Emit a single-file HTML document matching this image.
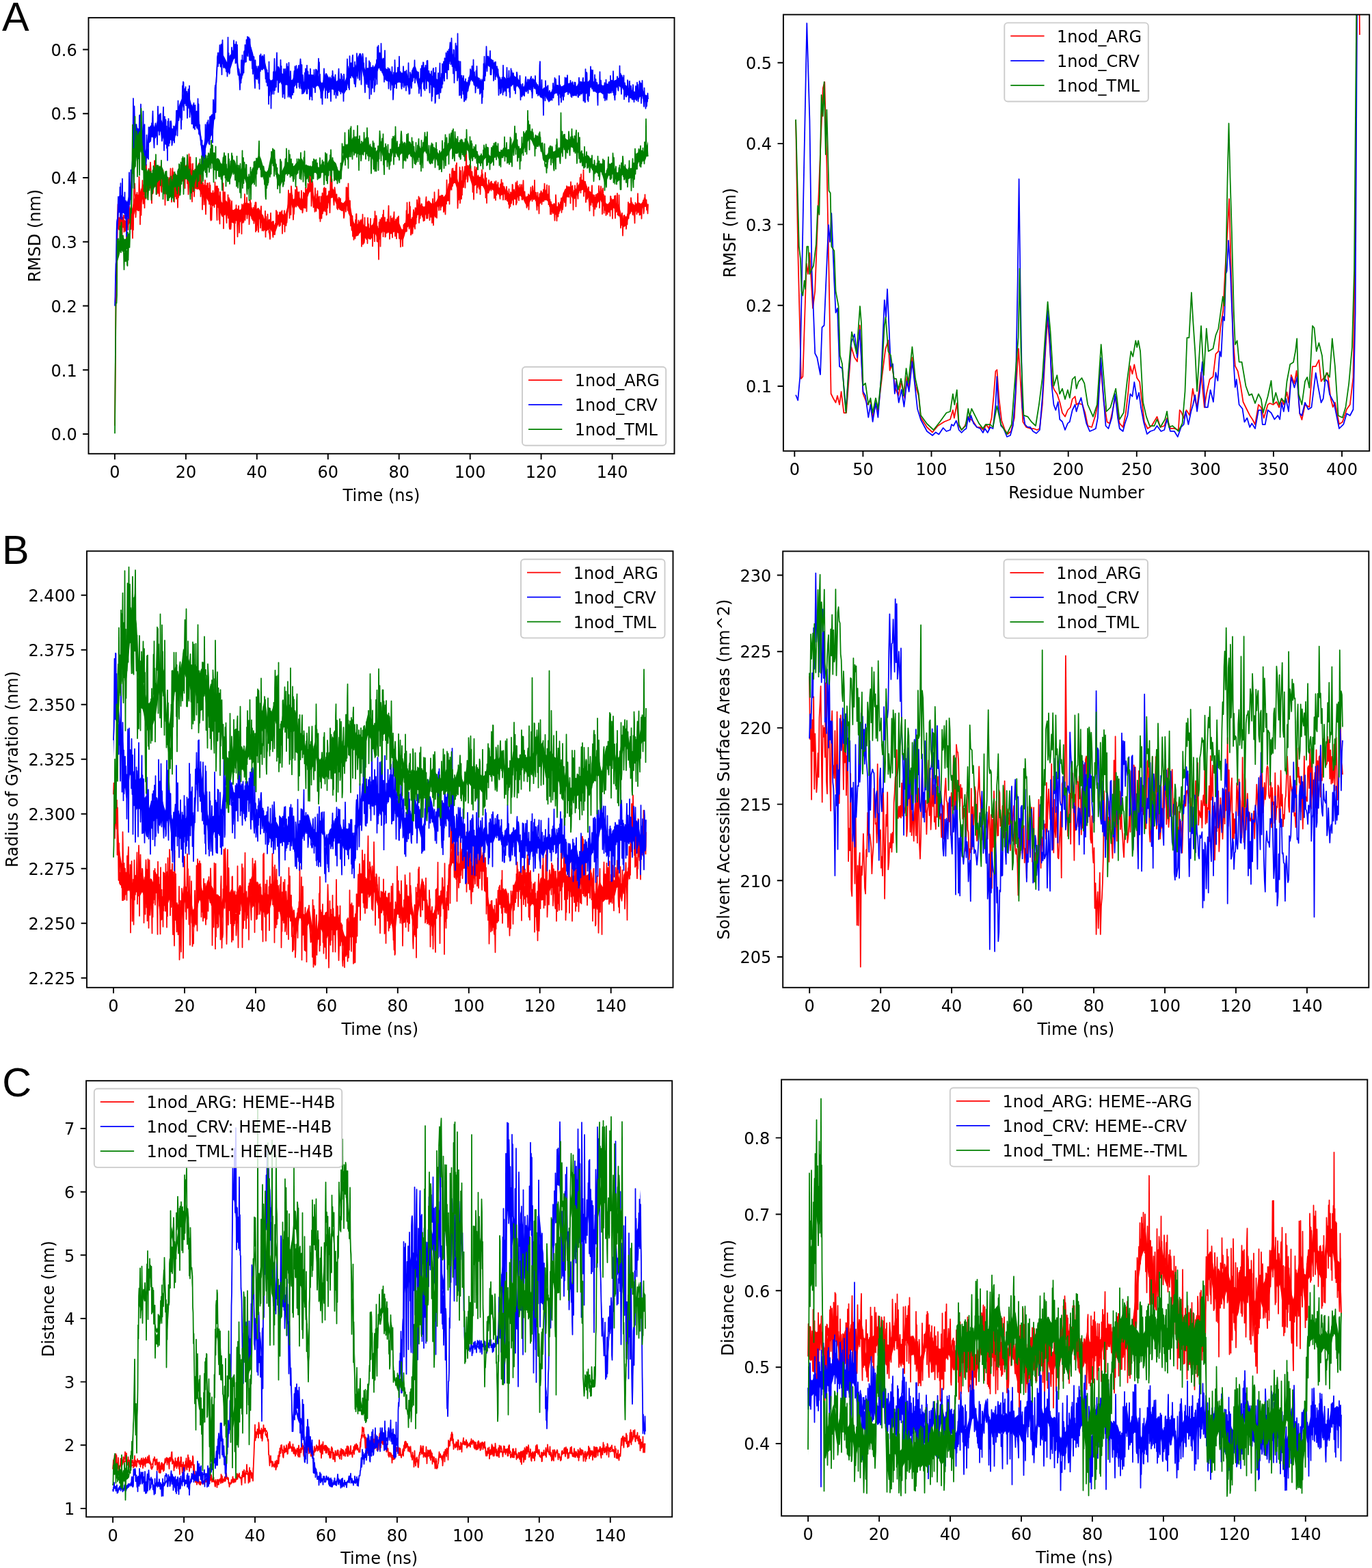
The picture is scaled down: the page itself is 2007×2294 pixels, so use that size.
<!DOCTYPE html><html><head><meta charset="utf-8"><title>MD analysis figure</title><style>html,body{margin:0;padding:0;background:#fff;overflow:hidden}svg{display:block}text{font-family:'DejaVu Sans', sans-serif;fill:#000}</style></head><body>
<svg width="2007" height="2294" viewBox="0 0 2007 2294">
<rect width="2007" height="2294" fill="#fff"/>
<text x="3.0" y="44.5" style="font-family:'Liberation Sans',Arial,sans-serif;font-size:59.4px">A</text>
<text x="2.9" y="824.7" style="font-family:'Liberation Sans',Arial,sans-serif;font-size:59.4px">B</text>
<text x="3.3" y="1603.9" style="font-family:'Liberation Sans',Arial,sans-serif;font-size:59.4px">C</text>
<clipPath id="cAL"><rect x="129.5" y="25.9" width="857" height="637.9"/></clipPath>
<g clip-path="url(#cAL)" fill="none" stroke-width="1.75" stroke-linejoin="round">
<path fill="#ff0000" d="M168 623.2l2-203.8 2-100.7 2 3.7 2 .3 2-2.8 2-.8 2 2.5 2 2.1 2-3.5 2-5.4 2-4.2 2-1.4 2-7.3 2-9.5 2-7.6 2-1.2 2 1.5 2-1.1 2-6.5 2-5.7 2-2.6 2-4 2-.7 2-1.8 2-2.2 2-2.4 2-2 2-1.8 2-1.3 2 .7 2 2.1 2 .5 2-2 2-1 2 2.9 2 5.4 2 2.7 2-1.8 2-1.5 2 1.4 2 .1 2-3.9 2-3.6 2 .8 2 3.5 2 .5 2-4 2-5.2 2-3.3 2-1.1 2-1 2-1.7 2-1.1 2 .3 2 1.2 2 3.5 2 5 2 3.7 2 1.4 2-.3 2 .4 2 1.9 2 4.6 2 4.1 2 1.9 2 .2 2 .7 2 3.5 2 4.6 2 2.1 2 .7 2 .6 2-2.3 2-.7 2 .1 2 5 2 4.8 2 5.9 2 1.8 2-2.5 2-1.7 2 1.8 2 3.9 2 3.9 2 2.7 2 1.6 2 .1 2-1.7 2-.9 2 1.6 2 1.8 2-1.1 2-4.1 2-4.8 2-1.9 2 1.3 2 .7 2-.6 2 1.5 2 3.9 2 3.7 2 2.2 2-.4 2-2.9 2-1.5 2 3.1 2 4.1 2 3.2 2 4.2 2 4.6 2 1.5 2-2.5 2-1.6 2 1.6 2 3.9 2 3.5 2-1.1 2-5.2 2-5.9 2-4.1 2-1.4 2 .7 2 1.4 2 1.9 2-4.7 2-7.1 2-10.5 2-9 2 .6 2 5.7 2 .9 2-3.4 2-2.4 2 1.4 2 3.5 2 1.9 2-.8 2-3.8 2-5.4 2-4.5 2-4.4 2-5.8 2-2.7 2 5.2 2 10.3 2 8 2 2 2-.7 2 1.8 2 3.7 2 2.3 2-.1 2-2.9 2-3.8 2-3.2 2-4.1 2-4.9 2-2.3 2-.7 2 1.1 2 4 2 5.5 2 4.1 2 2.6 2 2.5 2 1.7 2-.3 2-2 2-2.7 2-4.3 2-.4 2 8.4 2 13.2 2 10.9 2 6.1 2 2.7 2-.6 2-1.4 2-2.7 2-1.7 2 2.1 2 4 2 2.4 2 .3 2 .4 2 1.6 2 .7 2-2.8 2-5.4 2-2.1 2 3.7 2 4.8 2 1.8 2-3.6 2-5.9 2-3.2 2 1.5 2 1.7 2-.6 2-.2 2 1.4 2 1.2 2-.9 2-2.1 2-.3 2 1.2 2 .6 2 1.9 2 5 2 4.2 2-1 2-6.1 2-7.7 2-5.4 2-.4 2 3.3 2 2.3 2-2.6 2-6.7 2-6.8 2-3.8 2-1.2 2-.1 2 .2 2 1.2 2 1.5 2-1 2-4.2 2-3.7 2 .2 2 2.7 2 1.5 2-.3 2-.9 2-2 2-4.2 2-3.7 2-1.1 2 1.3 2 1.2 2-1.1 2-3.2 2-6.1 2-8 2-6.5 2-4.9 2-3.9 2-4.5 2-.1 2 6.7 2 8.3 2 4.8 2-.2 2-6.5 2-11 2-8.3 2-2.7 2 .5 2 1.5 2 6.3 2 6.5 2 3.5 2-.6 2-1.7 2-.2 2 1.2 2 .6 2-.6 2 .2 2 3.4 2 5.6 2 3.1 2 .6 2-1.7 2-2.3 2 .7 2 1 2 1.6 2 1.6 2 1.1 2 1.3 2 .7 2-1.3 2-1.8 2 1.3 2 5.7 2 4.2 2 1.2 2-.4 2-1.1 2-1.9 2-1.1 2 0 2-.9 2-2.5 2-2 2 .3 2 2.5 2 4.1 2 4.3 2 2.9 2 .2 2-2.7 2-3.9 2-2.7 2-1.2 2 .4 2 3.6 2 5.2 2 1.7 2-3.1 2-3.5 2-1.5 2 .4 2 .4 2-.2 2 2.8 2 6.4 2 5.7 2 2.6 2 .6 2 .7 2 1.4 2-.1 2-2.7 2-2.8 2-7.1 2-6.6 2-4.9 2-2.2 2-2.8 2 .2 2 .8 2 3.3 2 3.3 2-.1 2-3 2-3.4 2-3.2 2-2.7 2-.9 2-.6 2-1.7 2 .5 2 5.3 2 6 2 2.9 2 1.3 2 1.6 2 2.7 2 2.8 2 .7 2-3.1 2-4.6 2-.8 2 4 2 4.8 2 3.9 2 3.6 2 2.3 2-.3 2-1.3 2-1.9 2-1.9 2 .3 2 2.6 2 1.8 2 .4 2 3.5 2 8.6 2 8.9 2 2.7 2-1.4 2-3.2 2-4.9 2-6.8 2-5.5 2-1.9 2 1.7 2 .6 2-1.7 2-2.1 2-.4 2 1.3 2 .1 2-2.8 2-3.8 2-2.1 2 6.7 2 8.2 0 9.5 -2-7.8 -2-6.3 -2 2.2 -2 3.8 -2 3 -2-.2 -2-1.1 -2 .5 -2 2.2 -2 1.9 -2-.6 -2-1.5 -2 2 -2 5.3 -2 6.8 -2 4.8 -2 3 -2 1.2 -2-2.7 -2-8.9 -2-8.5 -2-3.4 -2-.3 -2-1.7 -2-2.5 -2-.1 -2 1.9 -2 2 -2 1.5 -2 .4 -2-2 -2-3.5 -2-3.8 -2-4.6 -2-3.8 -2 .9 -2 4.6 -2 3.1 -2-.8 -2-2.9 -2-2.7 -2-1.8 -2-1.3 -2-3 -2-6.1 -2-5.4 -2-.6 -2 1.6 -2 .5 -2 .8 -2 2.5 -2 3.1 -2 3.3 -2 2.9 -2 0 -2-3.4 -2-3.4 -2-.9 -2-.3 -2 3 -2 2.4 -2 5.1 -2 6.8 -2 7.4 -2 2.7 -2 2.7 -2 .1 -2-1.5 -2-.7 -2-.7 -2-2.7 -2-5.7 -2-6.4 -2-2.8 -2 .2 -2-.4 -2-.4 -2 1.6 -2 3.6 -2 3.1 -2-1.6 -2-5.2 -2-3.5 -2-.4 -2 1.2 -2 2.6 -2 3.9 -2 2.8 -2-.2 -2-2.9 -2-4.4 -2-4 -2-2.5 -2-.3 -2 2 -2 2.5 -2 .9 -2 0 -2 1.1 -2 1.9 -2 1.1 -2 .4 -2-1.2 -2-4.3 -2-5.8 -2-1.6 -2 1.7 -2 1 -2-.9 -2-1.4 -2-1.4 -2-1.8 -2-1.8 -2-1.2 -2-.9 -2 3.4 -2 2.8 -2 .6 -2-2 -2-5.6 -2-3.5 -2-.3 -2 .6 -2-.7 -2-1.2 -2 .1 -2 1.7 -2 .5 -2-3.5 -2-6.7 -2-6.3 -2 .4 -2 1.4 -2 4.6 -2 8.2 -2 10.8 -2 6.4 -2 .1 -2-4.8 -2-8.5 -2-6.8 -2-.1 -2 4.5 -2 3.8 -2 4.3 -2 5.9 -2 7.4 -2 5.6 -2 2.6 -2 .4 -2-1.7 -2-1.9 -2 .8 -2 3.9 -2 4.2 -2 2.2 -2 1 -2 .4 -2-1.4 -2-2.6 -2-.1 -2 3.8 -2 4.4 -2 1.1 -2-1.4 -2-1.1 -2-.2 -2 .2 -2 1.4 -2 3.9 -2 6.8 -2 6.9 -2 2.7 -2-2.2 -2-3.2 -2 .5 -2 5.5 -2 7.8 -2 6.1 -2 1.1 -2-4.1 -2-5 -2-1.7 -2-.5 -2-1.2 -2 .5 -2 2.1 -2 1 -2-1.1 -2-1.3 -2 .3 -2 .6 -2-1.5 -2-1.4 -2 3.2 -2 6 -2 3.5 -2-1.8 -2-4.9 -2-3.8 -2 2 -2 5.5 -2 2.8 -2-.7 -2-1.5 -2-.3 -2-.3 -2-2.3 -2-3.9 -2-2.1 -2 1.8 -2 2.8 -2 1.4 -2 .7 -2-3.5 -2-6.9 -2-11.6 -2-14 -2-9.1 -2-.4 -2 3.6 -2 1.9 -2 2.2 -2 .6 -2-1.4 -2-2.3 -2-2.4 -2-3.8 -2-5.3 -2-3.8 -2-.8 -2 .9 -2 2.6 -2 4.9 -2 4.1 -2 3.4 -2 3.8 -2 2.9 -2 .2 -2-2.2 -2-3.7 -2-1.8 -2 .8 -2-1.9 -2-8 -2-10.2 -2-5.2 -2 2.8 -2 5.9 -2 4.4 -2 4.5 -2 5.5 -2 3.9 -2 .8 -2-2.1 -2-3.6 -2-1.6 -2 2.3 -2 3.3 -2-1.1 -2-5.9 -2-.7 -2 8.8 -2 10.3 -2 7 -2 4.5 -2-1.8 -2-1.4 -2-.6 -2 1.5 -2 4.2 -2 5.9 -2 5.3 -2 1.2 -2-3.4 -2-3.8 -2-1.6 -2 1.6 -2 2.6 -2-1.4 -2-4.6 -2-4.1 -2-3 -2-3.9 -2-2.9 -2 1.7 -2 3.2 -2 .7 -2-2 -2-3.5 -2-3.6 -2-1.3 -2 .9 -2-.5 -2-1.1 -2 2.2 -2 5 -2 4.3 -2 1.4 -2-1.6 -2-1.4 -2 1.2 -2 1.9 -2 .1 -2-1.5 -2-2.5 -2-3.7 -2-3.7 -2-1.6 -2 1.9 -2 2.6 -2-1.5 -2-5.8 -2-4.6 -2-5.8 -2-.9 -2 0 -2 2.3 -2-.6 -2-.7 -2-2.1 -2-4.6 -2-3.5 -2-.7 -2-.2 -2-1.9 -2-4.1 -2-4.6 -2-1.9 -2-.4 -2 .3 -2-1.4 -2-3.7 -2-5 -2-3.5 -2-1.3 -2-.3 -2 1 -2 1.7 -2 .9 -2 1 -2 3.2 -2 5.2 -2 3.9 -2-.5 -2-3.5 -2-.9 -2 3.6 -2 3.8 -2-.2 -2-1.5 -2 1.5 -2 1.7 -2-2.7 -2-5.4 -2-3 -2 1 -2 1.9 -2-.5 -2-2.3 -2-.7 -2 1.2 -2 1.8 -2 1.9 -2 2.3 -2 2.2 -2 1.7 -2 .7 -2 6.2 -2 4.7 -2 7.9 -2 7.4 -2 .7 -2-1.9 -2 .9 -2 6.2 -2 7.1 -2 4.8 -2 0 -2 2.8 -2 3.9 -2 2.1 -2-1.5 -2-1.8 -2 1.4 -2 3.4 -2 .4 -2-3.1 -2 97.7 -2 197.7z"/>
<path stroke="#ff0000" d="M168 622.7l.5-55.3 .5-52.8 .5-67 .5-16 .5-37.7 .5-22.5 .5-21.7 .5-29.1 .5-21.6 .5 29.4 .5 3.7 .5 3.2 .5-16.8 .5 15.8 .5-1.7 .5-23 .5-5.4 .5 29.3 .5-16.7 .5 20.6 .5 11.5 .5-29.6 .5-1.2 .5 7.2 .5 7.4 .5-17.8 .5 24.4 .5-1.9 .5-2.7 .5-11.1 .5 14.2 .5-.4 .5-19.9 .5 31.5 .5-24.5 .5 6 .5-10.6 .5 8.7 .5 7.7 .5-23.7 .5-11.5 .5 13.3 .5-11.7 .5 6 .5 7.7 .5 .5 .5 18.4 .5-31.7 .5 17.8 .5-14.2 .5 27.2 .5 14 .5-33.5 .5 21.4 .5-39.8 .5-21.7 .5 2.7 .5-9.1 .5 10.8 .5 12.7 .5 26 .5-9 .5-4.6 .5-17.1 .5-5.5 .5 15.2 .5 2.5 .5 2.8 .5 2.5 .5-9.7 .5-36.4 .5 15.3 .5 4.8 .5 49.6 .5-45.1 .5 19.1 .5 12.5 .5-23.3 .5-14.7 .5 .6 .5-13.4 .5 21.6 .5 12.3 .5-10.1 .5 1.8 .5-2.3 .5 16.8 .5-39.1 .5 11 .5 7.5 .5 7.3 .5-49.9 .5 24.5 .5 4 .5-12 .5 25.8 .5-9.3 .5-9.2 .5-18 .5 3.7 .5 4.2 .5 19.7 .5-24.2 .5-12.6 .5 8.2 .5 11.7 .5 31.6 .5 8.4 .5-39.9 .5 19.8 .5 6.1 .5-2.1 .5-20.4 .5-17.2 .5 11.3 .5-19.8 .5 29.9 .5 7.8 .5-37.9 .5 26.7 .5 5.5 .5 14.3 .5 2.4 .5-7.7 .5-21 .5 4.8 .5 22.7 .5-26.3 .5 7.8 .5 22.7 .5-21.3 .5-22.3 .5 15.1 .5 13.2 .5-12.2 .5 19.6 .5 2.1 .5-27.4 .5 3 .5 6.9 .5-14.7 .5 24.4 .5-6.7 .5 15.4 .5-19.1 .5-3.3 .5 40.3 .5-39.5 .5 4.1 .5-2.5 .5 5.7 .5-9.7 .5 12.2 .5-10.2 .5 3.9 .5 11.4 .5 5.2 .5-3.1 .5-17.3 .5 17.2 .5-7.2 .5 .4 .5-24 .5 35.1 .5-12.7 .5 26.5 .5-17 .5-27.3 .5-4.9 .5 36.5 .5-31.1 .5 22.7 .5-14.9 .5 36 .5-29.8 .5 22.1 .5-1.9 .5-25.9 .5 2.9 .5 28 .5-21.6 .5-12.8 .5 31.2 .5 16 .5-35.6 .5 20.9 .5-24.7 .5 21.7 .5-25.4 .5 22.5 .5-13.2 .5-12.2 .5 5.3 .5-12.6 .5-9.6 .5 .5 .5 14.8 .5-15.4 .5 22.6 .5 1.3 .5-1 .5-15 .5 8.2 .5-1.5 .5 20.2 .5-33 .5 6 .5 1.9 .5 1 .5-9.6 .5 1.7 .5 25.1 .5-25.5 .5 24 .5 17.4 .5-11.5 .5-47.4 .5 40.2 .5-4.2 .5 1.4 .5-33.1 .5 37.4 .5-27.3 .5 38.2 .5-2.2 .5 19.2 .5-39.3 .5-16.5 .5 40.9 .5-1.7 .5-18.6 .5 27.7 .5-9.8 .5-30.2 .5 14.8 .5-1.3 .5 5.2 .5 4.6 .5-13.9 .5 7.6 .5 12.1 .5-10.3 .5-2.9 .5-.2 .5 3.3 .5-27.8 .5 32.8 .5-17.6 .5 18.6 .5-23.3 .5 38.3 .5-9.4 .5-23.4 .5 25.7 .5-14.5 .5 40.6 .5-19.6 .5-19.4 .5 16.2 .5-3.7 .5 19.2 .5-13 .5 2.5 .5-25.3 .5 29.6 .5 20.3 .5-22.4 .5-10.1 .5 3.8 .5-16.5 .5 18.6 .5-18.7 .5 18.9 .5-5.5 .5-5.7 .5 22.9 .5-31.3 .5 23 .5-19.4 .5 49.2 .5 2.4 .5-17.4 .5 16.5 .5-20 .5-.6 .5-14.8 .5-7.1 .5 15.9 .5-10.5 .5 1.1 .5 17.4 .5-14.3 .5-22.3 .5 20.9 .5-8.9 .5 7.2 .5-13.3 .5 37.6 .5 12 .5-49.6 .5 30.4 .5 .3 .5-27.1 .5 22.1 .5 23.5 .5-8.8 .5 14.6 .5-46.5 .5 8.9 .5 19.4 .5 2.5 .5-4.5 .5-6 .5 .2 .5-3.2 .5 17.8 .5-47.8 .5 66.1 .5-36.6 .5-15.9 .5 32.3 .5-33.1 .5 29.5 .5-13.3 .5 16.6 .5 3.5 .5 8.9 .5-28.9 .5 4.3 .5 5.5 .5-22 .5 33.8 .5-6.5 .5-22.9 .5 42.3 .5 3.3 .5-42.6 .5 31.1 .5 11.5 .5-6.1 .5-28.6 .5-6.2 .5 20.8 .5-5.8 .5 8 .5-1.5 .5 9.9 .5-17.4 .5 6 .5 42.8 .5-43.3 .5 13 .5-7.5 .5-1.4 .5-17.7 .5 22.1 .5-8.7 .5 13.6 .5 19.2 .5-27.9 .5 9.3 .5-26.5 .5 17.6 .5 21.7 .5-24.2 .5-8.8 .5 12.2 .5-6.4 .5-1.7 .5-2.9 .5 33.4 .5-43.1 .5 5.5 .5-3.6 .5 25 .5-23.1 .5 21.9 .5-17 .5-3.1 .5-20.6 .5 38.1 .5-9.3 .5-1.5 .5-7 .5-3.8 .5-11.6 .5 30.9 .5-9.5 .5-8.8 .5-3.9 .5 10 .5-3 .5 23.6 .5-11.6 .5-18.1 .5-6.1 .5 12.5 .5-8.1 .5 14.2 .5 5.4 .5 4 .5-2 .5-7.1 .5 11.1 .5-18.7 .5 11.2 .5 12 .5-6.5 .5-19.8 .5 1.6 .5-6 .5 42.9 .5-43 .5 17.1 .5 23.8 .5-10.4 .5 2.2 .5-23.1 .5 15 .5 18.7 .5-27.9 .5 6.1 .5-7.9 .5 4.7 .5 5.8 .5 13.2 .5-26.3 .5-5.4 .5 17.9 .5 2.5 .5 15.3 .5-7.2 .5-14.8 .5 14.9 .5 7.5 .5-8.6 .5-6.1 .5 13 .5-10.8 .5-16.6 .5 38 .5-29.9 .5 11.3 .5 .1 .5-.6 .5 0 .5-14.1 .5 21.9 .5-6.5 .5-.4 .5 11.6 .5 .3 .5 3 .5 6.5 .5-15.9 .5-22.3 .5 20.7 .5-1.3 .5 1.7 .5-6.5 .5-2.2 .5 20.1 .5 2.8 .5-23.1 .5 19 .5-8.1 .5-2.9 .5 11.3 .5-9.4 .5-6.9 .5 5.4 .5-24.5 .5 14.2 .5 .1 .5-12.1 .5 16.2 .5-.3 .5-10.8 .5 3.8 .5 8.6 .5 3.6 .5-20.6 .5 11.9 .5 7.6 .5-11.8 .5-8.1 .5 .3 .5 5.2 .5-7.5 .5 33.6 .5-27.8 .5 10.7 .5-1.8 .5 5.4 .5-10.6 .5-9.4 .5 30.8 .5-19.8 .5 1 .5-.4 .5 10.3 .5-7 .5 2.7 .5-6 .5-9.8 .5-1.5 .5-13.9 .5-16.2 .5 16.5 .5-11.9 .5 36.2 .5-10.1 .5-5.7 .5-20.6 .5 31.3 .5-41.8 .5 7.3 .5 6.5 .5-.6 .5 13.8 .5 1.6 .5 20.5 .5-10.6 .5 2.4 .5-10.1 .5-7.5 .5-7.3 .5-10.8 .5 6.7 .5 5.1 .5 13.2 .5-29.7 .5 3.8 .5 19.4 .5-14.9 .5 17.6 .5-8.3 .5-3.2 .5-6.3 .5 16 .5-7 .5 2 .5 .1 .5 10.5 .5-.5 .5-23.1 .5 18.9 .5 6.4 .5 7.2 .5-4 .5-8.1 .5-17.9 .5 3.3 .5 19.3 .5-21.2 .5 19.8 .5 1.8 .5-29.8 .5 17.3 .5-7.8 .5 25.2 .5-15.6 .5-17.5 .5 9.9 .5-17.6 .5 7.9 .5 2.8 .5-2.2 .5 .7 .5-15.6 .5-12 .5 18 .5-5.9 .5 3.5 .5 35.8 .5-9.8 .5-13.7 .5-12.6 .5 4.3 .5 22.6 .5 11 .5-14.1 .5 6.9 .5 2.9 .5 10.8 .5-34.6 .5 24.6 .5 2.9 .5 6.3 .5-6.9 .5-18 .5 6.1 .5-11 .5 20.7 .5 .6 .5 4.5 .5-16.6 .5-1.1 .5 32.4 .5-14.9 .5 19.2 .5-14.8 .5-21.8 .5 27 .5 5.2 .5-19.7 .5-17.4 .5 30 .5-9.9 .5 4.2 .5-30.8 .5 31.2 .5-33 .5 15.7 .5 19.4 .5-32.4 .5-1.3 .5 15.6 .5 23.4 .5-1.2 .5-26.6 .5 17.6 .5-5.9 .5-4.8 .5-.2 .5-13.7 .5 16.3 .5 1.8 .5 13.3 .5-16.6 .5-37 .5 12.1 .5 17 .5-3.3 .5-21.6 .5 19.1 .5-2.4 .5 3.6 .5-.5 .5 11.8 .5 6.6 .5-7.7 .5-18.2 .5 4 .5 3.5 .5 7.8 .5-2.5 .5 2.1 .5-4.7 .5 20.5 .5-.2 .5 1.9 .5-10 .5 6.1 .5-13.3 .5-.4 .5 5.4 .5 11.9 .5-6.7 .5-9.2 .5 12.7 .5 3.7 .5-2.2 .5-7.9 .5 7.2 .5-4.7 .5 .7 .5 2 .5 7.6 .5 9.6 .5-3.2 .5-9.4 .5-9.9 .5 .3 .5-.3 .5 13.2 .5-35.5 .5 24.7 .5-24.3 .5 19.7 .5 13.5 .5-24.3 .5-15 .5 40.3 .5 3.9 .5-9.3 .5 11.4 .5-21.2 .5 26.7 .5 10.1 .5-9.3 .5-.9 .5 15.8 .5 1.3 .5-21.4 .5 29.8 .5-5.9 .5-5.9 .5 16.9 .5-3.7 .5-1.3 .5-16.5 .5 19.5 .5-27.1 .5 14 .5-22.5 .5-.3 .5 30.3 .5-7.7 .5 2.1 .5 6.8 .5-4 .5-18.1 .5 12.9 .5-2.7 .5-7.1 .5 4.9 .5-4 .5-4.3 .5 4.3 .5 8.2 .5 26.1 .5-39.8 .5 19.6 .5-26.7 .5 43.7 .5-25.9 .5 7.5 .5 16.7 .5-3.4 .5-34 .5 28.8 .5-10.7 .5 11.9 .5-6.4 .5 8 .5-6.1 .5-6 .5 18.3 .5-37.4 .5 15.7 .5-6.8 .5 11.6 .5-3.5 .5 4.3 .5-4.4 .5 .4 .5-16.2 .5 21.7 .5 4.1 .5-13.2 .5-1.9 .5-.9 .5 30.6 .5-22.1 .5 1.2 .5-10.5 .5-3.5 .5-5.5 .5 33.4 .5-44 .5 28.3 .5-3.3 .5-2 .5-16.7 .5 5.8 .5 31.8 .5-22.1 .5 22.7 .5-2.3 .5-.9 .5 29 .5-54.3 .5 9.5 .5 15 .5-28.5 .5 39.4 .5-32.5 .5 5.3 .5-14.8 .5 18.1 .5-16.2 .5 6.1 .5-12.6 .5 32.2 .5-38.6 .5 29.2 .5-2.4 .5 3.3 .5-19.5 .5 28.5 .5-.8 .5-11 .5 2 .5-6.7 .5 10.7 .5-20.1 .5 18.5 .5-2 .5-24.5 .5-11.8 .5 29.8 .5-.1 .5 19 .5-15.2 .5-7.1 .5-11.3 .5 17.1 .5-6.6 .5-7.1 .5 12.8 .5 15.2 .5-13.4 .5-15.7 .5 17.7 .5-19.3 .5-6.6 .5 27.2 .5-13.8 .5 22 .5-10.3 .5-14.4 .5 13.8 .5 14.4 .5-19.2 .5-11.3 .5 5.4 .5-1.9 .5-4.6 .5-1.1 .5 22.8 .5 9.7 .5-18.1 .5 16.1 .5 2.9 .5 11.4 .5-22.8 .5-.9 .5 10.9 .5-3.5 .5 2.9 .5 12.6 .5-22.5 .5 7.4 .5-16.4 .5 9.1 .5-8.2 .5-2.9 .5 4.9 .5-4.8 .5 8.3 .5 3.6 .5-30.7 .5 29.9 .5-41.8 .5 30.1 .5 5.2 .5-17.3 .5 5.3 .5-6.5 .5 21.5 .5-38.9 .5 17.4 .5-11 .5 27.2 .5 14.4 .5-.8 .5-6.3 .5-5.3 .5-13 .5 23.5 .5-8.5 .5-19.3 .5-7 .5 6.1 .5 18.9 .5 .2 .5 2.6 .5-30.6 .5 3.5 .5 19.8 .5-15.1 .5 5.7 .5-25.7 .5 10.9 .5 3.9 .5-4.3 .5-.9 .5-14.5 .5 38.6 .5-17.6 .5-18.9 .5 29.9 .5-11.8 .5 7.7 .5-10.5 .5-6.7 .5 .5 .5 13.2 .5 5.4 .5-2.9 .5 2.2 .5 6.8 .5-10.3 .5 8.3 .5 1.1 .5-9.7 .5-4.8 .5-5 .5-9.8 .5-5.1 .5 31.4 .5-16.2 .5-7.1 .5 23.2 .5-7.5 .5-10.6 .5 10.5 .5-13.2 .5 6.5 .5 17 .5-7.9 .5-14.1 .5 11.4 .5 6 .5-13.9 .5-3 .5 25.5 .5-23.9 .5-11.3 .5 16 .5 22.6 .5-17.6 .5 3.4 .5-34.1 .5 17.4 .5 18.7 .5-17.8 .5 18 .5-9.7 .5-1.8 .5 12.8 .5-24.5 .5-.8 .5 5 .5 .2 .5-21.3 .5 30.4 .5-11 .5-4.3 .5 8 .5-10.9 .5 17.6 .5-12 .5 7.8 .5-17.4 .5 7.3 .5 7.9 .5-14.9 .5 3.4 .5 7.1 .5 13.8 .5-4.4 .5 1.5 .5-7.8 .5 6.9 .5 7.3 .5-18.2 .5 2.3 .5 .6 .5-35.1 .5 23 .5 5 .5 2.5 .5-16.3 .5 15.7 .5-23.9 .5 4.7 .5 24.5 .5-43.8 .5 16.7 .5-2.1 .5-.4 .5-7.6 .5 16.4 .5-26 .5-4.8 .5 25.2 .5-25.8 .5 21.7 .5-6.3 .5-11.4 .5 4.4 .5 3.4 .5 8.2 .5-15.3 .5 7.4 .5-16.7 .5 19.1 .5-22.5 .5 30.2 .5-4 .5 40.2 .5-10.2 .5-20 .5 17.9 .5-9 .5-20.9 .5-17.8 .5 52.6 .5-11.2 .5-36.2 .5 38.4 .5 2.8 .5-26.2 .5 20.3 .5-41.1 .5 20.3 .5 1 .5 8.7 .5-8.5 .5-5 .5 3.3 .5-20.3 .5 31.1 .5-28.4 .5 15.6 .5-41.9 .5 26.4 .5 10.9 .5-2.1 .5 10.9 .5-3.7 .5-19.4 .5 12.4 .5-4.2 .5-8.4 .5-1.8 .5 16.4 .5-6.9 .5-7.6 .5 15.9 .5 5 .5 .2 .5-13 .5 7.8 .5 22.2 .5-23 .5 5 .5 28.7 .5-21.6 .5-9.8 .5-16.5 .5 24.5 .5-19.3 .5 14.8 .5-9.6 .5-9.1 .5 37.1 .5-19.5 .5 11.7 .5-1.7 .5-16.2 .5 9.5 .5-4.7 .5 15 .5-5.8 .5-8.8 .5 22.6 .5-13 .5-.8 .5-14.3 .5 13.3 .5-21.2 .5 21.9 .5-15.5 .5 13.2 .5-4.5 .5 6.7 .5 2.7 .5-3.5 .5 1.4 .5-14.9 .5-3.3 .5 36.8 .5-7.1 .5-21.7 .5 36.5 .5-27.3 .5 12.6 .5-1 .5-3.4 .5 4.3 .5-18.8 .5 11.6 .5-2.6 .5 2.2 .5-3.7 .5-3.6 .5-1.2 .5 12.7 .5-13.3 .5 9.7 .5 .1 .5-3.3 .5 4.4 .5 1.3 .5-8.3 .5 7.4 .5 13.2 .5-23.9 .5 6.8 .5-3.4 .5 23.3 .5-27.9 .5 12.2 .5 8.2 .5-15 .5 6.5 .5-4.6 .5-5.2 .5 11.3 .5 5.3 .5-7.5 .5 5.3 .5 4.9 .5 4.7 .5-21.6 .5 16.5 .5-11.4 .5-11.8 .5 9.5 .5 12.4 .5-3.5 .5-13.4 .5 24.7 .5-11.2 .5-4.2 .5-3.9 .5 9.8 .5-6.4 .5 15.8 .5-6.2 .5 4.5 .5-7.6 .5-10 .5 20.2 .5-13.9 .5 9.2 .5 1.3 .5-7.1 .5 16 .5-22.2 .5 27.9 .5-20.1 .5 14.7 .5 3 .5-20.9 .5 .9 .5 15.7 .5-7.7 .5-1.4 .5-18.8 .5 1.3 .5 20.4 .5 8.3 .5-20.8 .5-1.6 .5 10.2 .5 2.5 .5 1 .5-9.6 .5-14.4 .5 32.3 .5-19 .5 16.4 .5-31.6 .5 22 .5-9 .5-6.3 .5 19 .5 2.5 .5-18.4 .5 11.5 .5-16.6 .5 4.3 .5 3.7 .5-.6 .5 9.8 .5-17 .5 21.5 .5 .7 .5-10.3 .5-8.3 .5-9.7 .5 22.6 .5-5.2 .5 9 .5-10 .5 11.1 .5 .3 .5 1.5 .5 3.3 .5 .6 .5 6.8 .5-16.6 .5 14.3 .5-5.6 .5-5.9 .5-6.1 .5 22.6 .5-12.6 .5-8.2 .5 4.6 .5-1.6 .5-5.9 .5-9 .5 13.9 .5-3.6 .5-1.6 .5 11.6 .5-22.2 .5 3.2 .5 10.3 .5 6.3 .5-2.1 .5 1.3 .5-27.4 .5 26.2 .5 .1 .5 3.5 .5-11.9 .5 12.6 .5 6 .5 7.1 .5-11.6 .5-14 .5 13.7 .5 5.7 .5-1.3 .5 12.7 .5-20.6 .5-8.5 .5 2.6 .5 11 .5-14.5 .5-3.1 .5 1.2 .5 18.4 .5-9.4 .5-5.6 .5 10.6 .5-1.7 .5-15.6 .5 17.1 .5-4.9 .5-20.9 .5 8.2 .5 13.3 .5 1.9 .5-7.2 .5-6.7 .5 11.5 .5-19 .5 22.2 .5-5.9 .5 2 .5-4.6 .5 14.9 .5-27.4 .5 15.1 .5 15 .5-10 .5 21.6 .5-8.3 .5-9.9 .5 18.2 .5-10.3 .5 6.8 .5-10.6 .5 .4 .5 12.4 .5-5.5 .5-7.9 .5-1 .5 14.4 .5 10.5 .5-23.9 .5 14.5 .5-28.1 .5 9.6 .5 19.6 .5 8.8 .5-14.2 .5 4.4 .5-3 .5 6.6 .5-20.4 .5 15.5 .5-10.9 .5 .1 .5 2.4 .5-2.6 .5-5.8 .5 2.9 .5-8.3 .5 21 .5-9.1 .5-12 .5 16.8 .5-4.6 .5-8.9 .5-10.8 .5 5.8 .5 1.6 .5 6.4 .5-14.8 .5-4 .5 24.5 .5-8.3 .5-10 .5-11.3 .5 11.4 .5 4.4 .5-2.9 .5 .7 .5-6.8 .5 9.5 .5-15.1 .5 1.5 .5-.2 .5-.9 .5 23.5 .5-31.3 .5 17.9 .5-9.8 .5-1.3 .5 12.8 .5-14.1 .5 13.8 .5 21.6 .5-21.3 .5 5 .5-12.2 .5 11.5 .5-18.6 .5 14.5 .5-3.8 .5 20.2 .5-21.6 .5-3.4 .5-2.7 .5-6.7 .5 17.4 .5 5.6 .5-17.8 .5 9.3 .5-10.7 .5 6.5 .5 .1 .5-18.3 .5 6 .5 16.1 .5-27.2 .5 18.2 .5-3.5 .5-5.8 .5 9.1 .5 2.2 .5 1.8 .5-28.3 .5 38.6 .5-21.2 .5 14.8 .5-11.1 .5-4 .5 5.9 .5 24.4 .5-5.6 .5-17.2 .5 7.4 .5 10.6 .5-3.9 .5-3.8 .5-1.6 .5-8.2 .5 19 .5 4.1 .5 11.8 .5-27.8 .5 12.4 .5-6.6 .5 13.5 .5-13.4 .5-5.2 .5-10.1 .5 25.1 .5-5 .5 10.6 .5-16.5 .5 30.2 .5-30.3 .5 13.3 .5-.3 .5 7.6 .5-12.8 .5-7.7 .5-.9 .5 18.3 .5-8.1 .5 1.6 .5-13.2 .5 8.8 .5-.2 .5 2.8 .5-22.8 .5 6.6 .5 25.6 .5-22.1 .5 3.5 .5-2.6 .5-10.3 .5 5.4 .5 16 .5-9.4 .5 28.7 .5-34.6 .5-3.3 .5 16.7 .5-7.3 .5 26.9 .5-17.1 .5 10.2 .5-18.2 .5 21.4 .5 .6 .5 6.6 .5-9.4 .5 3.4 .5-3.2 .5 7.5 .5-13 .5 9.1 .5-11 .5 11.9 .5-9.7 .5-3.9 .5-.6 .5 19.8 .5-28.9 .5 .3 .5 19.2 .5-15.7 .5 4.3 .5-.7 .5 25.2 .5-27.4 .5-.5 .5 3.2 .5 6 .5 3 .5-17.3 .5 18.2 .5 14.3 .5-33.2 .5 21.9 .5 2.1 .5-5.4 .5-3 .5-18.8 .5 31.4 .5-13.5 .5 1.5 .5 13.4 .5-30.2 .5 21.1 .5 7.6 .5 3.1 .5 1.3 .5 15 .5-12.9 .5 8.7 .5 .1 .5-17.7 .5 7.3 .5 25.7 .5-20 .5 1.9 .5-11 .5 8.3 .5-9.1 .5 5.7 .5 9.7 .5-13.1 .5 1.1 .5 16.7 .5-8.8 .5-.7 .5 3 .5-15.4 .5-.2 .5-16.9 .5 23.8 .5-10.4 .5 .2 .5-11.6 .5 14.6 .5-.9 .5-5.2 .5-17 .5 6.7 .5 7.4 .5-7.1 .5 11.6 .5 6.2 .5-15.6 .5 5.6 .5-4.3 .5 15.6 .5-1.4 .5 12.4 .5-21.1 .5-8.9 .5 11.4 .5-6.4 .5 3.2 .5 8.8 .5-13.9 .5 8.6 .5-25.1 .5 27.8 .5-8.1 .5-3.2 .5-2.3 .5 17.3 .5-16.1 .5 15.7 .5-15.2 .5 4.7 .5 2.4 .5 13.8 .5-15.9 .5-.9 .5-3.5 .5-3 .5-3.5 .5 19.4 .5-3.7 .5-19 .5 6.6 .5-11.7 .5 17.4 .5-.7 .5-3.2 .5-5.8 .5 14.5 .5 .7 .5-4.4 .5 9.3 .5-14.1"/>
<path fill="#0000ff" d="M168 444.8l2-90.2 2-46.8 2-21.7 2 2.1 2-.3 2-.9 2 2.3 2 4.9 2 1.2 2-7.8 2-12.7 2-24.3 2-32 2-21 2-17.3 2 4.6 2 3.3 2-.4 2-2.8 2 4.2 2 13.5 2 18 2-3.4 2-16.4 2-14.5 2-2.3 2-1.8 2 1.4 2 2 2-1 2-7.9 2-6.9 2-.1 2 5.3 2 4.7 2 9.4 2 5 2-2.1 2-4.5 2-1.5 2 .6 2 1.2 2 .2 2-4.3 2-9.6 2-10.8 2-9.5 2-5.4 2-4.2 2-7.5 2-2.3 2-1.1 2-.3 2 7.7 2 4.4 2 7.4 2 3.3 2 5.1 2 4.5 2 1.2 2 5 2 9.4 2 15.3 2 15.2 2 1.1 2-11.9 2-10.3 2-5.3 2-5.2 2-3.7 2-4.1 2-8.5 2-21.8 2-31.8 2-33.6 2 .2 2 .5 2 .6 2 1.9 2 3.3 2 4 2 3.9 2 1.7 2-2.7 2-6.2 2-6.6 2-4.9 2-1.1 2 7.2 2 13.1 2 13.2 2 3.8 2-8.3 2-11.6 2-9.4 2-6.3 2-6.3 2-4.3 2 2.1 2 6.4 2 6.9 2 9.6 2 9.1 2 4.2 2-2 2-7.8 2-7.7 2-2.6 2 3.2 2 7.4 2 9.2 2 8.5 2 6.2 2 2.7 2-.5 2-2.8 2-6.2 2-6.7 2-4.3 2 .2 2 4.7 2 4.7 2 1.4 2-.5 2-.3 2-.1 2 1.4 2 4.2 2 4.4 2-1 2-6.7 2-5.2 2-.3 2 .2 2-.9 2 2.9 2 8 2 5.8 2-2.4 2-6.3 2-2.8 2 .5 2-.1 2 0 2 2 2 1.5 2-1.7 2-2.5 2 1.1 2 5.9 2 5.9 2-.5 2-7.1 2-6.2 2-.1 2 4.3 2 3.2 2 0 2-1.1 2 1 2 3 2 1.4 2-1.8 2-1.9 2 .5 2 2.4 2 2.4 2-.9 2-4.5 2-5.3 2-9.3 2-5.7 2-1 2 2.5 2 2.3 2-1.9 2-6.8 2-8.1 2-4.4 2 1 2 6.5 2 9.6 2 7 2 1.4 2-2.4 2-2.7 2-.2 2 1.4 2-.1 2-2.3 2-4.6 2-6 2-4.7 2-.9 2 4.1 2 6.9 2 5.3 2 2.8 2 1.7 2 .4 2 0 2 2.8 2 3.9 2 .6 2-2 2-1.3 2-.8 2-.4 2 .9 2 1.1 2-.8 2-1.9 2 .1 2 4.9 2 5.6 2-1.2 2-7.7 2-6.4 2-2.7 2 1.3 2 6.6 2 8.4 2 2.6 2-4.8 2-5.6 2-3.9 2-1.4 2 1.3 2 2.6 2 2.5 2 2.4 2 2.2 2 1.5 2 1.1 2 1.5 2 1.5 2-2.6 2-.2 2-1.7 2-7.6 2-9.8 2-6.5 2-4.4 2-4.5 2-3.5 2 .1 2 2.3 2 5.2 2 1.4 2 3.8 2 8.3 2 9.9 2 3.6 2 2.7 2 2.8 2 3.7 2 2.4 2-2 2-6.7 2-8.1 2-3.3 2 3.3 2 5.2 2 1.9 2-.1 2 1.7 2 3.3 2 2.3 2-4.5 2-11.4 2-12.1 2-10.5 2 2.4 2 1.7 2 .8 2 1.8 2 3.1 2 2.9 2 3.3 2 5.6 2 7.8 2 5.7 2 .2 2-2.8 2-.8 2 2.8 2 1.8 2-.5 2-3.8 2-4 2-.5 2 2.2 2 2.1 2 1.1 2 1.6 2 3.8 2 5.9 2 3.9 2-1.4 2-4.2 2-2.7 2-.5 2-.4 2-1.6 2-1.8 2-.6 2 1.2 2 2.9 2 3.6 2 3.6 2 3.5 2 1.5 2-1.7 2-2.3 2 1 2 4.1 2 3.1 2 .2 2-1.6 2-3.3 2-4.2 2-2.6 2-.4 2 .3 2 .8 2 .9 2 .1 2-1.2 2-1.6 2-1.1 2-.8 2 .4 2 1.8 2 2.6 2 1.3 2-.2 2-.4 2-1.6 2-3.7 2-2.8 2 .1 2 1 2-.3 2-.7 2 .3 2 .1 2-2 2-2.3 2 .7 2 2.8 2 2.2 2 1.9 2 1.3 2-.7 2-1 2 1.4 2 1.6 2-1.5 2-2.2 2 .6 2 1.8 2 0 2-1.7 2-2.5 2-1.6 2-.8 2-1.3 2-1.9 2-1 2 .9 2 2 2 3.8 2 3.2 2 1.9 2 1.9 2 2.6 2 1.9 2 .2 2 1 2 1.4 2-.1 2-1.1 2-.8 2-1.3 2-1.7 2 1 2 4.2 2 4.3 2 1 2-2.8 0 10.7 -2 2.9 -2-.8 -2-4.2 -2-4.1 -2-.8 -2 1.8 -2 1.4 -2 1 -2 1.2 -2 .3 -2-1.3 -2-.9 -2 0 -2-1.9 -2-2.7 -2-1.9 -2-2 -2-3.2 -2-3.9 -2-2 -2-.7 -2 1 -2 2 -2 1.4 -2 .9 -2 1.7 -2 2.7 -2 1.7 -2-.1 -2-1.7 -2-.6 -2 2.1 -2 1.6 -2-1.7 -2-1.4 -2 1 -2 .8 -2-1.4 -2-1.9 -2-2.2 -2-2.7 -2-.7 -2 2.3 -2 1.9 -2-.1 -2-.2 -2 .7 -2 .2 -2-1 -2-.1 -2 2.8 -2 3.7 -2 1.6 -2 .4 -2 .2 -2-1.3 -2-2.5 -2-1.8 -2-.5 -2 .8 -2 1 -2 1.6 -2 1.1 -2-.1 -2-1 -2-.8 -2-.4 -2 .4 -2 2.5 -2 4.2 -2 3.2 -2 1.6 -2-.3 -2-3.2 -2-4.1 -2-1.1 -2 2.2 -2 1.7 -2-1.6 -2-3.5 -2-3.7 -2-3.6 -2-3 -2-1.2 -2 .6 -2 1.7 -2 1.5 -2 .4 -2 .6 -2 2.8 -2 4.3 -2 1.5 -2-3.8 -2-5.8 -2-3.7 -2-1.5 -2-1.1 -2-1.9 -2-2.1 -2 .5 -2 4.1 -2 3.9 -2 .6 -2-1.6 -2-2.8 -2 .8 -2 2.9 -2-.2 -2-5.7 -2-7.7 -2-5.6 -2-3.2 -2-2.9 -2-3.1 -2-1.8 -2-.8 -2-1.7 -2-2.4 -2 10.9 -2 12.6 -2 11.8 -2 4.7 -2-2.2 -2-3.3 -2-1.7 -2 .1 -2-1.9 -2-5.1 -2-3.3 -2 3.3 -2 8.1 -2 6.8 -2 2 -2-2.4 -2-3.7 -2-2.7 -2-2.7 -2-3.6 -2-9.8 -2-8.1 -2-3.7 -2-1.2 -2-5 -2-2.9 -2-.8 -2 2.8 -2 4.3 -2 4.6 -2 6.8 -2 10.1 -2 7.8 -2 2 -2 .5 -2 2.8 -2-1.5 -2-1.3 -2-1.2 -2-1.4 -2-2.1 -2-2.3 -2-2.4 -2-2.6 -2-1.2 -2 1.4 -2 4 -2 5.6 -2 4.8 -2-2.7 -2-8.4 -2-6.7 -2-1.3 -2 2.6 -2 6.4 -2 7.6 -2 1.2 -2-5.7 -2-4.9 -2-.2 -2 1.8 -2 .8 -2-.9 -2-.8 -2 .6 -2 .9 -2 1.6 -2 2.2 -2-.5 -2-3.7 -2-2.6 -2 .1 -2-.1 -2-1.6 -2-2.6 -2-5.1 -2-6.7 -2-3.9 -2 1 -2 4.9 -2 6.1 -2 4.8 -2 2.5 -2 .3 -2-1.3 -2 .2 -2 2.5 -2 2.2 -2-1.6 -2-7.2 -2-9.7 -2-6.7 -2-1.3 -2 4.2 -2 7.9 -2 6.6 -2 1.7 -2-2.5 -2-2.6 -2 1 -2 5.7 -2 9.3 -2 5.3 -2 4.5 -2 .9 -2-2.4 -2-2.4 -2-.5 -2 1.9 -2 1.8 -2-1.4 -2-3 -2-1 -2 1.1 -2 0 -2-3.2 -2-4.3 -2 .1 -2 6.2 -2 7.1 -2 .5 -2-5.9 -2-5.9 -2-1.1 -2 2.5 -2 1.7 -2-1.5 -2-2 -2 0 -2 .1 -2-.5 -2 2.8 -2 6.3 -2 2.4 -2-5.8 -2-8 -2-2.9 -2 .9 -2-.1 -2 .3 -2 5.2 -2 6.7 -2 1 -2-4.4 -2-4.1 -2-1.4 -2 .1 -2 .4 -2 .4 -2-1.3 -2-4.7 -2-4.7 -2-.2 -2 4.4 -2 6.7 -2 6.2 -2 2.6 -2 .4 -2-2.9 -2-6.4 -2-8.7 -2-9.4 -2-7.5 -2-3.3 -2 2.3 -2 7.6 -2 7.6 -2 1.8 -2-4.4 -2-9.2 -2-9.8 -2-7.1 -2-6.5 -2-2.4 -2 4 -2 6.1 -2 6 -2 9.3 -2 11.9 -2 8.5 -2-3.7 -2-13.1 -2-13.1 -2-7.2 -2 1.2 -2 5 -2 6.7 -2 6.2 -2 2.8 -2-1.6 -2-3.8 -2-3.9 -2-3.2 -2-1.9 -2-.5 -2-.4 -2-.1 -2 41.2 -2 35.7 -2 22 -2 7.2 -2 2.6 -2 2.4 -2 5.2 -2 5.3 -2 9.7 -2 10.8 -2-2.1 -2-15.9 -2-15.5 -2-9.1 -2-4.8 -2-1.8 -2-5.2 -2-5.7 -2-4 -2-7.3 -2-4.3 -2-7.5 -2 .3 -2 1.1 -2 2.3 -2 7.9 -2 4.6 -2 5.7 -2 9.9 -2 10.4 -2 9.1 -2 4.2 -2 0 -2-.9 -2-.3 -2 1.7 -2 4 -2 1.7 -2-4.3 -2-7.3 -2-4.2 -2-4.9 -2-.7 -2 4.9 -2 6 -2 1.4 -2-1.7 -2-1 -2 2.2 -2 2.7 -2 15.4 -2 17.3 -2 7 -2-11.6 -2-13.6 -2-4.4 -2 2.8 -2 1.8 -2-.3 -2-1.5 -2 17.3 -2 17.7 -2 25.3 -2 20.8 -2 12.5 -2 7.6 -2-1.3 -2-4.8 -2-2.1 -2 1 -2 .4 -2-1.9 -2 27.4 -2 58.2 -2 54.1z"/>
<path stroke="#0000ff" d="M168 447.6l.5-13.6 .5-30.7 .5-17.2 .5-3.1 .5-42.9 .5-16 .5-3.3 .5 2.3 .5-16.3 .5-19 .5 5 .5 4.6 .5 8.1 .5 1.4 .5-33 .5 46.1 .5-51.9 .5 43.4 .5-25.5 .5 25.6 .5 9.3 .5-59.4 .5 49.6 .5-6.7 .5-14.6 .5 17.4 .5-16.9 .5 13.1 .5-22.1 .5 37.7 .5-2.7 .5 4.3 .5-26.5 .5 50 .5 2.7 .5-41.4 .5-7.6 .5-1.5 .5 19.6 .5 4.1 .5-38.5 .5-29.1 .5 46.7 .5-13.1 .5 1.5 .5 4.6 .5-43.5 .5 17.1 .5-16.7 .5 9.5 .5 16.5 .5-39.6 .5-31.9 .5-59.5 .5 97.6 .5-32.2 .5-54 .5 24.7 .5 27.4 .5 7.8 .5-32.3 .5 30.1 .5-31 .5 7 .5 27.6 .5-22 .5 11.7 .5 19.6 .5 6.2 .5-43.4 .5 7.6 .5-27.6 .5-.4 .5 39.2 .5-21.3 .5-33.8 .5 59.8 .5-33.7 .5 14.6 .5 20.5 .5 2.3 .5-8 .5-45.2 .5 68.2 .5-23.5 .5-13.7 .5-11.6 .5 76 .5-21.9 .5 .6 .5 4.6 .5-16.1 .5-27.9 .5 32 .5 1 .5-12 .5 12.4 .5 1.9 .5-46.6 .5 2 .5 20.1 .5-11.6 .5-.1 .5 10.3 .5-3.7 .5-18.5 .5 8.1 .5-12.7 .5 7.7 .5-13.3 .5-11.9 .5 22.1 .5-.7 .5 22.1 .5 10.1 .5-22 .5 6.4 .5-15.9 .5-4.4 .5 8.4 .5-1.8 .5 6.7 .5-4.4 .5 22.4 .5-30.9 .5-25.1 .5 27.6 .5-14.7 .5 13.6 .5 15.3 .5-30.2 .5 11.6 .5 11.9 .5-24.5 .5 21.7 .5 6.9 .5 5.7 .5 5.9 .5-8.2 .5-1.7 .5-28 .5-11.8 .5 23.9 .5 39.5 .5-17.5 .5-31.9 .5 26.4 .5 11.2 .5-33.1 .5 35.6 .5-26.3 .5 32.3 .5-16.1 .5 34 .5-57.1 .5 23.7 .5-27.7 .5 39.9 .5-16 .5 11.9 .5-12.5 .5-19.3 .5 8.1 .5-8.5 .5 3.2 .5 18.2 .5 14.1 .5-3 .5-5 .5-15.9 .5 15.8 .5-20.1 .5 15.4 .5 8.9 .5-16.7 .5-6.2 .5-1.6 .5 13.3 .5-16.3 .5-19.4 .5 12.6 .5-12.7 .5 36.7 .5-25.5 .5-25.6 .5 24.1 .5 4.6 .5-7.2 .5-12.9 .5 6.2 .5 .6 .5 9.7 .5-10.6 .5 26.9 .5-37.5 .5 24.1 .5-23.5 .5-26.5 .5 5.7 .5-11.4 .5 .9 .5 41 .5-27.1 .5 17.2 .5-21.7 .5 12.1 .5-15 .5 27.3 .5-15.9 .5-2.7 .5 4 .5 32.9 .5-22.1 .5 7.6 .5-27.7 .5 9.8 .5 14.4 .5-29.2 .5 45.8 .5-13.8 .5-2.6 .5-.9 .5 1.5 .5-1.4 .5 27.1 .5-9 .5 9.1 .5-21 .5-7.1 .5 34.1 .5-36.6 .5 10.3 .5 21.3 .5 7.1 .5-35.6 .5 16.9 .5 5.5 .5-2 .5-11.4 .5 24.5 .5-18 .5 5.7 .5-30.7 .5 35.3 .5-27.2 .5 43.7 .5-.9 .5-12.5 .5 14 .5 3.3 .5-.3 .5 12 .5-3.5 .5-1.6 .5-1.3 .5 43.6 .5-21.4 .5-1.3 .5 11.1 .5-20.8 .5-2.6 .5 15.4 .5 3.6 .5-9 .5-41.7 .5 26.1 .5-4.6 .5 6.5 .5-26.6 .5-4.4 .5 16.1 .5-15.2 .5-4.3 .5 17.2 .5 16.9 .5-16.2 .5 17.8 .5-40.7 .5 31.8 .5-14.6 .5-18 .5 8.2 .5-9.9 .5 12 .5-12.5 .5 40.7 .5-36.6 .5-25.9 .5 21.7 .5 7.3 .5-20.9 .5 19.5 .5-44.2 .5-4.7 .5 39.6 .5-42.9 .5-1 .5-11 .5-8.7 .5-16.2 .5-3 .5 15.6 .5-19.1 .5 7.5 .5 7.1 .5-13 .5-13.6 .5 24.2 .5 7.5 .5-9.8 .5-23.1 .5 28 .5 16.3 .5-41.7 .5-8.8 .5 25.5 .5 4.6 .5 9.2 .5 1.2 .5-7.7 .5 6.3 .5-1.5 .5-1.5 .5-1.1 .5-.1 .5 11.1 .5-2.5 .5-8.9 .5 18.5 .5-20.7 .5-36.3 .5 46.7 .5-23.8 .5 17 .5 13.4 .5-1.5 .5-24.5 .5 2.7 .5-4.4 .5 7.9 .5 .2 .5-19.1 .5 20.1 .5-4.4 .5-3.1 .5-8.1 .5 4.4 .5-19 .5 22 .5-.6 .5-3.8 .5-11.9 .5 27.8 .5-1 .5-30.5 .5 28.8 .5 .3 .5-24.8 .5 35.5 .5 4.7 .5 4.1 .5-3 .5-5.8 .5 4.9 .5 14.8 .5 10.6 .5-19.9 .5 .9 .5 9.1 .5-33.3 .5 26.3 .5-9.9 .5-23.9 .5 29.1 .5-21.2 .5 15.2 .5 3 .5-30.9 .5-1.1 .5 11.1 .5-20.2 .5 25.2 .5-7.4 .5 7.1 .5-32.4 .5 20.7 .5 1.4 .5-26.6 .5 28.7 .5-26.6 .5 16.6 .5-17.8 .5 23.4 .5 10.1 .5-31 .5 15.2 .5 16.4 .5-18.6 .5 7.4 .5 10.6 .5-3 .5 15.3 .5-2.6 .5 10.6 .5-20.8 .5 16 .5-20.5 .5 23.4 .5 13.2 .5 9.4 .5-41 .5 14.8 .5 12.3 .5-18.1 .5 18.4 .5 .6 .5-12.5 .5-.9 .5-5.5 .5 14.1 .5 10.5 .5-14 .5 22.6 .5-49.2 .5 9.2 .5 13.8 .5-24.9 .5 17.4 .5 4.8 .5-8.9 .5-5.6 .5 15 .5-6.5 .5 4.7 .5-1.3 .5-14.6 .5-4.1 .5 11.2 .5 9.3 .5-2.7 .5 17.3 .5-6.8 .5 11.9 .5-9 .5-8.9 .5 23.1 .5-2.5 .5-16.1 .5 7.7 .5 37.7 .5-62 .5 49.5 .5-13.5 .5-.9 .5-2.6 .5-2.7 .5 38.5 .5-37.5 .5 1.6 .5 15 .5-6.3 .5-8.4 .5-2.3 .5-15.6 .5 32.5 .5-31.6 .5-20.2 .5 46.4 .5-5.9 .5-7.5 .5-13.8 .5 22.4 .5-33.4 .5-16.8 .5 32.1 .5 8.3 .5-3 .5 20.3 .5-17.3 .5-14.3 .5 1.3 .5 16.4 .5-12.2 .5 .4 .5-21.5 .5 21.7 .5-12.8 .5 22.5 .5-.8 .5 8.6 .5 15.3 .5-27.7 .5 22.8 .5-36.3 .5 18 .5 11 .5 14 .5-43.1 .5 11.8 .5 5.5 .5-3.5 .5-12 .5-9.6 .5 5.8 .5 16.2 .5-17.4 .5 44.1 .5-7 .5-43.2 .5 20.7 .5 26.7 .5 3 .5-3.4 .5-34.5 .5 16 .5 23.9 .5-16.1 .5-7.8 .5 12.9 .5 5.8 .5-13.2 .5-.1 .5 9.8 .5-24.8 .5-6.7 .5 22 .5-28.7 .5 23 .5-17.6 .5 21.8 .5-28.3 .5 32.7 .5-11.7 .5-8.1 .5-7.8 .5 9.7 .5-11 .5-4.2 .5 31.5 .5-6.8 .5 9 .5-35.5 .5-7.4 .5 6.4 .5 32.9 .5 4.1 .5-34.9 .5 42.3 .5-18.4 .5-8.9 .5 16.9 .5 9.8 .5-10.8 .5 .2 .5-10.2 .5-9.4 .5 13 .5-19.1 .5 29.4 .5-21.8 .5 29 .5-41.3 .5 41.3 .5-32.2 .5-.2 .5 16.7 .5 8.6 .5-12.9 .5-4.3 .5 32.9 .5-20.8 .5-24 .5 13 .5 27.2 .5-19 .5 7.1 .5 17.2 .5-36.3 .5 14.1 .5-13.9 .5 9.8 .5 8.1 .5-25.9 .5 20.9 .5-.2 .5 12.4 .5-23.6 .5-10.1 .5 22.5 .5-22 .5 17.7 .5 4.9 .5-20.4 .5 10.6 .5-12.4 .5-16.7 .5 12.8 .5-7.5 .5 31 .5-13.4 .5 14.7 .5 3 .5 17 .5-18.7 .5-.1 .5 12.8 .5 15.1 .5-24.6 .5 4.5 .5-9.2 .5-9 .5-13.8 .5 18.5 .5-4.4 .5-1.2 .5 30.2 .5-33.1 .5 9.1 .5-9.2 .5 21.9 .5-19.7 .5 31.2 .5-28.5 .5 15.7 .5 4.4 .5-16.6 .5 16 .5-10.5 .5-11.3 .5 1.3 .5 13.9 .5 20.1 .5-32.2 .5 14.1 .5-19.1 .5 14.7 .5-21.9 .5 7.4 .5 11.3 .5-9.8 .5 7.3 .5 18.7 .5-15.1 .5-7.5 .5-6.6 .5 10.3 .5 23.8 .5-17.2 .5-1.1 .5 11.7 .5 1.1 .5 1.7 .5-19.7 .5-8.3 .5-11 .5 13.5 .5 4.2 .5 15.5 .5-5.5 .5-12 .5 20.7 .5-29.3 .5 3.5 .5-1.1 .5 2 .5 12.3 .5-7.7 .5 1.6 .5 29.5 .5-39.3 .5 5.8 .5 10.4 .5 8.6 .5-.4 .5-11.8 .5-2.7 .5 0 .5 12.8 .5-24.6 .5-20.3 .5 32 .5-21.3 .5 13.2 .5 18.1 .5-19.9 .5 22.6 .5-49.1 .5 24.6 .5 1.5 .5 5.8 .5-21.8 .5 12.4 .5-.4 .5-.4 .5-19.2 .5-3.8 .5 32.7 .5-1.9 .5-3.9 .5 8.8 .5 6.3 .5-32.3 .5 27.3 .5 9.3 .5-7.9 .5-7.7 .5-.1 .5-33.2 .5 11.6 .5 20.2 .5 4.8 .5-16.8 .5-15 .5 3.5 .5 13.8 .5 16.8 .5-18.4 .5-19.5 .5 17.7 .5-2 .5 28.8 .5-23.6 .5-6.6 .5 .4 .5-15.2 .5 5.1 .5 11.3 .5-2.8 .5 17.6 .5 .6 .5 14.7 .5 10.2 .5-20.2 .5-4.9 .5-25.9 .5 35 .5 4.1 .5-23.1 .5 5.3 .5-5.7 .5 27.3 .5-7.7 .5 8.9 .5-39.3 .5 55.2 .5-50.2 .5-2.6 .5 19.7 .5-11.6 .5 38.3 .5-35.3 .5-4 .5 26.5 .5 3.8 .5-32.7 .5 5.4 .5 1.5 .5 2.6 .5 28.6 .5-8 .5-3.9 .5 2.1 .5-20.8 .5 11.8 .5-16.1 .5-12 .5 35.6 .5-54.1 .5 25.5 .5-10.1 .5-17.7 .5 18.6 .5 6.1 .5 5.5 .5-19.5 .5 23.9 .5-6.2 .5 8.4 .5-39.7 .5 23.4 .5-.8 .5 19.4 .5-17.7 .5 5 .5-7.6 .5 .6 .5 5.1 .5 28.7 .5-28.7 .5-17.2 .5 38.1 .5-10.3 .5 15 .5 .2 .5-11.8 .5-1.2 .5-1.7 .5 7.9 .5-10.9 .5 13.7 .5 16.7 .5-29 .5 .5 .5 .1 .5 17.8 .5 1.2 .5 11.5 .5-9.1 .5-7 .5 5.6 .5-23.3 .5 26.5 .5-4.8 .5 26.2 .5-9.6 .5-30.1 .5 3.1 .5 19 .5-40.3 .5 15 .5 16.8 .5 3.2 .5-6.4 .5 12.7 .5-19.2 .5 4.6 .5-4 .5-12 .5 14.7 .5-7.9 .5 8.1 .5-30.9 .5 31.3 .5-8.2 .5-.7 .5 8.8 .5-6.3 .5 18.2 .5 4.3 .5-4.5 .5 1 .5-7.8 .5-4.5 .5-17 .5 11.1 .5 19.7 .5-6.1 .5-16.5 .5 7.4 .5 12 .5-15.5 .5 23.3 .5-29.7 .5 21 .5 .2 .5-5.1 .5 3.3 .5 4.7 .5-34.8 .5 36.3 .5 9.2 .5-9.6 .5 9 .5-31.2 .5 12.8 .5 3.3 .5-9.7 .5 16.7 .5-11 .5-14.8 .5 15.8 .5-1.2 .5-17.4 .5 13.2 .5-3.8 .5-.6 .5-21.1 .5 33.2 .5-7.8 .5-8 .5 6 .5 1.4 .5-6.6 .5-1.6 .5 11.3 .5-6.9 .5 3.5 .5-7.1 .5 13.2 .5 17.9 .5-10.1 .5-2.4 .5-5.4 .5-2.6 .5-15.6 .5 40.2 .5-33.1 .5-11.7 .5 23.8 .5-3.3 .5-11.5 .5-13.7 .5 .4 .5 38.2 .5-22.9 .5-7.5 .5 32.9 .5-31.8 .5-4.9 .5 19.6 .5-1.9 .5 16.2 .5-40.4 .5 24.9 .5-25.3 .5 28.9 .5-14 .5 3.2 .5-3 .5 21.1 .5 10.8 .5-21.7 .5-1.6 .5-2.6 .5 13.9 .5-19.6 .5 43.6 .5-32.2 .5 25.5 .5-19.8 .5-19.3 .5-2.1 .5 15 .5-3.6 .5 6.3 .5-11.2 .5 44.6 .5-2 .5-50 .5 29.6 .5 9.5 .5-19.2 .5 1.8 .5 17.1 .5-7.9 .5-23 .5 30.1 .5-21.9 .5 29 .5-35.2 .5-16.3 .5 29.4 .5 13.6 .5-8.9 .5-4.9 .5-14.1 .5 20.9 .5-35.2 .5 29.6 .5-26.3 .5 4.7 .5-11.1 .5 2.3 .5 25.9 .5-33.3 .5 14.2 .5-13.1 .5 19.9 .5-28.7 .5 14.6 .5 9.2 .5 14.1 .5-40.4 .5 2 .5 8.6 .5 16.7 .5-29.9 .5 20.8 .5-18 .5-5.7 .5-7.2 .5 21 .5 10.9 .5-13.1 .5-25.1 .5 20.6 .5 20.5 .5-.7 .5-6 .5 17.2 .5-34.9 .5 1.2 .5 47.2 .5-21.6 .5-11.1 .5-3.4 .5-21.5 .5 39.9 .5-36.3 .5 2.7 .5 26.3 .5 21.9 .5-68.9 .5 58.9 .5-7.8 .5 13 .5-23.6 .5 50.1 .5-37.8 .5 20.2 .5-31.9 .5 48.9 .5-16.1 .5 20.5 .5-32.9 .5 22 .5-14.7 .5 2.3 .5 17.6 .5-26.9 .5 21.6 .5 16 .5-1.4 .5-7.7 .5-8.3 .5-15.6 .5 30.8 .5-26.3 .5 23.7 .5-19.6 .5 3.7 .5-1.2 .5 6.4 .5-14.7 .5 5.9 .5-10.8 .5 11 .5-5.2 .5-.2 .5-17.7 .5 13.2 .5-4.6 .5 6.1 .5-6.8 .5-12.5 .5 21.9 .5-16.4 .5 13.2 .5-27.9 .5 33.3 .5 3.3 .5-18.6 .5 19.5 .5-11.2 .5 22 .5-8.7 .5-23.7 .5 12.8 .5-19.3 .5 17.9 .5 10.8 .5 3.9 .5-11.1 .5-.9 .5 5.7 .5-8.6 .5 12.4 .5 10.6 .5-10.7 .5 8.9 .5-19.7 .5 4 .5 10.5 .5 20.8 .5-14.9 .5 5.8 .5-22.7 .5 11.4 .5-37.7 .5 23 .5-33.5 .5 35.5 .5-11.8 .5 4.7 .5-11.6 .5-12.8 .5-18.7 .5 21.3 .5 14.9 .5-8.9 .5-12.2 .5 .4 .5-1 .5 5.9 .5 1.7 .5-4 .5 5.6 .5-17.3 .5 34.7 .5-14.2 .5 14.4 .5-13.2 .5-4.8 .5 3.7 .5 2.2 .5-8.9 .5 3.9 .5 25.9 .5-9.8 .5-15.2 .5 12.1 .5-14.2 .5 25.2 .5-25.6 .5 21.6 .5-8.5 .5 1.2 .5-7.8 .5 7.5 .5-3.8 .5 .8 .5 16.3 .5 21.3 .5-26.1 .5 16.3 .5-9.3 .5-6.2 .5 23.1 .5-7.1 .5 5.7 .5-11.2 .5-.1 .5-11 .5 5.2 .5 20.1 .5-43.1 .5 28 .5 11.2 .5-7.2 .5 1 .5-11.8 .5 15.5 .5 1.1 .5-11.8 .5 18.7 .5-22.4 .5-18.9 .5 24.7 .5-.9 .5-7.8 .5 3.9 .5-1.3 .5-14.2 .5 31 .5-13.8 .5 22.1 .5-24.7 .5 3.2 .5-20.7 .5 25.3 .5-22.2 .5 16.5 .5 3.9 .5-1.4 .5-15.9 .5 .9 .5 16.4 .5 5 .5 3.2 .5-14.4 .5-.4 .5 19.6 .5-23.7 .5 13.8 .5-10.5 .5-10.9 .5 3.4 .5 16 .5-1.9 .5 3.2 .5-7.7 .5-.7 .5 8.8 .5-3.4 .5-12.6 .5 13 .5 22.4 .5-22.6 .5 14.2 .5-5 .5 8.7 .5-15 .5-3.8 .5 16.4 .5-11.6 .5 5.6 .5-3.7 .5 11.1 .5-7.9 .5-2.1 .5-11.6 .5-6.4 .5 6.4 .5 15.3 .5-1.6 .5-1.2 .5-9.4 .5-5.8 .5 20.3 .5-9.2 .5 3.2 .5-13.9 .5 2.1 .5 12.1 .5 .4 .5-16.8 .5 11.6 .5-14.1 .5 22 .5-5.6 .5 14.9 .5-7.4 .5-20.6 .5 8.1 .5-6.2 .5 6 .5 6.5 .5-7.1 .5 1.3 .5-12.7 .5 19.1 .5-4.8 .5 7 .5 4.9 .5-8.7 .5 7.3 .5-11.6 .5 15.8 .5-8.4 .5-4.6 .5 4.4 .5-10.5 .5-25.9 .5-5 .5 47.1 .5-.6 .5-5.1 .5 4.6 .5-19.1 .5 21.2 .5 4 .5 1.6 .5 2.1 .5 22.7 .5-35.3 .5-4.2 .5-.2 .5 6.1 .5 12.4 .5-29.1 .5 12.5 .5 8.6 .5-11.4 .5 15 .5-16.5 .5 11.1 .5-12.3 .5 19.4 .5-10.2 .5 14.3 .5-9.4 .5-6.7 .5 5 .5 5.1 .5-1.8 .5-3 .5-1.6 .5 2.8 .5 7.5 .5-15.2 .5 9.1 .5-18.7 .5 21.4 .5-6.6 .5-8 .5-.5 .5-14.3 .5 17.5 .5-3.6 .5-11.8 .5 9.6 .5 10.3 .5-4 .5 1.1 .5-8.3 .5 14.4 .5-8.7 .5 9.1 .5 14.1 .5-42.6 .5 15.5 .5 5.4 .5-7.3 .5 18.3 .5-14 .5 20.8 .5-9.4 .5-3.5 .5-4.7 .5 8.6 .5-3.9 .5 9.7 .5-11.2 .5 5.9 .5-6.8 .5-1.1 .5-19.9 .5 16 .5 3.7 .5-16.4 .5-2.5 .5 11.1 .5 6 .5-21 .5 21.1 .5 6.8 .5-12.5 .5 5.3 .5 2.6 .5-11.3 .5 13.9 .5-1.2 .5-17 .5 19 .5 4.4 .5-19.8 .5 20.8 .5-11.4 .5-11 .5 3.3 .5 1.6 .5 14.8 .5-10.7 .5 .8 .5-9.2 .5 13.4 .5-13.3 .5 5.8 .5 13.2 .5 .3 .5-13 .5 4.4 .5 5.4 .5-6.6 .5 11.7 .5 .4 .5-15.9 .5-12.7 .5 10.6 .5 15.3 .5-2.6 .5 .6 .5-.6 .5-16.8 .5 8.6 .5 8.8 .5-8.4 .5 6.6 .5-19.6 .5-2.3 .5 33.7 .5-13.2 .5-1.8 .5 8.8 .5 7.8 .5 .6 .5-48.5 .5 28.5 .5 6.9 .5-30.8 .5 1.5 .5 17 .5 21.7 .5-10.1 .5 12.5 .5-20.1 .5 7.7 .5 4.1 .5-11.9 .5-5.7 .5 1 .5-26.1 .5 27.6 .5-23 .5 11.3 .5 16.5 .5-2.6 .5-24.6 .5 27.4 .5 3 .5-5.1 .5 5.7 .5-.8 .5-23.5 .5 16.2 .5-.5 .5-9.2 .5 12.8 .5-7.7 .5 8.2 .5-8 .5 20.4 .5 12.3 .5-29.5 .5 6.2 .5-.3 .5 3.8 .5-6.9 .5-21.9 .5 27.1 .5-4.9 .5-9.7 .5 9.6 .5-2.7 .5 8.4 .5-5.3 .5 .8 .5 4.2 .5 1.4 .5-2.7 .5 11.7 .5-10.5 .5-11.4 .5 25.8 .5-17.5 .5 14.9 .5-27.9 .5 17.2 .5 12.5 .5-4.3 .5-12 .5-6.6 .5 .2 .5 4.8 .5-8.1 .5 2.5 .5-2.7 .5-.3 .5 12.8 .5-21.6 .5 19.9 .5 5 .5-17.9 .5-.3 .5 9.1 .5-1.2 .5 9.8 .5-31.1 .5 19.7 .5 15 .5-13.9 .5 17.2 .5 4.1 .5-28.5 .5 20.9 .5-10.4 .5-5.8 .5-3.2 .5 .1 .5-7.5 .5 7.1 .5 10.8 .5 2.8 .5-16.9 .5 9 .5-.6 .5-27.8 .5 30.3 .5-19.3 .5 1.2 .5 20.4 .5 8.8 .5-27.3 .5 2.8 .5 .3 .5 5.2 .5 2.4 .5-3.5 .5-7.2 .5 34.9 .5-22 .5-2 .5 17.3 .5-12.2 .5 15.1 .5-2.6 .5 2.4 .5-13.6 .5 11 .5-21.6 .5 2.4 .5 15.3 .5-3.1 .5 17.5 .5-15.8 .5-14.8 .5 19.1 .5-3.3 .5 5 .5-13.8 .5 4 .5 8.6 .5 6.9 .5-3.1 .5 3.7 .5-21.7 .5 12.8 .5 4.7 .5 7.8 .5-6.7 .5-4.9 .5 1.3 .5 .1 .5-13.3 .5 14 .5 7.2 .5-1.2 .5-25.2 .5 17.8 .5-14.6 .5 24.6 .5-5.5 .5 1.3 .5-13.3 .5-12.3 .5 8 .5 6 .5-11.2 .5 4.2 .5 25.4 .5-28.6 .5 17.3 .5-21.9 .5 20.1 .5 6.1 .5-2.5 .5 8 .5 6.5 .5-27.4 .5 15.9 .5 3.4 .5-.1 .5 11 .5-11.3 .5 8.3 .5-.6 .5-9.2 .5 2.8 .5-12.3 .5 8.5"/>
<path fill="#008000" d="M168 592.7l2-157.1 2-76.4 2-5.9 2-7.5 2-3.6 2 3.1 2 4.6 2-.7 2-3.8 2-3.9 2 0 2-65.9 2-58.4 2-.2 2-4.3 2-11.7 2-5.2 2-4.5 2 2.7 2 8.3 2 28.6 2 24.3 2-1.4 2-5.2 2-1.4 2 5.8 2 6.5 2 .5 2-4.2 2-4.2 2-2.8 2-2.3 2-2.3 2-1.1 2 2.9 2 6.8 2 7.4 2 6.3 2 4.5 2 1.4 2-2.8 2-6.1 2-5.8 2-2 2 .9 2-.5 2-2.4 2-2.8 2-3.4 2-2.9 2-.8 2 .6 2 1 2 2.6 2 4.8 2 3.6 2 .7 2-1.6 2-5.3 2-6.5 2-4.3 2 2.2 2 1.1 2-1.6 2-3.5 2-3.8 2-1.9 2-.6 2-2.2 2-4.2 2-1.8 2 3.6 2 5.3 2 1.9 2-1.6 2-.3 2 4.2 2 4.8 2-.6 2-1.9 2 2.3 2 4.8 2 3.2 2-1 2-5.3 2-6.6 2-3 2 3.2 2 6.3 2 5.1 2 2.1 2-1 2-3.4 2-2.5 2 1.8 2 6.6 2 6.8 2 2 2-2.8 2-3.5 2-2.9 2-4.4 2-7.3 2-7.2 2-3.9 2 .3 2 4.3 2 7.2 2 6.8 2 4.1 2 .8 2-3 2-10 2-9.7 2-5.7 2-1.3 2 8.6 2 12.1 2 9.7 2 3.9 2 0 2-4.5 2-4.5 2-4.4 2-3.1 2-.7 2 .8 2 .8 2 1.3 2 1.5 2-.4 2-2.5 2-2.6 2-1.5 2-2.3 2-2.5 2 1.1 2 4.8 2 4 2 .8 2-.4 2 .8 2 1.2 2-.4 2-2.4 2-2.3 2 .2 2 3.2 2 3.1 2-1.4 2-4.2 2-1.2 2 2.7 2 1.8 2-1.9 2-4.3 2-4 2-1.1 2 2.3 2 2.3 2 .8 2 3.1 2 7 2 4 2-4.4 2-11.4 2-11.9 2-7.7 2-2.9 2-1.5 2-2.9 2-3.3 2-1.8 2 1.2 2 2.4 2 .8 2-.4 2 .6 2 1.6 2 .8 2-1.5 2-2.8 2-.6 2 2.9 2 3.2 2 .9 2 .9 2 2 2 2.8 2 4.9 2-1.4 2-2.8 2-6.4 2-6.8 2 1.5 2 7.2 2 5.4 2-.1 2-.4 2 3.6 2 2.3 2-5.1 2-9.1 2-6.1 2 .3 2 5.6 2 4.8 2-1.1 2-3.7 2-1.2 2 1.2 2 1.5 2 .8 2-.3 2-1.3 2-1.3 2 .6 2 4.3 2 6.2 2 2.3 2-3.7 2-4 2 .1 2 1.1 2-3 2-5.9 2-2.1 2 4.1 2 7.7 2 6.6 2 1.6 2-2.9 2-4.3 2-2.4 2 1.6 2 4.4 2 2.6 2-1.3 2-3.3 2-2.4 2-1.5 2-1.4 2-1.2 2-2.3 2-4.8 2-3.9 2 .8 2 3.8 2 3 2 .5 2-1.3 2-1.9 2-.1 2 3 2 2 2-2.7 2-4.2 2-.4 2 5.7 2 4.8 2 1.7 2 .1 2 .2 2 .7 2 3.1 2 5.5 2 2.3 2-.5 2-2.1 2-3.3 2-3.3 2-.2 2 3.6 2 3.7 2 1.1 2-1.5 2-4.1 2-4.7 2-1.6 2 2.4 2 2.9 2 .3 2-2.3 2-2.1 2-1.1 2 .9 2 1.2 2 .2 2-1.9 2-4 2-5 2-4.3 2-1.6 2 3.9 2 7.5 2 4.5 2-1.8 2-5.3 2-4.9 2-4.1 2-3.8 2-3.5 2-2.8 2-.6 2 3.2 2 5.2 2 2.9 2-1.4 2-3.7 2 3.2 2 4 2 5.9 2 8.3 2 5.9 2 2 2-.2 2-3.1 2-3.1 2-.7 2 1.3 2 .9 2-1.4 2-2.1 2-.7 2-.4 2-2.6 2-5.9 2-6.2 2-1.7 2 2.1 2 1.6 2 0 2-1.6 2-2 2 .1 2 2.4 2 2.4 2 1.6 2 4.4 2 5.7 2 5.6 2 4.6 2 2.5 2-.8 2-2.2 2-.1 2 1.6 2 4.6 2 4.8 2 2.5 2 .8 2 .8 2 .5 2-1.3 2-1.5 2 .8 2 5.9 2 6.9 2 .5 2-4.6 2-5 2-2.8 2-3.3 2-.6 2 4 2 6.2 2 4.1 2 .3 2-2.8 2-3.8 2-2.8 2-.9 2 1.4 2 2.7 2 2.1 2 0 2-1.5 2-1.3 2-1.1 2-2.3 2-9 2-6.1 2-4 2-2.7 2-.8 2 .9 2 1.5 2-2 2-6.1 2-6.9 0 14.1 -2 7 -2 6.3 -2 2.2 -2-1.3 -2-.8 -2 1 -2 2.6 -2 3.7 -2 5.8 -2 8.7 -2 2.2 -2 1.1 -2 1.3 -2 1.4 -2 0 -2-2.2 -2-2.7 -2-1.4 -2 .8 -2 2.8 -2 3.7 -2 2.8 -2-.4 -2-4.1 -2-6.3 -2-4 -2 .6 -2 3.3 -2 2.7 -2 5.3 -2 4.9 -2-.8 -2-7.7 -2-6.7 -2-1.7 -2 .7 -2 1.3 -2-.6 -2-.7 -2-.8 -2-2.5 -2-4.8 -2-4.7 -2-1.5 -2 .5 -2 2.5 -2 1.2 -2-2.1 -2-4.3 -2-5.2 -2-5.3 -2-4 -2-1.5 -2-2.3 -2-2.2 -2 0 -2 2.1 -2 1.8 -2 0 -2-1.4 -2-2 -2 1.6 -2 5.9 -2 5.5 -2 2.4 -2 0 -2 .4 -2 1.9 -2 1.1 -2-1.2 -2-1.6 -2 .4 -2 3 -2 2.9 -2 0 -2-2.1 -2-5.9 -2-8 -2-5.6 -2-3.7 -2-3 -2 3.8 -2 1.6 -2-2.8 -2-5.1 -2-3 -2 .7 -2 2.9 -2 3.7 -2 3.9 -2 4.3 -2 5 -2 5.5 -2 1.8 -2-4.4 -2-7.3 -2-3.8 -2 1.7 -2 4.4 -2 4.6 -2 3.6 -2 1.5 -2-.5 -2-1.6 -2-1.4 -2 .8 -2 2.1 -2 2.2 -2-.3 -2-3 -2-2.4 -2 1.6 -2 4.6 -2 4.1 -2 1.4 -2-1.1 -2-3.8 -2-3.6 -2 .1 -2 3.3 -2 3.3 -2 2 -2 .5 -2-2.4 -2-5.1 -2-2.6 -2-.2 -2 .2 -2 .3 -2-1.3 -2-4.4 -2-5.2 -2 .3 -2 4.3 -2 2.8 -2-2 -2-3 -2 .2 -2 1.9 -2 1.3 -2-.4 -2-3 -2-3.8 -2-.7 -2 3.9 -2 4.8 -2 2.4 -2 1.2 -2 1.4 -2 1.6 -2 2.4 -2 3.3 -2 1.3 -2-2.5 -2-4.4 -2-1.6 -2 2.5 -2 4.2 -2 2.9 -2-1.5 -2-6.6 -2-7.8 -2-4 -2 2.1 -2 5.9 -2 3 -2-1.1 -2 0 -2 4 -2 3.6 -2-2.2 -2-6.3 -2-4.2 -2-.6 -2 1.3 -2 1.3 -2 .3 -2-.8 -2-1.4 -2-1.2 -2 1.2 -2 3.7 -2 1.1 -2-4.8 -2-5.6 -2-.3 -2 6.1 -2 9.1 -2 5.1 -2-2.3 -2-3.6 -2 .4 -2 .1 -2-5.3 -2-7.2 -2-1.5 -2 7.1 -2 6.6 -2 3.2 -2 1.7 -2-4.9 -2-2.7 -2-1.8 -2-.8 -2-.9 -2-3.1 -2-2.9 -2 .6 -2 2.9 -2 1.4 -2-.7 -2-1.5 -2-.6 -2 .5 -2-.8 -2-2.4 -2-1.1 -2 1.8 -2 3.4 -2 3 -2 1.5 -2 2.6 -2 6.9 -2 11.3 -2 10.7 -2 3.7 -2-4.3 -2-7 -2-3.2 -2-.7 -2-2.3 -2-2.4 -2 1.1 -2 4 -2 4.3 -2 2 -2-1.8 -2-2.7 -2 1.1 -2 4.3 -2 1.4 -2-3.1 -2-3.2 -2-.2 -2 2.2 -2 2.5 -2 .4 -2-1.3 -2-.7 -2 .3 -2-.8 -2-4 -2-4.8 -2-1.1 -2 2.6 -2 2.2 -2 1.5 -2 2.6 -2 2.5 -2 .8 -2-1.3 -2-1.1 -2-.5 -2-.5 -2 .9 -2 3.5 -2 4.6 -2 4.8 -2 4.7 -2-.3 -2-4.2 -2-10 -2-12.4 -2-8.9 -2 1.9 -2 6.3 -2 10.3 -2 10.5 -2 2.9 -2-.7 -2-4.1 -2-6.9 -2-7.1 -2-4.4 -2-.2 -2 3.9 -2 7.1 -2 7.3 -2 4.5 -2 2.8 -2 3.6 -2 2.7 -2-1.9 -2-6.8 -2-6.6 -2-1.8 -2 2.5 -2 3.3 -2 1.1 -2-2.2 -2-5 -2-6.3 -2-3.2 -2 3 -2 6.6 -2 5.3 -2 .9 -2-3.1 -2-4.8 -2-2.3 -2 1.9 -2 .5 -2-4.7 -2-4.2 -2-.1 -2 1.3 -2-2.3 -2-5.7 -2-3.9 -2 1.4 -2 3.9 -2 1.8 -2 .3 -2 1.6 -2 3.6 -2 3.4 -2 1.5 -2-1.2 -2-2.4 -2 5.1 -2 7.2 -2 6 -2 2.4 -2 .1 -2-3.2 -2-4.7 -2-2.6 -2-.9 -2-.6 -2 .8 -2 3 -2 3.4 -2 2.9 -2 2.5 -2 .4 -2-.8 -2 2.1 -2 5.8 -2 6.1 -2 2.9 -2-1.3 -2-4.6 -2-6.2 -2-7.3 -2-6.7 -2-3 -2 1.2 -2 2.4 -2 2.3 -2 2.8 -2 4.3 -2 4.2 -2-.4 -2-6.5 -2-5.7 -2 1.4 -2 5.3 -2 1.4 -2-20.5 -2-24.8 -2-7.9 -2-2.4 -2 4.9 -2 5.7 -2 14.9 -2 7.7 -2 3.4 -2 48.9 -2 56.4 -2-.1 -2 3.8 -2 3.6 -2 1.4 -2-3.9 -2-2.4 -2 4.3 -2 8.3 -2 6.5 -2 67.3 -2 173.8z"/>
<path stroke="#008000" d="M168 634.2l.5-70.8 .5-63 .5-57.4 .5-.5 .5 .9 .5-11.5 .5-81.3 .5 6.1 .5 6.4 .5-14 .5 20.7 .5-4.6 .5-11.9 .5 6.6 .5-29.4 .5 9.2 .5-.1 .5 29.7 .5-44 .5 23.8 .5 16.7 .5-13.4 .5 15.2 .5-22.9 .5 19 .5 8.6 .5 22.1 .5-23.3 .5 11.2 .5-22.1 .5 .8 .5 21.4 .5-15.5 .5 11.9 .5-11.8 .5 20.4 .5 1.5 .5-49 .5 40.5 .5-22.5 .5 .2 .5-9.2 .5 13 .5-27.8 .5-11.3 .5-17.6 .5 5.9 .5 .7 .5-16.9 .5-22.2 .5-40.3 .5-49.9 .5 66.5 .5-8.3 .5 5.6 .5 29.3 .5-46.4 .5-1.6 .5-57.2 .5 73.1 .5-18.1 .5-19.8 .5 23.4 .5-37.2 .5 10.7 .5 55.8 .5-29.2 .5 2.2 .5-5.7 .5-3.9 .5-11.2 .5 45.8 .5-52.5 .5 18.3 .5-20.2 .5-1.6 .5-41.6 .5 10.9 .5 77.9 .5 .9 .5-34.6 .5 15.3 .5 19.1 .5-24 .5 56.1 .5-43.5 .5 11.4 .5-19.2 .5 59.6 .5-22.7 .5 23.7 .5-41.5 .5 19.5 .5-5.5 .5 .5 .5 27.7 .5 1.9 .5-14.3 .5-27.6 .5 20.3 .5 7.8 .5-10.7 .5 1.8 .5 .5 .5-19.3 .5 19.4 .5 22.4 .5-38.7 .5 17.3 .5 11.8 .5-33.8 .5 18.3 .5-24.6 .5 15.6 .5-13.4 .5 6.6 .5 5 .5 2.1 .5 .1 .5-32.8 .5 58.3 .5-29 .5-13.2 .5 6.5 .5 13.6 .5-20.4 .5 8.3 .5-1.4 .5 14.7 .5-20.1 .5 17.6 .5-2.2 .5-8 .5 20.5 .5-18.6 .5-18 .5 22.5 .5-2.1 .5-1.5 .5 5.2 .5 32.5 .5-29.4 .5 5.2 .5-8.7 .5 25.2 .5-18.6 .5-9.3 .5-4.5 .5 27.8 .5 4.8 .5-33.2 .5 14.3 .5 21.7 .5 7 .5-33.9 .5 14.5 .5 19.1 .5-19.8 .5 1.5 .5-1.4 .5-11.7 .5 19.5 .5 3 .5-26.4 .5 20.9 .5 13.4 .5-14.9 .5 9.2 .5-23.7 .5 26.7 .5-33.2 .5 38.2 .5-35.3 .5-4.6 .5-2.9 .5 6.9 .5-1.1 .5-2.6 .5 5.6 .5 14.8 .5 3.3 .5-17.9 .5 22.8 .5-33 .5-1 .5-2.1 .5 24.7 .5-32.1 .5 1.6 .5 38.2 .5 5.6 .5-6.1 .5-42 .5 21 .5 11 .5-11.6 .5-25.7 .5 17.7 .5-20.4 .5 6.2 .5 48.5 .5-21.5 .5-31.1 .5-.5 .5 28.3 .5-15.2 .5 17.3 .5-17.5 .5 6.6 .5 6.5 .5-18 .5-12.4 .5 10.8 .5 7.7 .5 7.8 .5 3 .5 .9 .5 9.4 .5-18.8 .5 34 .5 10.1 .5-21.8 .5-2.4 .5 14.9 .5-8.3 .5-6.2 .5-4.8 .5-7.6 .5-5.7 .5 23.7 .5 6 .5-29.6 .5 11.5 .5 2.2 .5-9.4 .5-5.7 .5 2.8 .5-20.3 .5 20.8 .5-4.3 .5 25.9 .5-14.8 .5-15.3 .5 2.7 .5 19.3 .5-.5 .5-14.9 .5-2.8 .5-14 .5 12.7 .5 1.9 .5-6.2 .5 27.2 .5-40.4 .5 18.9 .5 5.4 .5-.4 .5 13.2 .5-35.6 .5 6.3 .5 8.6 .5-.5 .5-6.8 .5-5.2 .5 20.2 .5-25.1 .5 5.3 .5 23.3 .5 3.5 .5-10.1 .5-20.6 .5-.1 .5-.9 .5-3.4 .5 8.1 .5 19.8 .5-13.7 .5-13.1 .5-1.4 .5-6.1 .5 29 .5-41.3 .5 28.7 .5-21.8 .5 5.3 .5-4.8 .5 32.8 .5-12.2 .5 33.1 .5-42.9 .5 .6 .5 23.6 .5 .6 .5-10.7 .5-23.3 .5 47.3 .5-12.1 .5-2.7 .5-14.2 .5 16.6 .5-17.2 .5 8.2 .5-3.2 .5 21.1 .5-24.1 .5 2.7 .5 21.9 .5-11.1 .5-2 .5-1.8 .5 18.1 .5-22.1 .5 16.4 .5 22.2 .5-23.7 .5-17.4 .5-6.7 .5 18.7 .5-20 .5-5.5 .5 12.1 .5-4.4 .5 28.8 .5-32.2 .5 44.4 .5-32.1 .5 13.7 .5 9 .5-5.3 .5 8 .5-23.7 .5-17.3 .5 29.1 .5-21.2 .5 15.3 .5 21.1 .5-17.3 .5-6.9 .5-9.1 .5 10.3 .5 0 .5-21.9 .5 25.1 .5-21 .5 17.1 .5-10.5 .5 20 .5-2.1 .5-11.8 .5-1 .5 8.8 .5 14.8 .5-3.1 .5-11.3 .5 4 .5 19.6 .5-44.2 .5 32.4 .5-19.3 .5 33.2 .5-25.5 .5 6.1 .5-13.4 .5 16 .5 11.2 .5 12.4 .5-42.2 .5 11.2 .5 38.8 .5-20.5 .5-14.4 .5 6.7 .5-40.9 .5 54.9 .5-21.3 .5-23.1 .5 37.2 .5-25.4 .5-5.1 .5 23.1 .5-.4 .5-10.7 .5 7.3 .5-16.2 .5 .5 .5 35.4 .5 7.6 .5-11.3 .5 .3 .5-10.3 .5 4 .5-11.6 .5 38.1 .5-33.8 .5 13.1 .5-6.8 .5-20.9 .5 46.7 .5-33.9 .5-6.4 .5 11.9 .5-15.1 .5 12.5 .5-14.8 .5 20.9 .5-8.3 .5-21.5 .5 32.9 .5-13.6 .5-20.3 .5 18.9 .5-.9 .5 18.4 .5-40.7 .5 22.8 .5-15.1 .5 8.8 .5-13.6 .5 2 .5 7.4 .5-24.5 .5-13.1 .5 30.1 .5-5.7 .5 8.3 .5 9 .5-11.1 .5 21.7 .5-16 .5 3.9 .5 12.2 .5-1.6 .5-7.8 .5 4.9 .5-10.9 .5 3.5 .5 11.7 .5 11.3 .5-16.9 .5 18.9 .5 16.3 .5 3.3 .5-30.3 .5 14.6 .5-6.7 .5 2 .5-.2 .5-5.6 .5 2 .5-11.5 .5-9 .5 4.4 .5 .6 .5 7.2 .5-14 .5 2.7 .5 7 .5-32.8 .5 7.5 .5 9.3 .5-7.5 .5-13.7 .5 25 .5-13.3 .5-9.9 .5 38.3 .5-37.6 .5 18.6 .5-5.5 .5 13.1 .5 9 .5-14.7 .5 12.1 .5 2.3 .5-9.1 .5 30.5 .5-11.5 .5-5 .5-4.3 .5 4.9 .5 6.7 .5-8.1 .5 23.2 .5-49.1 .5 1.7 .5 24.5 .5-22.6 .5 22.8 .5-9.1 .5 15.4 .5-3.4 .5 10.7 .5-6.4 .5 3.2 .5-10.6 .5 5.9 .5-8.4 .5-15.1 .5-9.2 .5 0 .5 21.2 .5-36.2 .5 31.8 .5-11.6 .5 18.8 .5-6.6 .5-11.6 .5 9.7 .5-28 .5 31.5 .5 2.5 .5-27.9 .5 33 .5-11.6 .5 3.9 .5-18.7 .5 24.6 .5 0 .5-6.6 .5-11.2 .5 20.6 .5 5.5 .5-10.1 .5 6.5 .5-18.6 .5 7.9 .5 1.9 .5-3.4 .5 23.3 .5-21.5 .5-11.9 .5 15.4 .5-22.4 .5 16.4 .5 4.3 .5-14.8 .5 1.5 .5-7.5 .5 11.7 .5-10 .5 27 .5-13.2 .5-10.6 .5-14.1 .5 39.4 .5-8.3 .5-9.1 .5-2.4 .5 .8 .5-6.2 .5 28.3 .5-17.9 .5-17.6 .5 10 .5-19.1 .5 35.9 .5 1.6 .5 11.9 .5 3.8 .5-33.1 .5 14 .5 6.2 .5-2.4 .5-15 .5 15.1 .5-3.4 .5 10.1 .5-15.6 .5-2.1 .5-2.8 .5 1.9 .5-4.3 .5 5 .5 9.7 .5-.7 .5 9.5 .5-3.1 .5-5.9 .5-21.2 .5 19.1 .5 6.1 .5-29 .5 1.6 .5 1.4 .5-1.2 .5 8.5 .5-7.2 .5 15.5 .5-17.8 .5 13.1 .5-3.4 .5-4.4 .5 24 .5-10.7 .5 6.6 .5-9.5 .5 12 .5-1.2 .5-9.3 .5-19.5 .5 28.8 .5-2.6 .5-7 .5-.2 .5-2.2 .5 .4 .5-13.9 .5 11.1 .5 4.7 .5-10 .5-3.3 .5 33.3 .5-13.7 .5-9.9 .5-1.7 .5-21.3 .5 10.5 .5 13.1 .5 17.1 .5-39.2 .5 14.6 .5 28.9 .5-15.4 .5-4.1 .5 7.8 .5-16.1 .5-1.6 .5 9.4 .5 .9 .5-22.4 .5 29.6 .5-37.4 .5 12.4 .5 34.2 .5-30.9 .5 14.2 .5-18.3 .5 8.5 .5-4.1 .5 4.1 .5 12.3 .5 12.7 .5-9.9 .5 8.1 .5-23.3 .5 23.3 .5-9.4 .5 10.4 .5-19 .5 3.8 .5 20.2 .5-6.8 .5-3.9 .5-7.4 .5 7.2 .5 7 .5 2.6 .5-16.1 .5 1.3 .5 7.6 .5-21.4 .5 22.9 .5-14.9 .5-4.8 .5-31.8 .5 6.2 .5 4.3 .5 3.3 .5-9.3 .5 18 .5-5 .5-7 .5-26.3 .5 47.4 .5-24 .5 12.3 .5-18.2 .5 9.2 .5 9.5 .5-7.1 .5 9.6 .5-16.9 .5 30 .5-55.9 .5 18.2 .5 20.8 .5-18.3 .5-3.5 .5-19.5 .5 41.5 .5-44.1 .5 33.7 .5-4.4 .5 9.8 .5 8.6 .5-30 .5-.9 .5 7.6 .5-19.1 .5 36.2 .5-16.7 .5 8 .5-17.9 .5 15.9 .5-8.9 .5 7.5 .5-14.4 .5 29.5 .5-23.5 .5-22.4 .5 40.8 .5-12.9 .5-7.8 .5 45.2 .5-32.8 .5-17.5 .5 10.4 .5 14 .5-8.3 .5 20.4 .5-2.6 .5-26 .5 11 .5 7.8 .5-15.3 .5-1.5 .5 17.9 .5-6.6 .5-26.1 .5 11.5 .5 1.8 .5 4.3 .5-7.8 .5 29 .5-30.9 .5-.6 .5 18.7 .5-32.9 .5 17.5 .5 23.3 .5-26.2 .5 6.9 .5 26.5 .5-8.6 .5-5.6 .5 2.3 .5-11.9 .5 14.1 .5-6.4 .5 34.8 .5-23.9 .5-11.3 .5 4.3 .5 2.1 .5-18.5 .5 8.4 .5 32.5 .5-38 .5 12.3 .5 22.8 .5 6 .5-33.9 .5 32.4 .5-24.4 .5 25.9 .5-15.7 .5-11 .5 12 .5-3.5 .5-18.5 .5 35.4 .5-33.5 .5 16.8 .5-22.4 .5-18.4 .5 7.4 .5 12.3 .5 9.9 .5 14 .5-19.8 .5-3 .5-9.9 .5 16.6 .5 6.3 .5-29.4 .5 45.1 .5-.8 .5 14.9 .5-39.1 .5 11.8 .5-.5 .5-17 .5 5.5 .5-1.9 .5 18.5 .5-.7 .5 11.9 .5-20.8 .5-11.3 .5 23.9 .5 .1 .5 4.5 .5 7.6 .5-22.6 .5 16.5 .5-23.3 .5 12.7 .5 4.7 .5-12.2 .5 1.8 .5-22.2 .5 6.9 .5 7.9 .5-18.4 .5 2.9 .5 38.2 .5-26.1 .5-13.5 .5-2.3 .5 30.5 .5-43.9 .5 24.6 .5 13.3 .5-13.1 .5 14.9 .5-18.1 .5 13.8 .5 1.4 .5-.1 .5 1.5 .5-1.9 .5 12.6 .5-18 .5-5 .5 2.8 .5-1.1 .5-15.7 .5-5.2 .5 6.7 .5 20.1 .5-11.5 .5 3.4 .5 35.3 .5-15.7 .5-16 .5-4.8 .5 25 .5-26.1 .5 25 .5-7.7 .5 9.9 .5-25.8 .5 20.1 .5-33.4 .5 20 .5 15.2 .5-5 .5-31.3 .5 30.5 .5-3.2 .5-6.7 .5-8.5 .5 5.1 .5-3.8 .5 18.5 .5-5.9 .5 7.6 .5-4.2 .5-23.4 .5 18.3 .5 25.7 .5-38.3 .5 18.5 .5-11.3 .5 .3 .5 14.9 .5 9.8 .5-1.1 .5-3.4 .5 5.9 .5-32 .5 29.1 .5-6.2 .5-8.4 .5 .9 .5-11.4 .5 23.6 .5-24.1 .5-9.1 .5 17.8 .5-6.8 .5 6.6 .5 19.7 .5-19.7 .5 3.4 .5 26.2 .5-45 .5 21 .5 8.8 .5 3 .5 7.5 .5-36.9 .5 13.9 .5-9.9 .5-5.5 .5-4 .5-9.4 .5 22 .5 5.5 .5-21.2 .5 23.4 .5-14.4 .5-3.9 .5-12 .5 41.8 .5-2.7 .5-10.6 .5 .9 .5-9.6 .5 23.5 .5-6.2 .5 8 .5-4.2 .5-19.5 .5-2.2 .5 23.5 .5-26.6 .5 23 .5 6.7 .5-27.8 .5 22.9 .5-8.7 .5 5.1 .5-14.9 .5 7.1 .5 5.1 .5 17.2 .5-13.1 .5-2.3 .5-21 .5 20.9 .5-11.2 .5 8.6 .5 5.3 .5 9.5 .5-3.8 .5-4.3 .5-2.7 .5 17.2 .5-27.4 .5 10.8 .5 15.6 .5-19.8 .5 11.6 .5-.1 .5 12.3 .5-11 .5-34.3 .5 19.4 .5 3 .5 6 .5-5.7 .5 17.7 .5-9.9 .5-27.8 .5 6.2 .5-17.6 .5 45.2 .5-22.7 .5-.6 .5-17.6 .5 13.3 .5 9.9 .5-10.6 .5-.6 .5-3.6 .5 30.1 .5-31.6 .5-12.1 .5 9.7 .5 .7 .5 1.8 .5-2.7 .5-11.1 .5 10.6 .5 7 .5-21 .5 41 .5-2.5 .5-41 .5 18.3 .5 17.4 .5 4.9 .5 6.1 .5-42.5 .5 9.2 .5 7.5 .5 12.8 .5-19.2 .5 17.8 .5 .1 .5 2.9 .5-24.2 .5 17.2 .5-1.9 .5-6.2 .5 19.9 .5-19.3 .5 20.4 .5-24.3 .5 27.3 .5-.4 .5-28.6 .5 14.5 .5 .6 .5-14.3 .5 21.6 .5-1.5 .5-16.7 .5 11.5 .5 9.1 .5-12.9 .5-7.3 .5 26.5 .5-31.8 .5 14.4 .5 8.1 .5-4.7 .5-31.3 .5 17.5 .5 2.4 .5-.5 .5 10.9 .5 .4 .5-3.2 .5 3 .5 9.8 .5 3.8 .5-33.6 .5 45.7 .5-29.2 .5 14.9 .5-25.5 .5 12.1 .5-7.8 .5 24.6 .5-2.2 .5-9.1 .5-1.8 .5 5.6 .5-13.2 .5 3.3 .5-1.4 .5 15.5 .5-7.6 .5-12.2 .5 15.8 .5 2.3 .5 8.8 .5-16.9 .5 9.9 .5 16.4 .5-20.2 .5 1.1 .5 8.5 .5-8.2 .5 4.9 .5-4.2 .5-2.3 .5 14.6 .5-11.3 .5-5.9 .5 5.9 .5 .9 .5 3.3 .5 5 .5 6.8 .5-27.6 .5 7.9 .5-15 .5 17.3 .5 1.8 .5-11.4 .5-3 .5-1.2 .5-4.8 .5 19.3 .5 11.9 .5-26.9 .5 25.8 .5-14.7 .5-10.5 .5 18.7 .5 2.8 .5-2.5 .5-5.2 .5 18.1 .5-17.4 .5 8.6 .5 .1 .5-14.2 .5-9.1 .5 .6 .5 11.6 .5 6.1 .5-20.6 .5 8.6 .5 19.5 .5-31.9 .5 19.5 .5-2.2 .5 3 .5-21.6 .5 16.1 .5-16.2 .5 25.2 .5-20.1 .5 12.1 .5-10.2 .5 9.5 .5-14.7 .5 17.7 .5 3.7 .5-5.1 .5 15.5 .5-11.4 .5 3.8 .5-2.8 .5 12.4 .5-24.3 .5 3 .5-.2 .5 7.3 .5-4 .5 4.9 .5-5.4 .5-8.2 .5 4 .5 4.7 .5-25.5 .5 35.2 .5-19.1 .5 2.4 .5 6.6 .5-4.7 .5-12 .5 12.9 .5 17.1 .5-3.1 .5 2.2 .5-18.9 .5 3.5 .5 13.5 .5 4.5 .5-16.3 .5-11.7 .5-11.5 .5 36.5 .5-34.1 .5 21 .5 4.2 .5 15 .5-25.3 .5-4.8 .5 5.6 .5-.6 .5 8.7 .5-8.6 .5-17.7 .5-16.1 .5 27.6 .5-11.2 .5 24.6 .5-30.7 .5 18.7 .5-9.3 .5 .1 .5 31.2 .5-15.3 .5-2.2 .5 12.2 .5-16.1 .5 5.7 .5-2.5 .5 29.8 .5-19 .5 2.7 .5 4.5 .5-15.8 .5-1 .5-18 .5 22.2 .5-3.8 .5-8.7 .5 16.7 .5-34.4 .5 23.4 .5-20.9 .5 1.6 .5 9.2 .5 16 .5-28.6 .5 1.1 .5-3.2 .5 34.1 .5-17.1 .5-2.2 .5-44.3 .5 40.9 .5-25.9 .5 16.4 .5-7.9 .5 33.8 .5-36.8 .5 18.1 .5-8.4 .5 1.2 .5 5.5 .5-.7 .5-4.7 .5-4.4 .5 7.4 .5-2.7 .5 2.7 .5 11.6 .5-1.9 .5 7 .5-7 .5 22 .5-27.2 .5-3.2 .5 19.7 .5-18.3 .5 7.5 .5 7.5 .5-11.8 .5-1.8 .5 13.9 .5-5.6 .5-7.6 .5-5.6 .5 8.9 .5-11.3 .5 8.7 .5-.9 .5 14.6 .5 5.9 .5-11.6 .5 3.8 .5-4.1 .5-.4 .5 10.9 .5 11.4 .5 1.5 .5 1.7 .5-7.3 .5-16.9 .5 29.1 .5 4.1 .5-3.3 .5 .2 .5 2 .5 10.4 .5-18 .5 11 .5-7.6 .5-2.1 .5-8.5 .5-3 .5-8.3 .5 15.6 .5-9.1 .5-8.9 .5 4.1 .5-4.4 .5 27.3 .5-17.8 .5 3.8 .5-12.7 .5 2.1 .5 21.5 .5-12.7 .5 4.9 .5 16.7 .5 2.7 .5-14.8 .5-2.4 .5-3.1 .5-6.1 .5 24.1 .5-35.2 .5 11.7 .5-20.3 .5 6.9 .5 18.2 .5 .6 .5-1.2 .5-7.4 .5-4.4 .5 1.7 .5 1.4 .5 16.4 .5 3.6 .5-12.7 .5-61.5 .5 42.8 .5 13.1 .5-8 .5-20.6 .5 36.5 .5-18 .5-5 .5-7.8 .5-1 .5 21.7 .5-22.2 .5 13.1 .5 7 .5 15.2 .5-14.5 .5-7.2 .5-4.4 .5 15.9 .5 2 .5-17 .5 12.2 .5-8.7 .5-17.8 .5 7 .5 21.1 .5 7 .5-9.6 .5-10.9 .5-6.6 .5 14.2 .5-2.9 .5-22.9 .5 26.3 .5-15.7 .5 16.3 .5-1.1 .5 2.7 .5 4.6 .5-3.5 .5-19.5 .5 1 .5 24.1 .5-6 .5-22.8 .5-4.6 .5 33.3 .5 15.2 .5-14.8 .5-10.9 .5 6.7 .5-26 .5 14.7 .5 23.2 .5-.3 .5-30.4 .5 36.5 .5-5.5 .5 5.4 .5-10.5 .5 3.4 .5-9.8 .5 15.2 .5 6.7 .5-17.4 .5 13.6 .5-8.3 .5 15.5 .5-.6 .5-30.7 .5 25 .5 4.7 .5-15.3 .5 2.6 .5 0 .5-9.5 .5 9 .5 14.6 .5-9.6 .5 9.3 .5-4.6 .5 2.1 .5-8.9 .5 6.5 .5 11.7 .5-3.6 .5-8.7 .5-7.6 .5-.6 .5 11.4 .5 2.9 .5-18.8 .5 18.8 .5 1.8 .5 .1 .5-7 .5 24.3 .5-11.5 .5-19.3 .5 5.8 .5 13.4 .5-2.4 .5-3.1 .5-1.2 .5-1.4 .5-1.8 .5-4.9 .5 13.9 .5-24.3 .5 12.5 .5 16.7 .5-18.1 .5-4 .5 27.3 .5-7.8 .5-11.3 .5-4.4 .5 3.5 .5-.8 .5 1.8 .5-4.1 .5 14.8 .5-9.9 .5-11.8 .5 7.3 .5 16.2 .5-9.8 .5-11.9 .5 43.9 .5-10.5 .5-12.4 .5-1.6 .5 11 .5 8.8 .5-24.4 .5 10.6 .5-13.1 .5 9.6 .5-17.9 .5-9 .5 21 .5-2.4 .5 8.1 .5-16.4 .5 22.1 .5-15.2 .5 15.5 .5-22 .5 20.3 .5-18.1 .5 2.3 .5 9.6 .5-30.4 .5 8.8 .5 34.2 .5-36.6 .5 12.9 .5 13.5 .5 12.1 .5-21 .5 8.7 .5-13.2 .5 9.4 .5 16.8 .5-7.5 .5-3.9 .5 5.2 .5-3.6 .5-.1 .5-6.6 .5-7.9 .5 18.1 .5-21.9 .5 24 .5 11.8 .5-7.9 .5 8 .5-39.1 .5 14.2 .5-12.9 .5 .6 .5-11.6 .5 5.7 .5 24 .5-1.6 .5 6.2 .5-.5 .5-3.4 .5-17.8 .5 8.7 .5 10.6 .5 6.7 .5-18.2 .5-.8 .5 1.2 .5 24.1 .5-11.7 .5-10.2 .5-5.4 .5 13.9 .5-25 .5 16.6 .5-4.4 .5-.6 .5 8.9 .5 2.1 .5 21.2 .5-25.3 .5 6.7 .5-17.8 .5-10.3 .5 32.6 .5 9.3 .5-35.5 .5 10.3 .5 13.4 .5-14.3 .5-30.3 .5 36.8 .5-15.8 .5 8.7 .5-22.2 .5 21.3 .5 .8 .5-22.8 .5 14.2 .5-15.1 .5 .6 .5-6.3 .5 4.6 .5-3 .5 23.3 .5-17.9 .5-11.6 .5 31.1 .5-10.6 .5 5.6 .5-13 .5 9.7 .5-9.4 .5-10.1 .5 13.6 .5 .8 .5 .1 .5 8.5 .5-31.7 .5 24 .5-14.2 .5 5 .5-48.7 .5 49.7 .5-10.5 .5 15.2 .5-11.4 .5 10 .5 1.8"/>
</g>
<rect x="129.5" y="25.9" width="857" height="637.9" fill="none" stroke="#000" stroke-width="1.9" stroke-linejoin="miter"/>
<path stroke="#000" stroke-width="1.9" d="M167.9 663.8v8.4M271.9 663.8v8.4M375.8 663.8v8.4M479.8 663.8v8.4M583.7 663.8v8.4M687.7 663.8v8.4M791.6 663.8v8.4M895.6 663.8v8.4M129.5 635h-8.4M129.5 541.2h-8.4M129.5 447.5h-8.4M129.5 353.8h-8.4M129.5 260h-8.4M129.5 166.2h-8.4M129.5 72.5h-8.4"/>
<g style="font-size:24px"><text x="167.9" y="699.2" text-anchor="middle">0</text><text x="271.9" y="699.2" text-anchor="middle">20</text><text x="375.8" y="699.2" text-anchor="middle">40</text><text x="479.8" y="699.2" text-anchor="middle">60</text><text x="583.7" y="699.2" text-anchor="middle">80</text><text x="687.7" y="699.2" text-anchor="middle">100</text><text x="791.6" y="699.2" text-anchor="middle">120</text><text x="895.6" y="699.2" text-anchor="middle">140</text><text x="112.7" y="644.2" text-anchor="end">0.0</text><text x="112.7" y="550.5" text-anchor="end">0.1</text><text x="112.7" y="456.7" text-anchor="end">0.2</text><text x="112.7" y="362.9" text-anchor="end">0.3</text><text x="112.7" y="269.2" text-anchor="end">0.4</text><text x="112.7" y="175.4" text-anchor="end">0.5</text><text x="112.7" y="81.7" text-anchor="end">0.6</text></g>
<text x="558" y="732.5" text-anchor="middle" style="font-size:24px">Time (ns)</text>
<text transform="translate(59.4 344.8) rotate(-90)" text-anchor="middle" style="font-size:24px">RMSD (nm)</text>
<rect x="764" y="536.7" width="210.2" height="115.1" rx="4.8" fill="#fff" fill-opacity="0.8" stroke="#cccccc" stroke-width="1.9"/>
<path stroke="#ff0000" stroke-width="1.75" d="M773 556h49.3"/>
<text x="840.8" y="564.9" style="font-size:24px">1nod_ARG</text>
<path stroke="#0000ff" stroke-width="1.75" d="M773 592h49.3"/>
<text x="840.8" y="600.9" style="font-size:24px">1nod_CRV</text>
<path stroke="#008000" stroke-width="1.75" d="M773 628.1h49.3"/>
<text x="840.8" y="637" style="font-size:24px">1nod_TML</text>
<clipPath id="cAR"><rect x="1145.9" y="21.4" width="857.3" height="638.4"/></clipPath>
<g clip-path="url(#cAR)" fill="none" stroke-width="1.75" stroke-linejoin="round">
<path stroke="#ff0000" d="M1164.1 176l3.1 188 4.7 190 2.5-3 5.3-165.4 2.2 15.4 2.5-31 4.6 81 3.2-25 4.7-125 3.7-93.5 3.2-78.5 2.5-9 3.1 119 3.1 156 3.1 181 3.2 6.5 3.7 6.5 2.5-10 3 13 2.6-19 3.8 31 3.6 0 3-40 4.3-56.5 4.7 15.5 4 6 3.8-53 4.7 100 6.3 16 4.6-6.4 3.2 25 4.4-18.6 3.4 9 6.2-53 4.7-37.4 4.1-12.6 2.2 44 3.1-9.5 4.7 34.5 4.6 12 4.8-21.5 4.6 25 3.2-31.5 3.1 16 4.7-44 4.6 41 4.8 15 3.1 31.6 9.1 14.4 8 7.5 7.9-9.5 9.4-6 8.7-3.5 3.9-13.5 2 11.6 3.9-21.6 2.9 33 3.9 6 4.9-6 4.9-13.4 3.9 3.9 3.9 3.9 4.8 7.6 5 0 4.8 4 3.9-8 3.9 6 3.9-15.4 3-31.6 2.9-37 2-2 2.9 41 3.9 33.5 4.8 13.5 4 6 4.9-4 4.9-19.4 3.9-68.6 2.3-33 2.5 43 3.9 64.4 4.9 7.6 5.9 2 4.8 0 5 2 3.9-2 3.9-35 3.9-68.3 3.5-58.7 3.3 39 3.9 59 2.9 7.5 4 5.9 3.9 11.6 3.8 16 4 5.6 3.9-9.6 3.9-4 2.9-12 3.9-4 2 12 2.9-2 5.9 2 3.9 12 3.9 19 5.8 2 4.9-15.4 3.9-17.6 4.5-55 4.3 51 4.9 29.4 3.9 2 3.9-17.4 4.5-22 4.3 31.6 1.7 7.8 4.9 5.6 3.9-19.3 3.9-33.2 2.9-37.1 3 11.6 2.9-13.6 3.9 19.6 3.9 5.8 3.9 33.2 3 25.4 4.8 9.6 5.9-4 7.8-13.4 4.9 15.4 5.8-2 3.9-11.4 4.9 15.4 5.9 0 5.9 2 1.9-29 2 2 3.9 9.6 3.9-11.6 4.8 7.7 4.5-39.1 2.4 13.4 3.9 14 5.9-51 4.8 51 3-19.6 4.8-21.4 4.9-4 3.9-33.2 3.9-3.8 3-35.2 3.9-23.8 2.9-58.3 3.5-58.7 2.4-47 2.9 105.7 2.9 97.3 3 41.4 3.9 7.6 3.9 19.7 3.9 25.3 3.9 8 5.8 11.7 3.9 5.8 3.9 7.5 5-29 3.8 4 4 15.6 5.8-19.6 2.9-2 4.9 2 4.9-4 3.9 8 3.5-13 3.1 9 4.7-18.4 2.5 15.4 3.8-40.4 4.7 12.4 3.1-18.6 4.7 62.6 3.1 9 4.6-22 6.4 3.5 4.6-59.5 4.7 0 4.7-9.3 3.2 31.3 4.6-6.2 4.8-6.3 4.6 37.5 3.2 12.5 3.2-6.5 6 31.6 4.8-3.2 6.2-18.7 4.8-6.7 4.7-40 3.5-252 2.5-400 2 0 1.5 151"/>
<path stroke="#0000ff" d="M1164.1 577.8l3.1 7.8 3.1-34.6 4.7-250 5.3-267 4.1 142 3.1 219 2.5 62.5 2.2 59.5 3.1 6 4.7 25 2.5-69 3.1-3 6.3-147 2.1 25 2.3-42 4 99 2.2 46.5 2.5-6.5 3 85 4 3 4 43.5 1.5 18.5 3.1-43.5 4.7-56.5 4.7-12 4 34 3.8-40.5 4.7 90.5 3.5 6 4.3 31.6 3.1-18.6 3.2 25 4.4-28 3.4 21.6 4.6-59.6 4.8-112 2.2 25 2-41 5 113 3-3.5 2.8 43.5 2.2-18.5 3.7 31.5 4.1-19 3.7 25 4.1-37.5 3.1 15.5 4.7-44 4.6 41 3 28 4.9 16 9.1 17 8 6 4.8-4.5 4.6 3.1 6.3-9.6 4.7 5 5.6-2 2-8 2.9 2 3.9-7.5 1.9 5.5 2 8 3.9 4 3.9-4 2.9-2 3-17.4 1.9 7.8 2-9.7 3.9 11.7 4.8 5.6 5 2 3.9 6 2.9-6 3.9 6 3.9-8 3.9 2 3.9-35 2-41 1.9 41 3.9 31 3.9 4 4.9 12 4.9-2 3.9-14 3.9-50.5 2.9-156.5 2-154 1.9 154 3 180 3.9 25 3.9 4 3.9 0 3.9 6 4.9 3 4.9-5 3.9-47 3.9-68 3.5-59 3.3 39 2.9 69 3 29 2.9 8 3.5-12 2.4 25.5 3.8 3.5 4 12 3.9-9.6 2.9-2.4 3.9-17 3.9-8 2 10 2.9-10 3.9-10 2.9 14 4.9 23.4 4.9 11.6 4.9-2 3.9-2 2.9-15.4 4.5-87.9 3.3 48.8 3.9 50.5 3.9 4 4.9-15.4 4.9-35.2 3.9 35.2 2.7 15.4 4.9 4 2.9-11.6 3.9-11.7 3.9-31.3 3 3.6 2.9-21 3.9 25 2.9-9.5 2.9 21.5 4 21.4 4.9 17.6 4.8-4 5.9-2 3.9-6 5.9 8 4.8-2 3.9-15.5 4.9 17.5 5.9 0 4.9 8 4.9-14 3.9-4 2.9-19 3.9 19 3.9-19 2.9-10 3-14 2.9 24 3.9-29.5 3.9-43 3.9 66.5 3.9 0 3.9-25.5 4.3 17.5 3.5-43 3 12 2.9-43 2 7.7 2.9-58.7 1.9 6 2-68.4 1.5-3.9 2.4-44.9 2.9 44.9 3 78.1 1.9 58.6 2 33.2 1.9-11.6 3.9 37 4.9 6 2.9 19.4 3.9-5.8 3.9 13.4 3-5.6 4.8 7.6 5-27 3.8 0 2 21 3.9 0 3.9-21 4.9 4 4.9 9.5 4.9-5.8 2.9 5.8 2.5-24.5 3.1 13 3.2-19 4 19 3.8-50 4.7 15 4-15 3.8 53 3.1 3 4.6-19 4.8 10 4.7-3 6.2-50.5 3.2 18.5 4.7 25 3.1-6 3.1-28 3.2 3 3 19 6.3 12 7.7 38 6.4-6.4 4.6-15.6 4.8 3 4.7-9 3.1-141 2.4-438 1.5-170"/>
<path stroke="#008000" d="M1164.1 174.7l4.7 185.9 2.2 18.4 1.5 47 1.9 6.5 2.2-21.9 1.4 12.4 2.3-62.4 1.9 0 2.2 40.4 2.5-6 3.1-6 3.8-31.5 2.5-56.5 2.1 13 3.2-175 2.2 31 1.8-50 2.2 106 1.6-65.4 3.1 118.4 2.2 3.5 1.6 78.1 4 6.4 2.2 59 4.1 22 2.2 72 3.2 12.5 3 43.5 2.5 28 3.5-59 5-59.4 3.4 15.4 3.6 16 5-69 2 25 2.5 91 3.5-3.4 4.3 31.4 3.1-9.5 3.2 21.5 4.4-21.5 3.4 15.5 5.3-50 4.1-72 1.8-12 3.8 50 3.6 6 4.8 34 3.2 0 3 16 4-16 3.9 25 3.7-40 3.2 21.6 5.6-53.1 4.6 46.5 4.8 22 3.1 31.5 9.1 12.5 9.6 9 9.4-12 9.4-13 5.6-2 3.9-25.6 2.4 15.6 3.5-21.5 2.9 50.5 3.9 8 5.9-6 3.9-25 1.9 11.6 3-11.6 4.8 9.7 5.9 11.7 5.9 7.6 3.9-6 6.8 0 3.9 4 5.9-31 5.8 27 8.8 14 6.8-14 5.9-78 3.9-49 2-101 1.9 121 3.9 93.7 5.9 1.9 5.8 7.8 5.9 5.6 4.9-31 4.9-39 3.9-59 3.9-52.4 3.9 43 4.9 80.1 4.9-15.7 3.9 27.4 3.8-7.8 4 15.4 3.9-13.5 2.9 11.5 3.9-27 3.9-4 2 17.6 2.9-9.8 4.9-5.8 3.9 7.8 4.9 31.2 7.8 17.6 5.8-17.6 5.9-88 3.9 49 3.9 49 5.9-6 7.8-27.4 4.9 41 .7 3.9 5.9-9.7 4.9-45 5.8-44.8 2.9 7.7 4-23.4 1.9 9.7 2-9.7 2.9 15.7 3.9 74 4.9 21.6 4.9 13.4 6.8 0 3.9-9.5 4.9 11.5 6.8-11.5 2.9-11.7 3 23.2 4.9-2 4.8 4 4 4 5.8-11.6 3.9-46.9 2.9-78.5 3 0 3.5-66 2.3 41 3 45 2.9 58.5 5.9-95.7 3.9 72.2 3.9-68.3 2.9 33.3 6.8-4 3.9-19.5 3.9-9.8 3-21.7 3.5-25.2 2.3 13.7 2-50.8 2.5-136.7 1.9-79.5 2 79.5 2.4 80 2.9 115 2 49 2.9-5.7 2.9 31.2 3.9 0 5.9 35.2 4.9 13.7 3.9-2 4.8 13.6 5-13.6 3.8 7.6 3 19.8 6.8-23.8 4.9-23 2.9 33 3.9-15.5 4.9 17.5 3.5-9 4.7 6 3.1-31 4.7-25 4.8-3 3-16 2.2-18.6 2.5 81.4 4.7 15.2 4.6-34 3.2-6.2 3.2 15.6 4.6-90.7 2.5 3.1 3.2 34.2 3.7-12.3 4.6 18.8 3.2 37.5 3.2-12.5 4.6 6.3 3.8-56.4 4.1 40.6 4.7 72 6.2 3 4.7-15.5 4.7-34.5 4.7-53 3.1-113 3.2-375 1.3-170"/>
</g>
<rect x="1145.9" y="21.4" width="857.3" height="638.4" fill="none" stroke="#000" stroke-width="1.9" stroke-linejoin="miter"/>
<path stroke="#000" stroke-width="1.9" d="M1162.3 659.8v8.4M1262.4 659.8v8.4M1362.5 659.8v8.4M1462.6 659.8v8.4M1562.7 659.8v8.4M1662.8 659.8v8.4M1762.8 659.8v8.4M1862.9 659.8v8.4M1963 659.8v8.4M1145.9 565h-8.4M1145.9 446.7h-8.4M1145.9 328.4h-8.4M1145.9 210.1h-8.4M1145.9 91.8h-8.4"/>
<g style="font-size:24px"><text x="1162.3" y="695.2" text-anchor="middle">0</text><text x="1262.4" y="695.2" text-anchor="middle">50</text><text x="1362.5" y="695.2" text-anchor="middle">100</text><text x="1462.6" y="695.2" text-anchor="middle">150</text><text x="1562.7" y="695.2" text-anchor="middle">200</text><text x="1662.8" y="695.2" text-anchor="middle">250</text><text x="1762.8" y="695.2" text-anchor="middle">300</text><text x="1862.9" y="695.2" text-anchor="middle">350</text><text x="1963" y="695.2" text-anchor="middle">400</text><text x="1129.1" y="574.2" text-anchor="end">0.1</text><text x="1129.1" y="455.9" text-anchor="end">0.2</text><text x="1129.1" y="337.6" text-anchor="end">0.3</text><text x="1129.1" y="219.3" text-anchor="end">0.4</text><text x="1129.1" y="101" text-anchor="end">0.5</text></g>
<text x="1574.6" y="728.5" text-anchor="middle" style="font-size:24px">Residue Number</text>
<text transform="translate(1075.7 340.6) rotate(-90)" text-anchor="middle" style="font-size:24px">RMSF (nm)</text>
<rect x="1469.3" y="33.4" width="210.5" height="115.1" rx="4.8" fill="#fff" fill-opacity="0.8" stroke="#cccccc" stroke-width="1.9"/>
<path stroke="#ff0000" stroke-width="1.75" d="M1478.3 52.7h49.3"/>
<text x="1546.1" y="61.6" style="font-size:24px">1nod_ARG</text>
<path stroke="#0000ff" stroke-width="1.75" d="M1478.3 88.8h49.3"/>
<text x="1546.1" y="97.7" style="font-size:24px">1nod_CRV</text>
<path stroke="#008000" stroke-width="1.75" d="M1478.3 124.8h49.3"/>
<text x="1546.1" y="133.7" style="font-size:24px">1nod_TML</text>
<clipPath id="cBL"><rect x="127" y="806.3" width="857.5" height="638.5"/></clipPath>
<g clip-path="url(#cBL)" fill="none" stroke-width="1.75" stroke-linejoin="round">
<path fill="#ff0000" d="M166 1166.1l2-.6 2 8.5 2 29.3 2 29.8 2 18.4 2 11.2 2 1.4 2 8.8 2 3.7 2-2.8 2 .2 2 6.5 2 8.6 2 3 2-5.6 2-6.6 2 .1 2 5.1 2 1.6 2-4.3 2-3.4 2 4.1 2 9.5 2 4.9 2-3.1 2-5 2-3.6 2 .2 2 5.1 2-1.4 2-9.1 2-.3 2 15 2 19.1 2 6.7 2-9.4 2-11.7 2-2.4 2 1.2 2-2.9 2-5.4 2-2 2 2.3 2 7.1 2 11.7 2 14.2 2 9.5 2 2.1 2-6.5 2-11.7 2-17.5 2-7.7 2 6.9 2 5.7 2-1.1 2 2.7 2 11.7 2 12 2 2.6 2-8 2-14.3 2-14.4 2-6.3 2 3.9 2 8.5 2 2.8 2-4 2-7.6 2-6 2 1.6 2 5.7 2 2.2 2 3.3 2 6 2 2.5 2-.1 2 1.5 2 6.3 2 4.4 2-7.4 2-14.6 2-6.9 2 5.7 2 7.9 2 .9 2-4.6 2-1.6 2 4 2 4.9 2-.1 2-6.3 2-7.1 2-.5 2 6.7 2 5.1 2-.1 2 2.9 2 4.5 2-6.4 2-16.2 2-9.7 2 4.6 2 7.7 2-.6 2-4 2 2.3 2 9 2 7.8 2 1.7 2-2.6 2-1.6 2 1.6 2 2.4 2-2.7 2-9.8 2-9.6 2-.7 2 8.5 2 6.4 2 .8 2 1.6 2 8.3 2 7.6 2 .9 2-1.3 2-.9 2-2.3 2-1.2 2 1.9 2 4 2 7 2 10 2 5.4 2-3.3 2-10.4 2-11.2 2-.1 2 10.3 2 7.9 2 1 2-2.4 2-6.4 2-2.3 2 9.9 2 13.1 2 8.7 2 6.6 2 2.2 2-7.7 2-14.8 2-9.4 2 .5 2 4.6 2 4.3 2 3.5 2 .7 2-4 2-4.8 2-3.4 2 .2 2 3.8 2 .6 2-3.4 2-1.2 2 5.9 2 8.5 2 5.3 2 5.1 2 6.6 2 2.4 2-7 2-11.2 2-3.3 2-1.3 2 .7 2-3.2 2-7.6 2-13.9 2-19.7 2-16.4 2-6.3 2 .8 2 2.7 2 .9 2-.6 2-1.6 2 3.9 2 .1 2-4.8 2-3.6 2 5.7 2 9.7 2 5.6 2 5.5 2 7.2 2 .5 2-6.3 2-2 2 3.9 2 4.2 2 4.6 2 2.8 2 4.5 2 11.9 2 10 2-3.9 2-17.5 2-18.7 2-4.9 2 10.6 2 11.9 2 3.8 2-.3 2-2.6 2-7.6 2-6.8 2 1 2 6.8 2 11.4 2 10.3 2-3.2 2-13.1 2-11.5 2-10.3 2-10.7 2-5.2 2 5.5 2 12.1 2 10.8 2 8.7 2 5.5 2 2 2 3.5 2 1.6 2-6.9 2-12.4 2-7.3 2 .9 2-1.2 2-8.4 2-3 2 8.3 2 16.9 2-18.9 2-21 2-30.1 2-6.9 2-5.4 2 1.6 2 8.6 2 8.8 2 4.1 2-.7 2-5.7 2-5.7 2-1.1 2-.1 2-1.7 2-.9 2 1 2 4.9 2 9.1 2 4.8 2-2.3 2-1.8 2-1.6 2-5.2 2-3.6 2-.9 2-2.7 2-4 2 18.5 2 22.2 2 25.1 2 12.8 2-1.6 2 .6 2 7.7 2 5.8 2-6.1 2-12.6 2-11.2 2-5.1 2 1.1 2 1.1 2-2.9 2-1.7 2 6.1 2 12.2 2 5.6 2-8.2 2-12.6 2-8.1 2-5.5 2-3.1 2-.8 2-2 2-.6 2 6.4 2 7.4 2-.1 2-3.7 2 3.1 2 8.5 2 2.5 2-3.6 2-.2 2 5.7 2 6.4 2-1.7 2-13 2-13.6 2-3.4 2 1.8 2 .1 2 1.7 2 2.2 2-1.4 2-4.7 2-5.3 2 .1 2 7 2 5.3 2-3.2 2-8.2 2-4.4 2-.4 2-2.6 2-2.8 2 3 2 7.4 2 3.4 2-.8 2 .5 2 4.6 2 3.4 2-1.7 2 .9 2 7.9 2 1 2-14.3 2-13.4 2 1.5 2 7.5 2 2.2 2-.9 2-1 2-4 2-3.6 2 6.2 2 14.7 2 13 2 3.6 2-7.6 2-9.6 2-1.5 2 4.5 2 2.5 2-2.2 2-1.7 2 .6 2-1.1 2-1.8 2 .1 2 .7 2-.3 2-6.1 2-9.2 2-.9 2 8.4 2 9 2 1.4 2-12.6 2-7.1 2 1.2 2-1.9 2-14.2 2-23.3 2-24.3 2-13.7 2 2.3 2 11.4 2 12.3 2 5.8 2-3.1 2-8.2 2-6.9 2 .6 2 6.8 1 3.1 0 21.9 -1-3.1 -2-6.8 -2-.6 -2 6.9 -2 8.2 -2 3.1 -2-5.8 -2-12.3 -2-11.4 -2-2.3 -2 13.8 -2 24.3 -2 23.3 -2 14.2 -2 1.9 -2-1.1 -2 7.2 -2 12.6 -2-1.4 -2-9 -2-8.4 -2 .9 -2 9.2 -2 6.1 -2 .3 -2-.7 -2-.1 -2 1.8 -2 1.1 -2-.6 -2 1.7 -2 2.2 -2-2.5 -2-4.5 -2 1.5 -2 9.6 -2 7.6 -2-3.6 -2-13 -2-14.7 -2-6.2 -2 3.6 -2 4 -2 1 -2 .9 -2-2.2 -2-7.5 -2-1.5 -2 13.4 -2 14.3 -2-1 -2-7.9 -2-.9 -2 1.7 -2-3.4 -2-4.6 -2-.5 -2 .8 -2-3.4 -2-7.4 -2-3 -2 2.8 -2 2.5 -2 .3 -2 4.3 -2 8.1 -2 3.1 -2-5.3 -2-7.1 -2-.3 -2 5.3 -2 4.5 -2 1.4 -2-2.3 -2-1.8 -2-.2 -2-1.9 -2 3.3 -2 13.5 -2 12.9 -2 1.6 -2-6.5 -2-5.8 -2 .1 -2 3.5 -2-2.6 -2-8.5 -2-3.3 -2 3.6 -2 0 -2-7.4 -2-6.5 -2 .4 -2 1.9 -2 .7 -2 3.1 -2 5.3 -2 8.1 -2 12.5 -2 8.1 -2-5.8 -2-12.2 -2-6.2 -2 1.6 -2 2.8 -2-1.2 -2-1.1 -2 5 -2 11.2 -2 12.5 -2 6.1 -2-5.8 -2-7.7 -2-.6 -2 1.5 -2-12.8 -2-25.1 -2-22.2 -2-18.5 -2 4.2 -2 2.8 -2 1.1 -2 3.8 -2 5.3 -2 1.8 -2 2 -2 2.4 -2-4.6 -2-8.9 -2-4.7 -2-.9 -2 1 -2 1.9 -2 .3 -2 1.3 -2 5.9 -2 5.9 -2 .8 -2-3.9 -2-8.7 -2-8.4 -2-1.4 -2 5.6 -2 7 -2 29.8 -2 20.7 -2 18.6 -2-16.6 -2-7.9 -2 3.2 -2 8.4 -2 1.2 -2-.9 -2 7.3 -2 12.4 -2 6.9 -2-1.6 -2-3.5 -2-2 -2-5.5 -2-8.7 -2-10.8 -2-12.1 -2-5.5 -2 5.2 -2 10.7 -2 10.3 -2 11.5 -2 13.1 -2 3.2 -2-10.3 -2-11.4 -2-6.8 -2-1 -2 6.8 -2 7.6 -2 2.6 -2 .3 -2-3.8 -2-11.9 -2-10.6 -2 4.9 -2 18.7 -2 17.5 -2 3.9 -2-10 -2-11.9 -2-4.5 -2-2.8 -2-4.6 -2-4.2 -2-3.9 -2 2 -2 6.4 -2-.4 -2-7.1 -2-5.5 -2-5.5 -2-9.6 -2-5.7 -2 3.9 -2 5.3 -2 .5 -2-3.4 -2 1.5 -2 .6 -2-.9 -2-2.8 -2-.8 -2 6.2 -2 16.3 -2 19.5 -2 13.6 -2 7.3 -2 3.1 -2-1 -2 1.1 -2 3.4 -2 11.3 -2 7.1 -2-2.3 -2-6.5 -2-5.1 -2-5.1 -2-8.4 -2-5.9 -2 1.3 -2 3.6 -2-.6 -2-3.6 -2-.1 -2 3.5 -2 4.8 -2 4.1 -2-.7 -2-3.5 -2-4.3 -2-4.6 -2-.5 -2 9.5 -2 14.8 -2 7.8 -2-2.2 -2-6.6 -2-8.7 -2-13.1 -2-9.8 -2 2.3 -2 6.5 -2 2.5 -2-1.1 -2-7.9 -2-10.2 -2 .2 -2 11.4 -2 10.4 -2 3.5 -2-5.3 -2-9.8 -2-7 -2-3.9 -2-1.7 -2 1.3 -2 2.4 -2 1 -2 1.5 -2-.8 -2-7.5 -2-8.1 -2-1.6 -2-.6 -2-6.3 -2-8.4 -2 .7 -2 9.6 -2 9.8 -2 2.7 -2-2.4 -2-1.6 -2 1.6 -2 2.6 -2-1.7 -2-7.8 -2-9 -2-2.3 -2 4 -2 .6 -2-7.7 -2-4.6 -2 9.7 -2 16.2 -2 6.4 -2-4.5 -2-2.9 -2 .1 -2-5.1 -2-6.7 -2 .5 -2 7.1 -2 6.3 -2 .1 -2-4.9 -2-4 -2 1.6 -2 4.6 -2-.9 -2-7.9 -2-5.7 -2 6.9 -2 14.6 -2 7.4 -2-4.4 -2-6.3 -2-1.5 -2 .1 -2-2.5 -2-6 -2-3.3 -2-2.2 -2-5.7 -2-1.6 -2 6 -2 7.6 -2 4 -2-2.8 -2-8.5 -2-3.9 -2 6.3 -2 13.9 -2 13.8 -2 7.6 -2-3 -2-12.5 -2-12.2 -2-2.5 -2 2 -2-4.8 -2-6 -2 8.6 -2 18.4 -2 12.6 -2 7.3 -2-2.8 -2-10.2 -2-15 -2-12.4 -2-7.8 -2-3 -2 1.2 -2 5.5 -2 3 -2-1.1 -2 2.5 -2 11.8 -2 9.6 -2-6.7 -2-19 -2-14.9 -2 .4 -2 9.3 -2 1.4 -2-5 -2 0 -2 3.5 -2 4.9 -2 2.9 -2-5 -2-9.6 -2-4.4 -2 3.3 -2 4.2 -2-1.7 -2-5.3 -2-.2 -2 6.5 -2 5.4 -2-3.2 -2-8.7 -2-6.6 -2-.4 -2 2.7 -2-3.9 -2-9 -2-1.5 -2-10.6 -2-17.8 -2-29.2 -2-28.7 -2-11.2 -2-2.1z"/>
<path stroke="#ff0000" d="M166 1162.4l.5-16.8 .5 2.9 .5 9.5 .5 68.5 .5-46.1 .5-8.6 .5-.6 .5 34.5 .5 6.9 .5-42 .5 80.1 .5-69 .5 32.3 .5 29.4 .5 44.4 .5-54.2 .5 24.2 .5 34.4 .5-15.7 .5 17.7 .5 .2 .5-19.6 .5 13 .5 10.7 .5-27 .5 45.7 .5-100.1 .5 31.3 .5 68.6 .5-26.3 .5-27.9 .5 31.2 .5 21.9 .5-45.4 .5 38.3 .5-25.3 .5-.2 .5 .6 .5 33 .5-64.7 .5 21 .5 29.5 .5-53.9 .5-9.8 .5 63.1 .5-14.9 .5-2.4 .5 10.4 .5-30.1 .5 99.3 .5-95.3 .5 18 .5-27.3 .5 30.5 .5 57.4 .5-44.3 .5 16.2 .5-33 .5 66.1 .5-50.5 .5-43.7 .5 57.9 .5-35.4 .5 27.8 .5-14.6 .5 3.5 .5-3.4 .5-30.4 .5-16.8 .5 75.5 .5-31.9 .5 14 .5-21.6 .5-46.3 .5 22.6 .5 80.5 .5-66.6 .5 11.1 .5-34.1 .5 27.1 .5 3.4 .5 3.5 .5 3.8 .5-17.4 .5 2 .5 17.9 .5 11.7 .5-12.4 .5 60.2 .5-44.8 .5 1.1 .5-22.9 .5 54.1 .5-62 .5-17.5 .5 20.3 .5 49.3 .5-55.5 .5 75 .5-42.3 .5-48 .5 38.9 .5 61.9 .5-84.1 .5-15.2 .5 56.4 .5 24.1 .5-9.9 .5-42.8 .5 16 .5 4.5 .5 27.2 .5 31.5 .5-69.2 .5 45.4 .5-50.1 .5 29.8 .5-47.3 .5 4.6 .5 35.1 .5-42.8 .5 52.9 .5-47.1 .5 17.3 .5-6.5 .5-8.3 .5 14.7 .5 30.7 .5 42.3 .5-106.2 .5 50 .5-9.8 .5-17.6 .5 41.8 .5-30.9 .5 28.7 .5 43.6 .5-97.3 .5 70.4 .5 6 .5-43.9 .5 42.9 .5-8.1 .5-24.6 .5 43.9 .5-79.6 .5 56.2 .5-28.7 .5-26.4 .5 25.7 .5-5.4 .5 35.4 .5-69.2 .5 39.5 .5-7.5 .5 60.9 .5-81 .5 64.6 .5-85.1 .5 61.6 .5-15.6 .5 13.9 .5-33.7 .5-38.5 .5 11.1 .5 85.3 .5-33.5 .5-33 .5 54.3 .5-50.4 .5 .8 .5-13.9 .5 76.8 .5 26.9 .5-91.5 .5 42.5 .5 25 .5 40.3 .5-139 .5 80.9 .5 20.5 .5-67.5 .5 67.1 .5-3.6 .5 21.2 .5-42.1 .5 36.7 .5-33.9 .5 43.4 .5-15 .5-18.5 .5-37 .5 107.3 .5-21 .5-10 .5-55.6 .5 8.7 .5 66.4 .5-35 .5-57.8 .5 25.9 .5-1.5 .5-15.9 .5 93.4 .5-54 .5-24.3 .5-26.7 .5-43.7 .5 32.1 .5 19.7 .5 29 .5-35.8 .5 47 .5-27.7 .5-25.3 .5-42.7 .5 31 .5-9.2 .5 38.4 .5 13.4 .5 29.6 .5-39.4 .5-31.2 .5 100.7 .5-55.3 .5-13.5 .5 3.3 .5-27.9 .5 60.9 .5-4.2 .5 38.5 .5-11.7 .5-4.9 .5 12.7 .5-45.4 .5-5.1 .5 10.7 .5-37.8 .5 31 .5-8.4 .5 27.3 .5-24.3 .5-62.1 .5 56.1 .5 39.3 .5-105 .5 30.1 .5 21.1 .5-44.7 .5 22.6 .5 17.8 .5-44 .5 50.9 .5 4.4 .5-51.5 .5 42.6 .5 35.4 .5-37.3 .5 21.5 .5 8.5 .5-26.2 .5 39.4 .5-18.4 .5-43.4 .5 47.2 .5 10 .5-3.1 .5-47.1 .5 33.1 .5 27 .5-37.9 .5 28.1 .5 1.7 .5-43.8 .5 20.6 .5-30.9 .5 42.4 .5-36.4 .5-13.7 .5 17.7 .5 0 .5 15.9 .5 4.1 .5-50 .5 17.1 .5 32.5 .5 4.2 .5-12.2 .5 70.9 .5-37.2 .5-36.7 .5 26.7 .5 20.7 .5-29 .5-64.8 .5 59.4 .5-.3 .5 66.4 .5-124.6 .5 106.9 .5-53.5 .5 34.2 .5-38.6 .5 14.7 .5 30.2 .5-32.7 .5 31 .5-34.9 .5-9.2 .5 7.6 .5-7.2 .5 14 .5 48.5 .5-78.3 .5-14.5 .5 51.9 .5 53.1 .5-21.5 .5 6.4 .5-5.2 .5-65.9 .5 22.9 .5-80.5 .5 50.3 .5 35.4 .5-70.4 .5-17.1 .5 23.7 .5 48.3 .5 31.2 .5 36.7 .5-24.4 .5-90.5 .5-23.2 .5 79.8 .5 30.3 .5-83.2 .5 35.1 .5 2.3 .5 14.8 .5-7.7 .5 20.8 .5 15.9 .5-32.2 .5 20.4 .5 38.6 .5-95.1 .5-.6 .5 49.7 .5 43.3 .5-51.8 .5 30.5 .5-42.7 .5 40 .5-47.4 .5 42 .5-8.2 .5 .3 .5 30.7 .5-10.3 .5-53.5 .5 45.4 .5-83.1 .5 82.8 .5 36.4 .5-54.7 .5-2.4 .5-15.3 .5 23.4 .5-40.8 .5 35.6 .5-28.9 .5-3.5 .5 19 .5-3.9 .5-50.8 .5 122 .5-59.4 .5-56.7 .5 88.1 .5-34.6 .5 7.3 .5 15.7 .5-50.6 .5-48.1 .5 73.8 .5 11.7 .5 25.2 .5-54 .5 16.9 .5 22.1 .5-22 .5 1.9 .5 14.7 .5-41.5 .5 78.3 .5-82.6 .5 26.1 .5-15.8 .5-16.1 .5 35.5 .5 12 .5 11.9 .5-28.5 .5-32.5 .5 42.2 .5-71.1 .5 49.2 .5 17.2 .5 3.4 .5-52.2 .5-9.7 .5 100.2 .5-68.4 .5-36.3 .5 11.9 .5 38.3 .5 35.5 .5-38.3 .5 37.2 .5-31 .5 7.9 .5 17 .5-41.5 .5 23 .5-19.4 .5-5.5 .5 43.2 .5-44.2 .5 30.5 .5-25.7 .5 23.6 .5-12.8 .5 51.6 .5-31.8 .5-.3 .5 49 .5-127.4 .5 38.7 .5-40.3 .5 73.5 .5 13.5 .5 6 .5-11.9 .5-35.9 .5 82.9 .5-45.1 .5-17.2 .5-26.5 .5 49.3 .5-28.2 .5 1.6 .5 20.7 .5-.2 .5-33.6 .5 63.8 .5-73 .5-6 .5 42.2 .5-8.6 .5-4.7 .5-17.8 .5 11.9 .5-20.8 .5-35.4 .5 74.5 .5-54.9 .5 25.5 .5 31.9 .5-20.1 .5 73 .5-113.2 .5 22.6 .5 28 .5 41 .5-49.1 .5-36.3 .5 80.5 .5-64.4 .5 22.4 .5 33.4 .5-48 .5 7.3 .5 30.1 .5-19.9 .5 17.1 .5-35.8 .5 27.9 .5-27.5 .5-12.2 .5 103.5 .5-38.7 .5 14.9 .5-57.4 .5 28.7 .5-5.6 .5-37.4 .5 59.5 .5-38.9 .5 15.5 .5-40.1 .5 76 .5-7.4 .5-11.5 .5-39.8 .5 10.7 .5 52.4 .5-45.8 .5 15.8 .5-4.2 .5-38 .5 79.2 .5-104.9 .5 66.4 .5-8.7 .5-45 .5 59 .5 6.5 .5-12.9 .5-25 .5 39.3 .5 21.3 .5-24.6 .5 46.5 .5-23.1 .5-.2 .5 20.8 .5-57.9 .5 6.2 .5 32.1 .5 1.2 .5 29.5 .5-10.7 .5-29 .5 .2 .5-16 .5-4.7 .5-4.9 .5 36.5 .5-42.9 .5 .3 .5 11.8 .5-22.1 .5 6 .5-57.8 .5 73.1 .5-19 .5 15.8 .5 7 .5-61.1 .5 121.2 .5-57.3 .5 3.5 .5-53.7 .5 71 .5-4.6 .5-21.1 .5 18 .5 29.9 .5-46.1 .5-16.3 .5 63.6 .5-31 .5-13.6 .5 60.5 .5-53.6 .5-11.2 .5 10.8 .5-20.6 .5 16.5 .5-2.1 .5-22.5 .5 12.7 .5 18.4 .5 4.9 .5 9 .5 9.2 .5-11.9 .5 10.8 .5-22.6 .5 6 .5 39 .5-83.6 .5 68.4 .5 30 .5-89.7 .5 84.9 .5-79.4 .5 61.1 .5 20.3 .5-1.2 .5-54.5 .5-12.1 .5-5.7 .5 58.5 .5-34.4 .5 7.7 .5 3.3 .5 .3 .5-.2 .5-15 .5-51.6 .5 84.3 .5-108.7 .5 100.4 .5-52 .5 11.9 .5-8.4 .5 5.3 .5 10.9 .5-6.1 .5-21.8 .5 55.9 .5-39.1 .5 55.1 .5-41.1 .5-14.6 .5 33.1 .5 13.5 .5-50.1 .5 18.5 .5 48.4 .5-68 .5 3.9 .5 27.8 .5-39.6 .5-32.6 .5 17.5 .5 55.8 .5 48.4 .5-44.7 .5-6.8 .5-46.2 .5 52.2 .5 12.4 .5-52.1 .5 45.1 .5-36.5 .5 15.7 .5 5.4 .5-50.4 .5 82.6 .5-63.1 .5 21.7 .5-10.2 .5 26.6 .5-.8 .5-11.6 .5 37.5 .5-31.9 .5-19.6 .5-54.1 .5 55.5 .5-.8 .5-16 .5 .6 .5 40.4 .5 13.6 .5 24.8 .5-18.4 .5-48 .5 28.4 .5-41.7 .5 58.4 .5-8.5 .5-24.7 .5 14.8 .5-2.8 .5-9.3 .5 52.4 .5 7.9 .5-17.1 .5 7.9 .5-22.3 .5-12 .5 45.3 .5-42.9 .5 21.2 .5-13.3 .5 18.6 .5-17.8 .5 15.5 .5-51.4 .5 28.3 .5 32.9 .5-63.4 .5 6.8 .5 51.2 .5-27.4 .5 16.2 .5-87.4 .5 63 .5-38.5 .5-3.6 .5 47.7 .5 20.8 .5-70.8 .5 10.6 .5 14 .5 12.2 .5-32.8 .5 84.8 .5-34.8 .5-26.8 .5-5.7 .5 65.9 .5-.7 .5-70.6 .5 20.1 .5 21.9 .5-71 .5 12.3 .5 49.2 .5-61.6 .5 2.2 .5-30.9 .5 11.1 .5 35.5 .5-45.6 .5-16.5 .5 16.6 .5 65.8 .5-46.3 .5-21.6 .5 19.8 .5 8.3 .5-8.7 .5-53.9 .5 60.2 .5-13.8 .5 30.6 .5-61.7 .5 68.5 .5-43.5 .5-34.3 .5 86.3 .5-52.6 .5 25.1 .5-15.4 .5 35.5 .5 .1 .5-.1 .5-11.8 .5-67.1 .5-26.8 .5 80.7 .5-31.7 .5 40.5 .5-8 .5-43.5 .5 10.4 .5-3.1 .5 5.9 .5 17.3 .5 22.5 .5 16 .5-62.9 .5 10.2 .5 54.7 .5-17.9 .5-17.1 .5-65.1 .5 35.3 .5 33.1 .5-17.1 .5 70.4 .5-47.5 .5 7.1 .5-34.5 .5 2.9 .5 11.1 .5 2.2 .5 11.4 .5 17.1 .5-2.1 .5 21.6 .5-59.5 .5 42.7 .5 2.6 .5 36.5 .5-45.8 .5 14.6 .5-29.9 .5 31.3 .5-2.1 .5-28.2 .5 3.2 .5 9 .5 14.4 .5-45.4 .5 52.3 .5-31.1 .5 58.4 .5-10.4 .5-47.1 .5-4.6 .5 76.1 .5-41.6 .5-.6 .5-24.5 .5 8.7 .5 25.4 .5-3.7 .5-36.2 .5 54.4 .5-23.4 .5-31.9 .5 50.8 .5-29.6 .5 25.6 .5-33.3 .5 25.4 .5-48.9 .5 54.4 .5-45.6 .5 46.9 .5-59.7 .5 60 .5 22.7 .5-4.7 .5 19 .5-59.1 .5 66.7 .5-1.6 .5-75.8 .5 6.3 .5 1 .5 9 .5 .2 .5-68.5 .5 69.3 .5-25.7 .5-22.7 .5 48.9 .5-34 .5 38.7 .5-13.9 .5-19.5 .5 41.6 .5-6.1 .5-30.3 .5-25.3 .5 30.3 .5 32.3 .5-20.4 .5 52.8 .5-38.1 .5-1.4 .5 5.5 .5-33.2 .5 19.5 .5-14.1 .5-41.9 .5 12.3 .5 64.1 .5-31.6 .5 6.9 .5-36.8 .5 20.9 .5 33.1 .5-19.9 .5-17.8 .5 51.2 .5-42.1 .5-8 .5 38.6 .5-73.7 .5 59.9 .5-41.6 .5 10 .5 4.5 .5 23 .5 1.9 .5 7.8 .5 .5 .5 34 .5 10.6 .5-22.3 .5 3.7 .5-27.5 .5-17.9 .5 43.2 .5-15.6 .5 18.9 .5-72 .5 102.6 .5-95.1 .5 30.3 .5 21.4 .5-64.2 .5 18.7 .5-40.4 .5 12.7 .5-15.6 .5 50 .5 2.2 .5-18.5 .5 37.9 .5 .6 .5-38.4 .5-7.6 .5-3 .5-5.7 .5 45 .5-27.2 .5-13.6 .5 4.5 .5 22.2 .5-21.5 .5 21.4 .5-5.9 .5 39 .5-2.1 .5-63.5 .5 34.9 .5 24.9 .5-27.5 .5 34.6 .5-10.1 .5 8.7 .5-15.1 .5 11 .5 6.9 .5-50.4 .5 14.9 .5-2.2 .5 69.9 .5-35 .5 2.4 .5-4.3 .5-16.8 .5-4.8 .5 41.9 .5-30.7 .5 50.5 .5-35.8 .5-3.5 .5-9.5 .5 1.7 .5 .3 .5 35.3 .5 16.3 .5-91.5 .5 33.2 .5 8.9 .5-43.5 .5 5.3 .5 3.7 .5-47.5 .5 75.9 .5-17.4 .5-.7 .5 4.8 .5 4.3 .5 51.6 .5-54.9 .5 15.2 .5-36.8 .5 20.1 .5-19.6 .5 1.8 .5-21.8 .5 3.1 .5 33.5 .5 8.7 .5-5.5 .5-26.3 .5 98.4 .5-132.8 .5 84.7 .5-19.9 .5 12.7 .5 17 .5-43.8 .5 29.8 .5-39.3 .5 20 .5-28.8 .5 12.6 .5 23.1 .5-59.8 .5-6.2 .5-.6 .5 7.7 .5 49 .5-74.6 .5-39.1 .5 33.5 .5-25.3 .5 24.4 .5 13.4 .5-25.5 .5 6.7 .5-29.7 .5 52.1 .5-22.1 .5 47.5 .5 1.2 .5-45.5 .5 14.9 .5 13 .5 19.8 .5-57.9 .5 41.3 .5 49.1 .5-46.9 .5 8.5 .5-4.8 .5-28.8 .5 52.2 .5-16.9 .5-3.3 .5 12.6 .5 .1 .5-66.3 .5 55.5 .5-27.3 .5 16.2 .5-22.3 .5-4.6 .5 42.6 .5-23.2 .5-6.7 .5 0 .5 8.8 .5-2.2 .5-54.8 .5 34.4 .5 14.6 .5 22.6 .5 13.8 .5-53.9 .5 66.3 .5-43 .5 9 .5-23.7 .5-1.5 .5 47.1 .5-37.7 .5 3.2 .5 29.5 .5 13.8 .5-71.9 .5 31.6 .5 6.1 .5 43.5 .5 11.3 .5-48.7 .5 11.5 .5 12.5 .5 7.3 .5-32.4 .5 26 .5-35.1 .5-38.1 .5 21.6 .5 34.5 .5 11.9 .5-67.1 .5 9.9 .5 38.6 .5-51.8 .5 64 .5 9.5 .5-75.4 .5 67.3 .5-22.1 .5 33.2 .5-25.7 .5-12.2 .5 6.9 .5 16.9 .5-16.2 .5-3.4 .5-31.5 .5 40.4 .5-9.9 .5 37.4 .5-39.7 .5-2.4 .5-12.2 .5 27 .5-20.3 .5-11.3 .5 52.2 .5 8.2 .5-41.6 .5-6.9 .5 49.8 .5-35.3 .5 67.5 .5-41.3 .5 28.9 .5-40.6 .5 32.5 .5 29.8 .5-7.3 .5-14.1 .5 55.9 .5-29 .5-20.2 .5-8.2 .5 6.5 .5 33.2 .5-44.6 .5 16.6 .5-17.4 .5 44 .5-28.2 .5 23.3 .5-4 .5-21.6 .5 29 .5 6.8 .5-42.3 .5 39.1 .5 29.6 .5-52.1 .5 17.7 .5-43.9 .5 34.7 .5-25.2 .5 25.2 .5-20.4 .5-26.8 .5 44.9 .5-30.4 .5-19.2 .5 20.8 .5-23.3 .5 27.7 .5-10.2 .5-6.6 .5 22.2 .5-40.7 .5 48.2 .5-62.4 .5 77.1 .5-30.1 .5-9.7 .5-10.5 .5 26.7 .5-16 .5-1.2 .5 25.1 .5-32.1 .5 4 .5 14.5 .5 14.5 .5-25.1 .5 8.5 .5-.1 .5 18 .5 19.4 .5-49.5 .5 20.5 .5 4.4 .5 15.9 .5 21 .5-33.1 .5 4.2 .5 18.4 .5-54.7 .5 7.4 .5 3.7 .5 6.5 .5 2.1 .5-19.4 .5 47.9 .5-56.7 .5 9.3 .5 27.1 .5-8.5 .5-18.9 .5 7.4 .5 8.7 .5-19.7 .5 13.9 .5-35.8 .5 21.7 .5-38.9 .5 16.6 .5-5.8 .5 54 .5-39.1 .5 16.8 .5-28.4 .5 15.7 .5-2.3 .5-13.6 .5 39.1 .5-57.2 .5 53.4 .5 36.1 .5-66.1 .5 21.7 .5-34.5 .5 37.3 .5-37.7 .5 55.9 .5-25.2 .5-31.3 .5 12.3 .5-7.6 .5 29.2 .5 25.4 .5-30.2 .5-19 .5 7.8 .5 22.8 .5-56.7 .5 70.3 .5-2.2 .5-62.3 .5 85 .5-64.7 .5 35 .5 33.9 .5-66.6 .5-5.3 .5 16.5 .5-.1 .5 21.5 .5-10.2 .5 0 .5 0 .5 7.3 .5-15.7 .5 29.5 .5-6.6 .5-22.9 .5 70.4 .5-72.9 .5 50.4 .5-34.3 .5 28.1 .5 4.6 .5 8.3 .5 13 .5-56.7 .5 72 .5-46.9 .5-33.4 .5-17.2 .5 83.3 .5-17.1 .5-44.1 .5 16.6 .5 11.9 .5-31.1 .5-13.3 .5 9.7 .5 22.1 .5-19.7 .5-30.5 .5 49.7 .5-61.6 .5 24.3 .5 49.6 .5-25 .5 .1 .5-2.9 .5 23.8 .5-26.5 .5-47 .5 55.9 .5-64.2 .5 7.1 .5 91.8 .5-14 .5-38.5 .5 9.1 .5 3.2 .5 22.2 .5-46.4 .5-4.1 .5 4.9 .5 18.1 .5 1.9 .5-17.9 .5 28.8 .5-45.9 .5 24.6 .5-15 .5-6.7 .5 59.2 .5-37.9 .5-15.7 .5 28.9 .5-25.4 .5 42.5 .5 7.3 .5 4.6 .5-54.6 .5 22.6 .5 50.3 .5-55.6 .5 36.5 .5 4.7 .5-77.9 .5 66.2 .5-13.3 .5 2.4 .5 20.9 .5-32.5 .5-10 .5 14 .5-25.3 .5 21.9 .5-66.8 .5 98.2 .5-60.8 .5 27.5 .5-6.9 .5-6.2 .5-.2 .5-1.2 .5-44.6 .5 29.9 .5 47.5 .5-56.9 .5 1.1 .5 85.8 .5-22.3 .5 10.9 .5-40.7 .5 8.1 .5 13.4 .5-5.3 .5-17.5 .5-36.7 .5 19 .5-20.8 .5 81.5 .5-52.1 .5 6.4 .5 13.1 .5-6 .5 14.7 .5-29.1 .5-22.5 .5 87.5 .5-64.4 .5 6.6 .5-8.6 .5 6.1 .5 14.4 .5 18.5 .5-48 .5 35.3 .5-25 .5 50.4 .5-62.6 .5 37.1 .5 18.3 .5-52.5 .5 40.3 .5 1.8 .5-25.1 .5 14 .5 29.3 .5-23 .5-21.5 .5 1 .5 12.9 .5 17.7 .5-15.5 .5-3.8 .5 20.8 .5-81.6 .5 3.8 .5-20.4 .5 83.3 .5-79.7 .5 60.6 .5 22.5 .5-55.1 .5 19.9 .5 10.7 .5 25.9 .5-58.9 .5 47.7 .5 9.6 .5-14.7 .5 .2 .5 28.3 .5-27.1 .5-6.8 .5-8.8 .5 24.8 .5-25.7 .5 23.3 .5-15.8 .5 25.7 .5-50.9 .5 22.3 .5 7.5 .5 2.9 .5 20.6 .5-16.5 .5 16.5 .5 31.2 .5-25.2 .5-45.5 .5-5.9 .5 58 .5-24.1 .5 19.9 .5-10 .5 39.8 .5-2.3 .5-60.7 .5 35.4 .5-16.6 .5-28.5 .5 48.2 .5-23.3 .5 12.6 .5 45.6 .5-26.8 .5-7.1 .5-39.9 .5-20.2 .5 63.6 .5-39.4 .5 10.1 .5-9.6 .5 13.5 .5 58 .5-66.9 .5 1.4 .5 12.7 .5 1.9 .5-39 .5-15.7 .5 30.2 .5 8.8 .5-15.5 .5-6 .5 1.5 .5 14.1 .5 7.3 .5-39 .5 28.1 .5 23.4 .5-12.6 .5-32.5 .5 25.4 .5 8.2 .5 19.9 .5-62.5 .5 59.5 .5-29.8 .5 17.2 .5 12.5 .5-40.1 .5 1.8 .5 18.1 .5 21.9 .5-32.7 .5-22.4 .5 18.6 .5 27.8 .5 19.7 .5-44 .5 3.4 .5 2 .5-1.1 .5-23.5 .5 10.5 .5 14.6 .5-4.8 .5-3.4 .5-27.1 .5 11.9 .5-3.3 .5 47 .5 12.4 .5-26.4 .5 34.9 .5-46.2 .5 2.6 .5-23.8 .5 41.2 .5-16.4 .5 14.8 .5 10.3 .5-19.4 .5-25.6 .5 24.6 .5-4 .5-.6 .5 13.9 .5-24.9 .5-2.8 .5 50.4 .5-17 .5-29.5 .5-21 .5 13 .5 21.5 .5 11.7 .5 37.7 .5-67.5 .5 7.9 .5-16.1 .5 7.2 .5-16.4 .5-22.7 .5 47.4 .5-28.7 .5 23.1 .5-51.6 .5 13.3 .5 3.9 .5-69.8 .5 8.8 .5 47.6 .5-18.6 .5-50.3 .5 27.2 .5-7.7 .5 15.4 .5 52.9 .5-51.2 .5 68.5 .5-54.5 .5-8.8 .5 61.4 .5-12.3 .5 13.9 .5 17 .5-19.9 .5 5.8 .5-73 .5 23.2 .5 32 .5-6.6 .5 12.1 .5-31.7 .5 38.4 .5 21 .5-38.3 .5 4.2 .5-10.4 .5 8.7 .5-19.6 .5-19.3 .5 17 .5-2.3 .5-40.9 .5 45.5 .5-3.8 .5 6.3 .5-17.3 .5 27.9 .5 5.3 .5-32.3"/>
<path fill="#0000ff" d="M166 1064.6l2-52.8 2-16.6 2 21.1 2 18.6 2 23.4 2 15.7 2 10.5 2 21.3 2 28.3 2 6.8 2-20.4 2-18 2 4.1 2 16.4 2 12.5 2 4.9 2 .4 2 .2 2-1.2 2-2.5 2 7.2 2 20.3 2 19.7 2 8.9 2-2.8 2-7.9 2-6.8 2-4.4 2 0 2-.6 2-5 2 .8 2 9.7 2 3.2 2-6.1 2-1.8 2 8.6 2 5.6 2-10 2-10.8 2 7.7 2 17.7 2 8.7 2-6.7 2-12.4 2-4.4 2 4.9 2 8 2 7.6 2 3.3 2-1.5 2-.7 2-.3 2-8.1 2-13.8 2-5.8 2 8.4 2 16.5 2-2.7 2-31 2-37.2 2 .4 2-.3 2 5.3 2 12.1 2 16.7 2 10.9 2 9.5 2 12.8 2 8.7 2 2.8 2 1.5 2-7 2-9.7 2 .8 2 5.1 2 1.1 2-3.4 2-8.9 2-17 2-7.4 2-6.4 2 2.4 2 1.5 2-3.5 2-6.1 2 3.4 2 10.1 2 1.2 2-8.4 2-5.9 2-.6 2 3.6 2 9.9 2 10.3 2 .3 2-11 2-9.1 2 .2 2 5.8 2 6 2 8.3 2 12.7 2 10.8 2-.6 2-11.6 2-10.3 2 2.9 2 12.1 2 7.7 2 .3 2-.1 2 4.3 2 6.1 2 2.3 2-2.6 2-2.8 2-.5 2 1.7 2 3.6 2 4.4 2 2.4 2-1.2 2-1.7 2 1.4 2 2 2-3.3 2-8.4 2-8.2 2 0 2 13.7 2 16.2 2 4.8 2-5.4 2-5.3 2-5.1 2-4.6 2-3.9 2-1.3 2-2.3 2-5 2-4 2 2.9 2 8.1 2 7.3 2 5.2 2 2.3 2 .7 2 1.3 2-3.1 2-10.4 2-10.1 2 .2 2 11.8 2 15.3 2 8 2-5.8 2-10 2-2.5 2-.4 2-6.1 2-7.8 2-1.2 2 2.5 2 1.8 2 4.2 2 6.9 2 7.1 2 3 2-.8 2 2.2 2 1.6 2-4.6 2-3 2 3.4 2 2.2 2-14 2-15.5 2-7.4 2-5.5 2-14.7 2-18.8 2-.9 2 4.2 2 .6 2-.5 2 .7 2-1.6 2-5.3 2-4.1 2 2.1 2 8.5 2 8.1 2 2.4 2-1.3 2-.6 2 2.7 2 2.1 2-4.3 2-9.4 2-8.1 2-2.8 2 3.5 2 6.8 2 4.2 2 6.5 2 8.4 2 3.4 2-4.3 2 1.3 2 14.5 2 16.3 2 4 2-3.4 2-2.8 2 .6 2-1.6 2-8.9 2-12.1 2-7.2 2 1.6 2 7.7 2 9.7 2 8.5 2 8 2 5.3 2-5.5 2-16.7 2-14.3 2-5.9 2-2.1 2 1.2 2 7.5 2 12.7 2 8.6 2-4.3 2-13.3 2-5.4 2 7 2 8.6 2 3.4 2-4.7 2-7.9 2-2.3 2 4.7 2 5.3 2 4.6 2 7.7 2 8.1 2 5.6 2-1.6 2-3 2-4.6 2-5.1 2 2.3 2 10.3 2 11.1 2 2.4 2-2.9 2-4.5 2-3.2 2-.7 2 3.5 2 5.9 2 1 2-8.8 2-7.8 2 5.6 2 8.4 2-1.9 2-7.4 2-1.6 2 7.9 2 4.2 2-4.5 2-2.9 2 2 2-1.7 2-6 2-3.8 2 1 2 2.8 2 3.5 2 7.4 2 5.8 2-4.2 2-8.3 2-1.8 2 6.1 2 4.7 2-2.4 2-3.1 2-.9 2-1.7 2-1.4 2 3.6 2 9.6 2 7.8 2-.2 2-5.7 2-5.9 2-.8 2 5.4 2 4.6 2 0 2-2.1 2 .3 2 1.9 2-2.9 2-4.2 2 .9 2 3.7 2 4.4 2 2.8 2-2.5 2-5.3 2-3.3 2 .4 2 1.9 2-1.7 2-6.7 2-4.4 2 3.6 2 6.2 2 .2 2-5.4 2-2 2 2.2 2 6.3 2 9.1 2 11.6 2 5.9 2-2 2-3.7 2-2.8 2-2.6 2-2.7 2-1 2 6.1 2 10.1 2 2.6 2-4.9 2-4.8 2-2 2 1.3 2 .5 2-2 2-5.8 2-2.4 2-6.1 2-6.5 2-3.2 2 1.5 2-5.7 2-11.1 2-10.5 2-5 2 .2 2 5.3 2 10.8 2 11.8 2 6.8 2-.5 2-2.7 2-1.7 2-4 2-5.9 2-2.5 2 .4 2 .8 2 .6 2 .6 2 .7 2-.4 2-1 2-.1 2-1.4 2-1.7 2 3.7 2 2.3 2-4.9 2-5.1 2-.1 2 6.5 2 11.2 2 8.1 2-.4 2-6.3 2-3.7 1 0 0 21.9 -1 0 -2 3.7 -2 6.3 -2 .4 -2-8.1 -2-11.2 -2-6.5 -2 .1 -2 5.1 -2 4.9 -2-2.3 -2-3.7 -2 1.7 -2 1.4 -2 .1 -2 1 -2 .4 -2-.7 -2-.6 -2-.6 -2-.8 -2-.4 -2 2.5 -2 5.9 -2 4 -2 1.7 -2 2.7 -2 .5 -2-6.8 -2-11.8 -2-10.8 -2-5.3 -2-.2 -2 5 -2 10.5 -2 11.1 -2 5.7 -2-1.5 -2 2.4 -2 5.7 -2 5.1 -2 1.6 -2 5 -2 2 -2-.5 -2-1.3 -2 2 -2 4.8 -2 4.9 -2-2.6 -2-10.1 -2-6.1 -2 1 -2 2.7 -2 2.6 -2 2.8 -2 3.7 -2 1.9 -2-6 -2-11.6 -2-9.2 -2-6.3 -2-2.2 -2 2 -2 5.4 -2-.2 -2-6.2 -2-3.6 -2 4.4 -2 6.7 -2 1.7 -2-1.9 -2-.4 -2 3.3 -2 5.3 -2 2.5 -2-2.8 -2-4.4 -2-3.7 -2-.9 -2 4.2 -2 2.9 -2-1.9 -2-.3 -2 2.1 -2 0 -2-4.6 -2-5.4 -2 .8 -2 5.9 -2 5.7 -2 .2 -2-7.8 -2-9.6 -2-3.6 -2 1.4 -2 1.7 -2 .9 -2 3.1 -2 2.4 -2-4.7 -2-6.1 -2 1.8 -2 8.3 -2 4.2 -2-5.8 -2-7.4 -2-3.5 -2-2.8 -2-1 -2 4 -2 6.1 -2 2 -2-1.8 -2 3.2 -2 4.7 -2-3.9 -2-7.7 -2 1.8 -2 7.6 -2 2 -2-8.2 -2-5.4 -2 8 -2 8.9 -2-.7 -2-5.8 -2-3.3 -2 .9 -2 3.4 -2 4.7 -2 3 -2-2.2 -2-11.1 -2-10.3 -2-2.3 -2 5.1 -2 4.6 -2 3 -2 1.6 -2-5.6 -2-8.1 -2-7.7 -2-4.6 -2-5.3 -2-4.7 -2 2.3 -2 7.9 -2 4.7 -2-3.4 -2-8.6 -2-7 -2 5.4 -2 13.3 -2 4.3 -2-8.6 -2-12.7 -2-7.5 -2-1.2 -2 2.1 -2 5.9 -2 14.3 -2 16.7 -2 5.5 -2-5.3 -2-8 -2-8.5 -2-9.7 -2-7.7 -2-1.6 -2 7.2 -2 12.1 -2 8.9 -2 1.6 -2-.6 -2 2.8 -2 3.4 -2-4 -2-15.7 -2-13.9 -2-.7 -2 4.9 -2-2.8 -2-7.8 -2-5.9 -2-4.2 -2-6.8 -2-3.5 -2 2.8 -2 8.1 -2 9.4 -2 4.3 -2-2.1 -2-2.7 -2 .6 -2 1.3 -2-2.4 -2-8.1 -2-8.5 -2-2.1 -2 4.1 -2 5.3 -2 1.6 -2-.7 -2 .5 -2-.6 -2-4.2 -2 .9 -2 18.1 -2 14 -2 4.8 -2 6.7 -2 14.8 -2 13.3 -2-2.2 -2-3.4 -2 3 -2 4.6 -2-1.6 -2-2.2 -2 .8 -2-3 -2-7.1 -2-6.9 -2-4.2 -2-1.8 -2-2.5 -2 1.2 -2 7.8 -2 6.1 -2 .4 -2 2.5 -2 10 -2 5.8 -2-8 -2-15.3 -2-11.8 -2-.2 -2 10.1 -2 10.4 -2 3.1 -2-1.3 -2-.7 -2-2.3 -2-5.2 -2-7.3 -2-8.1 -2-2.9 -2 4 -2 5 -2 2.3 -2 1.3 -2 3.9 -2 4.7 -2 5.1 -2 5.3 -2 5.5 -2-4.7 -2-16.2 -2-13.7 -2 0 -2 8.2 -2 8.4 -2 3.3 -2-2 -2-1.4 -2 1.7 -2 1.2 -2-2.4 -2-4.4 -2-3.6 -2-1.7 -2 .5 -2 2.8 -2 2.6 -2-2.3 -2-6.1 -2-4.3 -2 .1 -2-.3 -2-7.7 -2-12.1 -2-2.9 -2 10.3 -2 11.6 -2 .6 -2-10.8 -2-12.9 -2-8.3 -2-6.1 -2-5.8 -2-.2 -2 9.1 -2 11 -2-.3 -2-10.3 -2-9.9 -2-3.6 -2 .6 -2 5.9 -2 8.4 -2-1.2 -2-10.1 -2-3.4 -2 6.1 -2 3.5 -2-1.5 -2-2.4 -2 7.9 -2 8.9 -2 18.5 -2 8.9 -2 3.4 -2-1.1 -2-5.1 -2-.8 -2 9.7 -2 7 -2-1.5 -2-2.8 -2-9.3 -2-14 -2-10.7 -2-12.1 -2-17.9 -2-11.9 -2-5 -2 .5 -2-.2 -2 39 -2 32.8 -2 3.7 -2-16.4 -2-8.3 -2 5.9 -2 14 -2 8.3 -2 .4 -2 .8 -2 1.7 -2-3.2 -2-7.5 -2-7.8 -2-4.8 -2 4.5 -2 12.5 -2 6.9 -2-8.6 -2-17.6 -2-7.5 -2 10.8 -2 10.2 -2-5.4 -2-8.5 -2 1.9 -2 6.3 -2-3.1 -2-9.5 -2-.8 -2 5.2 -2 .7 -2 .2 -2 4.5 -2 6.9 -2 8.1 -2 2.8 -2-9 -2-19.9 -2-20.4 -2-7.3 -2 2.4 -2 1.1 -2-.3 -2-.5 -2-4.8 -2-12.4 -2-16.3 -2-4 -2 18 -2 20.5 -2-6.7 -2-28.4 -2-21.4 -2-10.6 -2-15.8 -2-23.5 -2-18.7 -2-23.5 -2 21.6 -2 65.2z"/>
<path stroke="#0000ff" d="M166 1083l.5-16.9 .5-37.9 .5-64.5 .5 63.4 .5 25.1 .5-96.6 .5 .7 .5 97.6 .5-68.4 .5 27.8 .5 29.1 .5 22.7 .5-6.3 .5 1.7 .5 42.9 .5-42.7 .5 29 .5-24.5 .5 10.2 .5 67.2 .5-71.5 .5-69.6 .5 89.3 .5 6.9 .5 60.9 .5-76.3 .5-25.3 .5 48.7 .5 65.5 .5-73.6 .5 63.6 .5-20.9 .5 12.4 .5-46 .5 39.7 .5-25.5 .5 34.3 .5-22.2 .5 64.9 .5-61 .5 7 .5-76.9 .5 38.7 .5 111.7 .5-102.9 .5-49 .5 52.9 .5-10.5 .5-11 .5 7.8 .5-4.4 .5 53 .5-72.3 .5 54.6 .5 26.5 .5-57.5 .5 115.9 .5-75 .5-2.7 .5-13.8 .5 49.5 .5-82.9 .5 78 .5 58.3 .5-65.4 .5 17.8 .5-61.9 .5 60.4 .5-55 .5 11.9 .5 16 .5 68.2 .5-88.8 .5-48.4 .5 73.6 .5 22.7 .5-4.8 .5-16.1 .5 40.5 .5-17.4 .5-1.1 .5-43.9 .5-34.9 .5 114 .5-85.1 .5 82.7 .5 1.7 .5-78.9 .5 24.6 .5 43.9 .5 24.7 .5-65.6 .5 27.4 .5-24.2 .5-5 .5 48.6 .5-20.2 .5-56.6 .5 86.9 .5-30.7 .5-2.4 .5-36 .5 72.2 .5-17 .5-2.1 .5-15 .5 13.6 .5 42.8 .5-52.2 .5 .8 .5-25.7 .5 39.1 .5-32.6 .5-17.5 .5 66.7 .5-46.2 .5-24.8 .5 5.8 .5 6.2 .5-20.3 .5 88.6 .5-31.8 .5-70.5 .5 88.4 .5-55.4 .5 22 .5-22.1 .5 29.5 .5 .8 .5 15.7 .5 4.8 .5-107.5 .5 64.6 .5 17.4 .5-6.2 .5-44.1 .5 36.1 .5 4.6 .5-66.5 .5 38.9 .5 53.4 .5-52.1 .5 19.3 .5 6.7 .5 18.8 .5 9.9 .5 13.7 .5-29.2 .5 5.5 .5-9.5 .5 12.9 .5-10.6 .5 28.5 .5-3.7 .5-73.9 .5-33.3 .5 87.5 .5-35.8 .5-37.1 .5 83.3 .5 18.6 .5-88.1 .5 9.2 .5 12.5 .5 .2 .5 27.3 .5-29.2 .5 41.2 .5-9.2 .5 51 .5-36.7 .5 33.7 .5 19.9 .5-33.9 .5 2.1 .5-40.7 .5 13.3 .5 72 .5-33.3 .5-46.9 .5-16.7 .5 6.6 .5 40.2 .5-103.6 .5 76.4 .5-50.5 .5 91.5 .5-91.9 .5 78.7 .5-37.5 .5 12.1 .5 55.6 .5-52.2 .5 24.5 .5-7.8 .5-48.5 .5 37.7 .5 34.1 .5-19.7 .5-4.6 .5-29.6 .5 72.9 .5-68.6 .5 75.4 .5-52.2 .5 16.3 .5-68.1 .5 49.1 .5-33.8 .5 33.3 .5 35.8 .5-27.6 .5-4.3 .5 21.3 .5-71.3 .5 38.5 .5-26 .5 50.6 .5-60.7 .5 70.3 .5 10.6 .5-133 .5 60.9 .5-45.1 .5 89.9 .5-64.4 .5 49.7 .5-6.7 .5-35.3 .5-14.4 .5 86.8 .5-49.3 .5 31.3 .5 39.8 .5-50.4 .5-14.2 .5-28 .5 36 .5-45.2 .5-32.8 .5 21.7 .5-10.4 .5-35.6 .5 27 .5 27.4 .5-6.1 .5 37.3 .5-103 .5 57.5 .5-58.7 .5 57.5 .5 25.4 .5-37.3 .5 44 .5-57.7 .5 32 .5 16.8 .5 24.6 .5-40.4 .5 53.2 .5-53 .5-32.4 .5 47.3 .5 43.1 .5-42.2 .5 56.7 .5-47.6 .5 61.1 .5-113 .5 128.7 .5-120.7 .5 60.3 .5-30.6 .5 48.2 .5-12.8 .5 1.1 .5 32.9 .5 14.5 .5-40.3 .5 50.2 .5-93.5 .5 21.8 .5-8.8 .5 59.3 .5 14.4 .5-41.9 .5-6.4 .5-18 .5 58.8 .5 13.2 .5-56.1 .5 9.3 .5-9.9 .5 9.2 .5 13.1 .5-86.9 .5 52.4 .5 43 .5-54.2 .5 70.5 .5 6.1 .5-73.5 .5 6.1 .5 68.1 .5-93.4 .5 19.1 .5-18.1 .5 52.5 .5 10.1 .5 3.6 .5-7.6 .5-55 .5 80.3 .5-41.6 .5-13.2 .5 64.9 .5-56.2 .5 2.2 .5 10.5 .5 31.5 .5-63.7 .5 18.3 .5-85.7 .5 34.6 .5 83.5 .5-4.5 .5-60.5 .5-21.7 .5-11.8 .5 5 .5 17 .5-29.9 .5 43.3 .5-1.1 .5-27.9 .5-1.6 .5 3.2 .5 17.4 .5 6 .5 19.3 .5-63.1 .5 35.3 .5 8.5 .5 6.6 .5 13.7 .5-32.8 .5 44.8 .5 28.3 .5-44.6 .5 32.2 .5-12.5 .5-11.6 .5-15.9 .5 13.2 .5 47.3 .5-53.1 .5-23.9 .5 5.2 .5 31.4 .5-39.6 .5 38.9 .5-6.5 .5-14.4 .5 36.8 .5-78.5 .5 19.6 .5 9.8 .5 15.1 .5-45.5 .5 21.1 .5 50.3 .5-43.4 .5 36.6 .5-28.2 .5-11 .5 36.2 .5 23.7 .5-32.9 .5-30.8 .5 16 .5 9.8 .5 5.4 .5-18.2 .5 41.5 .5-48 .5 51 .5-56.7 .5-1.1 .5 52.1 .5-13.5 .5-29.8 .5-8.1 .5 9 .5 7.1 .5 5.7 .5 21.6 .5-48.5 .5 22.5 .5 3.9 .5-35.5 .5 68.4 .5 14.9 .5-42.9 .5-44.8 .5 26.3 .5 48 .5-76.3 .5 3.5 .5 42.1 .5 29 .5 12.9 .5 8.2 .5-81.9 .5 45.4 .5-7.7 .5 1.8 .5 48.3 .5-8.2 .5-32.2 .5 23.7 .5-2.8 .5 25.3 .5-51.3 .5 28 .5-38.8 .5 27.7 .5-14.9 .5 6.3 .5-7.7 .5 40.2 .5-56.5 .5-3.8 .5 12.8 .5 29.9 .5 9.9 .5-16.7 .5-12.9 .5 9 .5-5.5 .5 31.9 .5-12.6 .5 6.5 .5-4.4 .5 0 .5 27.3 .5-42 .5 23.2 .5 1.2 .5-29.7 .5 61.2 .5-34.8 .5-33.5 .5 54.9 .5-8.5 .5 5.1 .5-21.9 .5-2.8 .5 13.7 .5-38.1 .5 38.8 .5-2.8 .5 20.3 .5-28.9 .5 19.8 .5-52.3 .5 15.8 .5 38.5 .5 16.6 .5-14.7 .5-60.8 .5 11.6 .5 10.7 .5 47.2 .5-46.4 .5 21.8 .5 6.4 .5 .6 .5-14.4 .5 12.9 .5 14.3 .5-16.1 .5-4.3 .5 22.3 .5 19.5 .5 22 .5-87.4 .5 36.3 .5-4.1 .5-30.5 .5 20.4 .5-10.5 .5-8.1 .5 8.8 .5 30.8 .5-42.5 .5 12.5 .5 9.9 .5-21.6 .5-5.6 .5-8.7 .5 21.9 .5 55.1 .5-78 .5 64.5 .5-45 .5-1.2 .5 42.3 .5-7 .5 .4 .5-18.5 .5 19.8 .5-40.1 .5 22.4 .5 13.5 .5-27.6 .5-22.2 .5 62.8 .5-48.3 .5-18.8 .5 42 .5 18.5 .5-14.6 .5-40.8 .5 36.3 .5 11.1 .5 12.7 .5-48.2 .5 7 .5 39.9 .5-2.9 .5 11.8 .5 17.6 .5-64.8 .5 4.3 .5 12.3 .5 51.5 .5-45 .5 28.3 .5-84.3 .5 62.9 .5 16.5 .5 11.2 .5-54.6 .5 67.4 .5-72.5 .5 56.3 .5 5.2 .5-45.7 .5-33.1 .5 88.1 .5-46.6 .5-40.4 .5 42.2 .5-39.4 .5 30.6 .5-32.4 .5-30.1 .5 73.9 .5-35.5 .5 13.3 .5 5 .5-8.4 .5-14.8 .5 25.6 .5 4.7 .5-10.7 .5-15.3 .5 9.3 .5 37.3 .5-7 .5-35.4 .5 23.4 .5 1.5 .5 2.3 .5-11.2 .5 13.5 .5-18.5 .5 28 .5-2.3 .5 5.3 .5 1.2 .5-1.3 .5-32.5 .5-8.9 .5 34.1 .5-12.8 .5 28.8 .5-34.6 .5 4.6 .5-22.2 .5 31 .5-6.9 .5 39.3 .5-27 .5 34.1 .5-54.1 .5-21.1 .5 66.7 .5-15.4 .5 25.5 .5-58.4 .5-29.2 .5 80.7 .5-34.9 .5-24.7 .5 66.1 .5-54.8 .5-23.6 .5 29.4 .5-23.2 .5-7.1 .5 32.4 .5-7.2 .5-3 .5 5.3 .5-27.7 .5 55.9 .5 34.1 .5-37 .5 28.6 .5 20.9 .5-53 .5-9.9 .5-6.4 .5 12 .5 30.4 .5-25.3 .5 30.9 .5-48.7 .5 54.9 .5-52 .5 3.9 .5 2.4 .5-8.3 .5 2.5 .5 17.7 .5-17.6 .5 14.1 .5-31.3 .5-.5 .5-16.5 .5 52 .5-40.9 .5 29.8 .5-10.6 .5-1.7 .5-10.8 .5 18.6 .5-3 .5 28.4 .5-46.7 .5-3.3 .5-20.3 .5 85.5 .5-71.5 .5 38.5 .5-.8 .5-49.2 .5 14.8 .5 34.8 .5-17.9 .5-31.1 .5 36.4 .5 36 .5-27.7 .5 6.7 .5 20.1 .5 23.9 .5-51.5 .5-14.4 .5 15.3 .5-8.7 .5-21 .5 31.2 .5-19.8 .5 55.5 .5-34.4 .5-58.4 .5 34.3 .5 34.8 .5-24 .5-5.8 .5 7 .5-6.5 .5 37 .5-26.5 .5-11.2 .5 43.9 .5-51.7 .5 34.1 .5-32.3 .5 12.9 .5-3.2 .5-17.2 .5 13.1 .5 51.9 .5-65.1 .5 79.3 .5-28.4 .5 20 .5-51.1 .5 40.7 .5-21.7 .5 46.5 .5-65.4 .5 39.9 .5-51.2 .5 48.2 .5-50.7 .5-24.1 .5-10.8 .5 17.8 .5 55 .5-80.2 .5 13.4 .5 16.9 .5 3.1 .5 4.7 .5 37.8 .5-53.7 .5-38.4 .5 60.3 .5-37.8 .5 1 .5 5.9 .5 38.9 .5-15 .5-39.8 .5-13.3 .5 23.9 .5-36.6 .5-29.9 .5 34.6 .5 51.2 .5-49.3 .5 6.1 .5 60.3 .5 .6 .5 .8 .5-68.8 .5 38.6 .5 25.8 .5-9.9 .5-42.8 .5 5.3 .5-16.1 .5 6.7 .5 27.6 .5 0 .5-38 .5 45.9 .5-14.7 .5 32.2 .5-56.8 .5 21.6 .5-76.3 .5 90.2 .5-7 .5 7.6 .5-25.5 .5-.3 .5-2.4 .5 40.4 .5-65.7 .5 28.2 .5 23.3 .5-26.8 .5-14.6 .5 21.4 .5 20.8 .5 40.2 .5-62 .5-48.5 .5 97 .5-30.5 .5 18.3 .5-21.6 .5 1.8 .5-57.7 .5 74.7 .5-50.9 .5 52.6 .5-77.7 .5 93.3 .5-40.8 .5-63.4 .5 73.4 .5 .1 .5 1.1 .5-36 .5 101.4 .5-82.7 .5 45 .5-99.8 .5 85.9 .5-5.5 .5-17.7 .5 35.7 .5-58 .5 29.3 .5-17.9 .5 8.1 .5-39.7 .5 47.4 .5-4.2 .5-8.4 .5-.1 .5-21.2 .5-6.1 .5 12.3 .5 19.1 .5-46.3 .5 35.2 .5 51.7 .5-23.2 .5-48.4 .5 67.1 .5-86.6 .5 45.5 .5 40.4 .5-12 .5-8.1 .5-39.4 .5-15.9 .5 65.5 .5-5.3 .5 42.6 .5-63.4 .5-13.1 .5 16.7 .5-35.7 .5 41 .5 7.6 .5-4.5 .5 52.9 .5 .3 .5-61 .5-6.1 .5 49.7 .5-4 .5-58.7 .5 16.8 .5 2.9 .5-8.6 .5 23.2 .5-13.2 .5 55.3 .5-3.6 .5-53.5 .5 28.3 .5 2 .5 50.5 .5-52.1 .5 37.7 .5 17.9 .5-64.3 .5 34.8 .5-11.7 .5 19.5 .5-57.6 .5 25.4 .5-32.6 .5 60.8 .5-68.1 .5 51.9 .5-41.9 .5 20.5 .5-3 .5 21.2 .5 10.1 .5 13 .5 2.9 .5-37.1 .5-32 .5 56.4 .5-65.8 .5 29.2 .5-19.8 .5 .4 .5 19.7 .5-34.3 .5 26.7 .5 .8 .5 30.4 .5 3.5 .5-7.1 .5-16.4 .5 45 .5-16.5 .5-54.7 .5 42.5 .5 6.4 .5-30.9 .5 29.9 .5-12.5 .5-12.7 .5 26.5 .5-15.5 .5-13.4 .5 33.7 .5-45.9 .5 78 .5-36.7 .5 11.7 .5 22.4 .5-1.6 .5-33.4 .5 13.3 .5 12.8 .5 7.2 .5-60.8 .5 23.4 .5-39.9 .5 .9 .5 17.4 .5-6.3 .5-24.8 .5 3.1 .5 19.7 .5-35.8 .5 40.1 .5-35.3 .5 66.1 .5-32 .5 14.4 .5-28.4 .5 38.2 .5-14.5 .5 7.3 .5-14.7 .5 15.4 .5-16.1 .5 21.3 .5-20.2 .5 3 .5 15.3 .5 1.6 .5-1.5 .5-16.6 .5 14.3 .5 31.2 .5-21.3 .5 3.7 .5-24.2 .5 45.8 .5-44.4 .5 15.9 .5-17.9 .5 28.6 .5-73 .5-13.6 .5 44 .5-48.4 .5 39.2 .5 3.6 .5 14 .5 26 .5-49.3 .5 50.3 .5 20.5 .5 11 .5-68.8 .5 20.1 .5 58.7 .5-75.1 .5 54 .5-21 .5 3.1 .5-59.3 .5 4.3 .5 11.7 .5 37 .5 3.5 .5-42.1 .5 27.7 .5-3.8 .5-27.7 .5-2.5 .5-20.7 .5 21.8 .5 9.5 .5 53.8 .5-8.8 .5-25.7 .5 14.1 .5-29 .5-33.6 .5 64.1 .5 9.7 .5-33 .5-87.4 .5 138.7 .5-3.9 .5-67.3 .5 51.7 .5 16.8 .5-36.5 .5 10.7 .5 36.6 .5 31.7 .5-31.7 .5-15 .5-19.7 .5-15.6 .5 5.3 .5 30.9 .5-23 .5 46.6 .5-69.8 .5 3.8 .5 27.3 .5 5.6 .5-3.9 .5-32.2 .5 7.8 .5 42.6 .5-34.2 .5-2.4 .5 29.9 .5-4.4 .5-8 .5 45.6 .5-75.3 .5 47.5 .5-22.1 .5 44 .5-47.5 .5 44 .5-26 .5 69.3 .5-51.9 .5 50.2 .5-73.6 .5 1.1 .5 23.5 .5-53.2 .5 18.3 .5 60 .5-11.1 .5-34.2 .5 32.4 .5-17.4 .5-.5 .5-36 .5 47.1 .5-38.2 .5 50.6 .5-61.9 .5 81.7 .5-71.4 .5-16 .5 7 .5 38.2 .5-.8 .5-22.1 .5 36.5 .5 29.4 .5-43.2 .5 15.5 .5 2 .5-2.3 .5-63.6 .5 74.8 .5-39.6 .5 1.7 .5 22.9 .5-85.5 .5 73.6 .5-11.9 .5 33.2 .5-28.3 .5 25.3 .5-3.7 .5-50.5 .5 28.3 .5-14.1 .5 15.8 .5-19 .5-15.5 .5 30.3 .5-6.3 .5 16 .5 24.9 .5-47.7 .5 2 .5 31.7 .5-5.8 .5-57.3 .5 36.6 .5-31.5 .5 16.5 .5 9.9 .5 9.3 .5-2 .5 11.7 .5 2.6 .5 26.7 .5-18.2 .5-41.8 .5 50.8 .5-23.8 .5-32.9 .5 3.4 .5 21.9 .5 1.3 .5 5.9 .5-38.9 .5 25.6 .5 50.6 .5-79.9 .5 7.4 .5 27.5 .5 3.9 .5-19.5 .5 13.3 .5-6.8 .5-16.3 .5 15.5 .5-6.7 .5 12.8 .5 6.6 .5-31.9 .5 16.5 .5-18.7 .5 14.7 .5 10.6 .5 12.4 .5-29.6 .5 29.5 .5-14 .5-2.5 .5 1.7 .5-5.8 .5 21 .5-30.4 .5 36.6 .5-18.1 .5 42.3 .5-38.4 .5 17.1 .5 8.1 .5 .3 .5 14.6 .5 0 .5-38 .5-8.5 .5 36.1 .5-21.9 .5-11.8 .5 2.2 .5 16.9 .5-.7 .5-58 .5 28.4 .5 6.6 .5-7.7 .5 45.1 .5 3.6 .5-26.4 .5 32.1 .5-34.8 .5 33.8 .5-12.3 .5-12.2 .5 5.5 .5-21.2 .5 32.3 .5-30.7 .5 18.8 .5-27.6 .5 .5 .5 18.1 .5 .3 .5 22.4 .5-30 .5 10.1 .5 .3 .5 32 .5-37.4 .5-26 .5-6.9 .5 21.8 .5 9.8 .5-23.8 .5 1.5 .5 6.3 .5 20.7 .5 15 .5-24.2 .5-.2 .5 43.7 .5 11.1 .5-23.8 .5-22.4 .5-.6 .5 24.8 .5-50.1 .5 1.3 .5 49.1 .5-49.6 .5 11.6 .5 55.4 .5-52.8 .5 35.8 .5-33.6 .5-16.6 .5 30.8 .5-10.3 .5 19.9 .5-45 .5 41.6 .5-4 .5 13.2 .5-9.3 .5-23.9 .5 47.2 .5-8 .5 .5 .5-6.3 .5-5.4 .5-19.2 .5-24.8 .5 3.5 .5 27.7 .5-42.3 .5 32.1 .5 30 .5-35.5 .5 57.5 .5-71.3 .5 47.6 .5-52.5 .5 45.7 .5 25.9 .5-40.7 .5-20 .5 .9 .5 34.8 .5 3.2 .5-9.8 .5-18.6 .5-11.8 .5 5.4 .5-3.6 .5-10.4 .5 54.5 .5 5 .5 1.8 .5 9.4 .5-46.9 .5-23.1 .5 42.9 .5-8.9 .5-16.5 .5 32.1 .5-17.7 .5 22.4 .5-5.8 .5-26.2 .5 15.9 .5-11.9 .5 16.1 .5-9.6 .5-19.6 .5 26.9 .5-14.1 .5 .6 .5 5.1 .5 42.2 .5-37 .5-11.5 .5-8.6 .5-20 .5 33.7 .5 1.2 .5-11 .5 26.1 .5-6.8 .5 4.8 .5-19.5 .5 34.1 .5-20.1 .5-26.3 .5 11.2 .5 18.4 .5-34.2 .5 37.5 .5-34.4 .5-28 .5 51.8 .5-23.6 .5 12.6 .5-2.2 .5 26.2 .5-20.1 .5 18.8 .5-34 .5 19 .5-13.5 .5 10.9 .5 42.6 .5-60.6 .5 21.7 .5-16.1 .5 14.4 .5-26.1 .5 5.5 .5-23.4 .5 59.6 .5-23.1 .5 4.6 .5-30.8 .5 57.7 .5-6.2 .5-27.9 .5 14.5 .5-9.1 .5 26.5 .5-60.5 .5 50.6 .5 4.3 .5 15 .5-34.8 .5 8.2 .5-4 .5 42.2 .5-9 .5 14 .5-4.8 .5-3.4 .5-37.2 .5 18.4 .5 30.1 .5-20.8 .5-27.4 .5 2 .5 7.7 .5 4 .5 6.2 .5-2.9 .5 8.3 .5 11.5 .5-9 .5-34.3 .5 61.8 .5-46.5 .5-9.8 .5 35.2 .5 5.4 .5-18.7 .5 16.4 .5-29.3 .5 1.3 .5-18 .5 45.1 .5-14.5 .5 32.1 .5-36.9 .5 31.9 .5-18.3 .5 33.9 .5-32.6 .5 28.6 .5-49.3 .5 11.2 .5-3.3 .5 30.3 .5-64.7 .5 17.3 .5 26.4 .5-6.7 .5-.8 .5 8.6 .5-13.9 .5 17.5 .5 12.5 .5-44.7 .5 44.3 .5-40.7 .5-10.5 .5 24.9 .5-.6 .5 7.6 .5-28.9 .5 20.3 .5-10.6 .5 33 .5-21.1 .5-15.9 .5-10.5 .5 19.9 .5 40.5 .5-78.1 .5 21.7 .5 40.8 .5-5.1 .5-28 .5 .5 .5-8.6 .5-12.2 .5 12 .5 17.5 .5-5.2 .5-45.4 .5 29.9 .5-11.8 .5 45.7 .5-65 .5 6.5 .5-4.3 .5 92.9 .5-15.3 .5-49.6 .5 28.6 .5-69 .5 35.2 .5 61.2 .5-64.4 .5-32.3 .5 14.5 .5-2.3 .5 8 .5-2.5 .5-10.6 .5-27.3 .5 35.2 .5-.7 .5-40.2 .5 53.8 .5-18.4 .5 48 .5-30.7 .5-27.7 .5-5 .5 68.9 .5-13.2 .5-13.2 .5 10.4 .5-52.8 .5 66.9 .5-29.7 .5 5.8 .5 30 .5-9 .5-50.2 .5 57.4 .5-19.5 .5 35.2 .5-24.2 .5 11 .5-39.9 .5 3.1 .5-7.7 .5 35.9 .5-32.1 .5 14.9 .5 62.1 .5-30 .5 29.3 .5-69.4 .5-4 .5 10.5 .5 26.4 .5-38.4 .5 68.9 .5-73.4 .5 55.9 .5-61.9 .5 2.9 .5 29.4 .5-10.5 .5-8.4 .5-3.6 .5 18.7 .5-21.8 .5 61.7 .5-27.4 .5-7 .5-38 .5 77.7 .5-44.7 .5-25.3 .5-6.6 .5-40.3 .5 46.5 .5-35.8 .5 13.6 .5 71 .5-43 .5-12.3 .5 64.3 .5-60 .5 68.9 .5-59.3 .5 17 .5-19.7 .5-4.9 .5 19.3 .5 29.6 .5-32.7 .5-28.1 .5-19 .5 75.5 .5-49.2 .5-9.1 .5 39.1 .5 .1 .5 2.3 .5-31.7 .5-33.5 .5 62.4 .5-15.3 .5 .1 .5-20.9 .5 37.9 .5-11 .5 6.9 .5 24.9 .5-37 .5-2.9 .5-.4 .5-34.2 .5 29.5 .5 33.1 .5-7 .5-35.9 .5-18.2 .5 41.6 .5-11.1 .5 2.7 .5 33.9 .5-42.9 .5 35 .5-19.2 .5 15.7 .5-37.4 .5 18.7 .5 12.4 .5-8.8 .5 8.5 .5-6.3 .5 55.5 .5-101.3 .5 79.1 .5-17.2 .5-31.4 .5 12.5 .5-23.1 .5 52.4 .5 1.9 .5-9.8 .5 29.8 .5-86.6 .5 9 .5 20.8 .5 29.2 .5-6.5 .5-39"/>
<path fill="#008000" d="M166 1234.4l2-64.6 2-78.8 2-50.1 2-46.4 2-38.3 2-23.4 2-8.8 2 21.6 2 5.6 2-14.9 2-25.1 2-20.6 2-2.7 2 9.9 2 2.5 2-.5 2 12.9 2 39.3 2 28.2 2 8.5 2 .7 2 8.2 2 13 2 10.1 2 6 2 2.5 2-3.6 2-4.7 2 .1 2-5.7 2-6.3 2-13.7 2-16.7 2 8.7 2-2.2 2-10.4 2 7.2 2 28.4 2 34.9 2 18.3 2-8.3 2-15.9 2-19.8 2-27.6 2-16.9 2 3.8 2 11.9 2-7 2-6 2-9.8 2-19.5 2 4.8 2 4.4 2 3.2 2 2.5 2 7.7 2 6.5 2-3.1 2-3.5 2 8.6 2 8.7 2 2.6 2-5.5 2-6.1 2-2.7 2 1.2 2 8.3 2 19.5 2 11.1 2-7 2-9.7 2 1.7 2 8.8 2 4 2 0 2 1.3 2 5.1 2 5.1 2 14.2 2 22.8 2 23.9 2 18.2 2 2.1 2 2.1 2 2.2 2-3 2-10.5 2-14.1 2-8 2 5.3 2 12 2 4.5 2-4.3 2-1.8 2 5.7 2 2 2-8.9 2-10.4 2-4.1 2-2.3 2 3.1 2 8.4 2-1.1 2-12.3 2-9.9 2-7.6 2-8.1 2-3 2-4.9 2-11.1 2-2.9 2 15.6 2 18.2 2-.3 2-11.8 2-7 2-7.1 2-8.1 2 5.5 2 20.4 2 16.4 2 0 2-11.9 2-14.9 2-11.3 2-1.4 2 7.3 2 6.2 2 .9 2 0 2 1 2-1.9 2-1.2 2 8.9 2 14.1 2 8.5 2 2.5 2-.1 2 3.6 2 10 2 10.3 2 2.9 2 .5 2 2.8 2-.9 2-5.9 2-8.5 2-3.6 2 9.8 2 14.5 2 3.3 2-2.9 2 1.7 2 3 2-2.4 2-1.7 2-1.2 2-8.3 2-14.5 2-8.2 2 2.9 2 5.7 2 4.8 2 3.9 2 .4 2-3.7 2-2 2 3.9 2 1.5 2-10.7 2-16.7 2-8.6 2 4 2 4.2 2-3 2-.4 2 7.2 2 5.5 2-1.4 2-.4 2 2.2 2 2.4 2-1.4 2-9.8 2-13.8 2-8.5 2 .5 2 4.5 2 2.2 2 11 2 15.6 2-2.6 2-18.9 2-16.9 2-6.7 2 4.8 2 6.2 2-1.3 2-2.1 2 2.8 2 2.9 2 5.5 2 11.7 2 15.9 2 14.9 2 8.3 2 6.8 2 4 2 5.7 2 4.3 2 .3 2-8.1 2-10.2 2 3.5 2 14.7 2 9.3 2-2.4 2-5.1 2-1 2 1.9 2 1.3 2-1.5 2-3.3 2-1.8 2 2.8 2 2.5 2-2.4 2 5 2 14.3 2 3.8 2-8.7 2-8.8 2-5.5 2-1.3 2 3.6 2 4.8 2 4.4 2 3.8 2-.8 2-3.8 2-1.4 2-1.4 2-5.5 2-4.3 2 3.5 2 8 2 5.6 2 1.9 2-.3 2-3.7 2-6.7 2-7.5 2-3 2 6.2 2 12.1 2 5.8 2-7.9 2-11.9 2-4.3 2 2.7 2 2.9 2 1.9 2 2.7 2 .1 2-1.3 2 1.2 2 .4 2 .2 2 2.7 2 1.9 2-1.3 2-2.3 2-8.1 2-9.1 2-7.3 2-1.9 2 3.6 2 3 2-2.3 2-2.1 2 1.6 2-.5 2-5.7 2-6 2 4.2 2 14.1 2 9.7 2 .2 2-1.8 2 .7 2-7.6 2-15.4 2-6.4 2 5.1 2 6.8 2 3.5 2-.8 2-5.2 2-3.4 2 1.8 2 2.3 2 3.2 2 5.1 2-2.8 2-5.6 2-2.7 2-.3 2-7.8 2-14.6 2-4.8 2 9 2 6.6 2-3 2-2.2 2 9.4 2 13.9 2 4.3 2-5 2-8.1 2-1.8 2 3.4 2 4 2 2.2 2 1.8 2 2.6 2 7.5 2 12.2 2 10.7 2 2.7 2-10.5 2-11.1 2 3.7 2 13.7 2 11.2 2-.2 2-8.4 2-5.7 2-.1 2 .6 2-1.6 2-.1 2 1.4 2-4.9 2-9 2-3.8 2 4.1 2 8.8 2 5.3 2-4.5 2-9 2-7 2-4.8 2-4.2 2-3.1 2 2.6 2 10.5 2 9.2 2-8.1 2-15.6 2-10 2-3.5 2-2.3 2-3.2 2-2.4 2 1 2 7 2 11.9 2 11.1 2 0 2-8.6 2-14.6 2-14 2-7.3 2-3.5 2-1 2 5.5 2 10.2 2 12.2 2 10.3 2-1 2-10.8 2-10.4 2-.9 2-.3 2-8.3 2-9.5 2-3.7 2 0 2-.5 1-2 0 26.4 -1 2 -2 .5 -2 0 -2 3.7 -2 9.5 -2 8.3 -2 .3 -2 .9 -2 10.4 -2 10.8 -2 1 -2-10.3 -2-12.2 -2-10.2 -2-5.5 -2 1 -2 3.5 -2 7.3 -2 14 -2 14.6 -2 8.6 -2 0 -2-11.1 -2-11.9 -2-7 -2-1 -2 2.4 -2 3.2 -2 2.3 -2 3.5 -2 10 -2 15.6 -2 8.1 -2-9.2 -2-10.5 -2-2.6 -2 3.1 -2 4.2 -2 4.8 -2 7 -2 9 -2 4.5 -2-5.3 -2-8.8 -2-4.1 -2 3.8 -2 9 -2 4.9 -2-1.4 -2 .1 -2 1.6 -2-.6 -2 .1 -2 5.7 -2 8.4 -2 .2 -2-11.2 -2-13.7 -2-3.7 -2 11.1 -2 10.5 -2-2.7 -2-10.7 -2-12.2 -2-7.5 -2-2.5 -2-1.6 -2-2.1 -2-3.9 -2-3.1 -2 1.8 -2 8.3 -2 5.2 -2-4.4 -2-13.9 -2-9.5 -2 2 -2 3 -2-6.7 -2-9.1 -2 4.4 -2 13.8 -2 7.1 -2-.5 -2 1.9 -2 4.8 -2 2 -2-5.1 -2-3.2 -2-2.3 -2-1.8 -2 3.4 -2 5.2 -2 .8 -2-3.5 -2-6.8 -2-5.1 -2 6.4 -2 15.4 -2 7.6 -2-.7 -2 1.8 -2-.2 -2-9.5 -2-14 -2-4 -2 6.2 -2 5.8 -2 .7 -2-1.5 -2 2.2 -2 2.5 -2-2.8 -2-3.5 -2 2.1 -2 7.4 -2 9.1 -2 7.9 -2 2.2 -2 1.3 -2-2 -2-2.8 -2-.3 -2-.5 -2-1.3 -2 1.3 -2-.2 -2-2.8 -2-2 -2-2.9 -2-2.8 -2 4.2 -2 11.8 -2 7.8 -2-5.8 -2-12.2 -2-6.3 -2 3 -2 7.3 -2 6.7 -2 3.6 -2 .3 -2-1.8 -2-5.5 -2-8 -2-3.4 -2 4.4 -2 5.5 -2 1.4 -2 1.5 -2 3.9 -2 .8 -2-3.6 -2-4.4 -2-4.7 -2-3.6 -2 1.3 -2 5.6 -2 8.9 -2 8.8 -2-3.8 -2-14.3 -2-4.9 -2 2.5 -2-2.5 -2-2.7 -2 1.9 -2 3.3 -2 1.5 -2-1.2 -2-1.8 -2 1.1 -2 5.1 -2 2.5 -2-9.3 -2-14.6 -2-3.2 -2 10.5 -2 8.4 -2 0 -2-4 -2-5.4 -2-3.7 -2-6.2 -2-7.6 -2-14.2 -2-15.3 -2-11.1 -2-4.8 -2-2.3 -2-2.5 -2 2.1 -2 1.3 -2-6.2 -2-4.8 -2 6.7 -2 16.9 -2 18.9 -2 2.6 -2-15.6 -2-11 -2-2.2 -2-4.5 -2-.6 -2 8.5 -2 13.8 -2 9.8 -2 1.3 -2-2.3 -2-2.3 -2 .4 -2 1.3 -2-5.4 -2-7.3 -2 0 -2 2.6 -2-4.6 -2-4.4 -2 8.2 -2 16.3 -2 10.3 -2-1.9 -2-4.3 -2 2 -2 3.7 -2-.4 -2-3.9 -2-4.8 -2-5.7 -2-2.9 -2 8.2 -2 14.5 -2 8.3 -2 1.2 -2 1.7 -2 2.4 -2-3.4 -2-1.9 -2 2.5 -2-3.6 -2-14.8 -2-10.2 -2 3.3 -2 8.1 -2 5.6 -2 .6 -2-3.1 -2-.9 -2-3.2 -2-10.6 -2-9.4 -2-2 -2 1.6 -2-.9 -2-7 -2-13.2 -2-9 -2 1.3 -2 1.9 -2-1 -2 .1 -2-.8 -2-6.2 -2-7.3 -2 1.4 -2 11.3 -2 15 -2 11.9 -2 .1 -2-16.4 -2-20.3 -2-5.5 -2 8.1 -2 7.1 -2 6.9 -2 11.7 -2 .3 -2-18.3 -2-15.6 -2 2.9 -2 11.1 -2 4.8 -2 2.9 -2 8.1 -2 7.5 -2 10 -2 12.4 -2 1.4 -2-8.2 -2-3 -2 2.4 -2 4.1 -2 10.4 -2 8.9 -2-2 -2-5.7 -2 1.8 -2 4.3 -2-4.5 -2-12 -2-5.3 -2 8 -2 14.1 -2 10.5 -2 3 -2-2.2 -2-2.1 -2-2.1 -2-17.3 -2-23.1 -2-21.9 -2-13.4 -2-4.2 -2-4.3 -2-1.6 -2-.3 -2-4.4 -2-9.2 -2-2 -2 9.4 -2 6.7 -2-11.4 -2-19.9 -2-7.9 -2-.7 -2 3.1 -2 6.5 -2 5.9 -2-2.2 -2-8.2 -2-8.6 -2 3.5 -2 3.1 -2-6.5 -2-8.1 -2-3.4 -2-4 -2-5.4 -2-5.6 -2 20.5 -2 10.8 -2 6.9 -2 8 -2-11.7 -2-3.6 -2 17.1 -2 27.8 -2 20 -2 16.1 -2 8.5 -2-18.4 -2-35.4 -2-28.9 -2-7.6 -2 9.9 -2 1.7 -2-9.1 -2 17.8 -2 14.9 -2 7.4 -2 6.8 -2 .9 -2 5.7 -2 4.6 -2-1.5 -2-5 -2-9.2 -2-12.1 -2-7.3 -2 .2 -2-6.9 -2-25.8 -2-36.9 -2-13.5 -2-.1 -2-3.1 -2-10.5 -2 2.1 -2 20 -2 24.5 -2 14.3 -2-6.2 -2-22.2 -2 8.2 -2 22.8 -2 37.7 -2 45.8 -2 49.5 -2 65.3 -2 51.1z"/>
<path stroke="#008000" d="M166 1254.4l.5-18 .5-80.2 .5 36.6 .5-82.1 .5 93.9 .5-71.5 .5 48.8 .5 .5 .5-152 .5 106.4 .5-39.8 .5 45.8 .5-158.6 .5-12.6 .5 14.6 .5-67.8 .5 95.4 .5-55.8 .5 40.4 .5-.6 .5 19.8 .5-124.9 .5 107.6 .5-4.4 .5-98.1 .5 18.2 .5-48.5 .5 147.6 .5 13.1 .5-117 .5 46.9 .5 33.1 .5-156.2 .5 134.8 .5 99.1 .5-148.4 .5 100.9 .5-47 .5 7.2 .5-64.7 .5-63.6 .5 63.9 .5 51.5 .5-82.9 .5-56.1 .5 83.3 .5 3.8 .5-61.9 .5 49.9 .5 30.2 .5-12 .5 43.8 .5 18.4 .5-70.5 .5-44 .5-27 .5 141 .5-38.9 .5 40.9 .5-112.3 .5 57.5 .5-58.3 .5-5.5 .5-34 .5 77.8 .5 46.7 .5 22.7 .5-28.9 .5-22.9 .5 150.8 .5-20.2 .5-23.4 .5-43.8 .5 73 .5-112.1 .5-23.8 .5 112.2 .5-22.6 .5 49.1 .5-101.5 .5 59.3 .5-73.1 .5 38.3 .5 44.5 .5-27.8 .5-45.2 .5-24.8 .5 59.8 .5-25.1 .5-23.9 .5 83.6 .5-49 .5 116.2 .5 43.5 .5-47.3 .5 64.4 .5-178.9 .5-22.1 .5 79.6 .5-80.6 .5 95.8 .5 37.2 .5-4.7 .5 9.4 .5-57.9 .5 6 .5 13.7 .5-16.1 .5 45.2 .5-64.7 .5 15.9 .5-31.1 .5 76.2 .5-39 .5 .5 .5-27.9 .5-59.6 .5 58 .5-77.4 .5 91.8 .5-52.4 .5 107.7 .5-84.6 .5 22.5 .5-20.9 .5-30.4 .5-20.2 .5-34.1 .5 62.8 .5-60.6 .5 123.9 .5-101.2 .5 29.7 .5 25.6 .5-2.8 .5 55.4 .5-151.9 .5 85.7 .5 14 .5 66.1 .5-33.8 .5-116.1 .5 70.4 .5-31.7 .5 38.3 .5 26.6 .5-23.4 .5 29.4 .5 51.5 .5-138.5 .5 80 .5 12.7 .5 25.7 .5-6.1 .5 44.5 .5-32 .5 27.6 .5-79.6 .5 78.7 .5-59.9 .5 77.3 .5 49.5 .5-81.4 .5 17.7 .5 9.6 .5 23.3 .5-29.4 .5 15.3 .5-79.7 .5 15 .5-64.3 .5 151 .5-151.3 .5 82.4 .5-39.3 .5-8.7 .5-60.9 .5 43.1 .5 1.6 .5 11.6 .5-32.2 .5 25 .5-49 .5 93.4 .5-75.3 .5 126.6 .5-106.2 .5-10.7 .5 32.8 .5-15 .5 48.3 .5 3.4 .5-76.2 .5-3.1 .5-4.4 .5 46.9 .5 17.9 .5-14.8 .5-34 .5 3.6 .5 20 .5 17.2 .5-53.8 .5 39.2 .5-54.5 .5 21.4 .5 36.5 .5-74.8 .5-32.3 .5 24.5 .5 38.6 .5-33.6 .5-45.3 .5 142.4 .5-67.9 .5 68.2 .5-17.8 .5-77.8 .5 83.6 .5-2.8 .5 6.7 .5-29.7 .5 4.5 .5-32.3 .5-11.2 .5 36.4 .5 33.4 .5-53.7 .5 93.2 .5-86.9 .5 31.2 .5-71 .5 119.5 .5-35.5 .5 23.2 .5-104.3 .5 111.6 .5-38.4 .5-42.7 .5 12.5 .5-43.7 .5 57.4 .5 46.7 .5-70.5 .5 52.6 .5-64.2 .5-49.6 .5 91.4 .5 66.5 .5-12.8 .5-77.7 .5 76.1 .5-11 .5-28.7 .5-30.9 .5 52 .5-44.2 .5-12.9 .5 56.3 .5-69.2 .5 53.6 .5 31.4 .5-84.5 .5 33.9 .5 15 .5-87.1 .5 51.1 .5 .6 .5 4.9 .5-8 .5 88.4 .5-80.1 .5 35.3 .5 30.7 .5 40.1 .5-122.8 .5 11.1 .5 8.1 .5 27.2 .5 46.2 .5-45.3 .5 8.5 .5 52.9 .5-75.4 .5 19 .5 72.7 .5-46.9 .5-54.4 .5 .4 .5 74 .5-89.3 .5 12.6 .5 70.7 .5 23.3 .5 14.8 .5-108.6 .5 61.7 .5-117.9 .5 61.6 .5 129.5 .5-28.6 .5-34.6 .5-68.1 .5-13.5 .5 100.6 .5-51.4 .5-25.8 .5 64.2 .5-1.2 .5-55.3 .5 12 .5 108 .5-125.2 .5 82.2 .5-63.8 .5-1.4 .5-2 .5 41.3 .5 9.6 .5 34.9 .5-50.1 .5 49.4 .5-30.5 .5-.6 .5 55.7 .5-2.2 .5-67.5 .5 64.2 .5-70.6 .5 27.8 .5 97 .5-10.7 .5-54.2 .5 29 .5 24.5 .5 17.2 .5 .3 .5-88.9 .5 26.2 .5 5.8 .5-87.9 .5 56 .5 40.3 .5-23.7 .5-16 .5-23 .5 18.5 .5 16.6 .5-14 .5 48.8 .5-15.3 .5-79.1 .5 77.1 .5-35.1 .5 24.7 .5-52 .5 56 .5-57 .5 64.2 .5-35.3 .5-5.3 .5-35 .5-7.5 .5 91.9 .5-69.2 .5-.5 .5 57.4 .5-13.5 .5 19.6 .5-69.2 .5-30.6 .5 42.4 .5 67.5 .5-38 .5 16.8 .5 3.3 .5-11.8 .5 1.5 .5-11.9 .5 17 .5 5.3 .5-34.2 .5 45.3 .5-22.2 .5-4.3 .5-4.7 .5 34.8 .5-39.8 .5 45 .5-81.7 .5 54.3 .5-78.3 .5 55.8 .5-21.2 .5 .8 .5-21.3 .5 36.2 .5 20.7 .5-87 .5 60.3 .5 10.9 .5 15.6 .5-7.9 .5-49.4 .5 75.9 .5-63.9 .5 50.5 .5-9 .5-26.3 .5-11.4 .5 23.7 .5 56.4 .5-30.5 .5-45.7 .5 42.3 .5 29.2 .5 13.6 .5-138.6 .5 83.7 .5 2.3 .5-58.7 .5-38.7 .5 107.2 .5-62.5 .5-42.7 .5 17 .5 61 .5 49.3 .5-45 .5-63.6 .5 74.1 .5-110.6 .5 100.1 .5-3.3 .5 29.1 .5-30.5 .5 3.2 .5-38.8 .5-18.8 .5 10.3 .5 64.5 .5-89.1 .5 17.8 .5-13.3 .5 42.4 .5-3.2 .5 59.6 .5 10.2 .5-31.4 .5-3.2 .5-31.9 .5-44.7 .5 60.6 .5-3.9 .5-42.4 .5 45.9 .5 24.2 .5-69.4 .5 60 .5-19.6 .5-36.4 .5 21.5 .5 21.4 .5-34.6 .5 3 .5 47.7 .5-29 .5-3.1 .5-39.4 .5 40.8 .5 26.4 .5-88.7 .5-25.7 .5 30.9 .5 26 .5-28 .5-20.3 .5 124.2 .5-68.3 .5-8.6 .5-48.4 .5 119.8 .5-138.7 .5 159.7 .5-25.2 .5-12 .5-16 .5 40.4 .5-56.8 .5 30.6 .5-34.3 .5 3 .5 63.6 .5-20.1 .5-76.8 .5-1.2 .5 28.8 .5-9.2 .5 19.6 .5-33.2 .5-25.1 .5 65.9 .5-37.4 .5 33.1 .5-55.2 .5 87.6 .5-41.8 .5 1.5 .5 6.3 .5-67.9 .5 82.6 .5-42.6 .5-20.9 .5 54 .5 47.7 .5-86.5 .5 80 .5-134 .5 89.5 .5-31.8 .5 30.4 .5 67.6 .5-51.9 .5-76.9 .5 105 .5-90.1 .5 16.8 .5-12.8 .5 36 .5-9.3 .5 61.9 .5-45.3 .5 13.7 .5-28.2 .5 48.1 .5-73.8 .5-11 .5 86 .5-1.2 .5-21.2 .5 77.4 .5-104.3 .5 79.1 .5 3.9 .5-89.1 .5 58.2 .5 7.2 .5-28.6 .5 .2 .5 2 .5-24.2 .5-14.7 .5 62.4 .5-15.7 .5-4.5 .5 14.9 .5-33.8 .5 7.3 .5 40.5 .5-18.7 .5 15.9 .5 18.6 .5 20.4 .5-68.9 .5 10.5 .5-22.3 .5 20.4 .5 32.7 .5-28.5 .5 74.4 .5-71.4 .5-37 .5 25.1 .5 83.6 .5-82.1 .5 23.5 .5-20.6 .5-8 .5 63.5 .5-67.3 .5-18.3 .5 28.4 .5 .7 .5 29.7 .5-11.3 .5 30.4 .5-43.9 .5 16.6 .5 .2 .5 14.1 .5-66.5 .5 26.3 .5-57.2 .5 46.7 .5-9.7 .5 13.9 .5 76.5 .5-11.7 .5-72.7 .5 102.9 .5-13.5 .5-32 .5-8.3 .5-1.4 .5 2.3 .5 20.4 .5-29.3 .5 38.7 .5-41.2 .5-11 .5 17.7 .5 15.6 .5 3.8 .5-12.8 .5-46.8 .5 5.5 .5-11.9 .5 45.1 .5 29.7 .5-21.5 .5-3.1 .5-14.3 .5 4.2 .5-10.6 .5 54.9 .5-73.2 .5 11 .5 42.6 .5-28 .5 30.7 .5-37.9 .5 25.2 .5-9.7 .5-51.6 .5 54.7 .5 18.8 .5-64.3 .5 14.5 .5 22.7 .5 27.7 .5-37.4 .5 61.2 .5-83.5 .5 75 .5-82.9 .5 24.3 .5-26.6 .5 61.4 .5-10 .5-73.8 .5-17 .5 142.4 .5-76.2 .5-42.4 .5 25.2 .5 14.5 .5 65.1 .5-35.6 .5-12.6 .5-31.8 .5 50.4 .5-77.4 .5 89.8 .5-5.9 .5-46.6 .5-33.4 .5 27.5 .5 15.8 .5 68 .5-8.6 .5-73.4 .5-2.5 .5-18.3 .5 57 .5-29.7 .5 40 .5-22.1 .5-22.2 .5-18.3 .5-23.4 .5 67.9 .5-67.5 .5 63.1 .5-82.8 .5-25.4 .5 75.3 .5-22.3 .5 50.5 .5-31 .5-1.6 .5 33.6 .5-50.5 .5 46.3 .5 58.4 .5-70 .5-39.5 .5 30.7 .5-27.5 .5 15.4 .5 69.7 .5-94.5 .5-9.1 .5 62.3 .5-32.1 .5 9.7 .5-14.5 .5 33.1 .5 46.1 .5-27.7 .5-36 .5 3.5 .5-19.3 .5 1.1 .5 64.8 .5-14.8 .5-3.2 .5 .9 .5-40.5 .5 22.1 .5 19.2 .5 39.3 .5-47.5 .5-6 .5-30.1 .5 65.8 .5-45.1 .5 18.6 .5 5.6 .5-41.7 .5 38.3 .5 29.5 .5-73 .5 11.4 .5-12.9 .5 30.1 .5 68.1 .5-66.7 .5 29.3 .5-39.3 .5-27 .5 12.7 .5 5.4 .5-17.1 .5 3.3 .5 4.9 .5-25.7 .5 77.5 .5-38.2 .5-18.5 .5-14.9 .5-59.5 .5 54.1 .5-16.6 .5 31.7 .5 58.4 .5-51 .5 15 .5-38.3 .5 56 .5-34.1 .5 3.5 .5-3 .5 26.8 .5-30 .5 24.7 .5 7.7 .5-28.9 .5-38.2 .5 81.2 .5-64.9 .5-30.4 .5 64.8 .5-6.8 .5 36.8 .5 2.1 .5-127.9 .5 55.4 .5 28.1 .5-59.1 .5 88.3 .5-28.2 .5-35.3 .5 6.8 .5 32 .5 66.1 .5-4.9 .5-118.4 .5 73.8 .5-73.8 .5 47.6 .5-31.3 .5 24.2 .5-6.1 .5 28 .5-40.2 .5 51.4 .5-29.3 .5-28.7 .5 86.1 .5-38.7 .5-18.1 .5 11.1 .5 21.8 .5-28.6 .5-15.4 .5 16.6 .5-12.1 .5 2.4 .5 74.9 .5-25.5 .5 21.2 .5-57.7 .5-37.5 .5 49.2 .5 33.5 .5-28.9 .5 26 .5-32.7 .5 50 .5-26.5 .5 16.4 .5 22.9 .5-42 .5-8.6 .5 9.2 .5 44.1 .5-26.1 .5 44 .5-15.5 .5 18.1 .5-26.6 .5 31.7 .5-12.5 .5-77.5 .5 100.5 .5-15.1 .5-36.2 .5-22.2 .5-17.9 .5 59.3 .5-28.5 .5-8.4 .5 5 .5-19.2 .5 72.9 .5-53.9 .5 22 .5 2.2 .5 3 .5-17.9 .5 25.2 .5-42 .5 75.7 .5-103.8 .5 65.2 .5 44 .5-84.5 .5 70 .5 21.1 .5-65.4 .5 58.7 .5-55.6 .5 26.2 .5-13.5 .5-20.4 .5-3.9 .5 13.4 .5-26.8 .5 44.9 .5-2.7 .5 25.5 .5-20 .5-16.6 .5-4.7 .5 71.1 .5-104.8 .5 6.4 .5 98.8 .5-31.7 .5-23.8 .5 10.2 .5 13.1 .5-67.4 .5 31.8 .5 28.2 .5-1.7 .5 11.8 .5-24.3 .5-17.1 .5-7.5 .5 32.6 .5-18.2 .5 12.8 .5 24.7 .5-4.9 .5-68 .5 66.2 .5-57.2 .5-17.3 .5 103 .5-48.6 .5-23 .5 5.5 .5 36 .5 29.5 .5-19.3 .5-42.4 .5-25.8 .5 28.1 .5 31.3 .5-12.1 .5-46.5 .5 42.2 .5 17 .5-37.7 .5 52.1 .5 18.2 .5-13.2 .5-47 .5 14.7 .5 4 .5-9.6 .5 30 .5-23.3 .5-4.9 .5 6.3 .5-22.6 .5-25.8 .5 37 .5-13.5 .5 25.3 .5-12.7 .5-13.8 .5 35.1 .5-29.3 .5-33.3 .5 75.4 .5-9.7 .5-30.2 .5-39.6 .5 16.2 .5 53.1 .5-26.5 .5-6 .5 22.2 .5-26 .5 3 .5 46.1 .5-16.9 .5 7.5 .5-3.5 .5 12.5 .5-5.3 .5-42.4 .5 15.2 .5 47.2 .5-39.1 .5 39.3 .5-53.8 .5-28.9 .5 37.6 .5-15.7 .5-5.1 .5-1.5 .5-33.2 .5 66 .5-18.3 .5-20.6 .5-19 .5 57.2 .5-17.8 .5 15.1 .5-9.3 .5 8.3 .5-21.2 .5-37 .5 41.6 .5 19.2 .5-57.8 .5 26.2 .5 50 .5-66.2 .5 67.7 .5-56 .5-16.2 .5 29.7 .5-1.4 .5 40.1 .5-76.3 .5 29.3 .5 .4 .5-3.5 .5 29.3 .5-16.6 .5 13.3 .5-6.7 .5 32.9 .5-44.4 .5 16 .5 19.5 .5-9.8 .5-14.2 .5 18.9 .5-11.7 .5-1.2 .5-11.1 .5 21.4 .5 .8 .5-43.3 .5 28.4 .5-3.5 .5 6.6 .5-35 .5-10.7 .5 27.3 .5 35.6 .5-50.8 .5 54.2 .5-21.2 .5 7.1 .5 2.9 .5-11.8 .5 3.9 .5 22.5 .5 22.5 .5-36.3 .5 4 .5-35.7 .5 15.1 .5 27.6 .5-1.8 .5-38.2 .5 3.7 .5-11.2 .5-11.8 .5 35.1 .5-23.9 .5 50.8 .5-95.4 .5 10.5 .5 14 .5 34.8 .5-5.3 .5-15.9 .5-40.6 .5 66.7 .5-47.1 .5 80.1 .5-32.5 .5-22.3 .5 13.2 .5 50 .5-51.2 .5-20.9 .5-31.8 .5 56.9 .5-16.4 .5 50.4 .5-26.8 .5 24.7 .5-40 .5-11 .5 48.6 .5-29.4 .5-14.9 .5 17.2 .5 29.8 .5-44.4 .5 69.7 .5-38.8 .5-45.9 .5 3.1 .5 28.3 .5-7 .5-.1 .5 7.2 .5 11.7 .5-13.3 .5-7.3 .5-36.7 .5 95.8 .5-41.4 .5 11.5 .5-10.9 .5 29.4 .5-34.6 .5 32.7 .5-50.1 .5 7.3 .5 19.2 .5-.5 .5 14.5 .5-51.3 .5 26.1 .5-29.3 .5-26.9 .5 64.3 .5-31.1 .5-26.8 .5 4.7 .5 33.9 .5-15.1 .5-3.4 .5 21.2 .5-18.4 .5-47.1 .5 72.4 .5-34.5 .5 4.2 .5-51.6 .5 .7 .5 63.6 .5-13.9 .5 11.9 .5 6.8 .5 15.4 .5 10.7 .5-3.7 .5-59 .5 5.4 .5 24.2 .5 34.7 .5-7.2 .5-42.7 .5-17.4 .5 39 .5-12.8 .5 22 .5 2.2 .5-13.5 .5-33.1 .5-10.3 .5 22.4 .5 17.8 .5-15.5 .5 18.9 .5-28.8 .5 39.1 .5-17.6 .5-14.7 .5-7.4 .5 18.6 .5 9.5 .5 41.6 .5-34.2 .5 17.3 .5-66.6 .5 78 .5-25.8 .5-21 .5-34.3 .5 35.1 .5 61.5 .5-20.6 .5-1.2 .5-32.3 .5 27.8 .5 .4 .5-6.8 .5-32 .5 7.3 .5 6.1 .5 63.6 .5-111.2 .5 87.7 .5-10.4 .5-33.7 .5 11.5 .5-14.3 .5 2.7 .5-30.1 .5-35.2 .5 108.6 .5-12.8 .5-78.2 .5 66 .5-37.1 .5 23.8 .5-36.3 .5 .6 .5 75.5 .5-58 .5 10.2 .5 20.6 .5 20 .5-49.9 .5 27.6 .5 3 .5-35.4 .5-.9 .5 28.8 .5-20.1 .5 41.7 .5-86.6 .5 58.1 .5-17.4 .5-31.4 .5 32.9 .5-32.7 .5 28.3 .5 36.8 .5-44.9 .5 33.8 .5-7.3 .5-19.5 .5 6.2 .5 13.3 .5 3.8 .5-19.7 .5 10.1 .5 24.9 .5-43.6 .5-5.1 .5 37.8 .5 3.3 .5-73.6 .5 62.2 .5 32.9 .5-16.1 .5-33.3 .5 19 .5-56.3 .5 62.5 .5-9.4 .5-132.1 .5 119.8 .5 23.6 .5-32.1 .5 43.3 .5-19.6 .5-68.6 .5 .8 .5 62.2 .5 10 .5 5.5 .5-58.1 .5 19.2 .5-18.6 .5-10.8 .5 14 .5 47.9 .5-50.6 .5 72.9 .5-94.4 .5 33.1 .5 29.1 .5 1.1 .5-11.4 .5-56.7 .5 43.5 .5 52.1 .5-25.1 .5-5.4 .5-3.9 .5-16.8 .5 2.1 .5-16 .5 63.9 .5-26.6 .5 1.6 .5-3.6 .5-9.2 .5-34.9 .5 48.4 .5-18.6 .5 5.4 .5 24.8 .5 35.4 .5-75 .5 32 .5 49 .5-92.6 .5 54 .5-33.2 .5-123 .5 183.6 .5-53.3 .5 32.6 .5-21.2 .5 50.4 .5-133.9 .5 46.8 .5 25.8 .5 7.8 .5 50.1 .5-15.8 .5-45.9 .5-32.3 .5 81.7 .5-27.2 .5-16.2 .5 35.3 .5 29.1 .5-44.1 .5 33.5 .5-98.5 .5 82.7 .5 43.3 .5-30.9 .5-55.1 .5-15.2 .5 47.7 .5-35.5 .5 12.5 .5-34.8 .5 26 .5 50.8 .5-37.8 .5 .8 .5-12.6 .5 38.7 .5 17.4 .5-5.9 .5-73.9 .5 72 .5-29.7 .5 24.2 .5-33 .5 65.4 .5 20.3 .5-34 .5 22.3 .5-48.8 .5-17.4 .5-54.8 .5 43.2 .5 7.7 .5 64.1 .5-74.4 .5 35.1 .5 21 .5-14.2 .5 1.2 .5 36.1 .5-56.4 .5 29.4 .5 7.5 .5 42.6 .5-7.5 .5-25.9 .5 7 .5-93.1 .5 71.5 .5-27.8 .5-32.8 .5 65.6 .5-34.2 .5-9.5 .5-32.8 .5 58.2 .5 32.8 .5-32.6 .5 17.8 .5 8.2 .5-31 .5-11.2 .5-7.6 .5 9.3 .5-8.2 .5 18.4 .5-17.3 .5 48.6 .5-60.8 .5 76.6 .5-63 .5 .4 .5 35.2 .5-42.9 .5-35.8 .5 82.3 .5 16.8 .5-105.2 .5 73.1 .5-35.6 .5 8.1 .5 53 .5-91.8 .5 24.6 .5 53.7 .5-31.3 .5 7 .5-33.6 .5-2.9 .5 2.5 .5 32.5 .5-18.1 .5 28.9 .5 60.5 .5-123.8 .5 64.2 .5-10 .5-29.3 .5 38.1 .5-34 .5-15.8 .5 39.8 .5 46 .5-57.3 .5 17.2 .5-35.6 .5-4.6 .5-23.9 .5 42.7 .5 13.4 .5-69.1 .5-6.8 .5 73.1 .5-38 .5-29 .5 67.7 .5-28 .5-7 .5 11.1 .5-20.6 .5 92.7 .5-139.9 .5 50.4 .5 33.5 .5-4.5 .5-47.2 .5 28.4 .5 10 .5 47.8 .5 11.3 .5 3.9 .5-41.9 .5 39 .5-22.9 .5-25.1 .5-3.9 .5 28.7 .5-14.5 .5-30.2 .5-16.4 .5-4.7 .5 68.7 .5-54 .5 8.7 .5 39.5 .5 .5 .5-21.5 .5-14.5 .5-28 .5 15 .5 5.4 .5 13.2 .5-40.5 .5 42.8 .5 5.9 .5-21.1 .5-54.6 .5-15.3 .5 77.1 .5-75.1 .5 58.6 .5 64.1 .5-74.7 .5-37.2 .5 68.7 .5-40 .5 12.1 .5-48.5 .5 34.7 .5 64.1 .5-47.3 .5-10.6 .5 23.4 .5 9.9 .5 27.3 .5-5.8 .5 11.1 .5-66.8 .5 29.7 .5-48.5 .5 105.4 .5-66 .5 5.3 .5 65 .5-30.9 .5-39.2 .5-1.3 .5-8.4 .5 34.9 .5 41.5 .5-118.1 .5 83.6 .5-9.7 .5-55.5 .5 21.6 .5-3.3 .5-31.7 .5 1.8 .5 62.5 .5-31.1 .5-26.5 .5-15.8 .5 23.4 .5 4.2 .5 23.9 .5 22.5 .5-45.5 .5-27.5 .5 40.6 .5-4.6 .5-19.5 .5 41.5 .5-22.2 .5 16.1 .5-7.5 .5 17.1 .5 7.3 .5-45.2 .5 61 .5-24.2 .5-49.4 .5 43 .5 48.8 .5 6.3 .5-63.7 .5 26.6 .5-49.9 .5 50.9 .5-85.6 .5 13 .5 61.6 .5-.4 .5-37.5 .5 33 .5 31.9 .5-52.8 .5 22.7 .5-42.5 .5-15 .5 94.8 .5-50.3 .5-24.5 .5-35 .5 69.6 .5 6.1 .5 13.1 .5-52 .5 32.2 .5-29.2 .5-31 .5 24.7 .5-17.7 .5-10.2 .5 7.6 .5 45.8 .5-24.9 .5-24.6 .5-70.7 .5 89.3 .5 .8 .5 9 .5-28.8 .5 65.6 .5-79.3"/>
</g>
<rect x="127" y="806.3" width="857.5" height="638.5" fill="none" stroke="#000" stroke-width="1.9" stroke-linejoin="miter"/>
<path stroke="#000" stroke-width="1.9" d="M166 1444.8v8.4M270 1444.8v8.4M373.9 1444.8v8.4M477.9 1444.8v8.4M581.8 1444.8v8.4M685.8 1444.8v8.4M789.7 1444.8v8.4M893.7 1444.8v8.4M127 1430.8h-8.4M127 1350.8h-8.4M127 1270.8h-8.4M127 1190.8h-8.4M127 1110.8h-8.4M127 1030.8h-8.4M127 950.8h-8.4M127 870.8h-8.4"/>
<g style="font-size:24px"><text x="166" y="1480.2" text-anchor="middle">0</text><text x="270" y="1480.2" text-anchor="middle">20</text><text x="373.9" y="1480.2" text-anchor="middle">40</text><text x="477.9" y="1480.2" text-anchor="middle">60</text><text x="581.8" y="1480.2" text-anchor="middle">80</text><text x="685.8" y="1480.2" text-anchor="middle">100</text><text x="789.7" y="1480.2" text-anchor="middle">120</text><text x="893.7" y="1480.2" text-anchor="middle">140</text><text x="110.2" y="1440" text-anchor="end">2.225</text><text x="110.2" y="1360" text-anchor="end">2.250</text><text x="110.2" y="1280" text-anchor="end">2.275</text><text x="110.2" y="1200" text-anchor="end">2.300</text><text x="110.2" y="1120" text-anchor="end">2.325</text><text x="110.2" y="1040" text-anchor="end">2.350</text><text x="110.2" y="960" text-anchor="end">2.375</text><text x="110.2" y="880" text-anchor="end">2.400</text></g>
<text x="555.8" y="1513.5" text-anchor="middle" style="font-size:24px">Time (ns)</text>
<text transform="translate(26.3 1125.5) rotate(-90)" text-anchor="middle" style="font-size:24px">Radius of Gyration (nm)</text>
<rect x="762" y="818.3" width="210.5" height="115.1" rx="4.8" fill="#fff" fill-opacity="0.8" stroke="#cccccc" stroke-width="1.9"/>
<path stroke="#ff0000" stroke-width="1.75" d="M771 837.6h49.3"/>
<text x="838.8" y="846.5" style="font-size:24px">1nod_ARG</text>
<path stroke="#0000ff" stroke-width="1.75" d="M771 873.6h49.3"/>
<text x="838.8" y="882.5" style="font-size:24px">1nod_CRV</text>
<path stroke="#008000" stroke-width="1.75" d="M771 909.7h49.3"/>
<text x="838.8" y="918.6" style="font-size:24px">1nod_TML</text>
<clipPath id="cBR"><rect x="1145.2" y="806.5" width="857.1" height="638.3"/></clipPath>
<g clip-path="url(#cBR)" fill="none" stroke-width="1.75" stroke-linejoin="round">
<path stroke="#ff0000" d="M1184 989.3l1 92.2 1.1-23.6 1 111.9 1.1-116.6 1 45.7 1-79.6 1.1 135 1-81 1 38.6 1.1 47.2 1-14.9 1.1-42.3 1 35 1-86.3 1.1-21.7 1-25.1 1.1 102.8 1 67 1-112.2 1.1 16.6 1-13.3 1 43.1 1.1-108.7 1 141.8 1.1 20.4 1-87.7 1-14.9 1.1 7.9 1 73.5 1.1 46.1 1-119.2 1-26.9 1.1 78.1 1 3.7 1.1 16.6 1-69.3 1 69.1 1.1 22.7 1-119.7 1 72.7 1.1 50.2 1 11.1 1.1-61 1-67.8 1 45.2 1.1-36.2 1 34.3 1.1 65.2 1-73.2 1 33.8 1.1-50.9 1 98.8 1-57.4 1.1 4.2 1 149.8 1.1-48.1 1 32.3 1-112.3 1.1 169 1 10.1 1.1-89.9 1-5.9 1-8.6 1.1 86 1-119 1 96.4 1.1 83.4 1-87.2 1.1 87.6 1-92.6 1-13.7 1.1 167 1-147.1 1.1 12.9 1-21.5 1-39 1.1 38.5 1 40.8 1.1 8.4 1-64.4 1 10.3 1.1-64.5 1 32.6 1-.8 1.1-.5 1 7.7 1.1 11.5 1 38.7 1-24.1 1.1-14.9 1-85.6 1.1 15.7 1 36.2 1-1.3 1.1 28.6 1-114.9 1 101.8 1.1 11.3 1-7.1 1.1-9.7 1 55.6 1-16.5 1.1 27.9 1-122.4 1.1 46.8 1 109.2 1-68.7 1.1-54.2 1 16.7 1-49.5 1.1 113.1 1-10.3 1.1-28.9 1 7.3 1-20.5 1.1 26.7 1-28.5 1.1 15 1-58.9 1-13.3 1.1-23.9 1-1.9 1-37.9 1.1 95.1 1 4.9 1.1-17.2 1 15.5 1-16.6 1.1 17.8 1-51 1.1 48.2 1-52.3 1 37.6 1.1 10.6 1-5.6 1.1-30.6 1 70.1 1-13.9 1.1-50.9 1-21.2 1 28 1.1 51.5 1-87.1 1.1 92.2 1-27.6 1-7.5 1.1 43.3 1-37.4 1.1-17.4 1 46.9 1-94 1.1 104.7 1-80 1 1.2 1.1 80.4 1 21.7 1.1-32.3 1-67.9 1-43.9 1.1 80.7 1-5.8 1.1-16.6 1 17.4 1-16.9 1.1 49.2 1-33.1 1-7.2 1.1-67.8 1 80.8 1.1-54.6 1 75.2 1-23.2 1.1-65.4 1 54.6 1.1-31.5 1 54.1 1-7.1 1.1 17.9 1-61.1 1.1 43.5 1-59.3 1 59.9 1.1-15.8 1 17.6 1-7.2 1.1 34.3 1-47.3 1.1 1.8 1 47.6 1-54.7 1.1-19.8 1-13.9 1.1 32.5 1 2.4 1 26.7 1.1-25.5 1 27.3 1-36.6 1.1 56.2 1-61.8 1.1 19.2 1-13.5 1-59.4 1.1 78.6 1-48.3 1.1 47.7 1-94.7 1 10.1 1.1 .8 1 12.5 1 52.1 1.1 14.7 1-31.8 1.1 19.8 1-14.7 1 44.9 1.1-2.6 1-12.7 1.1 17 1 45.3 1-24.6 1.1-61.6 1 55.3 1 3.8 1.1 39.7 1-15.3 1.1 4.8 1-93.4 1 89 1.1-62.2 1 32.6 1.1-17.5 1-44.4 1 6 1.1 52.4 1 20.7 1.1-69.8 1-8.1 1-31 1.1 40.5 1 10.3 1 20.6 1.1 36 1-34.3 1.1-20.7 1 24 1 7.8 1.1 5.4 1-1.5 1.1-9.7 1 27.7 1-25.3 1.1-22.1 1 33.2 1 71.9 1.1-93.1 1 107.4 1.1-100.6 1 40.5 1-81.8 1.1 52.1 1 53.5 1.1-90.7 1 15 1 35.3 1.1-.5 1-66.6 1 4 1.1 49.1 1-5.1 1.1 10.2 1-35 1 26 1.1 20.7 1-82.8 1.1 81.1 1-5.9 1 21.4 1.1-55.4 1 15.2 1.1 6.7 1-16.7 1 55.2 1.1-24.1 1-38.7 1 49.1 1.1-40.5 1-11.3 1.1 24 1 41.4 1 5.4 1.1-7.9 1 21.3 1.1 46.7 1-108.6 1 54.2 1.1-4.9 1-50.9 1 24.5 1.1 24.2 1-7.6 1.1-32.5 1 54 1-20.8 1.1 12.1 1 31 1.1-103.9 1 75.5 1-22.3 1.1-50.8 1 28 1-9.7 1.1-20 1 79.5 1.1-44.8 1-34.4 1 108.5 1.1-42.3 1 30.7 1.1-8.2 1-21.9 1-6 1.1-72.5 1 68.2 1-26 1.1 58 1-46.3 1.1 3 1 24.7 1-45.9 1.1 4.7 1-4.6 1.1 21.9 1-82.4 1 71.7 1.1-40.8 1-21.7 1.1 24.3 1 19.1 1 2.8 1.1-82.8 1 102.3 1-38 1.1 65.4 1-77.6 1.1 46.4 1 9 1-44.7 1.1 27.7 1 46.4 1.1 1.6 1-22.6 1-16.9 1.1-29.1 1 96.6 1-137.4 1.1-2.9 1 5.1 1.1 23.5 1-37 1-176 1.1 122.5 1 97.3 1.1 43.9 1-24.7 1-35.3 1.1-2.3 1 73.8 1-104.5 1.1 37.3 1-36 1.1 56 1 71.2 1-96.2 1.1 52.1 1-89.2 1.1 18.6 1-.3 1 65.6 1.1-73.6 1 7.9 1.1 23.5 1 53.8 1-67.1 1.1 57.6 1-62.2 1-30.3 1.1 54.9 1-62.8 1.1-4.5 1 50.2 1-54.1 1.1 22.9 1 22.2 1.1 37.8 1 42.2 1 5.6 1.1-39.5 1 52.8 1 15.6 1.1-21.9 1 88.5 1.1-36.6 1 74.8 1-46.6 1.1-15.5 1 53.1 1.1-39.8 1-41.2 1 90 1.1-41.5 1-11.5 1-22.6 1.1-41.5 1-92.6 1.1 59.4 1-11.4 1 22.7 1.1-84.2 1 70.9 1.1-19 1 65.1 1-88.3 1.1 36.4 1 12.4 1.1 14.2 1 20.1 1-52 1.1-91.1 1 114.4 1-149.4 1.1 112 1 40.9 1.1-66 1 32.5 1 1.8 1.1-41.1 1 55.7 1.1-53.7 1 49.3 1 11.8 1.1 21 1 12.5 1-34.7 1.1 2.8 1-28 1.1 4.4 1 34.1 1-7.7 1.1-16.9 1-24.7 1.1 33.6 1-88.8 1 18.7 1.1 27 1 34.6 1-89.2 1.1 7.8 1-4.8 1.1 73.5 1 2.1 1 28.1 1.1 30 1-128.3 1.1 42.9 1-9.8 1-17.8 1.1 44 1-22 1 26.5 1.1-18.2 1-39.9 1.1 78.2 1 .5 1-35.5 1.1-62.2 1-2.4 1.1 38.8 1 68.6 1 12.2 1.1-23.5 1-4.1 1.1-96.6 1 94.9 1-44.6 1.1 12.1 1-26.1 1-36.6 1.1 105.4 1-10.6 1.1-49.9 1-15 1 35.5 1.1 54.7 1-15.1 1.1-24.1 1 23.3 1-29.7 1.1-54.3 1 54.4 1-26.7 1.1-25.8 1 76.6 1.1-19.8 1-61.8 1 85.8 1.1-17.4 1-19.9 1.1-5.3 1-23.4 1-18.2 1.1 62 1 7.8 1-27.4 1.1 23.5 1-20.6 1.1 3 1 33.9 1 3.3 1.1 38.3 1-62.6 1.1 32.1 1-17.8 1 12.2 1.1 34 1-32.7 1.1-43.6 1 9.5 1-8 1.1 6.3 1-21.2 1-1.4 1.1 5.4 1 13.5 1.1-42.7 1 33.1 1 2.1 1.1 33.1 1-14.6 1.1 15.2 1-3.8 1 33.2 1.1-42.3 1-46.4 1 64 1.1-46.2 1-43.9 1.1 90.8 1-20.9 1 4.6 1.1 5.5 1-25.1 1.1 40 1-36.1 1-11.6 1.1 15 1-64.7 1 91.7 1.1-64.1 1 62.3 1.1-21.7 1 1.9 1-34 1.1 81.2 1-125 1.1 64.1 1-26 1-24.4 1.1 100.2 1-40.5 1 78.7 1.1-48.5 1-1.8 1.1 8.4 1-57.9 1-.9 1.1 88.4 1-24 1.1-54.5 1 25.6 1 .7 1.1 33.8 1-30 1.1-36.9 1 44.7 1-49.8 1.1 30.2 1-43 1-63.4 1.1 129.4 1-82.2 1.1 65.9 1-6.8 1-31.9 1.1-15.3 1 103.8 1.1-51.7 1 36.4 1-28.6 1.1 20.9 1-23 1-50.4 1.1 13.7 1 33.9 1.1-53.1 1 25.3 1 6.4 1.1 37.9 1 15.8 1.1-117.5 1 79.4 1 44.6 1.1-99.9 1 9.6 1 72.2 1.1-31 1-22 1.1 25.7 1 18.9 1-16.8 1.1 12.1 1-3.4 1.1 6.9 1-5.9 1 6.3 1.1-18.2 1 40.2 1.1-43.4 1-6 1-29.7 1.1 19.3 1 24.1 1-14.8 1.1 18.6 1-59.4 1.1 11.6 1-44.2 1 49.7 1.1 36 1-15.9 1.1-27.5 1 24.5 1-8.2 1.1-36.5 1-4.4 1 2.4 1.1 40.7 1 4.1 1.1-4.8 1-18.1 1 65.7 1.1-58.1 1 24.6 1.1-3.8 1 30.8 1-73.3 1.1 68.3 1-18.9 1 1.1 1.1-32.4 1 3.3 1.1 50.9 1-11.6 1-64 1.1 51.4 1-16.6 1.1 46.9 1-17.2 1 6 1.1-28.7 1-4.8 1-27.7 1.1-30.2 1 22.7 1.1 50.7 1 8.2 1-52.9 1.1 9.7 1 11 1.1 4.2 1-9.2 1 10.7 1.1 31.9 1-4 1.1 20.8 1-56.8 1-59.4 1.1 42.8 1-14.2 1 22 1.1-8.8 1 51.4 1.1-50.2 1 24.7 1 50.7 1.1-55.2 1-51 1.1 72.7 1-13.7 1 2.3 1.1 4.6 1-49.1 1-2.6 1.1 32.5 1-57.3 1.1 25.5 1 61.6 1-72.6 1.1 50.8 1 21.3 1.1-36.7 1-15.3 1 50.8 1.1-84 1 93.4 1-77.5 1.1 29.3 1-35.1 1.1-1.4 1 59.9 1-32.7 1.1 8.8 1-60.9 1.1 24.5 1-31.2 1 33.9 1.1 12.2 1-1.5 1.1-2.2 1-38.7 1 35.8 1.1-31.6 1 57.1 1-41.9 1.1 49.3 1-39.7 1.1 38.5 1-7.6 1-48.7 1.1 67.4 1-49.6 1.1-28 1 59.8 1 31.3 1.1-12.2 1-50.1 1-27.7 1.1-22.6 1 57.2 1.1 5.2 1 13.3"/>
<path stroke="#0000ff" d="M1184 1080.5l1-35.6 1.1 20.7 1-31.8 1.1-49.1 1 35.9 1-102 1.1 60 1-45.7 1-94.4 1.1 100.8 1-21.2 1.1-8.1 1 23.5 1 49.6 1.1-83.6 1 9.3 1.1 89.6 1-21.7 1-85.2 1.1 100.6 1-68.2 1 132.3 1.1-5.5 1 22.3 1.1-93.8 1 33.6 1 81.2 1.1-114.3 1 102.7 1.1-27.3 1 31.9 1-31.9 1.1 89.5 1 8.9 1.1 40.1 1 87.5 1-118.1 1.1 15.6 1-59.6 1 123.6 1.1-116.3 1 35.4 1.1-110.2 1 23 1 23.5 1.1-18.8 1-43.2 1.1 51.5 1-35.1 1 46.7 1.1-54.8 1 44 1-47.6 1.1 86.7 1-47.5 1.1 15.3 1-11.4 1 89.7 1.1-18 1-3 1.1 78.2 1-86.1 1 76.4 1.1 17.9 1-149.4 1 106.2 1.1-23.7 1-22.5 1.1 .7 1-75.1 1 69 1.1-18.8 1-81.8 1.1 51.7 1-47 1 57.8 1.1-38.9 1 50.6 1.1-58.3 1 48.3 1 13.9 1.1 15.1 1 62.9 1 46.8 1.1-162.5 1 101.2 1.1-51.5 1-4 1-4.1 1.1 4 1 1.8 1.1 41.5 1 23.5 1-33.6 1.1-5.3 1 31.8 1 1.1 1.1 68.3 1-116.5 1.1-18.2 1 45.7 1 17.7 1.1-33.7 1 5.2 1.1-124.7 1 48.4 1-12 1.1-43.8 1 21.6 1 1.5 1.1-13.3 1-83.4 1.1-54.8 1 46.4 1 49.3 1.1-52.4 1-.8 1.1-34.6 1 35.6 1 41.1 1.1-106.4 1 92.7 1-85.7 1.1 110 1-13.4 1.1-27 1 24.9 1 47.9 1.1-77.5 1 120 1.1 30.6 1 26.4 1 96.3 1.1-125 1 57.6 1.1-44.5 1 44.8 1 23.9 1.1-84.1 1 74.2 1-2.2 1.1-38.8 1 15 1.1 41.7 1-33.9 1 50.1 1.1-107.7 1-10.8 1.1 92.1 1-106.9 1 94.4 1.1-54 1 25.8 1-37 1.1 62.4 1 22.1 1.1 6.5 1-18.6 1-65.3 1.1 92.4 1-36.4 1.1 43 1-118.3 1 71.3 1.1-40.1 1 11.3 1 30.4 1.1-7.9 1 17.6 1.1-42.7 1 1.3 1-7 1.1-51.9 1 95.9 1.1-61.3 1 25.5 1 49 1.1-41 1 10.4 1.1-83.2 1 62.4 1-11.8 1.1 23.1 1 58.1 1-35.4 1.1 12.2 1 19.7 1.1 51.1 1 11 1-25.3 1.1-28 1 53.4 1.1-54.9 1 5.6 1 24.3 1.1-33.7 1-24.1 1-3 1.1 44.6 1 22.5 1.1 15.7 1-71.8 1 39.6 1.1-13.6 1-24.4 1.1 129.6 1-136.1 1 4.1 1.1 55.1 1 74.6 1-80.3 1.1 84.4 1-103.5 1.1 32.9 1 13.1 1-1.3 1.1 12.5 1-12.7 1.1-13.3 1-45.4 1 61.8 1.1-23.3 1 10.7 1 47.7 1.1-25 1-6.1 1.1 59.9 1-79.6 1-47.2 1.1 47.1 1-30.9 1.1 40.6 1-5.3 1 1.1 1.1 10.2 1 11 1.1-13.1 1-17.5 1-26.1 1.1-15.1 1 15.9 1-14.3 1.1-37.3 1 33.9 1.1 56.3 1-22.5 1-34.7 1.1 51.8 1 20 1.1-74.6 1 126.8 1-16.7 1.1-48.9 1 139.6 1-104.4 1.1 21.5 1-59.4 1.1 17.7 1 9.7 1 4.2 1.1 113.7 1-165.6 1.1 26.7 1 67.7 1-22.7 1.1 79.1 1-13.6 1-61.3 1.1 2.2 1-93.4 1.1 70.3 1-.8 1-79.7 1.1-9 1 2 1.1 52 1 18.4 1-72.1 1.1 23.6 1 32.3 1.1-15.7 1-24.1 1 26.4 1.1-57.8 1-26.6 1 73.3 1.1-2.3 1 14.3 1.1-68.4 1-26.7 1 29.5 1.1-8.2 1 5.8 1.1-1.8 1 60.3 1-28.5 1.1 50.3 1-66.2 1-3 1.1 77.5 1-77.9 1.1 2.6 1 .4 1-26.4 1.1 87.9 1 47.2 1.1-40.1 1 11.5 1-43.2 1.1-22.2 1 58.1 1-60.7 1.1-9.8 1 30.5 1.1 77.5 1-21.1 1-19.9 1.1-28.2 1 7.8 1.1 50.4 1-15.2 1-28.8 1.1 65.8 1-77.6 1-47.5 1.1 41.3 1 43.8 1.1-15.2 1 11.9 1-58.9 1.1 56.2 1-2.4 1.1-5.3 1-35.8 1 86.1 1.1-48.7 1-34.9 1.1 33.5 1 54.7 1-162.8 1.1 53.3 1 49.6 1-2.4 1.1-105.6 1 25.2 1.1-51.5 1 79.2 1-58.9 1.1 14.4 1 88.8 1.1-103.5 1-24.7 1 67 1.1 5.9 1-1 1 33.1 1.1-73.6 1 19 1.1 28.8 1-39.8 1 69.8 1.1-15.5 1-37.2 1.1-11.3 1 4.1 1 6.7 1.1-89.3 1 26.6 1 23.6 1.1 5.3 1 17.3 1.1 10.5 1 34 1-9 1.1 30.6 1 3.8 1.1-10 1-11 1-11.7 1.1 54.3 1-52.8 1.1 17.2 1 13.5 1-28.9 1.1-71.3 1 31 1 105 1.1-133.5 1 108.6 1.1-91.3 1 39.2 1 31 1.1-82.5 1 73.7 1.1-120.8 1 78.9 1-17.1 1.1 39.7 1 13.3 1 14.7 1.1-1.9 1-57.4 1.1-16.9 1-116.1 1 137.5 1.1-54.1 1 3.2 1.1 70.7 1 5.3 1 23 1.1 9 1-63.2 1 74.5 1.1-52.3 1 58.4 1.1-21.3 1 52.5 1-54 1.1-42.5 1 4.7 1.1 8.2 1 20.5 1 10.2 1.1-57.3 1-2 1.1 68.4 1-26 1 39.8 1.1-21.7 1 45.1 1-38.4 1.1-68.4 1 30.2 1.1 34.8 1-64.5 1 31.5 1.1 13.9 1 4.4 1.1-20.6 1-97.9 1 92 1.1-80.6 1 34.3 1-33.5 1.1 65.5 1-36.8 1.1 11.8 1 9.2 1-14.1 1.1-13 1 86.1 1.1-19.4 1 17.5 1-84.1 1.1-2.4 1 138.4 1-32 1.1-88.5 1 82.3 1.1-8.9 1-35 1 24.4 1.1 85 1-91.7 1.1 42 1-51 1-32.4 1.1 136.7 1-70.2 1-46.9 1.1 1.8 1-143.4 1.1 121.6 1 57.6 1 9.6 1.1-36.3 1 14.6 1.1-44.3 1 57.3 1-79.9 1.1 67.6 1 54.7 1.1-66.3 1 98.1 1-137.7 1.1 25.7 1 5 1 33 1.1 11.2 1-34.2 1.1-56.4 1 111.5 1-21.7 1.1 11.1 1-82.5 1.1 74.5 1-26.5 1 34.3 1.1 19.3 1-100.7 1 19.5 1.1 .7 1-29.5 1.1 49.8 1 4.7 1-42.5 1.1 8.6 1 47 1.1-65.7 1 80.1 1 23.8 1.1 5.2 1-60.6 1 99.1 1.1 11.3 1-114.5 1.1 109.7 1-7.2 1-6.2 1.1-54.7 1 70.2 1.1-85.8 1 33.4 1 15.7 1.1-26.5 1-44.1 1.1 13.1 1-26.7 1 11.6 1.1-40 1-13.4 1 26.8 1.1-20.6 1 96 1.1 58.1 1-55.2 1 28.9 1.1-75.5 1 38.8 1.1-38.3 1 60.8 1-28.1 1.1-50.4 1 84 1-58.4 1.1 29.8 1 6.8 1.1 26.2 1 4.6 1-34.1 1.1 3.9 1-2.9 1.1-6 1 110.8 1-84.9 1.1 74.5 1-85.3 1 5.5 1.1 62.3 1-45.6 1.1-29.8 1 81.4 1-119.6 1.1 5.5 1 45.1 1.1 23.2 1-61.3 1-32.7 1.1 114.8 1-82.6 1-24.7 1.1 25.6 1 36 1.1-132.9 1 43.6 1 65.1 1.1-6.7 1-18.3 1.1-8.8 1 25 1 15.5 1.1-64.5 1 1.9 1.1 40.8 1-45.1 1-40.2 1.1 40.3 1-33.5 1 204.4 1.1-117.4 1-45.7 1.1 29.9 1 27.6 1 40.3 1.1-4.7 1-25 1.1 5.2 1 39.5 1-23.6 1.1-2.4 1-57.8 1 47.2 1.1 7.1 1-17.9 1.1-46.6 1-33.3 1 87.8 1.1 1.3 1-16.2 1.1-35.9 1 17.2 1 14.1 1.1 29.2 1-25.1 1-34.3 1.1 11.5 1-24.6 1.1 111.7 1-93.1 1 82.6 1.1-39.5 1 62.5 1.1-103.5 1 70.4 1-60.5 1.1-.4 1 3.3 1.1-24.7 1 11.5 1 17.9 1.1 63.8 1-85.8 1-47.6 1.1 76.1 1 28.7 1.1-141.6 1 119.7 1-60.8 1.1-8 1 100.8 1.1 35.4 1 16.5 1-69 1.1-20 1 12.3 1 4.5 1.1-.7 1 7.5 1.1-41.8 1 7.1 1-6.6 1.1-24.5 1 59.1 1.1 52.4 1-16.9 1-103.3 1.1 139.9 1-92.2 1 112.6 1.1-13 1-62.9 1.1 37.4 1-103.2 1 26.1 1.1-11.1 1 50.3 1.1-1 1 14.6 1 .8 1.1 55 1-52.7 1-13.2 1.1 23.6 1 15.1 1.1-4.2 1-63.8 1 7.5 1.1-6.8 1-35.1 1.1-33.3 1 32.6 1-72.8 1.1 71.9 1-45.2 1.1 24.8 1-3.5 1 65 1.1-1.8 1 7.3 1-69.9 1.1-14.5 1 50.3 1.1-63.6 1 32.4 1-24.5 1.1 23.9 1 28.3 1.1-61.8 1 49.7 1 1.7 1.1 6.1 1 14.1 1-27.6 1.1 11.2 1-12 1.1-46.4 1 99.5 1-33.3 1.1-5.9 1-50.1 1.1 200.4 1-175.2 1-45.1 1.1 88.8 1-7.1 1-82.8 1.1 62.1 1-21.3 1.1-24.6 1-46 1 81.7 1.1 15.9 1 5.8 1.1-46.8 1 22.3 1 2.7 1.1 2.8 1-17.2 1.1 64.9 1-11.5 1-28.8 1.1 31.1 1 19.7 1-23.2 1.1-3.5 1 12.6 1.1-59.5 1 41.6 1-52.3 1.1 25 1 31.9 1.1-55.2 1 49.6 1-20.5 1.1 12.4 1-100.2 1-44.2 1.1 32.2 1 76.8 1.1-56.7 1-16.7"/>
<path stroke="#008000" d="M1184 984.5l1 35.5 1.1-92.1 1 36 1.1-22.3 1-15.3 1 67.2 1.1-80.9 1 40.7 1 30.7 1.1-46.5 1-21.4 1.1-53.2 1 127.3 1-114.8 1.1-34.7 1 143.8 1.1-103.6 1 17.9 1 25.5 1.1-18.9 1-42.9 1 107.5 1.1 15.4 1 13.8 1.1-36.3 1-21 1-12.9 1.1 72.1 1-21.9 1.1-58.8 1 38.9 1-59.9 1.1 87.2 1-64.9 1.1 46.6 1-5.6 1-100.5 1.1 126.1 1-44.6 1-47.5 1.1-8.2 1 20.6 1.1 2.9 1 45.6 1 8.6 1.1 47.9 1 12.6 1.1-44.2 1 26.2 1 90.8 1.1 1.6 1-13.9 1-53.7 1.1 28.5 1-5.3 1.1 57.8 1-78 1-44.2 1.1 1.1 1 26.8 1.1 40.4 1-97.2 1 71.4 1.1-61.7 1 10.1 1-8.2 1.1 80.7 1-48 1.1 67.9 1-54.6 1 97.5 1.1-61.1 1 .2 1.1-44.4 1 119.4 1-32.4 1.1-1.7 1 .9 1.1-24.9 1-8.8 1 25.9 1.1-63.7 1 14.7 1 92.4 1.1-113.5 1-12.8 1.1 49 1-80.9 1 107 1.1-55.4 1-44.9 1.1 50.8 1-18.4 1 64.6 1.1-47.9 1 51.8 1-117 1.1 61.6 1 41 1.1-3.3 1-15.5 1 39.2 1.1 14.3 1-19.5 1.1 21.7 1 38.2 1-28.3 1.1-108.4 1 30.8 1 38 1.1 55.9 1-29.8 1.1 22.3 1 12.7 1-21.7 1.1-64.9 1 79.8 1.1-92.2 1 15 1 54.1 1.1-64.1 1 175.6 1 27.6 1.1-112.6 1-12.5 1.1-78.7 1 108.3 1-60.7 1.1-28.8 1-12.4 1.1 54.2 1-1.4 1 9.2 1.1-15.1 1-43.7 1.1 140.4 1-27.4 1-63.6 1.1-36.9 1 11 1 70.6 1.1-11.1 1-12.1 1.1 38.7 1-76.1 1 88.5 1.1-52.6 1-38.2 1.1 55.2 1-11.8 1-52.1 1.1 97.9 1-163.1 1 70 1.1-4 1-55.7 1.1-105.9 1 195.3 1-99.5 1.1 11 1 43.6 1.1 48.7 1 38.2 1-13.2 1.1-66.2 1 102.9 1-15.2 1.1 13.9 1-118 1.1-2.5 1 43.4 1 8.3 1.1 17 1-50.4 1.1 1.5 1 65.4 1-104.8 1.1 43.1 1 54.4 1.1 32.9 1-13.4 1 58.2 1.1-48.5 1 14.7 1-1.9 1.1-40.6 1-65.5 1.1 30.1 1-5.4 1-30.1 1.1 61.9 1-41.3 1.1-28.4 1 68.3 1-31.2 1.1 64.8 1-105.3 1 16.8 1.1 65.3 1 8.5 1.1-6.8 1 55.5 1-71 1.1-13.8 1 49.2 1.1-45.5 1 32.1 1 43 1.1-42.4 1 16.1 1-7.6 1.1 46.3 1 12 1.1 15.3 1-17.2 1 47.6 1.1-73.7 1-2.2 1.1-15.6 1 61.1 1-44.7 1.1-14.8 1-42.4 1 38 1.1 28.8 1-127.8 1.1 34.3 1 1.3 1 .9 1.1 33.9 1-11 1.1 28.6 1 18.3 1 54.8 1.1-45.2 1 36.8 1.1-9.2 1 24.1 1-12.3 1.1-26.9 1 57.3 1 21 1.1-84 1 22.8 1.1-12.5 1-90.6 1 138.2 1.1-30.5 1-22.7 1.1-17.3 1-76.1 1-56.1 1.1 82.9 1 10.1 1-5.4 1.1 3.3 1 63.4 1.1 3.3 1-18.9 1-8.5 1.1 109.8 1-49.2 1.1-26 1-54.7 1-13.9 1.1-31.9 1 71.9 1 21.5 1.1-11.4 1 14.9 1.1 17.3 1 27.1 1-95.3 1.1 16.4 1 73.4 1.1-27.8 1 4 1-58.2 1.1 90.3 1-52.8 1.1-13.9 1-23.3 1 42.6 1.1 4.7 1-3.1 1 71.2 1.1-10.1 1-41 1.1-20.4 1 4.4 1 28.8 1.1-94.9 1 100.3 1.1-13.5 1 91.9 1-58.3 1.1-21.4 1 5.7 1-31 1.1-12.2 1 10 1.1-86.3 1 58.9 1-73.4 1.1 28.3 1-2.1 1.1 54.8 1 36.8 1 .7 1.1-64.3 1 14.2 1 14.1 1.1 8.7 1 40 1.1-10.7 1-18.4 1 77.8 1.1-30.1 1 41.1 1.1-64.1 1 26.2 1-8.8 1.1-8.5 1-50.2 1 40.2 1.1-70.2 1 60.4 1.1-274.9 1 262.3 1-49.4 1.1-37.9 1 22.7 1.1-81.7 1-7.1 1-5 1.1 56.9 1-68.5 1.1 62.4 1 10.3 1-14.2 1.1-27.5 1 22.7 1-54 1.1 55.4 1 57.8 1.1-3.7 1-106.2 1 57.8 1.1-8.4 1 43.3 1.1-23.5 1-12.6 1-20.2 1.1 34.1 1-5.4 1 18.5 1.1 2.5 1-42.7 1.1 72.7 1 1.1 1-11.1 1.1 1.8 1 43.7 1.1-1.5 1 30.6 1-35.7 1.1 11.9 1-31.6 1-48.3 1.1-9.2 1 68.2 1.1-22.7 1 13.9 1-127.1 1.1 89.3 1 11.7 1.1-25.8 1-2.5 1-75.1 1.1 66.8 1 57.5 1.1-101.3 1 82.5 1-44.2 1.1 49.4 1 60.7 1-57.9 1.1 12.9 1 10.5 1.1-29.9 1 56.7 1-141.9 1.1 71.8 1-73.8 1.1 10.1 1 57.8 1-60.1 1.1 28.6 1 72.6 1-36.5 1.1 81 1-101.5 1.1 17 1-91 1 111.5 1.1-7.8 1 49.2 1.1-15.5 1-30.9 1-62 1.1 112.3 1-70.9 1-49.1 1.1 91.7 1-102.5 1.1 65.4 1-57.8 1 83.5 1.1-57.5 1 181.1 1.1-53.3 1-27 1-2.3 1.1 18.7 1 15.4 1.1-17.8 1-54 1 58.2 1.1-78.1 1 45.6 1 22 1.1-79.6 1 54.6 1.1-49.1 1 123 1-119.2 1.1 43.8 1 11.4 1.1-16 1 11.8 1-23.6 1.1 18.8 1 1.3 1 26 1.1 15 1-62.7 1.1 56.4 1-68.1 1-44.9 1.1 22.7 1-5.1 1.1 28.7 1 25.4 1 19.8 1.1 52.3 1-13.5 1-52.2 1.1 36.9 1-37.8 1.1 23.6 1 5.6 1-73.6 1.1 27.4 1 19.3 1.1-47.5 1-64.2 1 46 1.1-30.3 1 87.8 1-31.1 1.1 7.2 1 63.4 1.1-48.5 1-31.8 1-90.6 1.1 53.7 1-6.8 1.1 26.5 1-38.5 1 92.1 1.1 37.6 1-62.7 1.1-44.1 1 69.6 1-17.6 1.1 50.1 1-50.3 1-32.7 1.1-28.9 1 61.9 1.1-100.3 1 52.9 1 79.3 1.1-41.2 1 .3 1.1-14.5 1-56.8 1 38 1.1 32.5 1-.8 1-70.2 1.1 49 1 38.6 1.1-27 1 59.1 1-61.5 1.1-66.5 1 78.8 1.1 15.9 1 31.3 1-.1 1.1 48.3 1-40 1-20.6 1.1-35.7 1 8.4 1.1 64.7 1 25.7 1-65.3 1.1-2.5 1-12.3 1.1 22.7 1-8.3 1-29.5 1.1 49.7 1-101.4 1.1 39 1-12.2 1 11.7 1.1-41.7 1-38.5 1 34.3 1.1-40.7 1 31.8 1.1-10.6 1 144.1 1-178.7 1.1 55.9 1 116.1 1.1-54.7 1-47 1 86.8 1.1 63.6 1-88.6 1 35.9 1.1-96.6 1 28.3 1.1 27 1-9.6 1-46.2 1.1-5.8 1-10 1.1-13.6 1 6.3 1-2.4 1.1 43.1 1-79.8 1 79.5 1.1 49.4 1-72.2 1.1-31.4 1-22.3 1 15.2 1.1-30.8 1 61.7 1.1-16.7 1 33.7 1-26.4 1.1 17.6 1 27.1 1-25.3 1.1 60 1-46.6 1.1-65.6 1 56.7 1 13.4 1.1-26 1 27.7 1.1-11.3 1 27.5 1-71.7 1.1-42.5 1 18 1.1-69.9 1-22.5 1 56.1 1.1-90.4 1 94.2 1 75.2 1.1-111.4 1-13.7 1.1 138.1 1-158 1 107 1.1-30.7 1-87.9 1.1 160.4 1-47.9 1 38.4 1.1-5.3 1 1.7 1 19.1 1.1 50.6 1-89 1.1-20.9 1 51.8 1-13.3 1.1-116.5 1 134.5 1.1-27.3 1 15.1 1-151.7 1.1 249.6 1-69.6 1-53.2 1.1-11.3 1-.9 1.1-5.6 1 33.3 1-22.2 1.1-43.2 1 9.7 1.1 37.1 1-69 1 29 1.1 67.1 1-34.7 1.1 71.1 1-109.5 1 30.9 1.1-19.8 1-9.4 1 65.4 1.1 9.8 1-41.5 1.1-4.7 1 90.8 1-.1 1.1-154.5 1 95 1.1-78.2 1 28.2 1 43.6 1.1-20.3 1 74.5 1-50.1 1.1 2.3 1 1.6 1.1 76.4 1-66.6 1 21.7 1.1-24.2 1 22.5 1.1-57.8 1-8.1 1 59.4 1.1-45.8 1-74.8 1 14.7 1.1 31.5 1 32.1 1.1-65.9 1 91.1 1-50.4 1.1-26.3 1-32.1 1.1 98.2 1 10.6 1-66 1.1 115.1 1-2.8 1 7.9 1.1-72.5 1 33.4 1.1-140.1 1 98.8 1-44 1.1 9.4 1 23.3 1.1-47 1 30.4 1-24.2 1.1 22.1 1-.7 1.1 77.1 1 49.6 1-91.8 1.1-26.1 1 58.3 1 22.1 1.1-12.3 1-68 1.1 47.2 1-40.3 1 15.8 1.1 8.9 1-18.8 1.1 32.2 1-48.7 1 85.1 1.1-60.9 1-50.8 1 99.4 1.1 2.3 1-18.7 1.1-5.5 1 19.6 1 25 1.1-43.7 1 38.3 1.1-67.6 1 39.5 1-73.5 1.1 51.9 1 3.2 1-55.5 1.1 33.8 1-103.1 1.1 75.1 1-6.3 1 43.9 1.1-21.6 1 55 1.1 45.3 1-77.1 1 32.7 1.1 30.3 1-37.6 1.1 1.8 1-59 1 28.1 1.1-57.4 1 87.7 1-14.9 1.1 3.2 1-99.2 1.1 128.3 1 23.1 1-5 1.1-40.9 1 38.2 1.1-57.9 1-31.2 1 26.3 1.1-29.1 1 109.4 1-185.5 1.1 114.3 1-54.4 1.1 5.4 1 47"/>
</g>
<rect x="1145.2" y="806.5" width="857.1" height="638.3" fill="none" stroke="#000" stroke-width="1.9" stroke-linejoin="miter"/>
<path stroke="#000" stroke-width="1.9" d="M1184.2 1444.8v8.4M1288.2 1444.8v8.4M1392.1 1444.8v8.4M1496.1 1444.8v8.4M1600 1444.8v8.4M1704 1444.8v8.4M1807.9 1444.8v8.4M1911.9 1444.8v8.4M1145.2 1400h-8.4M1145.2 1288.3h-8.4M1145.2 1176.6h-8.4M1145.2 1064.9h-8.4M1145.2 953.2h-8.4M1145.2 841.5h-8.4"/>
<g style="font-size:24px"><text x="1184.2" y="1480.2" text-anchor="middle">0</text><text x="1288.2" y="1480.2" text-anchor="middle">20</text><text x="1392.1" y="1480.2" text-anchor="middle">40</text><text x="1496.1" y="1480.2" text-anchor="middle">60</text><text x="1600" y="1480.2" text-anchor="middle">80</text><text x="1704" y="1480.2" text-anchor="middle">100</text><text x="1807.9" y="1480.2" text-anchor="middle">120</text><text x="1911.9" y="1480.2" text-anchor="middle">140</text><text x="1128.4" y="1409.2" text-anchor="end">205</text><text x="1128.4" y="1297.5" text-anchor="end">210</text><text x="1128.4" y="1185.8" text-anchor="end">215</text><text x="1128.4" y="1074.1" text-anchor="end">220</text><text x="1128.4" y="962.4" text-anchor="end">225</text><text x="1128.4" y="850.7" text-anchor="end">230</text></g>
<text x="1573.8" y="1513.5" text-anchor="middle" style="font-size:24px">Time (ns)</text>
<text transform="translate(1067.4 1125.7) rotate(-90)" text-anchor="middle" style="font-size:24px">Solvent Accessible Surface Areas (nm^2)</text>
<rect x="1468.5" y="818.5" width="210.5" height="115.1" rx="4.8" fill="#fff" fill-opacity="0.8" stroke="#cccccc" stroke-width="1.9"/>
<path stroke="#ff0000" stroke-width="1.75" d="M1477.5 837.8h49.3"/>
<text x="1545.3" y="846.7" style="font-size:24px">1nod_ARG</text>
<path stroke="#0000ff" stroke-width="1.75" d="M1477.5 873.8h49.3"/>
<text x="1545.3" y="882.7" style="font-size:24px">1nod_CRV</text>
<path stroke="#008000" stroke-width="1.75" d="M1477.5 909.9h49.3"/>
<text x="1545.3" y="918.8" style="font-size:24px">1nod_TML</text>
<clipPath id="cCL"><rect x="126.1" y="1581.2" width="857.1" height="638.1"/></clipPath>
<g clip-path="url(#cCL)" fill="none" stroke-width="1.75" stroke-linejoin="round">
<path fill="#ff0000" d="M165 2147l2-6.7 2-3.3 2 1.7 2 4 2 1.2 2-4.1 2-3.1 2 .4 2-.4 2-1.8 2 .6 2 4.1 2 3.9 2-.4 2-2.6 2-1.9 2-1.1 2-1.1 2 .3 2 1.7 2-1.3 2-.5 2 2.5 2 .3 2-1.2 2-.5 2 2.1 2 3.3 2-3.2 2-5.1 2 1.4 2 5.4 2 3.6 2 0 2-1.6 2 .3 2 1.6 2-4.4 2-6.9 2-2.1 2 1.9 2-.1 2-1.7 2 2.1 2 4.6 2 1.1 2-1.3 2 1.5 2 2.2 2-.2 2-.3 2 .6 2 0 2-1.6 2-2.2 2 .8 2 .2 2-1.9 2 6.7 2 13.3 2 6.1 2 1.5 2 2.3 2 1 2 .2 2 .1 2-.6 2-2.5 2-2.1 2-.7 2-.4 2 0 2 1 2 1 2 1.8 2 1.2 2-.7 2-2.7 2-.8 2 1.7 2 1 2-1.2 2-3 2 .6 2 5.3 2 1.8 2-2.1 2-.7 2 .4 2-5 2-4.2 2-1.5 2 3 2 3 2-3 2-3.3 2-1.4 2-.2 2 1.5 2 .9 2-2.4 2-.8 2-15.7 2-39.5 2-1.6 2-4.1 2-2.2 2 4.1 2 3.5 2-5.9 2-3.8 2 2.8 2 1.8 2 27.7 2 14.3 2 3.1 2 4.4 2 2.5 2-1 2-3.5 2-6.2 2-9.4 2-6.9 2 1.5 2 2.5 2-1 2-.5 2-1.7 2-2.3 2-.5 2 1.5 2 2.6 2 .3 2-.1 2 1.9 2-.1 2-.3 2-2 2-2.3 2 1 2 1.2 2-1.1 2-.6 2 2 2 4.3 2 1.6 2-3.5 2-3.4 2-2.9 2-1.3 2 1.5 2 3.8 2 .3 2-2.9 2 .6 2 1.1 2-.5 2 2.3 2 2 2 0 2 2 2 2.2 2 .3 2-1.6 2 .5 2 1.8 2-3.2 2-4.2 2 1 2 4 2-.7 2-3.4 2 0 2 2.1 2 .9 2-1.2 2-3 2-3.4 2 .6 2 2.3 2-8.5 2-10.6 2-3.2 2 4.7 2 6.2 2 3.1 2-.8 2 2.4 2 .8 2-4.3 2-2.5 2-1.8 2 1.7 2 5 2-.7 2-2.8 2-.2 2-1 2-1.5 2 4.8 2 9.2 2 4.9 2 1.2 2 1.3 2 1.7 2-.4 2-4.4 2-4.9 2-.2 2 4.6 2 4.3 2-3.1 2-6.3 2-7.3 2-.6 2 5.4 2 2.8 2 6.1 2 4.3 2 2.1 2-.8 2 3.2 2 2.3 2-5.3 2-7.4 2-3.3 2 1.9 2 3.4 2 .9 2-.1 2 .9 2 2.6 2 .5 2-1.2 2 3.9 2 6.3 2-.9 2-6.1 2-3.3 2 1.4 2 0 2-4 2-3.5 2-1.6 2 1.9 2-8.3 2-12.2 2-5.1 2 9 2 5.9 2 .4 2 .6 2 1.2 2 .6 2-1 2-3.2 2-1.3 2 1.5 2 1.1 2-.2 2-2 2-2.8 2 .1 2 2 2 1.8 2 1.7 2 .7 2-.1 2 .6 2-1.5 2 .5 2 2.9 2 5.1 2 3.8 2-.5 2-1.5 2-1.9 2-1.4 2 1 2 1.1 2 .4 2 0 2-1.2 2 1.2 2 2 2-1.1 2-.2 2 .5 2-1.6 2-1.1 2 1.6 2 3.4 2 .8 2-1.8 2 .7 2 4.1 2 .8 2-1.4 2 1.4 2-.5 2-3.7 2-4.5 2-1.7 2 .9 2 2.7 2 1.5 2 .6 2 .2 2-3.3 2-3 2 3.1 2 5.6 2 2.7 2-1.3 2-2.7 2-2.8 2-3.4 2 .3 2 3.4 2 2.7 2 3.4 2 .7 2-4.2 2-3.9 2 .1 2 3.2 2 4.6 2-.2 2-7.2 2-5.6 2 1 2 5.6 2 2.3 2-3.6 2-.1 2 2.6 2-.5 2 .3 2 1.7 2-1.5 2-1.9 2 .1 2-.4 2 .8 2 2.6 2 1.1 2-1.3 2-2.3 2-2 2 .3 2 .4 2 .1 2 1.2 2-1.9 2-1.3 2 .9 2-1.6 2-.8 2 .2 2-.3 2 0 2 .3 2 .9 2 1.6 2-1.4 2-1.6 2 1.5 2 2.7 2 2.7 2 1.7 2-2.7 2-17 2-5.9 2 2.6 2 1.5 2 1.9 2 0 2-3.1 2-2 2-1.9 2-2.1 2 .8 2 2.3 2 .4 2 2.2 2 4.5 2 3 2 1.4 2 2 1 1.1 0 2.5 -1-1.1 -2-2 -2-1.4 -2-3 -2-4.4 -2-2.2 -2-.5 -2-2.3 -2-.8 -2 2.2 -2 1.8 -2 2 -2 3.1 -2 .1 -2-2 -2-1.5 -2-2.5 -2 5.7 -2 16.7 -2 2.8 -2-1.7 -2-2.8 -2-2.6 -2-1.6 -2 1.7 -2 1.4 -2-1.7 -2-.9 -2-.3 -2 .1 -2 .3 -2-.3 -2 .9 -2 1.5 -2-.9 -2 1.3 -2 1.9 -2-1.1 -2-.1 -2-.4 -2-.4 -2 2 -2 2.3 -2 1.3 -2-1 -2-2.7 -2-.8 -2 .5 -2-.1 -2 1.8 -2 1.6 -2-1.8 -2-.3 -2 .6 -2-2.6 -2 0 -2 3.6 -2-2.3 -2-5.6 -2-.9 -2 5.6 -2 7.2 -2 .1 -2-4.5 -2-3.3 -2 0 -2 3.9 -2 4.2 -2-.7 -2-3.4 -2-2.8 -2-3.3 -2-.3 -2 3.3 -2 2.9 -2 2.7 -2 1.3 -2-2.7 -2-5.7 -2-3.1 -2 3 -2 3.3 -2-.1 -2-.7 -2-1.5 -2-2.7 -2-.9 -2 1.8 -2 4.5 -2 3.7 -2 .5 -2-1.4 -2 1.4 -2-.9 -2-4.1 -2-.6 -2 1.8 -2-.8 -2-3.4 -2-1.7 -2 1.1 -2 1.6 -2-.4 -2 .2 -2 1.1 -2-2 -2-1.3 -2 1.3 -2-.1 -2-.3 -2-1.1 -2-1.2 -2 1.5 -2 1.8 -2 1.5 -2 .4 -2-3.8 -2-5.1 -2-2.9 -2-.6 -2 1.5 -2-.6 -2 .1 -2-.7 -2-1.7 -2-1.8 -2-2 -2-.1 -2 2.8 -2 2 -2 .2 -2-1.1 -2-1.5 -2 1.3 -2 3.2 -2 1 -2-.6 -2-1.2 -2-.6 -2-.4 -2-5.7 -2-8.6 -2 5.3 -2 12.1 -2 8.3 -2-1.8 -2 1.5 -2 3.5 -2 4 -2 0 -2-1.4 -2 3.3 -2 6.1 -2 .9 -2-6.3 -2-3.9 -2 1.2 -2-.5 -2-2.5 -2-1 -2 .1 -2-.9 -2-3.4 -2-1.8 -2 3.2 -2 7.5 -2 5.2 -2-2.3 -2-3.2 -2 .8 -2-2.1 -2-4.3 -2-6.1 -2-2.8 -2-5.5 -2 .6 -2 7.2 -2 6.2 -2 3 -2-4.2 -2-4.6 -2 .2 -2 4.9 -2 4.3 -2 .5 -2-1.8 -2-1.2 -2-1.3 -2-4.6 -2-8.9 -2-4.6 -2 1.5 -2 1 -2 .1 -2 2.9 -2 .7 -2-5.1 -2-1.6 -2 1.8 -2 2.5 -2 4.3 -2-.8 -2-2.4 -2 .8 -2-3.1 -2-6.3 -2-4.6 -2 2.9 -2 10.2 -2 8.1 -2-2.3 -2-.6 -2 3.4 -2 3 -2 1.2 -2-.9 -2-2 -2 0 -2 3.4 -2 .7 -2-4 -2-1 -2 4.2 -2 3.2 -2-1.7 -2-.6 -2 1.6 -2-.3 -2-2.2 -2-1.9 -2 0 -2-2 -2-2.3 -2 .5 -2-1.1 -2-.6 -2 2.9 -2-.3 -2-3.7 -2-1.6 -2 1.4 -2 2.9 -2 3.3 -2 3.5 -2-1.5 -2-4.3 -2-2 -2 .6 -2 1.1 -2-1.1 -2-1 -2 2.3 -2 2 -2 .3 -2 .1 -2-1.9 -2 .1 -2-.3 -2-2.6 -2-1.5 -2 .6 -2 2.2 -2 1.8 -2 .5 -2 .9 -2-2.4 -2-1.5 -2 6.8 -2 9.2 -2 6 -2 3.5 -2 1 -2-2.5 -2-4.4 -2-3.1 -2-13.9 -2-26.9 -2-1.8 -2-2.8 -2 3.8 -2 5.9 -2-3.5 -2-4.1 -2 2.2 -2 4.1 -2 1.6 -2 39.2 -2 15.5 -2 .8 -2 2.4 -2-.9 -2-1.5 -2 .2 -2 1.4 -2 3.4 -2 2.9 -2-3 -2-2.9 -2 1.4 -2 4.2 -2 4 -2-.5 -2 .8 -2 2 -2-1.8 -2-5.2 -2-.6 -2 2.9 -2 1.2 -2-.9 -2-1.8 -2 .8 -2 2.7 -2 .8 -2-1.3 -2-1.7 -2-1 -2-1 -2-.1 -2 .5 -2 .7 -2 2 -2 2.6 -2 .6 -2-.2 -2-.1 -2-1.1 -2-2.3 -2-1.4 -2-5.9 -2-12.8 -2-6.4 -2 2 -2-.3 -2-.8 -2 2.2 -2 1.6 -2 .1 -2-.7 -2 .3 -2 .3 -2-2.3 -2-1.5 -2 1.3 -2-1 -2-4.6 -2-2.2 -2 1.7 -2 .2 -2-2 -2 2.1 -2 6.9 -2 4.4 -2-1.6 -2-.2 -2 1.5 -2 0 -2-3.6 -2-5.4 -2-1.4 -2 5.2 -2 3.1 -2-3.3 -2-2 -2 .4 -2 1.2 -2-.3 -2-2.4 -2 .4 -2 1.3 -2-1.7 -2-.2 -2 1 -2 1.1 -2 1.9 -2 2.6 -2 .4 -2-3.8 -2-4 -2-.6 -2 1.9 -2 .5 -2-.3 -2 3.2 -2 4.2 -2-1.1 -2-4 -2-1.5 -2 3.3 -2 6.8z"/>
<path stroke="#ff0000" d="M165 2149.4l.5-6 .5-7.4 .5 3.8 .5 13.2 .5-23.3 .5 7.6 .5-3.6 .5-6.6 .5 0 .5 16.2 .5-13.9 .5 25.3 .5-14.7 .5 5.2 .5 2.6 .5-15.2 .5 20.5 .5-6.2 .5-1.6 .5 4.4 .5-3.5 .5-1.9 .5-10.4 .5 6.8 .5 4.1 .5-11.1 .5 10.6 .5-8.3 .5 6 .5-3.4 .5-7.1 .5 5.7 .5-2.3 .5-1.6 .5-.3 .5-8.9 .5 11.5 .5 .5 .5-6.3 .5-3.8 .5 14.1 .5-1.9 .5 5 .5 .2 .5-11.9 .5 7.1 .5 .2 .5 7.3 .5-9.7 .5 1.4 .5 13.6 .5-13 .5 7.4 .5 .4 .5-9.9 .5 3.9 .5-1.5 .5 1.2 .5-3.8 .5 11 .5-7.7 .5 6.8 .5-1 .5-15.4 .5 14.6 .5-8.3 .5 7 .5 1.3 .5 1.6 .5-2 .5-6.7 .5-3 .5 3.9 .5 .7 .5-1 .5-1.1 .5 5.1 .5-5.1 .5 4.2 .5-.4 .5 5.5 .5-10.1 .5-.5 .5-2 .5 9 .5-2.5 .5-3.8 .5 11.7 .5-14.7 .5 10.7 .5-1.8 .5-4 .5-3.4 .5 1.9 .5 9.2 .5-13.4 .5 6.4 .5-3.6 .5 4.6 .5-4.7 .5 1.3 .5-5.2 .5 8.7 .5-5.9 .5 5.3 .5-10.1 .5 3.6 .5 5.9 .5-1.2 .5 4.1 .5-1.5 .5 8.1 .5-1.2 .5 2.7 .5-3.5 .5 1.5 .5-1.6 .5-6.1 .5-5.7 .5 1.4 .5 .8 .5-5 .5 2.5 .5 9.3 .5-.4 .5-7.2 .5 .2 .5 3.8 .5-5.1 .5 16.3 .5-2.6 .5-8.7 .5 5.5 .5-2.3 .5 11.2 .5-14.9 .5 3 .5 12.8 .5-.1 .5-.8 .5-7.4 .5-4.6 .5-2.1 .5 9.7 .5-8.4 .5 4.4 .5 .1 .5 6.8 .5-10.1 .5 8.7 .5-10.3 .5-1.3 .5-5.4 .5 5.9 .5-4.1 .5 .1 .5-3.5 .5 1.7 .5 8.7 .5-6.8 .5 3.4 .5-5.5 .5 .7 .5 7.4 .5 6.8 .5-16.4 .5 5.9 .5-5.9 .5 5.2 .5-2.4 .5-4.7 .5-5.9 .5-.4 .5 17.3 .5-6.5 .5 .7 .5 4.5 .5-2.5 .5 13.7 .5-10.4 .5 5.8 .5-4.3 .5-9.4 .5 11.4 .5-1.9 .5-4.7 .5 10.2 .5-4.3 .5 1 .5-11.4 .5 4.8 .5-6.4 .5 13.9 .5 3.3 .5-9 .5 16.9 .5-19.2 .5 7.6 .5-13.8 .5 .4 .5 13.5 .5-1.5 .5 10.9 .5-10.2 .5 6.4 .5-11.9 .5 8.2 .5 4.7 .5-7.5 .5 7.6 .5-1.8 .5-4.8 .5-7.8 .5 2.1 .5-6.5 .5 14.6 .5 2.4 .5-7.6 .5 .1 .5-14.2 .5 17.8 .5-14.1 .5 4.9 .5 15.2 .5-8.4 .5-6.9 .5-.6 .5 6.3 .5 4.5 .5-5.9 .5-1.1 .5 1.7 .5 1 .5-13 .5 2.3 .5 20.1 .5-6.9 .5-2.8 .5 10.8 .5 4.4 .5 2.5 .5 8.3 .5-7.8 .5 3.5 .5-4.4 .5 11.9 .5-10.3 .5-1 .5 8.4 .5-1 .5-4.3 .5 6.5 .5 1.1 .5-3.7 .5 3.4 .5 1.4 .5-.7 .5-3.8 .5 1.4 .5-1.3 .5 .1 .5 1.2 .5-1.2 .5 1 .5 .1 .5-.4 .5 2.4 .5-6 .5 .5 .5 .2 .5-1.5 .5 3.7 .5-1.5 .5-1.6 .5-1.1 .5 2.3 .5 .7 .5 0 .5-3.8 .5 .9 .5-5.9 .5 4.6 .5 7.7 .5-9.5 .5 5.4 .5-1.1 .5-5.2 .5-2.6 .5 3.5 .5 7.1 .5-.5 .5-1.1 .5-3.2 .5 3.8 .5-5.7 .5 6.9 .5-1.1 .5 1.4 .5 5.7 .5 .5 .5-9.9 .5 4 .5-.6 .5 1.3 .5 6.5 .5-11.4 .5 3.2 .5 4.3 .5-7 .5 6.6 .5-5.7 .5-1.3 .5 1.8 .5-3.2 .5 4 .5 2.7 .5-13.1 .5 11.5 .5-9.3 .5 .7 .5 9.2 .5-1.2 .5 .2 .5-4.1 .5 1 .5 .7 .5-4.8 .5 6.5 .5-3.2 .5 1.9 .5-10.3 .5-.6 .5 5.1 .5 1.1 .5 2.8 .5-2.6 .5 .2 .5 .8 .5 7.7 .5-1.3 .5 6.3 .5-5.3 .5 1.8 .5-1.8 .5-1 .5 1.6 .5-5.6 .5 1.7 .5 2.5 .5-4.1 .5-4.7 .5 5.3 .5-1.8 .5 5.3 .5-5.5 .5 1.2 .5 2.7 .5-3.3 .5 3.7 .5-3.8 .5-3.1 .5 3.6 .5-2.8 .5-6 .5 8.1 .5-6.2 .5 2.5 .5-2.9 .5 3 .5-5.1 .5 6.8 .5-.3 .5-.8 .5 2.1 .5-1.3 .5 5.1 .5 5.6 .5-14.1 .5 2.2 .5-8.1 .5 5.4 .5 .9 .5 1.6 .5-10.1 .5 2.6 .5 3.8 .5 13 .5-12.7 .5-.4 .5-4.9 .5 1.9 .5-10.9 .5 9.3 .5 0 .5 2.8 .5 0 .5 14.9 .5-6 .5-6.1 .5-10.4 .5 20.8 .5-13.9 .5-2.4 .5 3.3 .5-.8 .5 8.4 .5-7.6 .5 2.7 .5 2 .5 6.9 .5-14 .5-14.1 .5-10.9 .5-16.1 .5-7.4 .5-19.7 .5 23 .5-12.7 .5 .7 .5 8 .5-8.3 .5 3.1 .5-7.3 .5 1.3 .5 1.4 .5 10.1 .5-22.6 .5 5.1 .5 8.8 .5 2.5 .5-5 .5 3.6 .5 1 .5 6.8 .5-14.3 .5 9.2 .5 9.4 .5-3.6 .5-13.2 .5 5.5 .5-12.1 .5 9.6 .5-1.4 .5-2.8 .5 2.6 .5-3.2 .5 10 .5-.6 .5-.6 .5 3.7 .5 .6 .5-6.9 .5 10 .5 2.5 .5-2.3 .5 22.2 .5 .1 .5 7.4 .5 8.6 .5-8.8 .5-.2 .5-5.4 .5 9.7 .5 .2 .5-2 .5 8.2 .5-5.1 .5-2.6 .5 3.6 .5 2.3 .5 .7 .5 1.3 .5-4.6 .5 .6 .5-4.2 .5 6.4 .5 6 .5-2.9 .5-11 .5 2.7 .5 6.7 .5-7.4 .5-2.6 .5-6.5 .5 11.9 .5-5.4 .5-12.3 .5 7.3 .5-12.3 .5 2.6 .5 5 .5-11.6 .5-.2 .5-.5 .5 5.7 .5 5.5 .5 1 .5 4.9 .5 1.6 .5-5.9 .5-11.4 .5 2.4 .5 7.5 .5-1.8 .5-2.2 .5-2.2 .5 5 .5-9.8 .5 6.1 .5 2.8 .5 4.2 .5-.6 .5-10.8 .5-3.5 .5 5.8 .5 1.3 .5-9.8 .5-.4 .5 4.2 .5 2.8 .5 2.4 .5-2 .5 1 .5 5.6 .5-5.7 .5 .5 .5-5.3 .5 9.9 .5 3.9 .5-1.7 .5-7.5 .5 9.7 .5-7.2 .5 10.2 .5-7.5 .5 4.9 .5-4.4 .5 .1 .5-4.1 .5 .7 .5 9.4 .5-10.3 .5 12.6 .5-16.9 .5 8.4 .5-2.5 .5 11.1 .5-11 .5 0 .5-2.3 .5 6.8 .5-5.1 .5 0 .5-8.1 .5 5.4 .5-.1 .5-1.8 .5 12 .5 3.3 .5-11.4 .5-1.6 .5 6.2 .5 .8 .5-8.3 .5 7.3 .5-5.8 .5 .3 .5 .8 .5 4.8 .5-3.9 .5 1 .5-.9 .5-9.2 .5 15.6 .5-6.3 .5-1.4 .5-1.2 .5-.8 .5 8.9 .5 5.1 .5-4.5 .5-.7 .5 3.6 .5-12.9 .5 11 .5-3.6 .5 4.3 .5 1.1 .5-7.6 .5-5.2 .5 8.2 .5-3.9 .5 2 .5 .1 .5-4.5 .5-3.9 .5 4.1 .5-1.4 .5 5.9 .5-5.9 .5 5.1 .5-1.1 .5-2.9 .5-11.1 .5 6.4 .5 9.6 .5 1.8 .5-6.7 .5-3.5 .5 18.6 .5-11.6 .5-8.7 .5 10.5 .5 3.9 .5-17.9 .5 9.8 .5-2.8 .5 2.3 .5 3.4 .5-7.1 .5-.2 .5-.1 .5 10.5 .5 .6 .5-10.5 .5 10.3 .5-8.4 .5 3.2 .5-2.1 .5 1.3 .5 8.6 .5-4.9 .5-3.9 .5 12 .5 1.7 .5-8.1 .5 7 .5 .8 .5-11.3 .5-4.6 .5 2 .5-.2 .5 4.8 .5 11.4 .5-9.9 .5 .1 .5 10 .5-7.5 .5 3.5 .5 7.5 .5-16.1 .5 1.2 .5 3.6 .5 1.7 .5-.9 .5 1.5 .5-7.9 .5 3.5 .5-3.4 .5 5.4 .5 3.5 .5 .9 .5-1.1 .5 3.9 .5-11.4 .5 5.2 .5 1 .5-9.7 .5 15.6 .5-14 .5 6.1 .5-6.4 .5 1.1 .5-.2 .5 8.1 .5-6.8 .5 4.4 .5 1.2 .5 0 .5 2 .5-6.4 .5-4.2 .5 5.7 .5-2.8 .5-6.8 .5 13.9 .5-14.2 .5 14.8 .5-14.1 .5 2.6 .5 6.9 .5-.3 .5 2.9 .5-4 .5-1.1 .5-8.2 .5 11.9 .5-2.3 .5 .7 .5 2.6 .5 3.9 .5-10 .5 2.2 .5-.9 .5-6.9 .5 11.3 .5-6.6 .5-7.2 .5 7.8 .5-2.2 .5 .1 .5-7.3 .5 .2 .5 5.4 .5 3.5 .5-6.9 .5 5.2 .5-.8 .5 3 .5 2.6 .5-2.1 .5 1 .5 1.1 .5-14.7 .5 7.1 .5-11.4 .5-1.6 .5-4.8 .5 4.6 .5-15.8 .5 2.3 .5 3.9 .5-1.7 .5-3.5 .5 14.1 .5-1.5 .5-2.5 .5 11.2 .5 8.6 .5-16.1 .5 15.7 .5-11.8 .5 13.7 .5-1.2 .5-12.9 .5 19.9 .5-19.7 .5-4.4 .5 5.9 .5 7.1 .5-5.6 .5-1.8 .5 14.5 .5-2.2 .5-6.8 .5 15.7 .5-24.9 .5 5.3 .5-4 .5 3.4 .5 2 .5 4 .5-9.1 .5 6.4 .5-6.3 .5 14 .5-21.3 .5 6.7 .5 6.1 .5 3.2 .5-3.6 .5 .1 .5 11 .5-9.8 .5 2 .5-4.7 .5 11.9 .5-6.2 .5-12.2 .5-.4 .5-5.2 .5 15.9 .5-.2 .5 5 .5-12.2 .5-10.7 .5 16.2 .5-2.8 .5-.7 .5 5.8 .5-12.3 .5 7.2 .5-1.3 .5 3.6 .5 7.1 .5-17.7 .5 10.1 .5-2.1 .5 3 .5 10.3 .5 2.7 .5-10.7 .5 9 .5-1 .5-2.3 .5 10.1 .5-1.4 .5 3.9 .5-3.9 .5-2.9 .5 .2 .5 2.1 .5 4.5 .5-5.6 .5 3.4 .5 2.1 .5 8.7 .5-8.4 .5 3.5 .5-5.7 .5-1.1 .5 6.5 .5-8.6 .5-.1 .5 8 .5-7.4 .5 1.2 .5-7.4 .5 2 .5-2.8 .5-2 .5 5.4 .5-6 .5-1.7 .5 1.5 .5 1.7 .5 10.3 .5-10.8 .5 4.4 .5 6.3 .5-10 .5 8.1 .5 2.8 .5 2.7 .5-3.3 .5-.7 .5-.5 .5-5.6 .5-2.7 .5 10.3 .5-10.2 .5-5.7 .5 8.3 .5-12.5 .5-.9 .5-.5 .5 10.1 .5-9.4 .5 8.1 .5-4.7 .5 .9 .5-1.7 .5 4.9 .5 6.1 .5-.9 .5-5.8 .5 1 .5 6.9 .5-5.1 .5 2.3 .5-5.3 .5 6.1 .5 8.6 .5 1 .5-.8 .5 4.8 .5-11.2 .5 7 .5-1.7 .5 2.6 .5 13.6 .5-9.9 .5-13.8 .5 10.3 .5 7.1 .5 4.8 .5-5.9 .5 .3 .5-6.4 .5-.7 .5 5.9 .5 1.1 .5 7.6 .5 .4 .5-6.3 .5-11.3 .5-1.6 .5-3 .5 3.6 .5-7.3 .5-6 .5 2.4 .5 2.7 .5 7.1 .5-.3 .5-5.8 .5-5.6 .5 0 .5 16.4 .5-7.1 .5 4.8 .5-3.2 .5-.8 .5 6 .5-4.7 .5 4.1 .5-14.3 .5 13.4 .5 11 .5-13.5 .5-.3 .5-5.8 .5 9.3 .5-8.4 .5 2.5 .5 1.6 .5-4.3 .5 11.2 .5-12.4 .5 15.2 .5-12.8 .5 3.7 .5 5.1 .5-6.2 .5 15.8 .5-10.7 .5 4 .5-2.1 .5 5.7 .5-7.1 .5 7.2 .5 2.4 .5 7.3 .5-2.8 .5-12 .5 1.6 .5 12.8 .5 .7 .5-2.8 .5 1.3 .5-5.9 .5-.2 .5-3.1 .5-7.7 .5-6.2 .5 8.1 .5-2.2 .5-3.1 .5 1.4 .5 1.7 .5 2.7 .5-.5 .5 3.6 .5-5.9 .5 14.4 .5-6.3 .5-10.3 .5 2.6 .5-6.3 .5 4.8 .5 9.6 .5-13.8 .5-4 .5 4.5 .5 1.9 .5 3.8 .5-12.3 .5 .8 .5 6.9 .5-5.4 .5 14.9 .5-28.6 .5 9.4 .5-2.6 .5-5 .5 6.2 .5-8.1 .5-3.2 .5 4 .5-8.8 .5-1.2 .5-2.6 .5 12 .5-9.1 .5 13.4 .5-6.2 .5 14.9 .5-6.3 .5 .2 .5-.8 .5 .9 .5 3.8 .5-6 .5-.1 .5-2.6 .5 7.5 .5-6.5 .5 .4 .5 10.5 .5-14.7 .5 .4 .5 7.6 .5 1.9 .5 4.4 .5-2.8 .5-1.5 .5 3.6 .5-10 .5 .7 .5 4.7 .5 8.7 .5-12 .5 .4 .5-2.5 .5-2.9 .5-3.6 .5 9.7 .5-1.2 .5-3.1 .5 2.6 .5 2.5 .5-4.4 .5-.3 .5-3 .5 4.4 .5 7.4 .5-8.5 .5 2.3 .5 3.8 .5-1.4 .5 .6 .5 .1 .5 0 .5-3.7 .5-.4 .5 6.1 .5-8.3 .5 2.4 .5-6.2 .5 6.8 .5 1.2 .5-3.5 .5 1.1 .5-3.5 .5 .7 .5 3.8 .5 6.2 .5-8.5 .5 10.3 .5-3.7 .5-2.6 .5-3.3 .5 10.8 .5-4.8 .5 .7 .5 3.9 .5-6.1 .5-5.3 .5 10.4 .5-11.7 .5 2 .5 3.1 .5 5.1 .5-4.7 .5 8.5 .5-10.9 .5 9.7 .5-1.9 .5-6.2 .5-2.5 .5 1.3 .5-1.5 .5 10.5 .5-7.7 .5-1.4 .5 6.4 .5-4.9 .5-3.5 .5 9.7 .5-2 .5 9.2 .5 3.7 .5-4.7 .5-1.5 .5 6.1 .5-2.7 .5-8.5 .5 6.4 .5-3.3 .5 3.6 .5-8 .5 16.8 .5-10.8 .5 1.4 .5-3.6 .5 7.2 .5-6.7 .5-3.5 .5-5.1 .5 14.6 .5-12.3 .5 12.1 .5 2.7 .5-10.8 .5-2.1 .5 12.6 .5-10.9 .5 5.7 .5-13.1 .5 5.1 .5 8.7 .5 4.2 .5-9.3 .5 9.5 .5 .4 .5-5.1 .5 4.6 .5-11.4 .5 6.6 .5 7.3 .5-17.5 .5 10.9 .5-1.4 .5-5.5 .5-3.3 .5 1 .5 2.1 .5 2.9 .5 2.5 .5 2.8 .5 4.5 .5-5.3 .5-2.6 .5-7.8 .5 7.6 .5-7.1 .5 8 .5-.9 .5 4.7 .5-7.6 .5 1.1 .5-.3 .5 2.1 .5-3.2 .5 10.2 .5-10.7 .5 10.4 .5-14.2 .5 7.5 .5-9.1 .5 12.1 .5-2.3 .5 3.5 .5 5.4 .5-1.4 .5-3.4 .5 1.7 .5-3.1 .5 5.7 .5-12.3 .5 12 .5-12.3 .5 5.3 .5 7.6 .5-7.8 .5 .2 .5-1.3 .5 4.3 .5-8.7 .5 8.4 .5 7.7 .5-8.3 .5 4 .5 1.6 .5 .4 .5-1.8 .5-6.1 .5 4.6 .5-4.2 .5 9.3 .5-4.1 .5-5.7 .5 13.8 .5-15.4 .5 4.9 .5 14 .5-17.4 .5-1.4 .5 6.7 .5-1.2 .5-6.8 .5 16.9 .5-2.5 .5-8.2 .5-10.2 .5 2.4 .5 14.7 .5-8.7 .5-1.8 .5-8.5 .5 8.9 .5 2 .5-7.6 .5-2.7 .5 7.1 .5-9.9 .5 5 .5 12.8 .5-3 .5-1.4 .5 2.1 .5-9.6 .5 11.4 .5 4.5 .5 1.7 .5-10.5 .5 1.1 .5-4 .5 8.1 .5 1.1 .5-1.2 .5-6.6 .5-1.6 .5 13 .5-9.1 .5 2.2 .5-8.8 .5-6.2 .5 8.9 .5 1.2 .5-11.5 .5 2.1 .5 6.1 .5 5.6 .5-3 .5 .8 .5-4.5 .5 2.9 .5 6.9 .5 .6 .5-1.2 .5-.2 .5 2.1 .5-7.2 .5 13.5 .5-.4 .5-10.7 .5-1.9 .5 .6 .5 3.5 .5-7.7 .5 5.8 .5-.7 .5 .7 .5 1.9 .5-6.3 .5-4.9 .5 13.7 .5-5.8 .5-5.2 .5 2.2 .5-9.7 .5 4.8 .5 4.1 .5 2.4 .5 1.3 .5 2.2 .5-3.6 .5-8.1 .5 10.9 .5 3.3 .5-5.6 .5 4.8 .5 7.4 .5-4.9 .5 1.7 .5-12.5 .5 14 .5-10 .5 11.7 .5-16.1 .5 2 .5-1.6 .5 6.2 .5 4 .5-3.6 .5-2.1 .5-.4 .5-2.8 .5-1.6 .5 1.4 .5 7.8 .5 5 .5-7.8 .5 4.2 .5-4.9 .5 3 .5 2.3 .5 2.4 .5 2.6 .5-.9 .5-.6 .5-10.1 .5-2.7 .5-.4 .5 5.1 .5-1 .5-1.3 .5 .8 .5 .1 .5-6.7 .5-1.5 .5 9.4 .5 3.5 .5-4.1 .5-9.6 .5 4.9 .5-.9 .5 5.4 .5-6.6 .5 13.6 .5-3 .5-4.7 .5 7.1 .5-6.7 .5-.3 .5-.3 .5-3.6 .5-4.2 .5 8.8 .5-1.9 .5-8.2 .5 7.2 .5 1.3 .5 5.2 .5-2.4 .5 3.2 .5-2 .5-3.8 .5-6.2 .5 12.5 .5-8.6 .5 7.2 .5 1.7 .5-7.1 .5-.8 .5 5.4 .5-2.5 .5 3 .5 2.1 .5-11.1 .5 1.4 .5 14.6 .5-13.1 .5 8.5 .5-5.9 .5-7.7 .5 3.9 .5 5.7 .5-7.4 .5 7.9 .5-1.4 .5-6 .5 1.8 .5-1.2 .5 4.7 .5 10.9 .5-7.5 .5-.1 .5 1.6 .5-7.2 .5-.9 .5 14.4 .5-11.1 .5 2.6 .5 5 .5-10 .5 5.8 .5-1.5 .5-4.7 .5 3.5 .5-11.7 .5 5.4 .5 12.8 .5-15.5 .5 5.5 .5 .7 .5 6 .5-8.4 .5 4.6 .5 1.2 .5-3.2 .5-2.4 .5 13.5 .5-10.4 .5 .7 .5 4.1 .5-14 .5 9.4 .5 6.7 .5-2.3 .5-12.9 .5 12.4 .5 1.9 .5-14.2 .5 5.6 .5-5.2 .5 4.6 .5 7.4 .5-7.4 .5-.4 .5 1.9 .5-3.8 .5 3.6 .5-6.9 .5-.1 .5 11.7 .5 1.4 .5 3.2 .5-14.2 .5 4.4 .5-4 .5 8.9 .5-9.6 .5-8.1 .5 11.4 .5-8 .5 11.2 .5 .4 .5-6.4 .5 4.1 .5 .6 .5-7 .5 5.1 .5 6.7 .5-4.5 .5-12 .5 2 .5 4.4 .5-.4 .5 13.6 .5-13.1 .5 4.4 .5-1.8 .5-3.2 .5 .3 .5 2.9 .5-4.8 .5 .3 .5-2.2 .5 4.3 .5 4.2 .5 .7 .5-2.7 .5 .5 .5 1.1 .5 3.2 .5 6.4 .5-16.2 .5 7.5 .5-2.4 .5-1.3 .5 13.2 .5-6.1 .5 3 .5 4 .5-2 .5-10.3 .5 10.6 .5 1.1 .5 3.3 .5-6.8 .5-2.4 .5 3 .5 .2 .5-9.6 .5-10 .5-6.3 .5 10 .5-10.1 .5-1.6 .5-1.4 .5-.4 .5 13.6 .5 3.1 .5-8.4 .5-6.5 .5 2.6 .5 0 .5-1.6 .5 3.4 .5-10.1 .5 14.7 .5-12.3 .5 8.2 .5 9.4 .5-.7 .5-2.3 .5-5.3 .5 7 .5-4.2 .5-3.3 .5-12.3 .5 13.7 .5-17.8 .5 16.7 .5 4.7 .5-17.8 .5 12.9 .5-4 .5-1.4 .5 2.3 .5-12.4 .5 4.8 .5 4.3 .5 .1 .5-10.3 .5 13.6 .5 3.7 .5-2.9 .5-6.1 .5 2.1 .5-.2 .5-2.7 .5-3.5 .5 11.7 .5-1.4 .5-3.4 .5 9.7 .5-11.9 .5 3.9 .5 4.3 .5 13.5 .5-16.3 .5 10.8 .5 2.2 .5-6 .5-3.2 .5 2.3 .5 5.5 .5-15.7 .5 23 .5-8.3 .5 5.6 .5-9.9 .5 12.6 .5-12.4 .5-.8"/>
<path fill="#0000ff" d="M165 2176l2-.4 2 1.1 2 2.7 2 .4 2-2.1 2-1 2 .2 2 .5 2-.1 2-.5 2-1 2-2.4 2-.5 2-5.6 2-8.7 2-5.6 2 4.6 2 5.7 2-.7 2-4.5 2-2.2 2 2.4 2 6.1 2 4.2 2-2.1 2-5.9 2 1.4 2 3.5 2 2.9 2 4.3 2-.9 2-1.9 2-.1 2 1.6 2 .9 2-1.8 2 1.2 2-1.3 2-4.8 2-1.8 2-.6 2-.5 2 1.1 2 2.5 2 2 2-.7 2-.4 2 1.9 2-.4 2-2.4 2-1.1 2-.9 2 .2 2 .8 2 2 2 .8 2-6 2-6.6 2 3.3 2 4.7 2-3.8 2-8.1 2-7.8 2 2.7 2 12.1 2 7.6 2-.5 2-3.2 2-3.3 2 .8 2-.9 2-10 2-10 2-3.4 2 .2 2-6.3 2-13.8 2-13.3 2-9.8 2 6.2 2 17.4 2 13.5 2 1.5 2-21.7 2-22.7 2-2.4 2-223.8 2-121.9 2 9.8 2 23.1 2 10.4 2-2.8 2 30 2 72.4 2 89.5 2 10.3 2-12.8 2-16.9 2 .3 2 10.8 2 16.9 2-90.8 2-3.8 2 51 2 8.4 2 16 2-3 2-4.5 2 20.6 2-.7 2-121.7 2-77.4 2-25.9 2-18.5 2 5.5 2 38.2 2 106.5 2 26 2-17.8 2-3.4 2-3.1 2-1.9 2-2.2 2-7 2 12.2 2 22.5 2 13.4 2 5.3 2 45.9 2 39.4 2 52.5 2 13.4 2-32.9 2 14.1 2 9.6 2 5.5 2 3.2 2 .4 2 7.1 2 15.5 2 14.8 2-1.6 2-10.9 2-.5 2 14 2 16.6 2 13.7 2 7.3 2 3.2 2 8.4 2 .1 2-.4 2 .9 2 .7 2-.9 2-.1 2-.1 2 1 2 3.4 2 2 2-.3 2-.2 2-1.4 2-1.8 2 .6 2 1.2 2 .1 2 1.1 2 1.7 2-.6 2-1.7 2-2.5 2-3 2 .3 2 1.7 2 2.1 2 .7 2-1.2 2 .4 2-.6 2-16 2-14.7 2-5 2 2.9 2-5.5 2-9.2 2 .7 2-2.6 2-8.3 2 .2 2 3.1 2 3.3 2-2.1 2-5.2 2-3.5 2-2.6 2-4.2 2 .7 2 3.8 2 1.8 2-.4 2-7.3 2-2.4 2 2.7 2 1 2 4.6 2 4.9 2-3.3 2-48.5 2-53.6 2-21.9 2-48.8 2-54.4 2-17.3 2 6.4 2-8.6 2-6.8 2-11.4 2-13.9 2 24.1 2 7.4 2-13.4 2 6.2 2 5.3 2-11.7 2 11.7 2 22.1 2 15.4 2-24.3 2-44.3 2 6.3 2-4.4 2-26.1 2 7.2 2 24.4 2 8.3 2-23 2-44.7 2-.2 2 52.2 2 40.2 2 10.1 2 40.8 2 81 2 76.4 2-92 2-92.9 2-99.5 2 18.6 2 35 2 .1 2-28.9 2-30.7 2 7 2 19.1 2 35.1 2 82.1 2 44.7 2 1.9 2-.6 2 1.6 2-.5 2-2.4 2-1.5 2-.9 2 1.9 2 1 2-.2 2 0 2-1.8 2-.4 2 1.2 2-.3 2-1.6 2-1.2 2 .9 2 .8 2-.2 2-.9 2-1.4 2 .9 2-22.2 2-42.3 2-33 2-15.3 2-11.8 2-21.4 2-48.2 2-35.4 2 11.4 2 28.6 2 14.4 2-11.3 2 5.3 2 77 2 45.2 2-65.4 2-68.8 2 6.9 2 14.5 2 19.7 2 8.7 2-19.3 2-11.3 2-26.8 2-14.8 2 55.3 2 83.2 2 45.3 2-55.7 2-85.1 2-17.1 2 21.2 2 22 2 15.1 2 89.6 2 104.8 2 18.7 2-87.8 2-84.8 2-64.3 2-10.1 2-27 2-29.7 2-38 2-9.9 2 30.2 2 70 2 52 2-21.6 2-40.5 2 10.2 2 21.1 2 22 2 30.9 2 9.5 2-21.3 2-51.5 2-51.5 2-34.6 2 5.7 2 43.2 2 18.4 2-12.3 2 6.2 2 9.9 2-15.1 2-22.7 2-14.3 2 11.4 2 40.3 2 11.5 2-36.7 2-51 2-8.7 2 22 2 142.1 2 67.2 2 8.7 2 24.9 2 19.2 2-8.4 2-29.5 2-19.5 2 6.1 2-53.7 2-71.2 2-13.9 2 40.9 2-4 2-14.1 2 24.3 2 15.4 2 4.4 2 27.8 2 23.7 2-3.2 2-39.7 2 29.3 2 132.2 2-73 2-94.8 2-68.4 2-4.3 2-20 2-36 2 213.5 2 118.3 2 12.8 1 4.2 0 4.8 -1-4.2 -2-12.8 -2-116.7 -2-210.3 -2 40.5 -2 24.6 -2 8.7 -2 67.6 -2 88.5 -2 66.6 -2-121.6 -2-24.1 -2 39.8 -2 3.2 -2-23.8 -2-27.7 -2-4.4 -2-15.4 -2-24.4 -2 14.1 -2 4 -2-40.8 -2 11 -2 65.3 -2 47.9 -2-6.1 -2 19.5 -2 29.6 -2 8.3 -2-19.2 -2-24.9 -2-8.7 -2-62.4 -2-132.4 -2-22 -2 8.7 -2 51 -2 36.7 -2-11.5 -2-40.3 -2-11.4 -2 14.3 -2 22.8 -2 15 -2-9.8 -2-6.3 -2 12.4 -2-18.4 -2-43.2 -2-5.7 -2 33.1 -2 50 -2 50.8 -2 21.3 -2-9.5 -2-30.8 -2-22 -2-21.2 -2-10.2 -2 40.5 -2 21.6 -2-52 -2-70 -2-30.2 -2 9.9 -2 38 -2 29.8 -2 26.9 -2 10.2 -2 59.1 -2 79.6 -2 82.6 -2-15.5 -2-93.2 -2-78 -2-15.1 -2-22 -2-21.3 -2 17.1 -2 85.1 -2 55.8 -2-45.4 -2-83.1 -2-55.4 -2 14.8 -2 26.9 -2 11.2 -2 19.4 -2-8.7 -2-19.7 -2-14.6 -2-6.9 -2 68.8 -2 65.4 -2-45.2 -2-76.9 -2-5.3 -2 11.3 -2-14.5 -2-28.5 -2-11.4 -2 35.4 -2 48.1 -2 21.4 -2 5.1 -2 8.5 -2 26.2 -2 35.5 -2 18.9 -2-.9 -2 1.4 -2 .9 -2 .2 -2-.8 -2-.9 -2 1.2 -2 1.7 -2 .3 -2-1.2 -2 .5 -2 1.7 -2 .1 -2 .2 -2-1 -2-1.9 -2 1 -2 1.4 -2 2.4 -2 .5 -2-1.5 -2 .6 -2-1.9 -2-41.2 -2-75.1 -2-31.6 -2-19.2 -2-6.9 -2 30.7 -2 28.8 -2-.1 -2-35 -2-18.6 -2 95.3 -2 88.5 -2 87.8 -2-69.2 -2-73.8 -2-36.9 -2-9.6 -2-39.6 -2-51.6 -2 .7 -2 45.3 -2 23.6 -2-8.3 -2-24.4 -2-7.1 -2 26 -2 4.5 -2-6.4 -2 44.3 -2 24.3 -2-15.4 -2-22.1 -2-11.7 -2 11.7 -2-5.3 -2-6.2 -2 13.4 -2-7.4 -2-24.1 -2 13.9 -2 11.4 -2 6.8 -2 8.6 -2-6.4 -2 17.3 -2 54.5 -2 45.4 -2 15.3 -2 47 -2 45.2 -2 3.3 -2-4.9 -2-4.5 -2-1.1 -2-2.7 -2 2.4 -2 7.3 -2 .4 -2-1.8 -2-3.7 -2-.8 -2 4.2 -2 2.7 -2 3.4 -2 5.2 -2 2.1 -2-3.3 -2-3.1 -2-.1 -2 7.9 -2 2.4 -2-1.1 -2 8.9 -2 5.2 -2-3.1 -2 4.4 -2 14 -2 15.3 -2 .6 -2-.4 -2 1.2 -2-.7 -2-2.1 -2-1.7 -2-.3 -2 3 -2 2.5 -2 1.7 -2 .6 -2-1.7 -2-1.1 -2-.1 -2-1.2 -2-.6 -2 1.8 -2 1.4 -2 .2 -2 .3 -2-2 -2-3.4 -2-1 -2 .1 -2 .1 -2 .9 -2-.7 -2-.9 -2 .4 -2-.1 -2-7.5 -2-2.3 -2-6.5 -2-13 -2-15.8 -2-13.3 -2 1.2 -2 11.7 -2 2.4 -2-14.1 -2-15.5 -2-7.1 -2-.4 -2-3.2 -2-5.5 -2-9.6 -2-14.1 -2 30.2 -2-13.5 -2-49.9 -2-36.9 -2-43.2 -2-5.4 -2-13.4 -2-22.5 -2-12.2 -2 7 -2 2.2 -2 1.9 -2 3.1 -2 3.5 -2 17.7 -2-24.8 -2-104.1 -2-38.2 -2-5.5 -2 18.5 -2 25.9 -2 77.5 -2 121.8 -2 .7 -2-20.6 -2 4.5 -2 2.9 -2-16 -2-9.3 -2-52.9 -2 1.7 -2 88.4 -2-16.9 -2-10.8 -2-.3 -2 17 -2 12.7 -2-10.3 -2-89.5 -2-72.4 -2-30 -2 2.8 -2-10.4 -2-23.1 -2-9.8 -2 120.7 -2 221.4 -2 2.3 -2 22.6 -2 21.7 -2-1.6 -2-13.6 -2-17.5 -2-6.3 -2 9.8 -2 13 -2 13.4 -2 5.8 -2-.6 -2 3 -2 9.6 -2 9.5 -2 .7 -2-.8 -2 3.3 -2 3.2 -2 .5 -2-7.6 -2-12.1 -2-2.7 -2 7.8 -2 8.1 -2 3.8 -2-4.7 -2-3.3 -2 6.6 -2 6 -2-.8 -2-2 -2-.8 -2-.2 -2 .9 -2 1.1 -2 2.4 -2 .4 -2-1.9 -2 .4 -2 .7 -2-2 -2-2.5 -2-1.1 -2 .5 -2 .6 -2 1.8 -2 4.8 -2 1.3 -2-1.2 -2 1.8 -2-.9 -2-1.6 -2 .1 -2 1.9 -2 .9 -2-4.3 -2-2.9 -2-3.5 -2-1.4 -2 5.9 -2 2.1 -2-4.2 -2-6.1 -2-2.4 -2 2.2 -2 4.5 -2 .7 -2-5.7 -2-4.6 -2 5.2 -2 7.8 -2 4.7 -2 .5 -2 2.4 -2 1 -2 .5 -2 .1 -2-.5 -2-.1 -2 .9 -2 2.2 -2-.5 -2-2.7 -2-1 -2 .3z"/>
<path stroke="#0000ff" d="M165 2178.5l.5 3.2 .5-2.2 .5-6.1 .5-4.6 .5 8.1 .5 .7 .5-2.9 .5 .3 .5 6.3 .5-1.1 .5-6 .5-1.7 .5 12 .5-4.3 .5 3.4 .5-3.2 .5-3.6 .5 2.7 .5-1.9 .5-2.7 .5 .2 .5-.9 .5 6.7 .5-2.9 .5 .3 .5-3.9 .5 3.5 .5 .9 .5 3.5 .5-3.4 .5 1 .5-2.7 .5 3.4 .5-6.5 .5-1.8 .5 2 .5 3.3 .5 3.6 .5-.9 .5-6.8 .5 4.6 .5-2.9 .5-2.4 .5 1.7 .5-3.3 .5 4.7 .5-2.6 .5-2.4 .5 1.2 .5 .3 .5-1 .5 .2 .5-2.4 .5 4.6 .5-9.8 .5-3.5 .5 7.7 .5 7.1 .5 .1 .5-2.1 .5-23.9 .5 3.6 .5 4.8 .5-.1 .5-9 .5 2.5 .5 15.9 .5-3.4 .5-5.4 .5 9.5 .5 7.8 .5-14 .5 20.4 .5-22.1 .5 .6 .5 10.1 .5 3.5 .5-25.5 .5 11.3 .5 11.2 .5-1.3 .5-8.4 .5-7.6 .5 7.5 .5-6.5 .5 16.1 .5-2.9 .5-14.1 .5 14.6 .5-7.9 .5 7.6 .5 13.6 .5-15.5 .5-13.5 .5 16.6 .5 15.4 .5-5.4 .5-11.3 .5 15.9 .5-18.8 .5-8.6 .5 24.4 .5-19.9 .5-1.5 .5-8.7 .5 8 .5 7.8 .5 13 .5-5 .5 1.9 .5 .3 .5-15.5 .5 9.7 .5-6.2 .5-1 .5 1.3 .5 9.7 .5 4.4 .5-5.3 .5 5.7 .5 6.9 .5-3 .5-20.3 .5 21.8 .5-9.5 .5-5.5 .5 3.7 .5-5.6 .5-15.6 .5 15.7 .5 7.2 .5-5.7 .5 .2 .5-1.3 .5 5.8 .5-10.5 .5 7.2 .5 1.2 .5 6.2 .5-9.2 .5 8.3 .5-4.9 .5 16.1 .5-9 .5-4.3 .5-12.1 .5 25.1 .5-19.5 .5 4.1 .5-2.3 .5-.6 .5-.7 .5-10.8 .5 .1 .5 .2 .5-3.1 .5 4 .5-2.3 .5 8 .5 9.1 .5 0 .5-5.9 .5-11.2 .5 4.5 .5 4.2 .5-5.9 .5 13.9 .5-2.4 .5-5.7 .5-9.5 .5-4.8 .5 11.1 .5 8.2 .5-14.3 .5 5.9 .5-2.9 .5 20.3 .5-8 .5-10.9 .5 12.2 .5-1.6 .5 4.5 .5-16.5 .5 22.3 .5-16.3 .5 19 .5-20.4 .5 8.5 .5-8.1 .5-4.2 .5 20.1 .5-3.4 .5 8.8 .5-15.2 .5-8.8 .5 10 .5 5.8 .5-1.4 .5-17.1 .5 10.9 .5-.7 .5 .2 .5 3.7 .5-15.9 .5-3.9 .5 9.1 .5 4.3 .5-20.2 .5 12.4 .5 14.2 .5-7.4 .5 3.5 .5 1 .5-3 .5 .4 .5 2.2 .5-12.1 .5 17.1 .5-19.7 .5 14 .5 4.5 .5 3.9 .5-18.8 .5 27.8 .5-15 .5-2.4 .5 .1 .5-2 .5-3.6 .5 3.6 .5-12.1 .5 7.1 .5-4.5 .5 5.6 .5-1.9 .5-9.9 .5 16.2 .5-11.1 .5 2.6 .5-1.1 .5 7.4 .5 .1 .5-13.6 .5 3.1 .5-.2 .5 11.3 .5-5.1 .5-23.9 .5 14.5 .5 15.5 .5-18.9 .5-7.6 .5 8.8 .5 8.8 .5-11.2 .5 3.5 .5 12.9 .5-19.5 .5 20.7 .5-.3 .5 4.3 .5-15.3 .5 17.3 .5-14.5 .5 .4 .5-.4 .5-3.2 .5-3.3 .5 24.5 .5-15.5 .5 1.9 .5-5.3 .5 3.2 .5-2.9 .5 5.1 .5 14.2 .5-14.9 .5-16.1 .5 20.5 .5 9.5 .5-25.4 .5 21.7 .5-23.5 .5 8.7 .5-6.3 .5-.8 .5-6.7 .5 11.4 .5-4.8 .5-13.1 .5 11.5 .5 3 .5-4.2 .5-15.4 .5 5.6 .5-17.6 .5 14.1 .5 2.2 .5 4.8 .5 8.4 .5-14.5 .5 4.9 .5-15.5 .5 20.7 .5-27.6 .5 27.5 .5-19.5 .5-18.8 .5-.6 .5-7.7 .5 29.9 .5-16.4 .5 23 .5-22.6 .5-28.9 .5 26 .5-18.1 .5-7.8 .5 23.6 .5 22.7 .5-3 .5-20 .5 26 .5-14.8 .5-1.2 .5 27.4 .5-2.7 .5-7 .5 22.4 .5-17.7 .5 23 .5-11.6 .5-19.5 .5-7.6 .5 5.2 .5-36.9 .5 26.6 .5-39 .5 11.1 .5 8.1 .5-9.1 .5-.5 .5-38.5 .5 23.3 .5-19 .5-63 .5-80.1 .5-19.3 .5-55.2 .5-54.2 .5-72.5 .5 36.6 .5 9.5 .5-17.4 .5 10.5 .5-68.3 .5 67.1 .5 27 .5-35.1 .5-89 .5 112.2 .5 66 .5-61.9 .5 1.3 .5 32.2 .5 17.6 .5-31.4 .5 40.2 .5-23.9 .5-80.2 .5 107 .5-51.8 .5 58.9 .5 1.3 .5 47.4 .5 6.4 .5 11.2 .5 31.1 .5 37.6 .5 17.8 .5-24.2 .5 59 .5-73.1 .5 32.6 .5-54.6 .5 33.4 .5 22.5 .5 2 .5-36 .5-16.4 .5 83.2 .5-46.2 .5-17.7 .5-9.6 .5 35.5 .5 13.6 .5-14.6 .5 6.7 .5-52.3 .5 57.2 .5 5.3 .5-36.5 .5 26.1 .5-28.4 .5-49.2 .5 18.4 .5-75.1 .5 69.4 .5-27 .5-17.3 .5-23 .5 1.7 .5 60.7 .5 50.6 .5 3.4 .5 5.4 .5-45.4 .5 20.1 .5-17.3 .5 16 .5 14.7 .5 44.2 .5-46.7 .5 29.1 .5 22.6 .5-26.5 .5-65.6 .5 13.6 .5 60.1 .5-43.7 .5 24.3 .5 40.6 .5-.2 .5-30.1 .5 24.4 .5 70.3 .5-128.8 .5-7 .5 88.2 .5-110.8 .5-2.1 .5 8.8 .5-57.7 .5-83.9 .5 78.6 .5-75.8 .5-18.5 .5 25.6 .5-76.3 .5 79.6 .5-84.6 .5-31.5 .5 45.4 .5 22 .5 35.6 .5-76.1 .5 30.9 .5 22.9 .5-23.1 .5 36.5 .5-10.3 .5 48 .5-26.2 .5 57.1 .5-25.1 .5 4.9 .5 53.2 .5-33.2 .5 54.5 .5 10.5 .5-43 .5 35.2 .5-56.4 .5 40 .5 30.7 .5-22.1 .5 27.4 .5-43.2 .5-10.3 .5-36 .5 67.7 .5-.4 .5-23.7 .5 16 .5-9 .5 54.5 .5-45.5 .5 31.9 .5-14.8 .5-4.3 .5-46 .5-51 .5 5.8 .5 79.3 .5-17.1 .5-6 .5 2.4 .5 39.1 .5-31.9 .5-20.7 .5 57.8 .5-57.7 .5 84.5 .5-18.3 .5-23.2 .5-7.3 .5 24 .5-35.4 .5 70.7 .5-82.3 .5 30.7 .5 32.9 .5-26.7 .5 52.6 .5 48.5 .5-76.2 .5 10.8 .5 31.2 .5 20.5 .5 30.8 .5-25.2 .5 24.4 .5 14.7 .5 19.9 .5 33.6 .5-10.7 .5 10.7 .5-17 .5-8.4 .5-6.6 .5-23.2 .5 38 .5-36.6 .5-10.5 .5 39.6 .5-9.2 .5-4.3 .5-31.2 .5 34.2 .5 1 .5-25.7 .5 25.8 .5-3.5 .5 21.2 .5-48.2 .5 16.3 .5 9.9 .5 40.6 .5-14.7 .5 5.3 .5 12 .5 17.5 .5-15.9 .5 2.4 .5-55.3 .5 47.6 .5 10.8 .5-51.5 .5 24.8 .5 44.5 .5 14.3 .5 1.3 .5-9.3 .5 4.5 .5-32.4 .5 22.6 .5-28.6 .5-9 .5 53.6 .5-64.3 .5 12 .5 28 .5-29 .5 5.4 .5 26.4 .5 5.5 .5-11.9 .5-11.2 .5 12.3 .5 5.4 .5 7.7 .5-12 .5-8.3 .5 26.3 .5-11.2 .5 13.3 .5 19.2 .5-21.1 .5 21.9 .5-15.4 .5 6.7 .5 .7 .5 14 .5-12.4 .5 1.3 .5 5.5 .5-1.7 .5 10.2 .5-.9 .5 .4 .5-.8 .5-3.3 .5 13.2 .5-8.5 .5-.9 .5-9.2 .5 6.7 .5 8.4 .5-12.9 .5 11.1 .5-3.3 .5-.9 .5 2.7 .5 .2 .5 6 .5-12.4 .5 .7 .5 1.1 .5-1.5 .5 8.3 .5-1.6 .5 1.3 .5-.4 .5-3.6 .5-4.8 .5 1.5 .5 1.6 .5 2.6 .5-2.3 .5 1.9 .5-3.4 .5 10.2 .5-8.6 .5 10.9 .5-9.8 .5 4.4 .5 6.4 .5-12.4 .5 12.1 .5 .8 .5-10.1 .5 10.3 .5-5.3 .5 2.9 .5-1.3 .5-2.6 .5-2.9 .5 5.5 .5-9.4 .5 6.3 .5 3.4 .5-1.4 .5-3 .5 5.8 .5-3.4 .5-4.9 .5-2.1 .5-6.2 .5 7.8 .5 7.2 .5-8.2 .5 5.2 .5-1.3 .5-2.2 .5 6.9 .5-2.7 .5 7.4 .5-11.9 .5-1.3 .5 2.8 .5 9.2 .5-13 .5 11.4 .5-2.9 .5-1.4 .5-.4 .5 5.6 .5-9.5 .5 4 .5 1.8 .5 .7 .5-3.4 .5 4 .5 3.5 .5-5.9 .5-1.4 .5-2 .5 1.9 .5-1.1 .5-4.8 .5-3.1 .5 9.6 .5-9.8 .5 .1 .5 4.8 .5-8.7 .5 13.9 .5-4.6 .5-1.8 .5 .2 .5 6.1 .5-2.2 .5 1.8 .5 3.9 .5-4.3 .5-1.9 .5 2.2 .5-9.4 .5 2.9 .5 7.7 .5-2.9 .5-2.3 .5 3.7 .5-8.2 .5 12.6 .5-1.6 .5-7.5 .5 10.1 .5-7 .5-5.3 .5-3.1 .5 .2 .5 .1 .5-7.2 .5-1 .5-8.4 .5-9.5 .5 13.4 .5-5.4 .5-20.2 .5 13.7 .5-9.7 .5 10 .5-6.2 .5 13.4 .5-9.4 .5-6 .5 1.1 .5 4.6 .5-9.5 .5-3 .5 16.4 .5-6.3 .5-25.6 .5 10.2 .5-3.8 .5-12 .5 30.7 .5-28.2 .5 8.4 .5-.1 .5 28 .5 1.2 .5-26.4 .5-10.3 .5 10.8 .5 17.3 .5-35 .5 29.1 .5-8.4 .5-24 .5 37.3 .5-1.7 .5-8.8 .5-2.1 .5-1.8 .5-6.1 .5-19.3 .5 24 .5-13.7 .5 12.8 .5-6.8 .5 11.5 .5-15.6 .5 21.7 .5-16.3 .5 .7 .5 2 .5 .1 .5-6.7 .5 13 .5 7.6 .5-34.4 .5 24.8 .5-8.4 .5 2.4 .5-13 .5-5.9 .5 8.5 .5 10 .5-4 .5-7.4 .5 11.2 .5 14.7 .5-2.9 .5-39.9 .5 41.1 .5-27.2 .5 12 .5 13.5 .5 3.1 .5-8.1 .5-.1 .5-.1 .5-18.8 .5-.9 .5-4.9 .5 3.9 .5 14.3 .5-4.2 .5-1.2 .5-8.7 .5-15.3 .5 30.8 .5-17.1 .5 13.7 .5 7.6 .5-3.2 .5 2.8 .5-21.6 .5 14.2 .5 25.6 .5 1.3 .5-33.3 .5 34.9 .5-33.1 .5 5.3 .5 26 .5-50.9 .5 33.9 .5-2.5 .5-7.4 .5 2.2 .5 19.4 .5-62.8 .5-11.6 .5 5.7 .5-15.1 .5-51.2 .5 17.6 .5-29.1 .5 6.9 .5-38.7 .5 89.8 .5-77.5 .5 77.4 .5-50.3 .5-42.7 .5-14.8 .5 3.7 .5-116.8 .5 168.4 .5-142.8 .5-17.2 .5 50.1 .5-56.2 .5 42.1 .5 99 .5 50.1 .5-107.7 .5-56.6 .5 1.1 .5 18.6 .5-42.4 .5 151.1 .5-137.4 .5 9.6 .5-43.7 .5 41.9 .5 58.4 .5-57.2 .5 121.2 .5 11.4 .5-184.2 .5-13.4 .5-1.9 .5 13.4 .5 187.2 .5-146.3 .5 45.4 .5 9.1 .5-40.7 .5-110.3 .5 186.7 .5-116.7 .5 187.6 .5-198.3 .5-32.7 .5-23.3 .5 94.5 .5 9 .5 145.7 .5-100.5 .5-91.6 .5 98.8 .5-57.7 .5 38.1 .5-106.8 .5-27.5 .5 167.4 .5-130.5 .5 123.6 .5 49.3 .5-175 .5 185.4 .5-90 .5 79.6 .5-8.2 .5-61.2 .5 89.8 .5-175.4 .5 130.4 .5-39.4 .5 14.4 .5-37.3 .5 99.9 .5-147.5 .5 49.6 .5 35.4 .5-54.4 .5-30.5 .5 51 .5-69.3 .5 82.9 .5-131.1 .5 76.6 .5 23.1 .5-19.8 .5 26.7 .5-87.5 .5 2.3 .5-24.2 .5 32.2 .5 7.7 .5-10 .5 7.6 .5-63.7 .5 108.2 .5-28.8 .5-33.5 .5 108.7 .5-72.4 .5 74.2 .5-112.4 .5 215.6 .5-127.1 .5-44.3 .5 83.5 .5-112.1 .5 27.9 .5-86 .5 116.9 .5-82.4 .5 28.2 .5-.5 .5 27.3 .5 25.6 .5-155.6 .5 63.6 .5 174.5 .5-9.6 .5-88.7 .5 57.2 .5 56.9 .5-47.6 .5 54.6 .5-47.6 .5 71.5 .5-26.5 .5-136.9 .5 78.5 .5 33.6 .5 73.2 .5-75.1 .5 10.4 .5 50.5 .5 59.5 .5 25.7 .5-8.9 .5 20.3 .5-21.4 .5-29.8 .5-.3 .5-15.9 .5-76.5 .5 14.7 .5-44.1 .5-43 .5 20.1 .5-33 .5-38.6 .5-50.5 .5 7.7 .5 25.8 .5 46.2 .5 16.7 .5-59.1 .5 54.6 .5 57.6 .5-126.2 .5 58.4 .5 1.9 .5-7.1 .5 49.7 .5-44.8 .5 14.7 .5-21.2 .5 35.4 .5-12.5 .5 37.1 .5-89.2 .5 15.2 .5-57.2 .5 20.1 .5 56.6 .5 2.3 .5 6.3 .5-44 .5 19.9 .5-7.7 .5-2.8 .5 22.3 .5-26.7 .5 59.8 .5-8.7 .5 3 .5 59.5 .5-.2 .5 36.4 .5 10.5 .5-.5 .5 2.5 .5-1 .5 7.1 .5-2.6 .5 .3 .5-4.1 .5 9 .5-.5 .5 .6 .5-6.4 .5-.6 .5 5.7 .5-.7 .5 4.4 .5-2.2 .5-3.3 .5-4.5 .5 1.9 .5-2.2 .5 16.1 .5-9.3 .5 5.8 .5-10.5 .5 2.3 .5-7.4 .5 6 .5-5.9 .5 9.9 .5-11.7 .5 8.8 .5 1.7 .5-.5 .5 6.5 .5-13.8 .5 4.1 .5-8 .5 2.8 .5-1.5 .5 3 .5 7.9 .5-.6 .5-11.5 .5 2.9 .5 14.3 .5-8.4 .5 2.3 .5-10.6 .5 7.5 .5 11.7 .5-14.6 .5 1.9 .5-1.5 .5 3.4 .5-4.4 .5-4.4 .5 14 .5-2.1 .5-10.3 .5 11.7 .5 .7 .5-1.6 .5 .4 .5 5.5 .5-16.1 .5-1.5 .5 2.7 .5 5.5 .5 .6 .5-5.6 .5 6.8 .5-11.5 .5 7.7 .5-3.3 .5-3.7 .5-1.1 .5 11.3 .5-4.2 .5 2.8 .5-2 .5 10.5 .5-4.9 .5-8.8 .5 12 .5-9.6 .5-1.3 .5 5.3 .5-2.5 .5-1.8 .5-7.2 .5 10.3 .5-5.3 .5-6.2 .5 4 .5-7.2 .5 10.7 .5-8.5 .5-13.8 .5-13.6 .5-32.2 .5 49.7 .5 10.2 .5-57.9 .5 5.6 .5-2 .5 74.4 .5-49.1 .5-64.3 .5 72.8 .5-48.8 .5-78.6 .5 79.8 .5-121.7 .5 213.4 .5-197.3 .5 239.3 .5-187.5 .5-21.5 .5 28.1 .5-154.9 .5 226.8 .5-130.9 .5-11.4 .5-129.7 .5 43.6 .5 85.1 .5-127.8 .5 146.5 .5-122.3 .5 29.4 .5 34.8 .5 38.3 .5-63.2 .5 62.2 .5 107.4 .5-138.8 .5 158.6 .5-236.4 .5 119.9 .5-105.7 .5 61 .5 51.3 .5 .8 .5 79.2 .5 34.7 .5-78.1 .5-83.8 .5 240.4 .5-102.7 .5-196.8 .5 195.7 .5 68.4 .5-28.8 .5 25.8 .5 6 .5 81.5 .5-166.2 .5-147.6 .5 42.4 .5 65.9 .5-32.3 .5 15.1 .5 110.2 .5 .8 .5-123.1 .5-28.9 .5 125.3 .5-97.8 .5 25.3 .5 164.1 .5-240.9 .5 98.9 .5 38 .5-46 .5 27.5 .5-79.4 .5 90.2 .5-35.9 .5-41.2 .5 22.3 .5 33.6 .5-46.1 .5-24.6 .5 116 .5-22.9 .5-66.7 .5 27.7 .5 51.4 .5-148.4 .5 35 .5 29.2 .5-128 .5 114 .5-98 .5 119.8 .5-113.9 .5 213.2 .5-142.8 .5 97.2 .5 11.4 .5 136.1 .5-64.7 .5-107.6 .5-22.1 .5 84.3 .5-68.1 .5 144 .5-64.3 .5 112.3 .5-184.8 .5 31.5 .5 58.4 .5-75 .5-72.9 .5 127.5 .5-180.4 .5 78.5 .5 12 .5 48.7 .5 75.2 .5-111 .5-13.6 .5-.6 .5 90 .5-62.2 .5-39.2 .5 102.9 .5-8.7 .5-46.3 .5 63.6 .5-64.4 .5-3.5 .5 73.1 .5-38.7 .5 46.8 .5 131.6 .5-26.1 .5 43.1 .5-33.9 .5 46.1 .5-23.9 .5-5.1 .5-23.2 .5-26.1 .5-9.9 .5-32.6 .5-44.2 .5-11.2 .5-7.6 .5 13.5 .5 23 .5-49.8 .5-31.2 .5 37.5 .5-115 .5 33.5 .5 1.5 .5-57.1 .5 81.6 .5-24.7 .5 3 .5-79.7 .5 31.9 .5 1.3 .5-59.2 .5 72.6 .5-2.5 .5-21.7 .5-43.2 .5-39.8 .5 51.4 .5 .2 .5-53.5 .5 27.4 .5 26.8 .5-19.9 .5-25 .5-47.7 .5 40.2 .5 73.5 .5 43.4 .5-14.1 .5 85.5 .5-97.8 .5 85.1 .5-22 .5 31.5 .5-46.3 .5 8.9 .5 66.9 .5-74.6 .5 52 .5-130.4 .5 47.4 .5-72.3 .5 10.6 .5 11.5 .5-32.7 .5 69 .5 44.4 .5 19.9 .5 35.8 .5-74.7 .5 69.4 .5 44.4 .5-17.2 .5-47.2 .5 5.2 .5 28.8 .5-39.3 .5 38.1 .5 21 .5-7 .5 35.5 .5 18.7 .5-120.5 .5 36.1 .5 55.8 .5-100.4 .5 15.2 .5-84.6 .5-55.4 .5 82.6 .5 28.8 .5 37.4 .5-141.2 .5 114.4 .5 10.6 .5-105.1 .5 23.3 .5-97.6 .5 96.7 .5-41 .5-16.3 .5-10.1 .5 136.8 .5-115.3 .5 94.1 .5-13.5 .5 23.8 .5 120.1 .5-285.2 .5 64.8 .5 109.3 .5-62.6 .5 110 .5-5.2 .5-82 .5 133 .5-249.2 .5 85.7 .5 67.1 .5-5.6 .5 11.4 .5-37.5 .5 10.3 .5-36.1 .5 51.8 .5-46.7 .5 17.1 .5-47 .5 13.7 .5-45.9 .5 135.5 .5-137.4 .5 123.9 .5 17.6 .5-97.8 .5 48.2 .5 74.8 .5-98.8 .5-7.6 .5 103.6 .5-52.9 .5-43.6 .5 45.5 .5-2.4 .5 142.2 .5-150.2 .5 55.2 .5-76.6 .5 35.3 .5-101.9 .5 108.7 .5-81.4 .5 57.6 .5 57.9 .5-204.9 .5 106.8 .5-40.6 .5-49 .5 53.6 .5 30.1 .5-9.1 .5 47.3 .5 62.3 .5 10.8 .5 23.3 .5 22.8 .5 23.8 .5 23.7 .5-1.6 .5-4 .5-20.6 .5 29.8 .5 9.5 .5 15.6 .5-10.7 .5 9.9 .5-48.1 .5 57.3 .5 25.9 .5-34.1 .5 13.3 .5 17.7 .5-58.2 .5 53.3 .5-25.1 .5-15.2 .5-40.9 .5-1.6 .5 .3 .5 20.8 .5-37.3 .5 40 .5-14.4 .5-10.9 .5-26.7 .5 7.7 .5 76.4 .5 7 .5-39.1 .5-27.4 .5-84.2 .5 79.5 .5-124.4 .5 12.3 .5 86.7 .5-78.9 .5 20.8 .5-165.4 .5 146.2 .5 32.3 .5 14.4 .5 46.5 .5-22 .5-.4 .5 20.6 .5-36.4 .5 6.7 .5-20.7 .5 6.3 .5-57.2 .5 83.2 .5-145.9 .5 146.6 .5 77 .5-47.1 .5-59.4 .5-41.6 .5 49.5 .5-26.1 .5 47.8 .5 3.9 .5-100.5 .5 109 .5 21.9 .5-48.9 .5-40 .5-55.3 .5 152.4 .5 54.3 .5-31.8 .5-50.5 .5 61.4 .5-41.6 .5 1.6 .5-31.1 .5 122.1 .5-212.8 .5 67.2 .5 84.6 .5-25.8 .5 58.2 .5-73.6 .5-54.3 .5 49.8 .5 92.1 .5 29.6 .5 22.2 .5-24.5 .5-44 .5-38.4 .5-5.4 .5 55.5 .5-52.9 .5-84.9 .5 79.1 .5-199.4 .5 118 .5-74.6 .5 32.3 .5 52.7 .5-29 .5-34.4 .5 39.4 .5-11.2 .5-31.4 .5-26.5 .5 48.8 .5-68.7 .5 71.9 .5-59.6 .5-4.9 .5 51.7 .5 30.1 .5 84.8 .5 25.2 .5 57.3 .5 38 .5 48 .5-27.7 .5 23.2 .5-7.6 .5 3.2 .5 9.9 .5-25.9 .5 22"/>
<path fill="#008000" d="M165 2145.5l2-2.1 2 1.6 2 7.2 2 7.5 2 .6 2-6.3 2-1.4 2 5.2 2 2.1 2-1 2-1.3 2-2.5 2-13.8 2-25.5 2-36.4 2-36.5 2 50.7 2-49.7 2-147.1 2 4.2 2-6.6 2-10 2 7.1 2-.8 2-7.3 2-11 2-16.8 2 6.9 2 28.3 2 20.6 2 24.9 2 7.9 2-2.4 2-12.6 2-9.6 2-26.1 2-36.4 2 2.2 2 40.2 2 27 2-27.9 2-61.2 2-43 2 7.9 2 28 2-4.8 2-15.8 2-12.5 2-11.9 2-16.3 2 3.3 2 18.7 2-16.2 2-13.2 2 10.2 2 30.5 2 37.8 2 36.4 2 65.8 2 77.9 2 6 2 5.5 2 15.1 2 4.4 2 10.1 2-.6 2-36.7 2-23.1 2 18.2 2 29.3 2 14.1 2 17 2 8.4 2-46.5 2-72.3 2-28.6 2 6.2 2 .6 2 24 2 44 2 26.7 2 10.5 2 .4 2-19.3 2-36.5 2-7.1 2 48.2 2 29.1 2-11.5 2-8.1 2 1.9 2-8.4 2-9.9 2-17.9 2-42.9 2-33.7 2 8 2 32.9 2 15.4 2-8.4 2-3.2 2-63.9 2-67.6 2-27.4 2 40.6 2 27.2 2-20.8 2-16.2 2-6.2 2-31.3 2-27.5 2 25.3 2 35.3 2-5.3 2-4 2 26.2 2 5.9 2-29.6 2-34.6 2 18.4 2 74.4 2 28 2-32.3 2-47.1 2-46.8 2-5.3 2 17.3 2 20.8 2 4.1 2-14.5 2-11.2 2-21.4 2-21.4 2 1.3 2 29.2 2 39.5 2 7.6 2 7.9 2 16.7 2 11.9 2 3.6 2 35.9 2 35.3 2-56.7 2-82.5 2-30 2-12.6 2 4.7 2 17.9 2 35.5 2 44.3 2 22.4 2-16.1 2-25.3 2-23.4 2-31.5 2-2.6 2 14.5 2-.7 2-20.9 2-5.7 2 24.3 2 32.9 2-3.1 2-46.1 2-43.2 2-28.3 2-12 2-2.7 2 9.5 2 23.9 2 12.5 2 16.3 2 52.4 2 36.7 2 32 2 81.4 2 56.9 2 16.5 2-2 2-3.7 2 8.6 2 5.3 2 .1 2-3 2-6.4 2-27.7 2-53.9 2-17.2 2 29.7 2-2 2-29.4 2-5.1 2-2.2 2-24.1 2-3.7 2-2.1 2-5.4 2 1 2 8.3 2 11.6 2 10.9 2 8.8 2-14.1 2 45.7 2 33.8 2 7 2 7.9 2-2.5 2-7.9 2 0 2 6 2-3.7 2 15.2 2 19.5 2 11.1 2-3.7 2-5.4 2-3 2-62.1 2-46.9 2-13.7 2-38.4 2-12.4 2 1.7 2-3.5 2-13.6 2-8.7 2 23 2 15.5 2-70.6 2-37 2 25.3 2 35.2 2 39.5 2 8.1 2-54.6 2-84.3 2-83.4 2-34.4 2 74.6 2 67.2 2-11.7 2 22.9 2 35.5 2-14.6 2-40.9 2 1.5 2 2.6 2-33.2 2 8.6 2 41.3 2 5.3 2-12 2-21.1 2 48 2 106.5 2 46.4 2-3.1 2-7.4 2-12.1 2-10.4 2 9 2-111.4 2-9.1 2 15.1 2-19.3 2 5.6 2-11 2 6 2 90.3 2 104.4 2-31.1 2-44.7 2-7.7 2-8.9 2-10.4 2 12.5 2 14.9 2-11.8 2 89.9 2-12.2 2-114.3 2 13.6 2 28.1 2 24.3 2 15 2-24.8 2-36.4 2-9.7 2 1 2 1 2 10.5 2-7.1 2-50.5 2-19.5 2 50.5 2 22.3 2-11.3 2 3 2 .1 2-16.1 2 2.7 2 10.2 2-.5 2-4.9 2-17.1 2-31.4 2-9.6 2 23.5 2 76.9 2 66.4 2 13.9 2-35.4 2-41.9 2-30.9 2-21.6 2 4.3 2 14.5 2-4.6 2-22.1 2-25.3 2 11.3 2 23.5 2-34.4 2-61.6 2-25.8 2 17.5 2 19.7 2-4.9 2-20.1 2 11.7 2 43.2 2-18.6 2-56.7 2-13.9 2 6.9 2 18.6 2 31.5 2-13.3 2-3.5 2 11.7 2 59.5 2 120.4 2 53.5 2-1.2 2-2.9 2-3.3 2-1.3 2 5.1 2 3.8 2-4.3 2-6.6 2-181.5 2-78.1 2-10 2-10.3 2 15.9 2-14.4 2-38.4 2 28.4 2 57.5 2-12 2-40.5 2 11.7 2 43.4 2 22.8 2-8.2 2-23.6 2-4.5 2 6.1 2-8.8 2 56.5 2 162.7 2 49.5 2-49.5 2-74.2 2-38.6 2-26.5 2 9 2 19.9 2 13.6 2 6.5 2-14.5 2-9 2 22.6 2 8.1 2-11.7 2-3.2 1 5.6 0 14.6 -1-5.7 -2 3.2 -2 11.7 -2-8.1 -2-22.6 -2 9 -2 14.6 -2-6.6 -2-13.6 -2-19.8 -2-9.1 -2 26.5 -2 38.6 -2 70.5 -2 45.8 -2-45.3 -2-150.8 -2-50.6 -2 8.7 -2-6.4 -2 4.4 -2 23.5 -2 8 -2-22.9 -2-43.6 -2-11.8 -2 40.3 -2 11.8 -2-57.6 -2-28.5 -2 38.2 -2 14.2 -2-16 -2 10.1 -2 9.8 -2 71.1 -2 167.5 -2 6.6 -2 4.3 -2-3.8 -2-5.1 -2 1.3 -2 3.3 -2 2.9 -2 1.2 -2-47.6 -2-108.6 -2-53.6 -2-11.8 -2 3.5 -2 13.2 -2-31.6 -2-18.7 -2-7 -2 13.9 -2 56.6 -2 18.6 -2-43.3 -2-11.8 -2 20.1 -2 4.8 -2-19.8 -2-17.6 -2 25.7 -2 61.6 -2 34.3 -2-23.6 -2-12.3 -2 23.2 -2 20 -2 2.5 -2-16.6 -2-6.3 -2 19.5 -2 28.8 -2 40.5 -2 33.9 -2-12 -2-61.1 -2-71.6 -2-24.1 -2 8.9 -2 30.7 -2 16.5 -2 4.2 -2-.2 -2-10.8 -2-3.4 -2 15.4 -2-.8 -2-3.7 -2 10.6 -2-18.6 -2-42.6 -2 23.5 -2 50.4 -2 7.2 -2-10.5 -2-1 -2-1.1 -2 9.8 -2 36.4 -2 24.7 -2-15 -2-24.3 -2-28 -2-13.6 -2 98 -2 6.2 -2-85.9 -2 11.8 -2-14.9 -2-12.5 -2 10.4 -2 8.9 -2 7.7 -2 42.1 -2 28.5 -2-99.4 -2-85.3 -2-2.9 -2 12 -2-4.5 -2 20.4 -2-14.1 -2 5.5 -2 103 -2-9 -2 10.4 -2 12.1 -2 7.4 -2 3.1 -2-40.9 -2-95.6 -2-42.6 -2 21.1 -2 12 -2-5.3 -2-41.3 -2-8.5 -2 33.1 -2-2.5 -2-1.5 -2 40.9 -2 14.6 -2-35.5 -2-22.9 -2 11.7 -2-67.3 -2-74.5 -2 34.3 -2 83.5 -2 84.2 -2 54.6 -2-8 -2-39.6 -2-35.1 -2-26.8 -2 34.1 -2 67.7 -2-15.6 -2-22.9 -2 8.7 -2 13.6 -2 3.4 -2-1.7 -2 12.4 -2 38.5 -2 13.6 -2 38.4 -2 53.6 -2 2.3 -2 4.7 -2 3.1 -2-11.7 -2-19.6 -2-15.5 -2 3.7 -2-6 -2 0 -2 7.9 -2 2.5 -2-7.9 -2-7 -2-32 -2-42 -2 14.2 -2-8.9 -2-10.9 -2-11.6 -2-8.3 -2-1 -2 5.4 -2 2.1 -2 3.7 -2 24.6 -2 2.7 -2 5.7 -2 29.9 -2 1.9 -2-30.3 -2 16.2 -2 52.4 -2 27 -2 6.6 -2 3.2 -2 .1 -2-5 -2-8.5 -2 3.9 -2 2.3 -2-16.3 -2-54.3 -2-76.4 -2-30 -2-37.6 -2-53.4 -2-17.3 -2-13.4 -2-24.9 -2-10.4 -2 1.7 -2 11.9 -2 29 -2 43.9 -2 46.9 -2 3.8 -2-32.6 -2-24.2 -2 5.9 -2 21 -2 .8 -2-14.3 -2 2.7 -2 31.6 -2 23.5 -2 25.5 -2 15.8 -2-22.8 -2-44.8 -2-36 -2-18.3 -2-4.1 -2 14.6 -2 31.9 -2 84.5 -2 57.3 -2-35.8 -2-36.5 -2-2.5 -2-9.1 -2-13.9 -2-7 -2-8.7 -2-40.6 -2-29.2 -2-1.3 -2 21.3 -2 21.4 -2 11.3 -2 14.4 -2-4 -2-20.9 -2-17.2 -2 5.2 -2 46.9 -2 47 -2 32.3 -2-28 -2-74.4 -2-18.3 -2 34.5 -2 29.3 -2-6.7 -2-26.9 -2 3.2 -2 4.6 -2-36.1 -2-26 -2 26.8 -2 30.6 -2 5.4 -2 15.4 -2 20.1 -2-27.9 -2-41.4 -2 28 -2 69.6 -2 65.9 -2 3.2 -2 8.4 -2-15.3 -2-33 -2-8 -2 33.7 -2 43 -2 17.8 -2 9.9 -2 8.4 -2-1.9 -2 8.1 -2 11.5 -2-29.1 -2-48.2 -2 5 -2 34.2 -2 17.1 -2-2.7 -2-12.7 -2-26.3 -2-41 -2-22.5 -2-.6 -2-6.2 -2 28.8 -2 72.7 -2 46.7 -2-8.7 -2-17.1 -2-14.2 -2-29.6 -2-18.3 -2 22.9 -2 36.5 -2 .4 -2-10.3 -2-4.6 -2-15.2 -2-5.7 -2-6.1 -2-81.4 -2-69.1 -2-32.8 -2-34.2 -2-28.7 -2-10.2 -2 13.1 -2 16.2 -2-18.8 -2-3.4 -2 16.3 -2 11.8 -2 12.4 -2 15.9 -2 4.6 -2-28 -2-7.9 -2 44.1 -2 63.6 -2 28.3 -2-28.6 -2-41.8 -2-3.8 -2 34.8 -2 24.5 -2 7.2 -2 9.6 -2 2.5 -2-4.7 -2-21.7 -2-20.6 -2-28.2 -2-7 -2 16.9 -2 10.9 -2 7.3 -2 .8 -2-7.1 -2 10 -2 6.6 -2-4.1 -2 144.1 -2 49.5 -2-48.3 -2 34.7 -2 34.6 -2 24 -2 13 -2 2.5 -2 1.3 -2 1.1 -2-2.2 -2-5.2 -2 1.4 -2 6.3 -2-.6 -2-7.5 -2-7.2 -2-1.5 -2 2z"/>
<path stroke="#008000" d="M165 2173.1l.5-3.7 .5-25.5 .5-1.1 .5-9.3 .5 23.4 .5-30 .5 25.8 .5-10.6 .5 27.7 .5-24.7 .5-3.9 .5 21.1 .5-20.5 .5 25.7 .5-12.2 .5-2.6 .5 4.7 .5 1.5 .5-14.2 .5 24.9 .5-10.4 .5-9.2 .5 24.9 .5-16.3 .5 18.4 .5-48.4 .5 44 .5-16.1 .5 22.7 .5-20.7 .5-6.5 .5-.7 .5 15.5 .5-26.7 .5 17 .5-8.9 .5 46.3 .5-25.6 .5-11.4 .5-27.8 .5 29.2 .5-7.5 .5 7.1 .5 .6 .5-11.2 .5-8.7 .5 13.2 .5 1.8 .5 .6 .5 .2 .5 .1 .5-25.7 .5 21.4 .5-27.7 .5 3.9 .5-18.2 .5 5.8 .5 19.6 .5-31.8 .5-16.7 .5-10.5 .5-27.1 .5-26.7 .5-32.8 .5 72 .5 22.4 .5 16.1 .5-45.5 .5 36.5 .5 35.6 .5-53 .5-11.3 .5-30.6 .5-92.2 .5 19.8 .5-62.3 .5-11.3 .5 25.1 .5-26.7 .5-27.9 .5 73 .5-9.6 .5-2.6 .5-13.9 .5-49.6 .5 37.3 .5 45.9 .5-36.8 .5-9.4 .5 8.1 .5-11.1 .5 9.5 .5 .4 .5-19.7 .5 12.5 .5 2.5 .5 .5 .5 68.1 .5-83.6 .5-27.5 .5 30 .5-49.2 .5 100.1 .5-73.7 .5 8.3 .5 5.9 .5 16.7 .5-46 .5 25.2 .5-15.6 .5 8.2 .5 23.4 .5-29.8 .5 69.2 .5-38.5 .5 36.4 .5-35.9 .5 21.3 .5-17.5 .5 49.1 .5-14.5 .5-9.6 .5-3.1 .5 77.1 .5-35.6 .5 5.5 .5 8.7 .5-10.9 .5 11.9 .5-13.7 .5 .5 .5 16.8 .5-47 .5 18.9 .5-17.4 .5 43.5 .5-41.7 .5 10.3 .5-4.6 .5-29.1 .5 9.2 .5-15.2 .5 38.9 .5-55.8 .5 46.4 .5-34 .5 7.6 .5 11.3 .5-17.6 .5-16.9 .5-37 .5 24 .5 19 .5 36.6 .5-18.2 .5 .8 .5 98.6 .5-50.3 .5 9.4 .5-51.5 .5 7.2 .5-.6 .5-35 .5 29.4 .5-3.6 .5-57.3 .5-6.3 .5 42.3 .5-113 .5 37.5 .5 51.6 .5-27.3 .5-8.6 .5 38.6 .5-8.5 .5-15.8 .5-41.7 .5-15.8 .5 23.3 .5 79.4 .5-67.3 .5 5.3 .5 53.9 .5-54.4 .5 20.1 .5-67.3 .5 24.5 .5-5.3 .5-7.2 .5-35.7 .5 24.7 .5 58.5 .5-28.8 .5 21 .5-58.1 .5 90.5 .5-93.6 .5 5.1 .5 24.8 .5-36.3 .5 21.7 .5 49.1 .5-34.3 .5-29.4 .5 67 .5-60.4 .5 10.3 .5 29.3 .5 1.8 .5-94.4 .5 84.9 .5-38.8 .5-34.8 .5-4.8 .5-.1 .5-18 .5 92.8 .5 20.1 .5-52 .5 7.7 .5 5 .5 46.2 .5-16 .5 55.1 .5-31.7 .5 35.9 .5-74.6 .5 25 .5 35.5 .5 .4 .5-2.2 .5 6.5 .5 6.4 .5 44.6 .5 8.4 .5 44.9 .5-14.4 .5 36.1 .5 35.8 .5 30.4 .5-39.3 .5 18.2 .5 59.6 .5-132.4 .5 86.1 .5 .5 .5-18.3 .5-47.2 .5 60.8 .5-17.1 .5 10.7 .5-8.4 .5-8.1 .5 36.8 .5-42.9 .5 72.2 .5-21.3 .5-18.1 .5 22.1 .5 30.7 .5-36.4 .5 42.1 .5 47.8 .5-73.8 .5 4.3 .5-44.7 .5 10.1 .5-37.8 .5 70.8 .5-88.1 .5 40.8 .5-46.1 .5 26.6 .5-33.2 .5 .9 .5 92.1 .5-2.3 .5-21.7 .5-13.4 .5 12.9 .5-31.5 .5 50.8 .5 48.4 .5-78.5 .5 120.2 .5-73.6 .5 53.1 .5-32.2 .5-57.3 .5-4.3 .5 104.4 .5-9.7 .5-83.7 .5 109.7 .5-104.1 .5 74.4 .5-123.8 .5 33.5 .5-51.7 .5-48.4 .5 37.7 .5-72.5 .5-6.8 .5 33.3 .5-48.9 .5 5 .5 39.4 .5 22.7 .5 25.3 .5 16.5 .5-52 .5 66.8 .5-47.3 .5-16.4 .5 52.9 .5 18.3 .5-32.1 .5-2.8 .5 35.1 .5-1.7 .5-20.4 .5 43.1 .5 .8 .5 7.2 .5 10.6 .5 27.1 .5-57.3 .5 32.7 .5 22.1 .5-95.4 .5 115 .5-37.1 .5 75.5 .5-56.9 .5-71.1 .5 32.2 .5-24.5 .5 22.1 .5-95.4 .5 69.5 .5-32.1 .5-3.4 .5 36.4 .5-11.2 .5 103.4 .5-73.2 .5 35.6 .5-56.5 .5 9.5 .5 121.9 .5-101.4 .5-30.9 .5-1.7 .5 14.8 .5-16.7 .5 12.1 .5 100.2 .5-77.5 .5 37.4 .5 78.8 .5-139.7 .5 3.2 .5-54.9 .5 142.7 .5-39.6 .5-111.4 .5 154.4 .5-17.5 .5-165.5 .5 45.8 .5 100.5 .5-98.2 .5 36.4 .5 41.5 .5-20.1 .5-50.8 .5 54.3 .5 25.2 .5-95.8 .5 123.6 .5-93.6 .5-20.9 .5-91.8 .5 7.3 .5 3.9 .5 91.7 .5-95.6 .5 124.1 .5-8.6 .5-72.7 .5 36.2 .5 91.9 .5-114.2 .5-65.9 .5 81.3 .5 45.4 .5 40.2 .5-24.2 .5 82.4 .5-57 .5-38.5 .5 43.1 .5 2.3 .5-51.5 .5 12.7 .5-26.3 .5-37.1 .5-27.3 .5-66.3 .5 25.9 .5-51.9 .5 51.2 .5-44.8 .5-67.3 .5 42.2 .5-3 .5-38.2 .5 40.5 .5 43.7 .5 69.9 .5-51.8 .5 32.2 .5 42.1 .5-345.2 .5 293.6 .5 16.4 .5-45.1 .5-14.7 .5 9.3 .5 2.3 .5 35.7 .5-15.7 .5 12.1 .5-123 .5 57.1 .5 9.3 .5-60.2 .5-56.9 .5 122 .5 74.6 .5-168.1 .5 50.9 .5 82.3 .5-105.2 .5-3.3 .5-43.7 .5 62 .5 64.1 .5 19.7 .5-57.9 .5 76.1 .5-116.7 .5 40.5 .5-158.5 .5 199.9 .5 39.2 .5-74.8 .5-112 .5 191.9 .5 51.8 .5-84.9 .5-38.3 .5-7.6 .5 41.6 .5-87.3 .5-123.5 .5 188.5 .5-77.2 .5 98 .5 16.9 .5 73.3 .5-120.1 .5 90.9 .5-146.6 .5 1.3 .5 43.1 .5-74.4 .5-71.7 .5 76.5 .5 9.8 .5 38.7 .5 94.2 .5-25.4 .5-12.2 .5 147.2 .5-94.1 .5 57.3 .5-25.4 .5 27.3 .5-61 .5-46.9 .5 52.2 .5-4.8 .5 2.9 .5-19.3 .5-15.8 .5-103.1 .5 112.6 .5-11.5 .5-75.4 .5 18.8 .5-9.9 .5 82.2 .5-180 .5 83.8 .5 61.1 .5-132.3 .5 65 .5 150.8 .5-181.6 .5 83.1 .5-44.5 .5 47.7 .5-37.5 .5 56.8 .5-101.4 .5 191.7 .5-83.7 .5-5.1 .5-50.8 .5 37.4 .5-29.1 .5 45.3 .5-59.1 .5-3.9 .5 101.8 .5-24.2 .5 30.8 .5-50.3 .5-168.6 .5 130.5 .5 17.8 .5-35.9 .5 47.2 .5 1.4 .5-42 .5 18.8 .5-25.7 .5 93.6 .5-155.1 .5 5.3 .5 159.4 .5-155.7 .5 140 .5-18 .5 79.5 .5-143.2 .5-2.6 .5 57.2 .5-1.2 .5-41.2 .5-4.6 .5 61.2 .5 50.5 .5-171 .5 183.8 .5-22.6 .5-51.3 .5-27 .5 19.6 .5-67.7 .5 103.1 .5-4.1 .5-1 .5 23.3 .5-70.1 .5 116.7 .5-40.2 .5 24.8 .5 22.2 .5 8.2 .5 29.6 .5-30.4 .5-7.6 .5-77.9 .5-8 .5-74.7 .5 60.6 .5-44.3 .5-6.3 .5 18.4 .5-51.6 .5 67.6 .5-111.8 .5 102.8 .5-18 .5-59.5 .5 24.1 .5 15.9 .5-58.5 .5 35.4 .5 30.8 .5-11.8 .5-26.1 .5-36.7 .5 82.9 .5 9.7 .5 40.4 .5-19.3 .5-67.2 .5 19.1 .5-5.8 .5 90 .5-23 .5 21 .5-21.1 .5-39.8 .5 76.4 .5-77.7 .5-15.3 .5 33.2 .5 48.2 .5 29.2 .5-45.8 .5-12.5 .5 9.1 .5 12 .5 8.9 .5-88.6 .5 1.1 .5 112 .5-157.1 .5-44.3 .5 58.2 .5-1.5 .5-13 .5 100.2 .5-21 .5-72.9 .5 131.6 .5-103.5 .5 27.5 .5-36.5 .5-3.3 .5 54.1 .5 38 .5-38.5 .5-27.6 .5-16.5 .5 56.7 .5-113 .5 43.2 .5-26.5 .5 28 .5 .7 .5-12.3 .5-7.8 .5 66 .5 78.1 .5-58.7 .5-10.7 .5-18.2 .5 57.1 .5-5.8 .5 54.6 .5-88.6 .5 57.2 .5-96.7 .5 33 .5-2.8 .5-55.6 .5-53.4 .5 54.5 .5-4.1 .5 20 .5-12.1 .5 14.1 .5-90.2 .5 72.8 .5-38.6 .5 8.7 .5-88.1 .5 75.3 .5-13 .5 1.3 .5 67 .5-93 .5 10.7 .5 25.1 .5 7.1 .5-46.3 .5 3.1 .5 48.1 .5-38.9 .5 73.5 .5-39.3 .5-34.2 .5 84.7 .5-4.4 .5 8 .5-15.3 .5 26.1 .5-28.1 .5-46.6 .5 73.4 .5 17.8 .5 6.4 .5 43.2 .5 73.7 .5-35.1 .5-15.5 .5 4 .5-55.7 .5 143.4 .5-59 .5 59.3 .5 8.3 .5 19.1 .5 40.7 .5-20.3 .5 24 .5-25.4 .5 7.5 .5-46.4 .5 57.8 .5-1.2 .5 10.9 .5-29.2 .5-7.1 .5 31.8 .5-14.7 .5 15 .5-36.1 .5-11.2 .5 47.4 .5-1.8 .5 .8 .5 6.5 .5-2.4 .5-6 .5-16 .5 24.5 .5-6.4 .5-6 .5-23.1 .5 20.4 .5 20.7 .5 3 .5-45.6 .5 48.4 .5-33.9 .5 32 .5-26.2 .5-18.7 .5 40.7 .5-50 .5 23.5 .5-20.9 .5-1.7 .5-9.1 .5-19.4 .5 8.7 .5-86 .5 48.1 .5 20.5 .5-69.4 .5 6.9 .5 30.8 .5-7 .5 66.8 .5-3.6 .5-30.9 .5-1.9 .5 56.3 .5-73.5 .5-12.5 .5 68.1 .5-25.3 .5-49.4 .5 26.4 .5-62.3 .5 71 .5 33.8 .5-69.7 .5 28.7 .5-24 .5-25 .5 14.2 .5-16.2 .5-27.4 .5 32.2 .5 6 .5 5.4 .5-4.2 .5-1.8 .5-5.7 .5-12.4 .5-26.4 .5 33 .5-12.7 .5-25.4 .5 32 .5 16 .5 21.3 .5-57.7 .5 53.3 .5-46.5 .5 24.4 .5 28.7 .5-29.2 .5-6 .5-13.5 .5 54.6 .5-45.1 .5 28.5 .5-4.2 .5 15.3 .5 27.2 .5-19.2 .5 41.2 .5-5.5 .5-45.3 .5-28.2 .5 21.4 .5-5.9 .5 35.5 .5-25.9 .5 22 .5-28.6 .5 50.3 .5 29.6 .5-4.3 .5-12.3 .5 8 .5 5.5 .5 .5 .5 1.6 .5 5.8 .5-11.3 .5 9.2 .5 .5 .5 1.4 .5-17.6 .5 22.5 .5 2.3 .5-21.8 .5 32.2 .5-24.3 .5-.7 .5 5.8 .5-6.7 .5 10.5 .5 1.7 .5-38.3 .5 27.8 .5 13.2 .5-2.6 .5 4.2 .5-7.3 .5-6.6 .5-12.6 .5 34.3 .5-13 .5 2.6 .5 5.1 .5-.7 .5 6.8 .5 17.7 .5-4 .5-16.6 .5 21.9 .5 2.3 .5 4.4 .5-3.1 .5 22.1 .5-39.6 .5 26.6 .5-2.3 .5-18.9 .5-17.5 .5 23.6 .5-28 .5 47.8 .5-10.8 .5-54.8 .5 43.7 .5-28.3 .5-29 .5-20.5 .5 75.5 .5-110 .5-8.2 .5 80.7 .5-72.2 .5-88.4 .5 232.3 .5-122.7 .5-78.9 .5 179.1 .5-120.9 .5-18.9 .5-44.1 .5 57.5 .5-22.2 .5-12.1 .5 59.2 .5-78.5 .5-42.4 .5-16.1 .5 109 .5-23.1 .5-47.5 .5 87.5 .5-26.4 .5-76 .5-49.5 .5 45.7 .5-37.8 .5 51.8 .5 21.5 .5 10.3 .5-154.9 .5 98 .5-190.6 .5 261.5 .5-9.2 .5-29.4 .5 33.2 .5 59 .5-75.1 .5-39.8 .5 62 .5-8.1 .5-136.5 .5 13.1 .5-62.8 .5 77.4 .5 32.9 .5-43 .5-50.3 .5 9.6 .5 86.6 .5 71.7 .5-41.4 .5-.9 .5 105.2 .5-108.6 .5 7.5 .5-39.9 .5 178.5 .5-15.2 .5-75.2 .5 23.3 .5-102.5 .5 18.2 .5 51.5 .5 19.6 .5-236.4 .5 256.7 .5-72.6 .5-159.8 .5 81.4 .5-76 .5-37 .5-11.6 .5-16.3 .5 27.4 .5-5.6 .5 51.8 .5-75.5 .5-10.3 .5 53.7 .5 46.8 .5-2.9 .5 109.5 .5-92.2 .5-59.5 .5 145.1 .5 5.3 .5-52.7 .5 1.3 .5-86.3 .5 64.8 .5 30.9 .5-18.7 .5-76.8 .5 118 .5-60.4 .5 94.9 .5-7.4 .5 37.8 .5-113 .5 71.6 .5 4.1 .5-23.3 .5 56.6 .5-166.8 .5 125 .5 10.5 .5-71.4 .5-72.3 .5 70.6 .5 12.9 .5 10.2 .5 66.6 .5-36.8 .5-160 .5 170.6 .5-197.5 .5 56 .5-59.2 .5 133.8 .5-60.5 .5 123.4 .5-119 .5 75 .5 109.4 .5-247.8 .5 239 .5-61.8 .5-16 .5-105.7 .5 95.4 .5 124.5 .5-132.7 .5 33.2 .5 64.1 .5-153.5 .5 46.6 .5-3.5 .5-54.8 .5 82.1 .5 70.3 .5-25.9 .5-8.1 .5 36.4 .5-53.9 .5 109.2 .5-22.9 .5 76.7 .5-44.5 .5 42.1 .5-38 .5 .7 .5-28.1 .5 46.7 .5-2.1 .5 15.6 .5-47.1 .5-21.6 .5 57.1 .5-79 .5 25.7 .5 43.7 .5-28.3 .5-32 .5 23.4 .5 37.4 .5-36.2 .5-270.2 .5 305.9 .5-37.1 .5-13.2 .5 9.2 .5-131 .5 8.6 .5 47.8 .5-56.1 .5 111.2 .5-84.4 .5 19.7 .5-69.5 .5 18.6 .5 124.2 .5-112.3 .5 39.6 .5-30.7 .5 118.6 .5-184.6 .5 100.9 .5-22.7 .5-42.8 .5 34 .5 38.8 .5 74.3 .5-56.4 .5-38.6 .5-26.8 .5-50.8 .5 19.2 .5 82.7 .5-39.6 .5 98.1 .5 9.2 .5 43.6 .5 3.1 .5 6 .5 52.1 .5-35.3 .5 7.5 .5-11.1 .5-20.3 .5 2.4 .5-6.4 .5-32.3 .5 43.5 .5-50.3 .5 .5 .5 19.8 .5-21.2 .5 3.7 .5 3.9 .5-48.1 .5 83 .5-72.8 .5-20 .5 47.2 .5-.2 .5-4.4 .5-23.1 .5 2.6 .5 28.4 .5 2.4 .5 31.2 .5-22.1 .5 15.7 .5-15.5 .5-44.4 .5 17.3 .5 53.1 .5-9.4 .5 40.4 .5-1.8 .5 23.6 .5 19 .5 44.1 .5-11.7 .5-84.8 .5 8.9 .5-71.1 .5 16.2 .5-129.1 .5 8.3 .5 127.9 .5-17.7 .5-14.9 .5 106 .5-134.4 .5 44.2 .5 98.4 .5-74.7 .5-29.4 .5 104.2 .5-67.3 .5-8.4 .5-51.8 .5-15.6 .5-8.3 .5 39.7 .5 38.2 .5 34.3 .5-124.9 .5 96.9 .5 64.9 .5-5 .5-134.5 .5 185.9 .5-106.7 .5 18.2 .5 42.5 .5-176.7 .5 38.6 .5 29.5 .5 21.1 .5-94.1 .5 129.8 .5-95.8 .5 60.1 .5 25.3 .5-83.4 .5 137.3 .5-144 .5-81.1 .5 209.1 .5-81.6 .5-105.8 .5 74 .5 32.7 .5-46.4 .5 38 .5-118.3 .5 48.2 .5-28.5 .5 11.1 .5 46.4 .5 45.2 .5-47.2 .5 7.1 .5 52.1 .5-6.2 .5-75.4 .5 60.4 .5-14.4 .5-19 .5 7.9 .5-4.9 .5 83.2 .5-80.7 .5 6.5 .5-49.2 .5 57.8 .5 35.3 .5-48.8 .5 37.2 .5-12 .5-15.8 .5 89.5 .5-124.4 .5 37.7 .5-59.1 .5 84.3 .5-57 .5 6.8 .5 53.7 .5-52.3 .5 61.8 .5-107.6 .5 105.3 .5-63.5 .5-53.6 .5 127 .5 28 .5-55.5 .5 52.8 .5-35.9 .5-74.7 .5 100 .5-81.9 .5 46.9 .5-39.5 .5-60.5 .5 10.6 .5-40.6 .5 70.3 .5-87.1 .5 157.6 .5-83.1 .5-74.7 .5 91.5 .5-57.7 .5 137.4 .5-24.5 .5-41.8 .5 108.5 .5 1.1 .5-1 .5-31.7 .5 23.6 .5 91.2 .5-71 .5 31.8 .5-9.4 .5-39.1 .5-14.6 .5-14.9 .5 53.5 .5-58.1 .5 36.8 .5-18 .5-25.7 .5-19 .5-13.1 .5 14.3 .5-32.5 .5-32.3 .5 26.5 .5 69.1 .5-15.5 .5-71.9 .5-43.5 .5 18.1 .5 15.1 .5 49.7 .5-7.9 .5 52.5 .5 36.3 .5-84.2 .5 56.4 .5-31.5 .5-64.1 .5 10.9 .5-28.7 .5-60.8 .5 146.8 .5 3.1 .5-30.1 .5-56.3 .5 20.5 .5 10.7 .5-13 .5-29.3 .5 28.1 .5 12.2 .5 65.5 .5 15.8 .5-136 .5 221.2 .5-125.2 .5-87.8 .5-66.4 .5 106.3 .5 23.9 .5-133.2 .5 13.8 .5 119 .5-54 .5-20.2 .5-6.9 .5 91.6 .5-231.6 .5 133 .5-47 .5-32.1 .5-22.7 .5 63.8 .5-7.9 .5 13 .5 75.2 .5-70.6 .5-28.3 .5 23.4 .5-16.4 .5 15.1 .5 89.9 .5-107.3 .5 36 .5-14.9 .5-18.4 .5 73 .5 17.1 .5-16.1 .5 59.1 .5-38.6 .5 54 .5-105.5 .5 70.8 .5-29.4 .5-63.4 .5-36 .5-24.7 .5-26.4 .5 26.3 .5 1.7 .5 9.2 .5 152.8 .5-138.2 .5-49.6 .5 152.2 .5-23.4 .5-100.3 .5 95.4 .5-19.7 .5 47.3 .5-77.3 .5 46.9 .5-17.9 .5-24.3 .5 34 .5 87.3 .5-115.6 .5-28.6 .5-2.7 .5 81.6 .5-47 .5-67.1 .5 5.2 .5 56.5 .5 74.8 .5 43.1 .5-23 .5-46.4 .5 57.8 .5 57.1 .5-36.5 .5-24.8 .5 140.7 .5 7.8 .5 9.7 .5 9.7 .5-6.1 .5-17.3 .5-7.5 .5 11.4 .5-9.5 .5 5.8 .5 14.3 .5-26.4 .5 13.8 .5 25 .5-24.7 .5-18 .5 19 .5-6.8 .5 15.3 .5-19.1 .5 24.5 .5-3.6 .5 10.2 .5-15.8 .5 15.1 .5-42.3 .5 10.5 .5 19.1 .5-4 .5-6.3 .5 10.1 .5-1.3 .5 1.4 .5-29.3 .5 28.4 .5-4.9 .5-12.3 .5-55.9 .5-13 .5-67.7 .5-48.8 .5 12.7 .5 9.2 .5-95.9 .5-26.3 .5 35.9 .5-30.8 .5-64.1 .5-24.4 .5 119.8 .5-84.8 .5 35.7 .5 9.8 .5-42 .5 122.2 .5-33.9 .5-87.5 .5-32.3 .5 219.6 .5-228.9 .5 156.8 .5-37 .5 .3 .5-111 .5 42 .5-7.1 .5 128.3 .5-78.1 .5-86.5 .5 132 .5 46.7 .5 21 .5-74.1 .5 30.2 .5-50.5 .5 29.7 .5 28.9 .5-3.2 .5-153.7 .5 102.3 .5 14.7 .5-10.8 .5-126.8 .5 90.5 .5 97.5 .5 48.4 .5-91.5 .5 15.4 .5-74.6 .5 61.4 .5 23.8 .5 138.1 .5-269.4 .5 222.8 .5-6.2 .5 3.1 .5-146.7 .5 66.7 .5-26.6 .5 33.5 .5-59.9 .5-22.6 .5-2.4 .5-28.6 .5 155.2 .5-142.1 .5 12.3 .5 117.8 .5-81 .5 5.2 .5 73.1 .5-66.2 .5 31.5 .5-47.3 .5-123.8 .5 109.7 .5 95.9 .5 2.2 .5 102.6 .5-16.8 .5 48.7 .5 33.5 .5 38.5 .5 21.5 .5-49.6 .5-31.9 .5 3.4 .5-34.9 .5 23.9 .5-14.7 .5-28.5 .5-29.4 .5-15.8 .5-63 .5 55.3 .5-25.3 .5 64.6 .5-66.6 .5 1.8 .5-39.9 .5 20.9 .5 36.9 .5-65.2 .5 43.7 .5-.9 .5 31.7 .5-31.4 .5 16.5 .5-3.6 .5 66.3 .5-12.3 .5-34.8 .5 26.8 .5-48.7 .5 30.7 .5 2.8 .5 5.7 .5 41.1 .5-60.4 .5-9.4 .5 27.7 .5-11.4 .5 32.6 .5 26 .5-46.8 .5-28.1 .5 .7 .5 64 .5-71.1 .5 26.1 .5 25.5 .5 .8 .5-30 .5 68.2 .5-14.7 .5 1.7 .5-61 .5-18.8 .5 44.3 .5-23.9 .5-.6 .5 .5 .5 49.6"/>
</g>
<rect x="126.1" y="1581.2" width="857.1" height="638.1" fill="none" stroke="#000" stroke-width="1.9" stroke-linejoin="miter"/>
<path stroke="#000" stroke-width="1.9" d="M165.1 2219.3v8.4M269.1 2219.3v8.4M373 2219.3v8.4M477 2219.3v8.4M580.9 2219.3v8.4M684.9 2219.3v8.4M788.8 2219.3v8.4M892.8 2219.3v8.4M126.1 2206.9h-8.4M126.1 2114.2h-8.4M126.1 2021.6h-8.4M126.1 1929h-8.4M126.1 1836.3h-8.4M126.1 1743.7h-8.4M126.1 1651h-8.4"/>
<g style="font-size:24px"><text x="165.1" y="2254.7" text-anchor="middle">0</text><text x="269.1" y="2254.7" text-anchor="middle">20</text><text x="373" y="2254.7" text-anchor="middle">40</text><text x="477" y="2254.7" text-anchor="middle">60</text><text x="580.9" y="2254.7" text-anchor="middle">80</text><text x="684.9" y="2254.7" text-anchor="middle">100</text><text x="788.8" y="2254.7" text-anchor="middle">120</text><text x="892.8" y="2254.7" text-anchor="middle">140</text><text x="109.3" y="2216.1" text-anchor="end">1</text><text x="109.3" y="2123.4" text-anchor="end">2</text><text x="109.3" y="2030.8" text-anchor="end">3</text><text x="109.3" y="1938.2" text-anchor="end">4</text><text x="109.3" y="1845.5" text-anchor="end">5</text><text x="109.3" y="1752.9" text-anchor="end">6</text><text x="109.3" y="1660.2" text-anchor="end">7</text></g>
<text x="554.6" y="2288" text-anchor="middle" style="font-size:24px">Time (ns)</text>
<text transform="translate(78.8 1900.2) rotate(-90)" text-anchor="middle" style="font-size:24px">Distance (nm)</text>
<rect x="137.8" y="1592.8" width="362.4" height="115.1" rx="4.8" fill="#fff" fill-opacity="0.8" stroke="#cccccc" stroke-width="1.9"/>
<path stroke="#ff0000" stroke-width="1.75" d="M146.8 1612.1h49.3"/>
<text x="214.6" y="1621" style="font-size:24px">1nod_ARG: HEME--H4B</text>
<path stroke="#0000ff" stroke-width="1.75" d="M146.8 1648.1h49.3"/>
<text x="214.6" y="1657" style="font-size:24px">1nod_CRV: HEME--H4B</text>
<path stroke="#008000" stroke-width="1.75" d="M146.8 1684.2h49.3"/>
<text x="214.6" y="1693.1" style="font-size:24px">1nod_TML: HEME--H4B</text>
<clipPath id="cCR"><rect x="1143.1" y="1579.5" width="857.2" height="638.3"/></clipPath>
<g clip-path="url(#cCR)" fill="none" stroke-width="1.75" stroke-linejoin="round">
<path fill="#ff0000" d="M1182 1947.7l2 5.7 2 3.6 2-1.3 2-6 2-3.5 2 2.7 2-.8 2-8.9 2-3.8 2 11.9 2 16.6 2 8.3 2-3.3 2-9.3 2-13.6 2-10.5 2-2 2-1.3 2-6.2 2-4 2 8.2 2 15.9 2 12.6 2 5.2 2-2.9 2-8.1 2-6.4 2-.7 2 3.2 2 .8 2-4.2 2-2.5 2 3.9 2 7.2 2 4.9 2-3.9 2-12.9 2-11 2 1.4 2 11.9 2 16.7 2 15.9 2 6.7 2-4.1 2-9.1 2-8.9 2-6.2 2-1.5 2-2.8 2-8.2 2-3.4 2 3.5 2 2.3 2 1.7 2 1.8 2 3.4 2 7.7 2 6.6 2 .8 2-3.6 2-7 2-7.1 2-7.5 2-8.1 2 1.2 2 13.9 2 17.2 2 7.3 2-7.6 2-15.7 2-14.2 2-3.6 2 6 2 8.8 2 7.3 2 1.1 2-2.3 2 5.5 2 11 2 8.1 2 5.3 2 1.7 2-4 2-11 2-13.2 2-10.7 2-4.2 2 7.9 2 14 2 6.3 2-5 2-4.7 2 4.5 2 6 2 1.3 2 .4 2 .5 2-.4 2-2.3 2-5.3 2-5.2 2-3.3 2-1.8 2 4.5 2 10 2 7.5 2 .8 2-3.3 2 2.3 2 2.4 2-4.7 2-5.2 2-2.9 2-3.4 2-2.7 2 2.4 2 4.3 2 2 2 4.5 2 6.3 2 5.4 2 3.6 2-3.2 2-8.7 2-8.6 2-10.5 2-13.2 2-5.2 2 8.7 2 13.2 2 4.4 2-3.9 2-2.6 2-.7 2-.6 2 1.9 2-.2 2-5.2 2-1.2 2 5.3 2 4.6 2 .5 2-1.7 2 1.6 2 7.7 2 3 2-9.9 2-12.2 2-3.6 2 6.5 2 13.2 2 15.1 2 10.1 2-2.8 2-13.7 2-12.9 2-2.1 2 7.4 2 8.1 2 1.4 2-7.8 2-9.6 2-1.3 2 6.6 2 8.3 2 6.7 2 1.1 2-11.3 2-16.4 2-1.3 2 11.4 2 1.7 2-6.7 2-2.2 2 3.5 2 8.6 2 7.7 2 1.4 2-1.4 2-2.2 2-6.7 2-5 2 3.9 2 2.3 2-9.2 2-15.9 2-13.7 2-5.2 2 3 2 9.3 2 11.9 2 6 2-2.6 2-7.1 2-4.7 2 6 2 16.1 2 13.9 2 3.8 2-4.4 2-4.9 2-4 2-9.8 2-9.9 2 3 2 10.7 2 2.5 2-5.5 2-2.9 2-.3 2-1.6 2 .2 2 3.9 2 .9 2-8.5 2-9.9 2-.2 2 2.6 2-2.9 2-5 2 2.6 2 11.8 2 11.8 2 3.7 2-6.6 2-12.5 2-7.6 2 3.5 2 10.6 2 7.2 2-3.9 2-8.5 2-1.3 2 6.7 2 2.5 2-2.8 2-15.4 2-14.4 2-18.8 2-23.5 2-23.6 2-18.4 2-16.4 2-14.1 2-6.5 2-5.5 2 5.2 2 18.6 2 14.6 2 1.1 2-7.9 2 8.1 2 28.3 2 16.2 2-17.1 2-20.6 2-13.4 2-6.5 2 3.9 2 10.6 2 8.8 2 6.6 2 2.2 2-4.7 2-5.9 2 11.3 2 9.9 2 9 2 15.6 2 19.8 2 14.9 2-5.3 2-5.9 2 3.4 2 15.1 2 6.8 2-8.7 2-3 2 11 2 17.2 2 11.5 2-8.5 2-21 2-12.9 2-1.5 2 1.5 2 .5 2-1.1 2-4.1 2-6.4 2-28.6 2-48.9 2-1.2 2-4.4 2 1.6 2 14.6 2 11.8 2 4.3 2 8.4 2 5.5 2-10.6 2-11.3 2 4.8 2 6.2 2-7.7 2-8 2 6.2 2 11.1 2 7 2 5.4 2 3.9 2-.7 2 .4 2 3.6 2-6.5 2-14 2-6.2 2 3.2 2 6.1 2 1.1 2-7.1 2-7.9 2 1.3 2 10.8 2 15.5 2 15.5 2 5.2 2-11.8 2-17.3 2-9.3 2-.7 2 6.2 2 7 2-4 2-10.5 2-.4 2 .6 2-15.6 2-24.8 2-12.2 2 9.4 2 17.5 2 6.8 2-5.1 2-.6 2 13.8 2 21.1 2 11 2-3.5 2-7.1 2-8.5 2-3.6 2 12.7 2 19.5 2 6.4 2-10.5 2-15.9 2-14.4 2-11.4 2-8.2 2-3.6 2 7.7 2 19 2 1.2 2-27.3 2-.2 2-3.2 2-7.4 2-15.9 2-14.6 2 4.9 2 19.3 2 10.6 2-.7 2 5.5 2 10.8 2 0 2-16.2 2-20.7 2-12.9 2-2.3 2 2.9 2 .4 2 1.9 2 13.9 2 19.4 2 9.8 2 3 2 1.3 2-7.6 0 34.5 -2 7.6 -2-1.3 -2-3 -2-9.8 -2-19.4 -2-13.9 -2-1.9 -2-.4 -2-2.9 -2 2.3 -2 12.9 -2 20.7 -2 16.2 -2 0 -2-10.8 -2-5.5 -2 .7 -2-10.6 -2-19.3 -2-4.9 -2 14.6 -2 15.9 -2 7.4 -2 3.2 -2 .2 -2 30.3 -2 .3 -2-19 -2-7.7 -2 3.6 -2 8.2 -2 11.4 -2 14.4 -2 15.9 -2 10.5 -2-6.4 -2-19.5 -2-12.7 -2 3.6 -2 8.5 -2 7.1 -2 3.5 -2-11 -2-21.1 -2-13.8 -2 .6 -2 5.1 -2-6.8 -2-17.5 -2-9.4 -2 12.2 -2 24.8 -2 15.6 -2-.6 -2 .4 -2 10.5 -2 4 -2-7 -2-6.2 -2 .7 -2 9.3 -2 17.3 -2 11.8 -2-5.2 -2-15.5 -2-15.5 -2-10.8 -2-1.3 -2 7.9 -2 7.1 -2-1.1 -2-6.1 -2-3.2 -2 6.2 -2 14 -2 6.5 -2-3.6 -2-.4 -2 .7 -2-3.9 -2-5.4 -2-7 -2-11.1 -2-6.2 -2 8 -2 7.7 -2-6.2 -2-4.8 -2 11.3 -2 10.6 -2-5.5 -2-8.4 -2-4.3 -2-11.8 -2-14.6 -2-1.6 -2 4.4 -2 1.2 -2 44.1 -2 26.2 -2 6.4 -2 4.1 -2 1.1 -2-.5 -2-1.5 -2 1.5 -2 12.9 -2 21 -2 8.5 -2-11.5 -2-17.2 -2-11 -2 3 -2 8.7 -2-6.8 -2-15.1 -2-3.4 -2 5.9 -2 5.3 -2-16.4 -2-21.3 -2-17.1 -2-10.5 -2-11.4 -2-12.8 -2 7.1 -2 6 -2-1 -2-5.4 -2-7.6 -2-9.4 -2-2.6 -2 7.7 -2 14.6 -2 21.8 -2 18.4 -2-16.8 -2-28.9 -2-8.7 -2 7.3 -2-1.7 -2-15.2 -2-19.2 -2-5.7 -2 5.1 -2 6 -2 13.7 -2 16 -2 18 -2 23.1 -2 23 -2 18.5 -2 13.9 -2 15 -2 2.8 -2-2.5 -2-6.7 -2 1.3 -2 8.5 -2 3.9 -2-7.2 -2-10.6 -2-3.5 -2 7.6 -2 12.5 -2 6.6 -2-3.7 -2-11.8 -2-11.8 -2-2.5 -2 5.1 -2 2.9 -2-2.5 -2 .3 -2 9.9 -2 8.7 -2-.9 -2-3.8 -2-.1 -2 1.7 -2 .3 -2 3.1 -2 5.5 -2-2.4 -2-10.7 -2-2.9 -2 10 -2 9.9 -2 4 -2 5.1 -2 4.4 -2-3.7 -2-13.9 -2-16.1 -2-6.1 -2 4.7 -2 7.1 -2 2.6 -2-6 -2-11.9 -2-9.3 -2-3.1 -2 5.2 -2 13.7 -2 15.8 -2 9.3 -2-2.4 -2-3.9 -2 5 -2 6.6 -2 2.3 -2 1.3 -2-1.4 -2-7.8 -2-8.5 -2-3.6 -2 2.2 -2 6.7 -2-1.7 -2-11.4 -2 1.2 -2 16.4 -2 11.2 -2-1 -2-6.8 -2-8.3 -2-6.6 -2 1.3 -2 9.5 -2 7.8 -2-1.3 -2-8.1 -2-7.5 -2 2 -2 13 -2 13.6 -2 2.8 -2-10.1 -2-15.1 -2-13.3 -2-6.5 -2 3.6 -2 12.2 -2 9.8 -2-2.9 -2-7.7 -2-1.7 -2 1.7 -2-.6 -2-4.6 -2-5.3 -2 1.3 -2 5.1 -2 .2 -2-1.9 -2 .5 -2 .7 -2 2.6 -2 3.9 -2-4.4 -2-13.3 -2-8.7 -2 5.2 -2 13.2 -2 10.4 -2 8.6 -2 8.7 -2 3.2 -2-3.6 -2-5.5 -2-6.3 -2-4.5 -2-2 -2-4.3 -2-2.4 -2 2.7 -2 3.3 -2 2.9 -2 5.1 -2 4.8 -2-2.5 -2-2.3 -2 3.3 -2-.8 -2-7.5 -2-10 -2-4.5 -2 1.8 -2 3.3 -2 5.2 -2 5.3 -2 2.3 -2 .4 -2-.5 -2-.4 -2-1.3 -2-6 -2-4.5 -2 4.7 -2 5 -2-6.3 -2-14 -2-7.9 -2 4.2 -2 10.7 -2 13.2 -2 11 -2 4 -2-1.7 -2-5.3 -2-8.1 -2-11 -2-5.5 -2 2.3 -2-1.1 -2-7.3 -2-8.8 -2-6 -2 3.6 -2 14.2 -2 15.7 -2 7.6 -2-7.3 -2-17.2 -2-13.9 -2-1.2 -2 8.1 -2 7.5 -2 7.1 -2 7 -2 3.6 -2-.8 -2-6.6 -2-7.7 -2-3.4 -2-1.8 -2-1.7 -2-2.3 -2-3.5 -2 3.4 -2 8.2 -2 2.8 -2 1.5 -2 6.2 -2 8.9 -2 9.1 -2 4.1 -2-6.7 -2-15.9 -2-16.7 -2-11.9 -2-1.4 -2 11 -2 12.9 -2 3.9 -2-4.9 -2-7.2 -2-3.9 -2 2.5 -2 4.2 -2-.8 -2-3.2 -2 .7 -2 6.4 -2 8.1 -2 2.9 -2-5.2 -2-12.6 -2-15.9 -2-8.2 -2 4 -2 6.2 -2 1.3 -2 2 -2 10.5 -2 13.6 -2 9.3 -2 3.3 -2-8.3 -2-16.6 -2-11 -2 4.7 -2 9.8 -2 1.7 -2-1.8 -2 4.4 -2 6.9 -2 2.2 -2-2.7 -2-4.8z"/>
<path stroke="#ff0000" d="M1182 1984.4l.5-47.5 .5 31.9 .5-25.4 .5-2.7 .5 11.5 .5 9.4 .5-20.5 .5 10.7 .5 25.5 .5 3.7 .5-2.3 .5-31.2 .5 37.4 .5 21.2 .5-90.3 .5 90.9 .5-49.9 .5 32.3 .5-56.6 .5 105.2 .5-70.9 .5 22.9 .5 .5 .5-31.3 .5 71.1 .5-34.2 .5-22.3 .5 55.3 .5-58.6 .5-49.5 .5 75.7 .5-37.2 .5-1.7 .5 10.5 .5 6.9 .5-13 .5-12.4 .5 .3 .5-24.4 .5 37.9 .5 15.3 .5-29.1 .5 47 .5-12.3 .5 27.3 .5-20.5 .5 5 .5-21.4 .5 74.2 .5-60.7 .5-22.9 .5-24.7 .5 58.2 .5 7.1 .5-68.3 .5 .9 .5 15.2 .5-4.1 .5-6.2 .5 19.6 .5-15.1 .5 42.7 .5-47.8 .5-26.3 .5 33.4 .5-38.7 .5 65.8 .5-32.1 .5 11.1 .5-41.9 .5 11.9 .5 59.6 .5 15.7 .5-35.5 .5-60.2 .5 61.1 .5-50.5 .5 53.2 .5-78.1 .5 71.2 .5-69.2 .5 43.8 .5-11.1 .5 43.4 .5-36.6 .5 5.6 .5-28.1 .5 57.4 .5-19.6 .5 15.9 .5 43.8 .5-21 .5 32.5 .5-89.3 .5 61.5 .5 7.9 .5-47 .5 8.8 .5 10.6 .5 24.1 .5 25.5 .5-69.9 .5 54 .5-27.7 .5 36 .5-61.1 .5 26.7 .5 15.6 .5-16.4 .5-19.2 .5-23.9 .5 68.6 .5-19.3 .5-49.2 .5 33.7 .5-53.8 .5 82.1 .5 8 .5-97.8 .5 66.1 .5-4.7 .5 4.5 .5 48 .5-77.5 .5-.5 .5-5.4 .5 36.8 .5-46.1 .5-33 .5 66.4 .5 58.7 .5-86.5 .5 15.5 .5 7.5 .5-13.9 .5-26.1 .5 86.3 .5-21.1 .5 .5 .5-38.5 .5 15.1 .5 45.1 .5 4.4 .5-30.4 .5-69.8 .5 52.7 .5 5.9 .5-13.7 .5-17.3 .5-6.1 .5 39.5 .5-25.3 .5 .7 .5-4.5 .5-32.4 .5-15.9 .5 82 .5 19.8 .5 25 .5-74.2 .5 8.7 .5 46.2 .5-30.8 .5-11.4 .5 39.1 .5 .2 .5-38.4 .5 1 .5-4.8 .5-24.3 .5 36.6 .5 47.3 .5-33.8 .5-29.5 .5 22.2 .5 47.1 .5-37.4 .5-23.7 .5 24.9 .5-27.5 .5 14.6 .5 8.6 .5-67.6 .5 50.3 .5-11.5 .5-17.9 .5-7.8 .5 42.8 .5 24.5 .5-34 .5 20.5 .5 53.2 .5-48 .5-15.5 .5-56.6 .5 51.4 .5 6.5 .5 8.3 .5-58.5 .5 19.4 .5 24.1 .5-12.6 .5-8.5 .5 11.1 .5 29.2 .5-57.5 .5 10.5 .5 3 .5 5.5 .5-1.4 .5 36.4 .5-27.8 .5 5.4 .5-21.8 .5-8.3 .5 7.1 .5 12.8 .5 26.9 .5-8.5 .5-3.2 .5-29.3 .5 42.5 .5-48.7 .5 27.9 .5 41.2 .5-8.7 .5-25.1 .5-17.6 .5 52.4 .5-61 .5 43 .5 31.1 .5-11.5 .5-3.7 .5-1.2 .5-4.5 .5 27.6 .5-58.6 .5-22.9 .5 10 .5 5 .5 23.7 .5 19.1 .5-22.6 .5-13.8 .5-1 .5-54.5 .5 24.7 .5 21.7 .5 2.2 .5-8.2 .5-1.5 .5 35.3 .5-38.8 .5-4.1 .5-25.4 .5 54.1 .5-31.4 .5 24.7 .5 19.1 .5-79.9 .5 70 .5-20.9 .5-26.1 .5 63.8 .5 20.1 .5-28.1 .5-10.4 .5-9.1 .5 12.1 .5 8.1 .5 24.6 .5-30.7 .5 10.8 .5 .6 .5-18.6 .5 9.1 .5 27.4 .5-84 .5 49.3 .5 33.1 .5 14.8 .5-54 .5 12.7 .5-56.5 .5 49.3 .5-16.8 .5-15.2 .5 62.7 .5-66.8 .5 39.8 .5-8.6 .5-40.6 .5-5 .5 84.2 .5-29 .5-67 .5 76.8 .5-12.4 .5 58.8 .5-53.6 .5-10.7 .5 23 .5-25.6 .5 6.7 .5-3.1 .5 23.1 .5-20.5 .5-3 .5 7.3 .5-5.7 .5 24 .5 12.3 .5-7.9 .5-12.9 .5-56.2 .5 87 .5-67.4 .5 50.3 .5-26.2 .5 8.2 .5 22.3 .5 34.1 .5-24.9 .5-42.3 .5 6.9 .5 56.3 .5-13.9 .5-22.6 .5 40.6 .5-29.5 .5-2.5 .5-14.1 .5-45.3 .5 83.5 .5-27.1 .5-16.1 .5 .2 .5-4.2 .5-19.4 .5-.9 .5 25.1 .5-20.6 .5 5.9 .5-4.1 .5-13.9 .5-20.7 .5 72.7 .5-77.3 .5 16.3 .5-13.4 .5 50 .5 36.1 .5 7.2 .5-76.7 .5 25.4 .5-6.8 .5 24 .5-19.5 .5-12.4 .5 58.1 .5-67.5 .5 67.5 .5-49.8 .5 24.8 .5-9.7 .5 33.8 .5-19.7 .5-29.7 .5-15.8 .5 77.1 .5-22.4 .5 .1 .5-41.5 .5 38.6 .5-17.9 .5-5.1 .5 34.4 .5 11 .5-67 .5 58.5 .5-31.2 .5 17.9 .5-10.4 .5 36.4 .5-44.8 .5 74.9 .5-31 .5-32.8 .5-34.2 .5 63.4 .5 2.6 .5-96.5 .5 77.7 .5-4.4 .5 38.3 .5-3.3 .5-84.4 .5 41.4 .5-3.2 .5 22.8 .5-86.7 .5 44.8 .5 1 .5-57.4 .5 78.9 .5-16.7 .5 12.7 .5 6.1 .5-32.5 .5-12.6 .5 19.5 .5 11.1 .5-16.9 .5-7.2 .5-20.4 .5 27.2 .5 64.9 .5 4.4 .5-28.3 .5-6 .5-30.1 .5-1.6 .5 6.4 .5-8.9 .5 19.9 .5 17.4 .5-33.1 .5 39.1 .5-8.9 .5 2.3 .5 27.1 .5-18 .5-57.8 .5 45.5 .5-18.9 .5 8.7 .5-9.3 .5-29.8 .5 80 .5-50.3 .5 75.5 .5-15.5 .5-68.2 .5-29.5 .5 63.9 .5-16.7 .5 57.5 .5-46.8 .5-5.2 .5-31.4 .5 32.6 .5-47.1 .5 7.2 .5 45.4 .5-48.9 .5 54.5 .5 16.1 .5-40 .5-14.4 .5 45.9 .5-11.8 .5-26.4 .5 27.4 .5 5.4 .5-45.6 .5-28.7 .5 50.8 .5 52.3 .5 6 .5-76.6 .5 54.6 .5 14.5 .5-60.3 .5-10.4 .5 32.1 .5 28.5 .5-48.2 .5 84.7 .5-74.6 .5-16.9 .5 55.9 .5-21.9 .5 35.6 .5-66.1 .5 20.3 .5 13.3 .5-8.2 .5 5.7 .5-16.4 .5 21.5 .5 23.3 .5-15.7 .5-50.6 .5 33.7 .5-4.5 .5 3 .5 7.9 .5 2 .5-34.6 .5-15.6 .5 40 .5-29.2 .5 8.5 .5-7.4 .5-35.4 .5 30 .5-37.8 .5 26.3 .5 6.7 .5-20.2 .5-11.8 .5-12.4 .5 53.7 .5-31.6 .5 88.1 .5-107.7 .5 50.5 .5 28.7 .5-53.6 .5 22.7 .5-20.1 .5 24.7 .5 1.9 .5 58.3 .5-78 .5 43.7 .5 37.8 .5-70.2 .5-12.3 .5 85.3 .5-69.7 .5 77.5 .5-62.2 .5 2.6 .5 19.4 .5-1 .5-63.7 .5 21.1 .5-9.6 .5 40.2 .5-51.6 .5 78.6 .5-22.7 .5-10 .5-23.6 .5 34.2 .5-42.4 .5 90.4 .5-42.8 .5-71.3 .5 60.7 .5 18.3 .5-32.7 .5 62.1 .5-85 .5 47 .5-45 .5 26.8 .5 20.2 .5-33.6 .5-13.7 .5 51.9 .5 2.9 .5-23.3 .5 32 .5-84.7 .5 .3 .5 81.9 .5-44.4 .5 15.4 .5 14.9 .5-45.9 .5-24 .5 80.2 .5-13 .5-3.5 .5-13.8 .5-5.3 .5-3.5 .5 14.6 .5 55.1 .5-58 .5 9.3 .5-15.2 .5 57.1 .5-10.1 .5-70.8 .5 20 .5-35.8 .5 39.2 .5-31.3 .5 32.1 .5 23.7 .5-59.5 .5-3 .5 29.6 .5 10.1 .5 5.9 .5 5.4 .5 2.4 .5-24.4 .5 18.8 .5 7.8 .5 9.8 .5 9 .5-42.8 .5-.6 .5 35.2 .5-8.8 .5 8.7 .5 11.2 .5-24.8 .5 48.3 .5 1 .5-99.5 .5 50.7 .5 77.4 .5-110.9 .5 81.2 .5-97 .5 27.5 .5 .2 .5 39.5 .5-25.7 .5-36.2 .5 41.8 .5-4.6 .5-67.1 .5 46.2 .5 18.1 .5-41 .5 31.7 .5-11.2 .5-6 .5 60 .5 24.9 .5-38.3 .5-31.8 .5 42.1 .5 15.3 .5-27.1 .5 28.2 .5 11.7 .5-83.3 .5 50.6 .5 11.2 .5 1.2 .5-31.3 .5 12.5 .5 20.6 .5-61.9 .5 35 .5 1.7 .5-7.9 .5-43.3 .5 22.2 .5 6.2 .5 4.6 .5 24.3 .5-47 .5-8.9 .5 12.9 .5 25.4 .5-8.6 .5 46.2 .5-3.6 .5-53.3 .5 57.9 .5-42.6 .5-33.5 .5 34.9 .5 3 .5 7.9 .5-36.4 .5-21.4 .5 6.6 .5 70.9 .5-52.9 .5-3.1 .5 16.4 .5 27.1 .5-5.2 .5 6.1 .5-47.2 .5 18.3 .5 52.9 .5-74.5 .5 19.9 .5-.5 .5 39.2 .5 35.5 .5-21.9 .5-69.4 .5 36.7 .5-1.8 .5-40.7 .5 21.1 .5 8.8 .5 29.2 .5 26.9 .5-74.5 .5 21.9 .5 11.1 .5-17 .5-40.3 .5 3.9 .5 62.3 .5-37.3 .5 62.6 .5 4.7 .5-24.6 .5 .1 .5-12.1 .5 18.1 .5-29 .5-2.5 .5 81.4 .5-61.9 .5-33.4 .5 29.3 .5-50.6 .5 35.2 .5-3.3 .5-11.9 .5 72.1 .5-60 .5-.1 .5 10.1 .5-55.8 .5 5.8 .5 50.9 .5 19.3 .5 27.1 .5-30 .5-29.2 .5 11.7 .5-46.9 .5 33.1 .5-26.9 .5 28.7 .5-3.2 .5-22.2 .5 40.9 .5-12.5 .5 44.4 .5-109.6 .5 11.2 .5 72.4 .5-24.1 .5-74.1 .5 15.4 .5-5.7 .5 12.5 .5 40.9 .5-13.6 .5 38.6 .5-60.1 .5 48.4 .5-44.1 .5 46.1 .5 39.4 .5-65.9 .5 75.7 .5-75.8 .5-10.6 .5 9.7 .5-18.5 .5 48.2 .5-25.7 .5-1 .5 16.4 .5 3.8 .5-7.5 .5-52.1 .5 42.1 .5-2.9 .5-13.8 .5-25.8 .5 78.6 .5-52.6 .5 25.9 .5 11.8 .5-40.2 .5-10.5 .5 38 .5 3.7 .5 10.8 .5 3.4 .5 22 .5-28 .5-15.5 .5 29.7 .5 8.3 .5 3.5 .5-16.6 .5-11 .5 37.6 .5-50.9 .5 9.9 .5 48.1 .5-18.4 .5-34 .5 16.4 .5 11.5 .5-17.9 .5-8.5 .5-6.7 .5 .8 .5 11.8 .5 6.4 .5 16.7 .5-16.4 .5-18.3 .5 73 .5-30.5 .5-43 .5-28.6 .5-7.4 .5 80.1 .5 8.4 .5 11.9 .5-49.2 .5 36 .5-40.7 .5 57.7 .5-16.2 .5-85.8 .5 67.9 .5 24.7 .5-77.5 .5 2.5 .5 40.8 .5-52.6 .5 91.6 .5-11.7 .5-23 .5-68.6 .5 71.3 .5-57.3 .5 4 .5 11.1 .5 34.4 .5-11.7 .5 24.2 .5 23.1 .5-82.2 .5 33.4 .5 35 .5-17.1 .5 10.3 .5-61.1 .5 60.9 .5-29.2 .5 17.1 .5-2.1 .5-10.5 .5 47.8 .5-86.6 .5 17 .5-7 .5-28.4 .5 53.7 .5-13.6 .5 32.6 .5-65.3 .5 50.5 .5-55.2 .5-28.6 .5 62.3 .5 55.2 .5-63.4 .5 3.8 .5 15.9 .5 10.4 .5-53.2 .5 29.8 .5-4.6 .5 23.5 .5-27.7 .5 19.8 .5 8.5 .5-20.2 .5 8.5 .5-13.5 .5-7.5 .5 34.6 .5 7 .5-30.6 .5 10.2 .5-16.4 .5 64.9 .5-53.5 .5 30.2 .5 4.6 .5 49.2 .5-31.5 .5-32.7 .5 41.3 .5-69.6 .5 9.8 .5 30.8 .5-11.9 .5-15.4 .5-32.1 .5 29.6 .5 34.5 .5-68.8 .5 91.2 .5-37.9 .5-52.9 .5 26.3 .5-10.5 .5 11.9 .5 53.4 .5-14.2 .5-49.6 .5 63.6 .5-58.6 .5 40.2 .5-29.6 .5 30.4 .5-58.8 .5 55 .5-19 .5-3.4 .5 45 .5-30 .5-14.8 .5 1.8 .5-.8 .5-48.4 .5 44.2 .5-52.1 .5 118.6 .5-59.3 .5 13.9 .5 14.4 .5-69.4 .5 50.8 .5-22.3 .5 65.5 .5-52.3 .5 31.1 .5-23.1 .5 19.8 .5-15.6 .5-10.6 .5-22.5 .5 26.3 .5-29.4 .5 33.7 .5-25.1 .5 8.9 .5-35.9 .5 21.2 .5-61.7 .5-22.1 .5 68.3 .5 15.8 .5-7.7 .5-42.2 .5-53.1 .5 11.6 .5 63.9 .5-55 .5-15.7 .5-21 .5 34.2 .5-29.8 .5-39.2 .5 59.8 .5-17.8 .5-18.2 .5 20.5 .5-52.7 .5 43.6 .5-34.1 .5 37.4 .5-15.2 .5-38.7 .5 34.5 .5 20.9 .5-29.6 .5 33.2 .5-56.3 .5 36.4 .5 47.4 .5-32.2 .5 18.6 .5 44.3 .5-52.3 .5-44.7 .5 41.3 .5-12.5 .5 21.5 .5-7.8 .5-116.5 .5 127.6 .5 61 .5-51.6 .5-42 .5 78 .5 6.5 .5-52.8 .5-22.5 .5 83.3 .5-31.8 .5 19.2 .5-22.8 .5-34.2 .5 108.5 .5-59.4 .5 24.2 .5-79.4 .5 49.8 .5 1.3 .5 32.2 .5 1.4 .5-59.3 .5-59.2 .5 82.8 .5-27.4 .5 43.6 .5-68.5 .5 60.3 .5-79.7 .5 9 .5 18.7 .5 3.1 .5 29.6 .5-26 .5-64.1 .5 119.7 .5-83 .5 46.9 .5-7.6 .5-11.8 .5 35.9 .5-16 .5-20.9 .5-35.4 .5 33.9 .5 0 .5 22 .5-16.6 .5-6 .5-22.5 .5 17.3 .5 45.4 .5-73.5 .5 65.6 .5 17.1 .5-16.6 .5-17.4 .5-20.2 .5 32.7 .5 14.5 .5-54 .5 30.7 .5-21.7 .5 5.8 .5 24.2 .5 11.1 .5 35.2 .5-28.5 .5-26.2 .5 29.2 .5 6.2 .5 27 .5-84 .5 69.9 .5-13.1 .5-29.2 .5 86.2 .5-98.8 .5 65 .5-3.4 .5 3.7 .5-5.9 .5 90.4 .5-101.7 .5 2.4 .5 16.6 .5 66.5 .5-58.1 .5 46.5 .5-65.2 .5 74.7 .5-76.9 .5-6.7 .5 31 .5 42 .5-60.6 .5 11.2 .5-67 .5 73.3 .5 3.8 .5 61 .5-50.2 .5 38.2 .5 11 .5-40 .5-40.4 .5 62.1 .5-5.8 .5-7.7 .5 9.9 .5 44.9 .5-83.2 .5-24 .5 28.7 .5-14.5 .5 45.6 .5-49.7 .5 75.8 .5-35.8 .5 32.6 .5-76.1 .5 83.2 .5 1.6 .5-65.5 .5-30.3 .5 63.7 .5 25 .5 1.7 .5-16.3 .5-32.1 .5-25.7 .5 23.9 .5 87 .5-90.6 .5 17.7 .5-29.3 .5 45 .5-18 .5-17.4 .5-12.9 .5 86.7 .5-117.6 .5 9.7 .5 52.6 .5 .7 .5 37.5 .5-61.1 .5 47.4 .5-92 .5 38.4 .5-27.4 .5-14.5 .5 77.2 .5 4.3 .5 20.2 .5-59.8 .5 47.1 .5-49.7 .5 12.2 .5-18.1 .5 29.6 .5 20 .5-37.2 .5 43.7 .5-40.2 .5-65 .5-33.6 .5 26.5 .5 8.7 .5 21.2 .5-96 .5 103.9 .5-33.4 .5-28.8 .5 28.7 .5-25.6 .5-7.8 .5 46.7 .5 11.5 .5-16.4 .5 29.5 .5-41.8 .5-42.4 .5 13.1 .5 17.8 .5 12.9 .5 8.8 .5 5.8 .5 35.6 .5-1.6 .5-1.7 .5-81.1 .5 26 .5-5.6 .5 33.5 .5 .8 .5 45.5 .5-62.4 .5-31.1 .5 38.5 .5 57 .5-16.9 .5-61.3 .5 128.1 .5-125.6 .5 19.9 .5 8.7 .5 25.7 .5-65.8 .5 36.3 .5 9.6 .5 14 .5-96.5 .5 44.2 .5-6.2 .5-12.7 .5 16.3 .5 19.5 .5 41.8 .5-12.5 .5-51.9 .5 8.6 .5-2.5 .5-.8 .5 4.7 .5 .3 .5 29 .5-61.4 .5 78.2 .5-3.4 .5-63.8 .5 58.7 .5 .3 .5-26.8 .5 110.8 .5-74.5 .5 6.2 .5-22.1 .5 88.2 .5-153.1 .5 58.4 .5 8 .5 67.9 .5-93.4 .5 20.9 .5-75.6 .5 41 .5 81.3 .5-21.3 .5-2.9 .5 32.5 .5 3.4 .5-99.2 .5 124.1 .5-35.1 .5-41.6 .5 14 .5-54.1 .5 20.2 .5 41.8 .5-18.7 .5-19 .5-17 .5 31.1 .5-28.8 .5-5.4 .5 35.9 .5-41.1 .5 67.2 .5-65.9 .5-32.7 .5 103.6 .5-4.7 .5-90.8 .5 44.7 .5 15.3 .5-25.1 .5-36.7 .5 106.9 .5-66.3 .5 5.1 .5-6.2 .5 88 .5-31.8 .5-89.7 .5-22.2 .5-15.2 .5 108.5 .5-67.7 .5 5.8 .5 35.3 .5 16 .5 3.6 .5 14.6 .5 47 .5-103.1 .5 61.6 .5 47.7 .5-122.2 .5 18.2 .5 .9 .5 67.7 .5 23.1 .5-8.4 .5-37 .5-75 .5 64.4 .5 44.9 .5 35 .5-20.6 .5-15.4 .5 56.8 .5-129 .5 65.1 .5-1.9 .5 76 .5-70.3 .5-52.3 .5 64.7 .5-40.4 .5-83.2 .5 114.9 .5-35.4 .5-27.5 .5 49.5 .5-61.4 .5 31 .5-66.8 .5 60.6 .5-35.6 .5-2.5 .5-5.1 .5 32.8 .5 46.4 .5-35.9 .5 11 .5-4.3 .5 20.1 .5 8.5 .5-26.3 .5-24.1 .5-14.7 .5 57.2 .5-45.9 .5 56.1 .5 13.2 .5-90 .5 62.9 .5-36.2 .5-26.6 .5 78.3 .5-63.7 .5-38.6 .5 32.7 .5 20.3 .5-17.2 .5-35.2 .5 21.1 .5 5 .5-31.7 .5-67.6 .5 111.3 .5-16.2 .5-95.2 .5 97.9 .5-2.7 .5-19.2 .5 39.6 .5 36.3 .5-98.3 .5 95.3 .5-36 .5-25.5 .5 31.9 .5-18.7 .5-42 .5 50.9 .5 55.7 .5-43.3 .5-44.4 .5 45.6 .5-32.5 .5 15.2 .5 9.1 .5-41.1 .5-13.4 .5 61.9 .5-38.1 .5-45.1 .5 144.9 .5-83 .5 37.5 .5-43.3 .5 102.2 .5-38.3 .5-12.8 .5 46.3 .5-95.8 .5 86.9 .5-135.6 .5 110.2 .5-30.4 .5-62.4 .5 119.5 .5-52.6 .5 30.8 .5-81.6 .5 69.6 .5-52.5 .5 50.2 .5-3.1 .5 29.6 .5-12.6 .5-37.5 .5-54.3 .5 127.8 .5 9.5 .5-53.5 .5 15.5 .5 5.9 .5 55.8 .5 16.4 .5-91.8 .5 2.6 .5 18.2 .5-37.2 .5-59.2 .5 63.7 .5 23.7 .5-66.9 .5 21.8 .5 89.3 .5-58.3 .5-48.2 .5 19.1 .5 27 .5 16.8 .5-.6 .5-138.4 .5 56.8 .5 41.1 .5 88.4 .5-187.1 .5 90.7 .5-12.4 .5 31.3 .5 .6 .5 15.9 .5-110.4 .5 63.6 .5-8.8 .5 27.3 .5-1.1 .5-1.2 .5-5.4 .5 22.2 .5 44 .5-59.7 .5 8.8 .5 39.9 .5 .1 .5-82.4 .5 78.5 .5-73.5 .5-15.7 .5-9.6 .5 2.4 .5-.7 .5 20.7 .5-75.5 .5 34.7 .5 65.6 .5-80.3 .5 77.6 .5-72.7 .5 25.6 .5-7.5 .5 25.1 .5 2.9 .5 20.8 .5-103.8 .5 45.4 .5-11.9 .5-17.7 .5 48 .5 37.3 .5-92.7 .5 39.9 .5 34.3 .5-16.7 .5-31 .5 36.8 .5 10.8 .5-15.6 .5 51.7 .5-34.1 .5-2.4 .5 18.6 .5-40.3 .5 18.1 .5-19.5 .5 5.6 .5 20.7 .5 22.9 .5 42.3 .5-82.9 .5 79.4 .5-48.6 .5-39.7 .5 59.6 .5-74 .5 97.1 .5-61.8 .5-2.5 .5 65.4 .5-61.6 .5 24.9 .5 .1 .5-87.9 .5 12.4 .5 27.8 .5 8 .5-36.1 .5 61.7 .5-92 .5 45.4 .5-52.8 .5 82.1 .5-44.6 .5-18 .5 63.1 .5-9.2 .5 28.6 .5-46.4 .5 61.6 .5-97.4 .5 35.2 .5-15.2 .5-31.9 .5 59.5 .5-137.3 .5 153 .5-70.6 .5 69.4 .5 32.4 .5-82.5 .5 88.5 .5-86.8 .5 40.2 .5 16.8 .5 51.7 .5-44.3 .5 34.2 .5-41.9 .5 27.4 .5 28.4 .5 16.8 .5-23.1 .5-90.9 .5 81.7 .5 13.7 .5 21.5"/>
<path fill="#0000ff" d="M1182 2013.3l2 1.1 2 3.9 2 1.2 2-2.9 2-1.3 2 1.9 2 0 2-5.5 2-5.7 2 .1 2 2.4 2-1.6 2-4.1 2 .2 2 1 2-1.7 2-1.6 2-5.8 2-9.3 2-.5 2 5.9 2 1.6 2 .2 2 6.2 2 10.7 2 5 2-7.9 2-9.7 2 5 2 8.1 2-6.3 2-9.9 2-1.4 2 4.3 2 14.7 2 23.2 2 10 2-2.3 2 4.1 2 11.2 2 7.2 2-1.1 2-5.2 2-5.8 2-5.4 2-8.2 2-8.4 2 2.9 2 11.5 2 8.2 2 3.5 2-1.7 2-12.3 2-16.8 2-7.5 2 10 2 19.5 2 10.7 2-3.8 2-6.6 2 1.9 2 8.1 2 6.9 2 .6 2-7.4 2-8.9 2-5 2-2.5 2-1.2 2 3.3 2 10.3 2 16.6 2 12 2-2.8 2-7.8 2-4.7 2-3.3 2 .3 2 6.2 2 1 2 3.1 2 5 2 6.8 2 2.4 2-3.5 2-1.7 2 5.2 2 8.3 2-.6 2-14.8 2-17.8 2-7.8 2 5.4 2 11.6 2 5.7 2-6.3 2-13.7 2-5 2 11.3 2 8.8 2-3.6 2-4.9 2-3.1 2-1.7 2 5.2 2 10.8 2 11.6 2 8.4 2-4.6 2-18.9 2-14.6 2 3.4 2 11.5 2 9.7 2 6.8 2-1 2-7.2 2-8.2 2-11.7 2-11.1 2-1.7 2 7.3 2 10.3 2 9.7 2 7.2 2 3.3 2-2.9 2-12.2 2-16 2-9.5 2 5.2 2 15.4 2 10.4 2-4.4 2-8 2 1.4 2 3.6 2-1.1 2-2.3 2-2.3 2 .6 2 4.9 2 .9 2-3.6 2-.3 2 2.7 2-1.4 2-4.4 2 1 2 6.2 2 3 2-1 2-2.2 2-1.2 2 4 2 6.2 2 3.1 2 .9 2-4.7 2-13.3 2-14.5 2-4.1 2 12.6 2 21.6 2 13.6 2-1.5 2-11.5 2-17.9 2-15.6 2-.2 2 11.2 2 8 2-1.2 2-7.4 2-5 2 2.7 2 8.3 2 7.8 2 1.9 2-2.5 2 1.6 2 7.6 2 9.7 2 9.9 2 3 2-6.3 2-4.5 2 1.9 2-2.9 2-6.6 2-4.3 2-7.2 2-5.8 2 4.4 2 7.7 2 1.9 2-4.8 2-7.1 2-5.3 2-5.9 2-5.5 2 1.7 2 9.4 2 15.5 2 19.3 2 12.2 2-2.4 2-13 2-16.1 2-14.1 2-7.7 2-1.6 2-1.2 2-1 2 1.6 2-1.2 2-5.8 2-.5 2 9 2 11.7 2 7.9 2 1.9 2 2.8 2 5.6 2-1.2 2-3.1 2 4.8 2 8 2 3.6 2-3 2-13.9 2-21.7 2-7 2 15.5 2 13.5 2-3.5 2-7.6 2-2.1 2-.6 2 .8 2 5.7 2 10.9 2 12.5 2 3.8 2-7.5 2-8.5 2-6.6 2-9.4 2-6.8 2 1.2 2 2.1 2 3.1 2 8.1 2 6.2 2-.2 2-6.1 2-4.9 2 4.8 2 10 2 4.2 2-4.4 2-8.1 2-3.9 2 6.3 2 6.9 2-6.7 2-9.2 2 6.3 2 17.5 2 9.7 2-6.3 2-10.6 2-5.5 2-3.6 2-4.1 2-4.1 2-3.1 2 .9 2 4.3 2-.4 2-.5 2 8.3 2 5.5 2-10 2-16.3 2-5 2 3.3 2-2.8 2-2.3 2 6.7 2 10.5 2 12.8 2 11.9 2-1.2 2-14.6 2-11.3 2-3.1 2-8.3 2-10.8 2 7.2 2 18.3 2 6.3 2-2.9 2 4.1 2 9.4 2-.9 2-9.7 2-3.1 2 6.2 2 6.8 2 2.8 2 2.5 2 1.7 2-5.7 2-10.4 2-6.3 2 .2 2-4.2 2-11.8 2-9.3 2-2.3 2 3.7 2 11.8 2 12.5 2 1.1 2-5.4 2-.5 2 9.6 2 15.5 2 6.5 2-5.1 2-5.8 2-3.5 2-3.9 2-4.5 2 .1 2 4.6 2 2 2-1.5 2-5 2-7.7 2-2.1 2 5.3 2 5.7 2 1.7 2 1.5 2 6.6 2 9.9 2 7 2-.6 2-6.6 2-10.9 2-17.1 2-14.2 2 3.1 2 17.9 2 15.4 2 6.1 2 3.6 2-3.6 2-17.2 2-18.8 2-4.2 2 11.2 2 13.3 2 3 2-8.9 2-12.1 2-6 2 3.5 2 8.7 2 5.5 2-3.9 2-12.3 2-9.6 2 4.1 2 14.1 2 10.6 2 2.6 2-1 2-4 2-10.1 2-9.6 2-1 2 2.4 2-1.8 2-1.5 2 2.3 2 3.1 2 1.8 0 25.5 -2-1.8 -2-3.1 -2-2.3 -2 1.5 -2 1.9 -2-2.4 -2 1 -2 9.5 -2 10.1 -2 4.1 -2 1 -2-2.6 -2-10.6 -2-14.2 -2-4 -2 9.6 -2 12.3 -2 3.9 -2-5.5 -2-8.7 -2-3.5 -2 6 -2 12.1 -2 8.9 -2-3 -2-13.3 -2-11.1 -2 4.1 -2 18.8 -2 17.2 -2 3.7 -2-3.6 -2-6.1 -2-15.4 -2-17.9 -2-3.1 -2 14.2 -2 17.1 -2 10.9 -2 6.6 -2 .6 -2-6.9 -2-10 -2-6.6 -2-1.4 -2-1.7 -2-5.8 -2-5.2 -2 2.1 -2 7.7 -2 5 -2 1.6 -2-2.1 -2-4.6 -2-.1 -2 4.5 -2 4 -2 3.4 -2 5.9 -2 5 -2-6.5 -2-15.4 -2-9.6 -2 .5 -2 5.4 -2-1.1 -2-12.5 -2-11.8 -2-3.7 -2 2.3 -2 9.3 -2 11.9 -2 4.1 -2-.1 -2 6.2 -2 10.5 -2 5.6 -2-1.6 -2-2.6 -2-2.7 -2-6.9 -2-6.2 -2 3.2 -2 9.7 -2 .9 -2-9.4 -2-4.1 -2 2.9 -2-6.2 -2-18.3 -2-7.3 -2 10.9 -2 8.3 -2 3.1 -2 11.3 -2 14.6 -2 1.2 -2-12 -2-12.7 -2-10.5 -2-6.7 -2 2.3 -2 2.8 -2-3.3 -2 5 -2 16.3 -2 10 -2-5.4 -2-8.4 -2 .5 -2 .5 -2-4.4 -2-.9 -2 3.2 -2 4 -2 4.2 -2 3.6 -2 5.5 -2 10.6 -2 6.3 -2-9.7 -2-17.5 -2-6.2 -2 9.1 -2 6.7 -2-6.9 -2-6.3 -2 4 -2 8.1 -2 4.3 -2-4.1 -2-10 -2-4.8 -2 4.9 -2 6.1 -2 .3 -2-6.3 -2-8.1 -2-3.1 -2-2.1 -2-1.2 -2 6.8 -2 9.4 -2 6.6 -2 8.5 -2 7.5 -2-3.7 -2-12.5 -2-10.9 -2-5.7 -2-.8 -2 .6 -2 2.1 -2 7.6 -2 3.5 -2-13.5 -2-15.4 -2 6.9 -2 21.7 -2 13.9 -2 3.1 -2-3.7 -2-7.9 -2-4.8 -2 3.1 -2 1.2 -2-5.6 -2-2.8 -2-1.9 -2-7.9 -2-11.6 -2-9 -2 .4 -2 5.8 -2 1.2 -2-1.5 -2 .9 -2 1.2 -2 1.7 -2 7.7 -2 14.1 -2 16 -2 13.1 -2 2.4 -2-12.2 -2-19.3 -2-15.5 -2-9.4 -2-1.7 -2 5.6 -2 5.8 -2 5.3 -2 7.1 -2 4.8 -2-1.8 -2-7.7 -2-4.4 -2 5.8 -2 7.2 -2 4.3 -2 6.6 -2 2.9 -2-1.8 -2 4.4 -2 6.3 -2-3 -2-9.9 -2-9.7 -2-7.6 -2-1.6 -2 2.5 -2-1.9 -2-7.8 -2-8.3 -2-2.6 -2 5 -2 7.4 -2 1.2 -2-8 -2-11.2 -2 .2 -2 15.6 -2 17.9 -2 11.6 -2 1.5 -2-13.7 -2-21.5 -2-12.6 -2 4 -2 14.6 -2 13.3 -2 4.7 -2-.9 -2-3.1 -2-6.2 -2-4 -2 1.2 -2 2.2 -2 1.1 -2-3.1 -2-6.1 -2-1 -2 4.4 -2 1.3 -2-2.7 -2 .3 -2 3.7 -2-.9 -2-4.9 -2-.6 -2 2.3 -2 2.2 -2 1.1 -2-3.8 -2-1.6 -2 7.8 -2 4.2 -2-10.6 -2-15.6 -2-5.4 -2 9.5 -2 16 -2 12.2 -2 2.9 -2-3.3 -2-7.2 -2-9.7 -2-10.3 -2-7.3 -2 1.7 -2 11.1 -2 11.7 -2 8.2 -2 7.2 -2 1 -2-6.8 -2-9.7 -2-11.5 -2-3.4 -2 14.6 -2 18.9 -2 4.6 -2-8.4 -2-11.6 -2-10.8 -2-5.2 -2 1.7 -2 3.1 -2 4.9 -2 3.6 -2-8.8 -2-11.3 -2 5 -2 13.7 -2 6.3 -2-5.7 -2-11.6 -2-5.4 -2 7.8 -2 17.8 -2 14.8 -2 .6 -2-8.3 -2-5.2 -2 1.7 -2 3.5 -2-2.4 -2-6.8 -2-5 -2-3.1 -2-1 -2-5 -2 .9 -2 3.9 -2 4.6 -2 7.8 -2 2.8 -2-12.1 -2-16.6 -2-10.3 -2-3.4 -2 1.2 -2 2.5 -2 5 -2 8.9 -2 7.3 -2-.6 -2-6.9 -2-8.2 -2-1.9 -2 6.6 -2 3.8 -2-10.8 -2-19.6 -2-10 -2 7.5 -2 16.8 -2 12.3 -2 1.7 -2-3.6 -2-8.3 -2-11.4 -2-2.9 -2 8.2 -2 8.3 -2 5.3 -2 5.8 -2 5.2 -2 1.1 -2-7.3 -2-11.2 -2-4.2 -2 2.3 -2-8.9 -2-20.9 -2-13.8 -2-4.7 -2 1.1 -2 9.5 -2 6 -2-8.5 -2-5.4 -2 9.3 -2 7.6 -2-5.4 -2-11.1 -2-6.5 -2-.6 -2-1.9 -2-6.3 -2 .1 -2 8.9 -2 5.5 -2 1.2 -2 1.3 -2-1.3 -2-.6 -2 3.7 -2 1.3 -2-2.8 -2-.1 -2 5.7 -2 5.5 -2 0 -2-1.9 -2 1.3 -2 2.9 -2-1.2 -2-3.9 -2-1.1z"/>
<path stroke="#0000ff" d="M1182 2030.3l.5 31.5 .5-62.2 .5 24.3 .5 28.6 .5 4 .5-62.3 .5 27.2 .5 40.3 .5-19.2 .5-6.9 .5-9.6 .5-4.1 .5 15.3 .5-13.4 .5 4.1 .5 2 .5-18.5 .5 28 .5 41.4 .5-96 .5 49.8 .5-25 .5 32.1 .5-12 .5 17.3 .5 10 .5-23.3 .5 21.6 .5-81.8 .5 90.4 .5-30.2 .5 14.8 .5-55.9 .5 7.5 .5 21.7 .5-4.8 .5 6.5 .5 151.5 .5-199.6 .5 65.1 .5-22.1 .5-4.3 .5-29.5 .5 47.6 .5-67.2 .5 70.7 .5-52.3 .5 36.5 .5-5.3 .5 30.5 .5-34 .5-13.5 .5 4.3 .5 44.2 .5-18 .5-22.6 .5 4.2 .5-33.2 .5 49.7 .5-54.7 .5 63.8 .5-16.4 .5 55.5 .5-88.1 .5 25.5 .5 49.1 .5-15.9 .5-49.9 .5 23.4 .5-7 .5 5.8 .5-28.2 .5 13.8 .5-42.9 .5 44.1 .5 6.7 .5-19.5 .5-38.2 .5 71.2 .5-15.9 .5-28.5 .5 13.9 .5-32.2 .5 14.4 .5 14.5 .5 49.8 .5-52 .5 35.9 .5-33.3 .5 22.1 .5-10.9 .5 29.4 .5-39.3 .5-28.5 .5 7.2 .5 26.7 .5-18.3 .5 50.9 .5-22.6 .5 83.5 .5-116 .5 58.8 .5-38.3 .5 18.9 .5 18 .5-74.5 .5 73.3 .5 47.1 .5-73.8 .5 18.6 .5 21 .5-37.4 .5-12.9 .5-51 .5 91.2 .5-20.6 .5-25 .5 37.8 .5-20.1 .5 2.6 .5 35.3 .5-62.1 .5 72.8 .5-79.7 .5 20.2 .5 79.3 .5-27.5 .5-34.6 .5-34.4 .5 12.6 .5 19.4 .5-.7 .5-3.3 .5 3 .5-4.7 .5-128.4 .5 121.1 .5 48.1 .5-68.2 .5 43.9 .5-13.8 .5 34.5 .5-9.6 .5 60.4 .5-23.7 .5-46.7 .5 55.8 .5-41.2 .5 4.9 .5 24.5 .5-23.4 .5 38.8 .5-47 .5 5 .5 .3 .5 4.6 .5 49.6 .5-10.5 .5 33.7 .5 18.7 .5-90.9 .5 33.3 .5-33.7 .5 12.2 .5 4.6 .5-12.2 .5-.4 .5 24.9 .5-31.6 .5 57.2 .5-51.4 .5 90 .5-79.7 .5 13.4 .5-40.3 .5 83.9 .5-17.9 .5-24.7 .5-48.1 .5 42.9 .5-39.6 .5 71.7 .5-20.8 .5-22.8 .5-70.9 .5 35.2 .5 45.7 .5 13.6 .5-3.6 .5-76.8 .5 55.3 .5 22.3 .5-73.8 .5 50.1 .5 11.1 .5-13.5 .5-41.7 .5 45.9 .5 1.8 .5 6.6 .5-10.7 .5 4.4 .5 12.4 .5 14.4 .5-21.1 .5-3.1 .5 13.7 .5-59 .5 66.7 .5-16.5 .5-2.3 .5 22.5 .5-88 .5-5 .5 60.3 .5-11.9 .5 1.8 .5-20.6 .5 30.9 .5 7.4 .5-12 .5-19.5 .5-50.1 .5 87 .5 17.7 .5-11.5 .5-38.9 .5 49.5 .5 9.5 .5 23.4 .5-68 .5 19.9 .5 28.2 .5-20.6 .5-35.4 .5 42.5 .5 2.8 .5-16.1 .5 2.2 .5-15 .5 49.8 .5-68.7 .5 9.9 .5 18.7 .5 26.9 .5-66.8 .5 7.6 .5-19 .5 62.2 .5-31.5 .5 22.9 .5 31.7 .5-36.9 .5 25.8 .5-15.6 .5 27.6 .5-7 .5-35.6 .5 13.1 .5 33 .5-21.4 .5-54.4 .5 57.5 .5-52.6 .5 71.1 .5-12.6 .5-22.5 .5-4.8 .5-11.4 .5 25.2 .5-31.2 .5 17.2 .5 18.1 .5-42.3 .5-1.9 .5-16.9 .5 4.1 .5-21.8 .5 75.8 .5 33 .5-9.3 .5-87 .5 71.7 .5 23.7 .5-51.2 .5 20.4 .5-57.4 .5 71 .5-34.9 .5 40.5 .5-48.9 .5 63.4 .5 14.8 .5-53.5 .5-11.6 .5-31.8 .5 53.4 .5-11.3 .5-30.5 .5 57.3 .5-27.8 .5-19.5 .5 14.2 .5 46.6 .5-15.3 .5-23.5 .5 22 .5-51.7 .5 34.1 .5 3 .5-17.3 .5 25.4 .5-32.6 .5 36.2 .5 2.5 .5-73.2 .5 91.8 .5-91.8 .5 44.8 .5 43.8 .5-34.6 .5-29.5 .5 10.6 .5 56.8 .5-76.8 .5 81.5 .5-29.8 .5-28.5 .5 17.7 .5-9.6 .5 51.3 .5-1.9 .5-63.3 .5 35.5 .5-11.7 .5 56.7 .5-70.2 .5 77 .5-44.2 .5-30.7 .5 11.8 .5-3.9 .5-12.8 .5 36.2 .5-34.2 .5-24 .5 49 .5-35.6 .5 29.9 .5-1.9 .5 3.2 .5 77.4 .5-50 .5 5.3 .5-53.8 .5 27.9 .5 20.4 .5-36.2 .5 46.8 .5-60.2 .5 19.3 .5-12.6 .5 15.3 .5-25.1 .5 6.6 .5-1.5 .5-14.7 .5 31.5 .5-6.2 .5-7.6 .5-7.3 .5 34.7 .5-24.4 .5 1.1 .5 13.9 .5 44.7 .5-77.6 .5 57.5 .5-69.1 .5 56 .5 35.3 .5-29.8 .5-10.4 .5-21.9 .5 12.4 .5-11 .5-17.7 .5 9.7 .5 10.1 .5-27.4 .5-1.8 .5-14.1 .5 47.8 .5 6.7 .5-4.9 .5 22.9 .5-19.7 .5 10.7 .5-.4 .5-9.5 .5-11.7 .5 71.6 .5-71.6 .5-7.1 .5 27.5 .5-6.2 .5-44.7 .5 65.7 .5-32.9 .5-27.6 .5 59.9 .5-15.7 .5-50.5 .5 79.5 .5-29.8 .5-17.6 .5 42.7 .5-36.6 .5-3.4 .5-14.7 .5 35.2 .5-.2 .5-9.3 .5-18.3 .5 27.2 .5-2.3 .5-30.4 .5-.8 .5 56.3 .5-73.1 .5 68 .5-16.7 .5 47.6 .5-48 .5 28.7 .5-30.7 .5 9.6 .5 11.8 .5-36.7 .5 33.2 .5-57.5 .5 29.7 .5 13.3 .5-9 .5 32.3 .5-70.1 .5-14.8 .5 12.4 .5 46.3 .5-1.3 .5-7.5 .5-29.5 .5 52.5 .5-50 .5 65.1 .5 32.3 .5-48.8 .5 7.6 .5-26.7 .5-33.6 .5 32.5 .5-12.9 .5-9.9 .5 82.5 .5-39.7 .5 1 .5-20.1 .5 1.6 .5 28 .5-28.2 .5 12.8 .5-21.4 .5-6.4 .5-30.9 .5-18.1 .5 41.9 .5 5.2 .5-38.4 .5 30.3 .5 .2 .5-59.7 .5 31.9 .5 34.8 .5 .1 .5-39.4 .5 36.3 .5 24.8 .5-4.1 .5-20.5 .5-7.3 .5-1.6 .5 31.5 .5-4.6 .5 13.9 .5-10.7 .5 20.4 .5-17 .5 20.1 .5 3.9 .5-42.7 .5-25.2 .5 89.3 .5-33.2 .5-51.5 .5 26.4 .5 38.7 .5-28.7 .5-7.7 .5 48.3 .5-67.4 .5 3.2 .5 22.9 .5 .6 .5-1.3 .5 6.8 .5-22.6 .5 4.3 .5-22.5 .5 6.4 .5-.1 .5 2.8 .5 15.7 .5-3.9 .5-10.8 .5-19.3 .5 27.2 .5 1.5 .5 10 .5 57.8 .5-70.1 .5 27.7 .5 18.8 .5-26 .5 58.9 .5-74.1 .5 16.9 .5-33 .5 9.8 .5 14.5 .5 15.1 .5-14.9 .5 26 .5-36.5 .5-5.4 .5 73.9 .5-51.5 .5-30.1 .5 1.2 .5-6.8 .5 52.3 .5-36.8 .5 13.1 .5-5.9 .5 21.6 .5-44.6 .5-6.9 .5 35.7 .5 9.9 .5-8.1 .5-32.4 .5 41.1 .5-39.7 .5 6.5 .5-11 .5 63.6 .5-17.3 .5 .5 .5 19.1 .5 30.3 .5-111.3 .5 27.1 .5 3 .5-7.4 .5-7.3 .5 20.7 .5-26.5 .5 42.7 .5-8.2 .5 12.1 .5 1.2 .5 3.3 .5-26.4 .5 70.2 .5-52 .5-58.2 .5 23.8 .5-21.1 .5 48.1 .5-5 .5-10.9 .5 67.9 .5-41.6 .5 4.4 .5-46.1 .5-1.4 .5 29.8 .5 92.4 .5-142.1 .5 48.3 .5 6.9 .5-5.1 .5-15.7 .5 8.2 .5 10.4 .5 7.4 .5 14.1 .5 12.9 .5-38.7 .5-5 .5 24.3 .5 4.2 .5-29.7 .5 33.5 .5 4.8 .5 8.5 .5 13.6 .5-73.1 .5 25.3 .5 1.2 .5-1.6 .5-13.6 .5-21.6 .5 45.4 .5-22.6 .5 24.8 .5-23.6 .5-7.8 .5 37.5 .5-1.9 .5 12.3 .5 44.8 .5-53.1 .5 5.4 .5-44.2 .5-7.3 .5 77.7 .5-72.2 .5-6.5 .5 24.3 .5-5.3 .5-26.6 .5 12.7 .5 39 .5-59.6 .5-18.7 .5 63.3 .5-13.1 .5-30.4 .5-25 .5 25.9 .5 22.9 .5 38.4 .5-55.9 .5 31.9 .5 26.6 .5-77.2 .5 97.2 .5-57.5 .5 45 .5-.4 .5 24.2 .5-14.9 .5-79.9 .5 40.5 .5 23.4 .5-11.9 .5 15.5 .5 5.1 .5-9.1 .5-27.1 .5-49.9 .5 33.7 .5 19.4 .5-46.1 .5 44 .5 4.9 .5-23.4 .5-67.8 .5 28.9 .5 89.2 .5-65.1 .5-37 .5 92.2 .5-30.9 .5 33 .5-20.6 .5 6.8 .5-1.5 .5 9.9 .5 43.7 .5-36.8 .5-71.7 .5 54.5 .5 17.4 .5-.3 .5-47.1 .5 42.2 .5-8 .5 36.9 .5-85 .5 6.6 .5 6 .5-4.2 .5-9.7 .5-37.2 .5 53.6 .5 24.5 .5-21.6 .5 69.4 .5-51 .5 37.2 .5-26.9 .5 16.7 .5-14.4 .5 30.4 .5-36.5 .5 11.7 .5-4.3 .5-18.9 .5 18.6 .5 50.3 .5-69.1 .5 19.7 .5 24.3 .5-1.7 .5-29.4 .5-61.8 .5 80 .5-73.3 .5 104.3 .5-33.4 .5 25.5 .5-49.9 .5-15.4 .5 52.6 .5-6 .5-10.9 .5 17 .5 60.7 .5-39.8 .5 5 .5-7.2 .5 15.7 .5-48.1 .5-53.2 .5 50 .5 26.7 .5-49.5 .5 22.1 .5-13.6 .5 61.1 .5-20.3 .5-2.6 .5-1.3 .5-19.2 .5 5 .5-39.8 .5-29.5 .5 62.8 .5 3.3 .5 23.3 .5 8.9 .5-1 .5-71.9 .5 16.4 .5 21.3 .5 48.2 .5-24.8 .5-12 .5-43.3 .5-15 .5 45.5 .5-51.9 .5 24.6 .5 4.9 .5 48.9 .5-51.5 .5-51.5 .5 79.2 .5-31.6 .5 21.6 .5-2.8 .5-5 .5 29.1 .5-64.7 .5 26.9 .5 31.7 .5-37.4 .5-29.2 .5 60.9 .5 10.7 .5-33.8 .5-54.3 .5 72.1 .5-66.4 .5 53 .5-34.2 .5-8.9 .5 18.2 .5 5.5 .5-14.3 .5 32.3 .5-29.8 .5 38.3 .5-19.7 .5-26.8 .5-3.9 .5-20.2 .5 55 .5-15.5 .5-51 .5 51.5 .5-6.8 .5 71.7 .5-86 .5 11.6 .5 75 .5 11.7 .5-52.8 .5 7.7 .5 38.6 .5-76.7 .5 14.8 .5 45.2 .5 51 .5-54.7 .5 13.6 .5 26.5 .5 24.2 .5-76.9 .5 11.9 .5 46.7 .5-95.8 .5 66 .5-60.3 .5 26.8 .5-13.4 .5-23.3 .5-4.1 .5 31.5 .5 17.1 .5-33.1 .5 3.8 .5 12.6 .5-43.1 .5 46.5 .5 1.9 .5 40.5 .5-73.6 .5-2.5 .5 33.3 .5 .9 .5-37.5 .5 3.2 .5 25.7 .5-37.5 .5 11.7 .5 14.1 .5 25.3 .5-43.4 .5-33.7 .5-2.1 .5 17.5 .5-2.4 .5 30.5 .5-29.9 .5 11.8 .5-3.3 .5 8.1 .5 47.8 .5-17.9 .5 99.4 .5-127.8 .5 2.9 .5 23.4 .5 9.8 .5-37.9 .5 28.8 .5-53.7 .5 64.2 .5 17.6 .5-26.3 .5 59.2 .5-72.5 .5 31 .5-6.4 .5-1.5 .5-.2 .5 6.3 .5 20.8 .5 15.3 .5-36.5 .5 23.8 .5-39.9 .5 41.6 .5-40.7 .5 51.2 .5 30.6 .5-64.5 .5-57.6 .5 43.8 .5 47.6 .5-19.2 .5-8.5 .5 21.2 .5-13.4 .5 21.6 .5-6.3 .5 18.6 .5-29.7 .5 16.9 .5-31.4 .5-6.6 .5 64.2 .5-40 .5 16.4 .5-18.6 .5-19.9 .5 15.3 .5 37.4 .5-26.3 .5-65 .5 37 .5 49.9 .5-59.9 .5-49 .5 95.3 .5-38.2 .5-24.6 .5-10.9 .5 38.7 .5-43.6 .5 48.6 .5-12.9 .5-3.6 .5 2.2 .5-4.1 .5 37.4 .5-49.2 .5-18.9 .5 61.6 .5-.1 .5-5.6 .5-4 .5-22.1 .5 28.2 .5-24.6 .5-13.4 .5 3.8 .5 63 .5-102.8 .5 60.8 .5-59.6 .5 42.7 .5-9.1 .5-45.2 .5 67.4 .5-21 .5-46.5 .5 80.7 .5 17.1 .5 2.8 .5-29.2 .5-6.6 .5 37.2 .5 12.3 .5-12.1 .5-53.4 .5 34.4 .5 9.8 .5-58.2 .5 64.9 .5 51.3 .5-43.1 .5 23.2 .5-35.5 .5-8.1 .5 10.6 .5-34.8 .5-6.4 .5 58.3 .5 .6 .5-66.4 .5 51.6 .5-30.3 .5 10 .5 1.7 .5 12.7 .5-26.8 .5 33.8 .5-32.5 .5 6 .5-42 .5 79.4 .5-47.5 .5 5.8 .5-63.5 .5 21.6 .5 56.6 .5-25.1 .5-59.2 .5 80.9 .5-42.6 .5 53.6 .5-40.5 .5 8.6 .5 27.3 .5-55.1 .5-1 .5 23.7 .5 30 .5-56.4 .5-7.2 .5 69.6 .5-37.4 .5 6.7 .5-39.2 .5 32.2 .5 17.9 .5 24.8 .5-47.4 .5 64.6 .5-65.4 .5-1.7 .5 58.5 .5-37.5 .5-21.8 .5 10.2 .5 41.2 .5 3.9 .5-60.4 .5 23.2 .5 6.1 .5-26.6 .5 27.8 .5 4 .5 32.7 .5 3.2 .5-41 .5 3.3 .5 23.4 .5-34.8 .5 30.5 .5-20 .5-25.9 .5-1.7 .5 63.1 .5-45.5 .5 47.1 .5-59.8 .5 21 .5 54.4 .5-90.5 .5-21.4 .5 88.3 .5-54.9 .5 24.3 .5-13.2 .5 24.8 .5-32.4 .5 20.6 .5 15.7 .5-41.7 .5 5.5 .5 6.6 .5-32 .5 25.1 .5 13.4 .5-14.3 .5 4.5 .5 9.1 .5-14.1 .5 40.5 .5 24.7 .5-46.9 .5 30.2 .5-15.8 .5 19.4 .5 34.5 .5-27.8 .5-62.1 .5 59 .5 19 .5-42 .5 30.1 .5-48.5 .5-24.1 .5 41.7 .5-53.2 .5 39.6 .5 40.1 .5-87.5 .5 16.2 .5 5.8 .5 25.3 .5-9.1 .5 46.8 .5-13.1 .5-13.5 .5-10.5 .5 5.6 .5-35 .5 45.5 .5-54.2 .5 51.8 .5 8.6 .5-27.2 .5-11 .5 15.3 .5-73 .5 70.8 .5-10.5 .5 2.8 .5 21.6 .5-19.9 .5-27.9 .5 27.5 .5 5.7 .5 .9 .5 .6 .5 23 .5-57.9 .5 34.2 .5 30.7 .5-80.4 .5 53.8 .5-18.3 .5 8.4 .5-12.1 .5 21.8 .5 55.4 .5-83.8 .5 1.6 .5-5.7 .5 78.7 .5-62.9 .5 7.5 .5-14.5 .5-18.8 .5 15.6 .5 65.8 .5-26.3 .5-61.3 .5 40.6 .5-39.1 .5-24.5 .5 76.3 .5 4.4 .5-3 .5-41.5 .5 7.2 .5 23.5 .5-10.9 .5-22.1 .5-33.5 .5 47 .5 26.9 .5-59.9 .5 51.6 .5-6 .5 13.7 .5 5.9 .5-39.5 .5-22.1 .5 32.1 .5 41.4 .5-35.3 .5-.6 .5-26.9 .5 99.6 .5-22 .5 .7 .5 6.7 .5-10.3 .5-23 .5 .2 .5-10 .5 69.8 .5-50.9 .5-31.5 .5 21.2 .5-42.9 .5 65.2 .5-60.1 .5 30.1 .5 14.5 .5-18.9 .5-8.5 .5-3.4 .5-3.5 .5-16.5 .5 .5 .5 48.6 .5-46 .5-20.9 .5 5.6 .5 43.2 .5-10.3 .5-.5 .5-18.2 .5 27 .5-27.8 .5 15 .5 37.1 .5 .6 .5-47.9 .5 4.4 .5 26 .5 43 .5-98.9 .5 58.1 .5-45 .5 19.9 .5 7.9 .5 0 .5-1 .5 17 .5-12 .5-22.5 .5 62.2 .5 .4 .5 2.7 .5-64.8 .5 47.9 .5 7.9 .5-48.4 .5 25.3 .5-5.7 .5 50.7 .5 1.1 .5-96.8 .5 106.7 .5-85.4 .5 52.4 .5 1.5 .5-50.8 .5 42 .5-14.3 .5 19.4 .5-7.3 .5 26.9 .5-29.3 .5-6 .5 34.4 .5-13.4 .5 4.6 .5-36.7 .5-9.4 .5 13.6 .5-.8 .5 38 .5 5 .5-30.9 .5 41.3 .5-3.4 .5-32.3 .5-31 .5 61.6 .5-46.6 .5 2.5 .5-14.8 .5-16.6 .5-16.9 .5 55.6 .5-38.3 .5 82.7 .5-90.5 .5-4.5 .5 47.2 .5 26.7 .5-40.6 .5 11.6 .5-67.2 .5 28.2 .5-13.7 .5-25.2 .5 50.9 .5-65.8 .5 22.6 .5 19.4 .5-9 .5 32.1 .5-2.8 .5 15.7 .5-3.5 .5 11.1 .5-29.5 .5 9.7 .5 7.8 .5-7.1 .5-11.2 .5 5.3 .5-9.3 .5 36.7 .5-10.8 .5-12.9 .5 1.5 .5-14 .5 58.4 .5-24.9 .5-26.5 .5 43.3 .5-38.1 .5-23.8 .5 64 .5-42.1 .5 3.5 .5 12.7 .5 30.9 .5-28 .5-29.8 .5 50 .5-23.7 .5 67.5 .5-46.5 .5-56.1 .5 72.2 .5 44.5 .5-8.6 .5 7 .5-76.7 .5 50.4 .5-45.2 .5 23.5 .5-41.7 .5 15.2 .5-2.2 .5 40.9 .5-3.6 .5-14.9 .5-44.2 .5 26.9 .5-12.4 .5 42.2 .5 7.2 .5-4.4 .5-49.6 .5-42.5 .5 13.1 .5 84.2 .5-49.2 .5-9.5 .5 64.1 .5-9.4 .5-32.2 .5-7.3 .5 5.6 .5 10.7 .5 37.6 .5-30.7 .5 8.4 .5 11.9 .5-62.5 .5 51 .5-28.4 .5-54.1 .5 3.7 .5 28.5 .5 39.9 .5-12.8 .5 0 .5 45.1 .5-87.8 .5 31.3 .5 7.5 .5-28.6 .5 20.1 .5-43 .5 81 .5-54.5 .5 73.8 .5-53.3 .5 29.9 .5-27.2 .5 2 .5-13.7 .5 19.5 .5 5.9 .5-29.1 .5 17.7 .5-12.8 .5 77.6 .5-63.2 .5 44.3 .5-45.3 .5 13.6 .5-40.2 .5 25.5 .5 19.9 .5 39.1 .5-33.7 .5 33.3 .5-17.5 .5 28.3 .5-43.3 .5 63.3 .5-72.9 .5-7.4 .5-12.3 .5 92.4 .5-40.6 .5-32.2 .5 40.3 .5-16.9 .5 31.8 .5-95.9 .5 31.2 .5-8.6 .5-43.9 .5 76.4 .5-39.8 .5 22.2 .5 37 .5-74.6 .5-5.1 .5 12 .5 21.9 .5-41.2 .5-.2 .5 47.5 .5-14.3 .5-60 .5 26.7 .5 77.4 .5-24.5 .5-26.7 .5 19.3 .5 7.7 .5 21.3 .5-53.9 .5 15 .5 30.6 .5-8.9 .5 18.9 .5-46.9 .5 42.8 .5 19.7 .5-16.5 .5-10.5 .5-8.4 .5-22.8 .5 16.1 .5 30.6 .5-41.7 .5-25.8 .5 5.4 .5 13.8 .5-19 .5 20 .5-.6 .5 9.2 .5 14.9 .5-9.6 .5-48.6 .5 4 .5 25.6 .5-6.3 .5-14.5 .5 21.7 .5 1.8 .5-3.2 .5 10.7 .5 39.9 .5-26.5 .5 54.3 .5-58.5 .5-14.7 .5 4.8 .5 3.6 .5 1.5 .5 40.5 .5-80.2 .5 42.8 .5-19 .5-48.4 .5 61.4 .5 13.2 .5-55.6 .5 23.6 .5-43.7 .5 14.3 .5 63.3 .5-37.8 .5-14.9 .5 37.4 .5-18.2 .5 2.6 .5 32.7 .5-50.3 .5 6.2 .5 26.7 .5 19.6 .5 4.5 .5-53.4 .5 39.1 .5-48.9 .5 65.8 .5-81.1 .5 62.9 .5-53.9 .5 70.2 .5-37.1 .5-40.9 .5 15.4 .5 37.6 .5 10.8 .5-26 .5 6.8 .5 22.3 .5-13.6 .5-35.3 .5 14.5 .5 29 .5 26.7 .5 11 .5-22 .5-13.1 .5 12 .5-37.7 .5 13.2 .5-18.3 .5-12 .5 40.6 .5-5.5 .5 11.3 .5-6.2 .5-10.8 .5 5.4 .5-18.7 .5 9.4 .5-32.3 .5 27.2 .5 6.7 .5-35.7 .5 19.1 .5-17.3 .5 3.2 .5-15 .5 63.7 .5-5 .5-14 .5 37.5 .5-57.7 .5 64.9 .5-67.4 .5 12.2 .5-17.5 .5 20.3 .5 12.6 .5-24.5 .5 50.5 .5-39.8 .5 1.6 .5-30.3 .5 35.8 .5-13.8 .5-11.8 .5-3.8 .5 81.4 .5-67.4"/>
<path fill="#008000" d="M1182 2114.1l2-287.3 2-2.8 2-4 2-5.1 2-71.1 2-21.6 2 13 2-.3 2-5.1 2 3.5 2 242.6 2 123.8 2 1.2 2-9.2 2-8.7 2-5 2-8.4 2-11 2-4.2 2 8.4 2 14.5 2 6 2-8.9 2-17.4 2-13.9 2-.3 2 15.5 2 19.8 2 9.7 2-2.2 2-7.2 2-5.3 2 5.6 2 14.3 2 5.7 2-9.1 2-13.5 2-2.8 2 10.6 2 10.7 2 5.7 2 3 2-2.3 2-10.8 2-11.2 2-.7 2 4.2 2 .2 2-.1 2-37 2-73.2 2 7.1 2-4.2 2-5.2 2-8.7 2 37.2 2 104.8 2 16.5 2 13.4 2-6.3 2-17.7 2-12.1 2-2 2 3.2 2 6.6 2 10.1 2 6.8 2-.4 2-4.4 2-4.2 2-3.7 2-2.2 2-.3 2-1.7 2-2.2 2 5.6 2 10.2 2 5.1 2-2.8 2-5.8 2 .1 2 2.6 2-1.8 2-2.5 2-.6 2 2 2 2.3 2-4.2 2-12.9 2-12.7 2-.6 2 8.9 2 4.8 2-1.7 2 .5 2 6.8 2 6 2-.2 2-2.3 2-7.1 2-14.7 2-9.3 2 7.5 2 14.2 2 3 2-7.2 2-4.4 2-76.6 2-69.9 2 12.6 2 5.4 2-4.7 2-8.5 2-1.7 2 2.3 2-1.2 2-1.7 2-.3 2-.3 2 2.5 2-.6 2-10.6 2-9.6 2 .1 2 6.6 2 6.9 2 2.7 2 1 2 1.3 2 .2 2-.6 2-2.9 2-11.1 2-12.9 2-4 2-.1 2-1.6 2-2.8 2-2.6 2 1.7 2 11.9 2 18.6 2 16.3 2 6.8 2-10.3 2-16 2-4.7 2 .8 2-4.1 2-8.9 2-5.6 2 6.6 2 16.6 2 14.5 2 6.2 2-1.7 2-3.7 2 4.1 2 7.7 2 4.8 2 4.9 2 1.3 2-4.1 2-2.8 2-6.2 2-10.8 2-4.9 2-1.1 2-2.3 2-1.5 2-1 2-.5 2-2 2-6.5 2-6.2 2-.4 2 5.3 2 3.6 2-1.8 2-2.2 2-.2 2 6.7 2 14.4 2 8.4 2-4.9 2-3 2 8.4 2 6.9 2 5.3 2 6.4 2-4.7 2-13.5 2-11.1 2-8.3 2-4.4 2-2.5 2-6 2-3.8 2 48.5 2 48.6 2 25.1 2 9.9 2 14.5 2 9.2 2-2.1 2-12.1 2-12.3 2-2.3 2 9.5 2 9.9 2-1.8 2-4.6 2-.6 2-7.9 2-11.3 2-2.6 2 .1 2-6.7 2-9.2 2 2 2 15.7 2-44.3 2-58.1 2-2.6 2 4.4 2 11.8 2 2.5 2-14.6 2-16.5 2-5 2 3.4 2 3.3 2 3 2 5.4 2 3.5 2-2.6 2-1.9 2 2.2 2 3.3 2 2.4 2 1.9 2 3.6 2 2.4 2 .4 2-.7 2-3.1 2-4.4 2-3.7 2-7.8 2-7 2-4.4 2 1.8 2 5.4 2 5.8 2 4.7 2-2.7 2-14.6 2-10.5 2 9.7 2 14.3 2 2.8 2 1.7 2 3.3 2-3.1 2-10.3 2-12.2 2-9.8 2-7.3 2 1.4 2 12.7 2 13.1 2 5.3 2 1.4 2-.5 2-.5 2 1.7 2-1.7 2 3.3 2 15.4 2 10.3 2-3.1 2-9.6 2-12.4 2-7 2 3.2 2 3.8 2-1.1 2-2 2-.8 2 3.5 2 53.8 2 98.3 2 5.8 2 1.8 2-5.3 2-8.7 2-7.6 2-5 2-3.8 2-6 2-4.4 2 .6 2 5.4 2 12 2 13.6 2 11.7 2 8.5 2 2.6 2 2.8 2-.2 2-19.4 2-32.9 2-17.4 2 5.9 2 9 2 6 2 12 2 11.2 2-2.8 2-11.7 2-9.1 2 .3 2 2 2-7.3 2-6.5 2 8.7 2 15.9 2 8.6 2 .7 2-5.5 2-13.5 2-13.6 2 1.4 2 12.7 2 9.2 2 0 2-5.6 2-5.7 2-3 2-1.2 2-3.4 2-4 2 2.8 2 8.2 2 8.5 2 5.4 2 1.6 2-7.3 2-17.6 2-13.9 2 2.5 2 12.7 2 10.4 2 7.4 2 10.7 2 15.9 2 15.3 2 7.5 2-4 2-9.3 2-3.7 2-2 2-13 2-17.5 2-94 2-43.2 2-1.1 2-2.5 2-2.2 2-.5 2 3.9 2 7.1 2 4.8 2 4.2 2 2.9 2-3.5 2-4.2 2-.3 2 2.1 2 4 2 2.5 2-5.1 2-11.9 2-10.8 2-2.7 2 4.9 2 9.8 2 12.4 2 6.5 2-9.2 0 27.3 -2 9.2 -2-6.5 -2-12.4 -2-9.8 -2-4.9 -2 2.7 -2 10.8 -2 11.9 -2 5.1 -2-2.5 -2-4 -2-2.1 -2 .3 -2 4.2 -2 3.5 -2-2.9 -2-4.2 -2-4.8 -2-7.1 -2-3.9 -2 .5 -2 2.2 -2 2.5 -2 1.1 -2 46.2 -2 100 -2 17.5 -2 13 -2 2 -2 3.7 -2 9.3 -2 4 -2-7.5 -2-15.3 -2-15.9 -2-10.7 -2-7.4 -2-10.4 -2-12.7 -2-2.5 -2 13.9 -2 17.6 -2 7.3 -2-1.6 -2-5.4 -2-8.5 -2-8.2 -2-2.8 -2 4 -2 3.4 -2 1.2 -2 3 -2 5.7 -2 5.6 -2 0 -2-9.2 -2-12.7 -2-1.4 -2 13.6 -2 13.5 -2 5.5 -2-.7 -2-8.6 -2-15.9 -2-8.7 -2 6.5 -2 7.3 -2-2 -2-.3 -2 9.1 -2 11.7 -2 2.8 -2-11.2 -2-12 -2-6 -2-9 -2-5.9 -2 17.4 -2 32.9 -2 19.4 -2 .2 -2-2.8 -2-2.6 -2-8.5 -2-11.7 -2-13.6 -2-12 -2-5.4 -2-.6 -2 4.4 -2 6 -2 3.8 -2 5 -2 7.6 -2 8.7 -2 5.3 -2-1.8 -2-5.8 -2-98.3 -2-53.8 -2-3.7 -2 .7 -2 1.9 -2 1 -2-3.9 -2-3.3 -2 6.9 -2 12.3 -2 9.4 -2 3 -2-10.4 -2-15.5 -2-3.4 -2 1.7 -2-1.9 -2 .4 -2 .4 -2-1.5 -2-5.5 -2-13.1 -2-12.8 -2-1.6 -2 7.2 -2 9.8 -2 12.1 -2 10.1 -2 3 -2-3.4 -2-1.8 -2-2.9 -2-14.4 -2-9.9 -2 10.5 -2 14.4 -2 2.6 -2-4.8 -2-5.9 -2-5.5 -2-1.9 -2 4.3 -2 6.9 -2 7.8 -2 3.7 -2 4.4 -2 3.1 -2 .7 -2-.4 -2-2.4 -2-3.6 -2-1.9 -2-2.4 -2-3.3 -2-2.2 -2 1.9 -2 2.6 -2-3.5 -2-5.4 -2-3 -2-3.3 -2-3.4 -2 5 -2 16.5 -2 14.6 -2-2.5 -2-11.8 -2-4.4 -2 2.6 -2 64.8 -2 51.1 -2-15.7 -2-2 -2 9.2 -2 6.7 -2-.1 -2 2.6 -2 11.3 -2 7.9 -2 .6 -2 4.6 -2 1.8 -2-9.9 -2-9.5 -2 2.3 -2 12.3 -2 12.1 -2 2.1 -2-9.2 -2-14.5 -2-9.9 -2-27.8 -2-54 -2-53.9 -2 3.8 -2 6 -2 2.5 -2 4.4 -2 8.3 -2 11.1 -2 13.5 -2 4.7 -2-6.4 -2-5.3 -2-6.9 -2-8.4 -2 3 -2 4.9 -2-8.4 -2-14.4 -2-6.7 -2 .2 -2 2.2 -2 1.8 -2-3.6 -2-5.3 -2 .4 -2 6.2 -2 6.5 -2 2 -2 .5 -2 1 -2 1.5 -2 2.3 -2 1.1 -2 4.9 -2 10.8 -2 6.2 -2 2.8 -2 4.1 -2-1.3 -2-4.9 -2-4.8 -2-7.7 -2-4.1 -2 3.7 -2 1.7 -2-6.2 -2-14.5 -2-16.6 -2-6.6 -2 5.6 -2 8.9 -2 4.1 -2-.8 -2 4.7 -2 16 -2 10.3 -2-6.8 -2-16.3 -2-18.6 -2-11.9 -2-1.7 -2 2.6 -2 2.8 -2 1.6 -2 .1 -2 3.8 -2 12.8 -2 10.9 -2 2.7 -2 .4 -2-.4 -2-1.4 -2-1.2 -2-2.8 -2-7.1 -2-6.8 -2-.3 -2 9.5 -2 10.4 -2 .4 -2-2.6 -2 0 -2 .2 -2 1.5 -2 1 -2-2.4 -2 1.5 -2 8.3 -2 4.6 -2-5.6 -2-12.8 -2 71.2 -2 78 -2 4.4 -2 7.2 -2-3 -2-14.2 -2-7.5 -2 9.3 -2 14.7 -2 7.1 -2 2.3 -2 .2 -2-6 -2-6.8 -2-.5 -2 1.7 -2-4.8 -2-8.9 -2 .6 -2 12.7 -2 12.9 -2 4.2 -2-2.3 -2-2 -2 .6 -2 2.5 -2 1.8 -2-2.6 -2-.1 -2 5.8 -2 2.8 -2-5.1 -2-10.2 -2-5.6 -2 2.2 -2 1.7 -2 .3 -2 2.2 -2 3.7 -2 4.2 -2 4.4 -2 .4 -2-6.8 -2-10.1 -2-6.6 -2-3.2 -2 2 -2 12.1 -2 17.7 -2 6.3 -2-13.4 -2-16.5 -2-94.6 -2-32.1 -2 8.7 -2 5.2 -2 4.2 -2-7.1 -2 65 -2 32.9 -2 .1 -2-.2 -2-4.2 -2 .7 -2 11.2 -2 10.8 -2 2.3 -2-3 -2-5.7 -2-10.7 -2-10.6 -2 2.8 -2 13.5 -2 9.1 -2-5.7 -2-14.3 -2-5.6 -2 5.3 -2 7.2 -2 2.2 -2-9.7 -2-19.8 -2-15.5 -2 .3 -2 13.9 -2 17.4 -2 8.9 -2-6 -2-14.5 -2-8.4 -2 4.2 -2 11 -2 8.4 -2 5 -2 8.7 -2 9.2 -2-1.2 -2-115.8 -2-226.6 -2-3.5 -2 5.1 -2 .3 -2-13 -2 22.2 -2 72.3 -2 5.1 -2 4 -2 2.8 -2 246.5z"/>
<path stroke="#008000" d="M1182 2120.7l.5-75 .5-22.1 .5-129.8 .5-177.3 .5 140.1 .5 54.8 .5-103.9 .5-21.4 .5 26.9 .5-100.8 .5 72.9 .5 15.3 .5 87.3 .5-72.8 .5 71 .5-126.9 .5 205 .5-212.7 .5-27.2 .5 124.2 .5-160.4 .5 67.4 .5 126.4 .5-164.8 .5-78.5 .5 120.3 .5-39.6 .5-13.3 .5 86.5 .5 29.9 .5-36.1 .5-4.9 .5-111.3 .5 56.4 .5 77.5 .5-114.4 .5 92 .5-174 .5 202 .5-104.7 .5 154.9 .5 55.7 .5 21.6 .5 49.7 .5 17.6 .5 59.1 .5 118.1 .5-95.8 .5-35.8 .5 76.6 .5-28 .5 20.1 .5-5.7 .5-43.1 .5-30.8 .5 65 .5 39.6 .5-55.8 .5 18.7 .5 16.4 .5-47.6 .5-7.6 .5 6.1 .5 47.9 .5-14.4 .5-9.9 .5-54.2 .5 105.1 .5-65.2 .5-13.6 .5 28.8 .5-2.5 .5-28.8 .5 25 .5 43.2 .5-46.5 .5-26.5 .5-26.7 .5 2 .5 12.7 .5 9.6 .5-17.6 .5 36.1 .5 8.3 .5-27.8 .5-21 .5 91 .5-5.9 .5-37.1 .5 10.5 .5 1 .5 15.9 .5-9.1 .5-28.2 .5-15.1 .5-15.2 .5 40 .5 39.2 .5-61.2 .5 21.3 .5 10.1 .5-41 .5-60.9 .5 42.3 .5 59.7 .5-37.3 .5 49.1 .5-62.5 .5 53.2 .5-39.1 .5 6.7 .5 51.4 .5 2.2 .5-65.6 .5 74.3 .5-20.9 .5 20.6 .5 2.4 .5-19 .5 25.3 .5-50.5 .5 44.7 .5-107.7 .5 67 .5-18 .5 21.5 .5 45.4 .5-1.8 .5-12.2 .5-29.6 .5-65.8 .5 77.1 .5 .5 .5-21.3 .5 3.8 .5 78.6 .5-16 .5-52.6 .5 45.3 .5-12.5 .5-20.4 .5-23.7 .5 25.3 .5-14.2 .5-60.3 .5 58.7 .5 55.1 .5-100.9 .5 57.8 .5 7.5 .5-46.4 .5 41.9 .5 49.8 .5-53 .5-6.3 .5-1.3 .5 37.5 .5-17.1 .5 7 .5-38.5 .5 8.2 .5 46.6 .5 38.7 .5-24 .5-14.5 .5-53.1 .5 46.7 .5-38.6 .5 63.8 .5-60.2 .5-56.8 .5 137.8 .5-54.9 .5-23 .5 20.3 .5-77.2 .5 41.3 .5-23.5 .5-2.4 .5 3.7 .5 50.9 .5-20 .5-7.4 .5-19.4 .5 7.1 .5 .2 .5 28.8 .5 11.4 .5-18.5 .5-5.5 .5 30.9 .5 3.5 .5-44.8 .5 4.5 .5 33 .5 24.2 .5-15.3 .5-8.9 .5-26.6 .5-74.2 .5-11.8 .5 26.9 .5-39.6 .5 18.8 .5 .3 .5 25.4 .5-84.4 .5 53.9 .5-86.7 .5 59 .5 62.1 .5-92.6 .5 34.2 .5-46.8 .5 64 .5 83.4 .5-157.6 .5 40.5 .5 45.2 .5 18.2 .5-34.7 .5 16 .5-56.9 .5 66.8 .5 5.4 .5 .1 .5 55.3 .5 7 .5-5.3 .5 41.9 .5 51.8 .5-88.1 .5 8 .5 48.8 .5-53.7 .5 26.4 .5 40.1 .5-36.3 .5 16.4 .5 39.3 .5-27.2 .5-66.7 .5 20.3 .5 68.1 .5-61 .5-41.7 .5 54.1 .5-1.3 .5 39.7 .5-44 .5 11.9 .5 15.1 .5-89.4 .5 46.1 .5-2.9 .5 5.5 .5-1.4 .5-6.5 .5 43.9 .5-41.3 .5 58.7 .5-69 .5 13.6 .5-47.3 .5 24.3 .5 98.8 .5-86.2 .5 41.9 .5 18.7 .5-8.1 .5 29.8 .5 8.1 .5-59.7 .5-3.7 .5 41 .5-54.5 .5-32.3 .5 60.5 .5-31.8 .5 5.2 .5-6.3 .5 11.2 .5 15.4 .5-38.4 .5 89.5 .5-132.9 .5 111.9 .5-51.1 .5-13.2 .5 15.2 .5 37.9 .5-42.7 .5 7.9 .5-3.9 .5-20 .5 60.6 .5-14.7 .5-14.9 .5 24.8 .5-2.7 .5-19 .5-15.5 .5 8.6 .5 19.6 .5 22.8 .5-34 .5 24.5 .5-.8 .5-63.6 .5 7.2 .5 83.9 .5-52.6 .5-17 .5 70.5 .5-86.6 .5 79.7 .5-18.8 .5-14.2 .5-38.7 .5 51.1 .5-47.9 .5 40.3 .5-10.5 .5 1.3 .5-35.2 .5-10.7 .5 33.8 .5 26.2 .5-30.1 .5-34.4 .5 57.8 .5-10.1 .5-2 .5-5.5 .5-37.9 .5 17.5 .5 17.5 .5 28 .5-16.5 .5-2 .5 50.8 .5-46.4 .5-32.8 .5 31.3 .5-76.9 .5 70 .5-3.7 .5-42.1 .5 .5 .5 70 .5-33.1 .5-10 .5 32.3 .5-12.3 .5 11.3 .5-45.3 .5 18.2 .5 56.7 .5-54.3 .5-25 .5 32.9 .5-4.7 .5 39.8 .5-64.5 .5 16.1 .5 21.9 .5-11.8 .5-21.5 .5 51.9 .5-102.3 .5 67.9 .5 7.2 .5-48.8 .5 51.7 .5-23.8 .5-13.7 .5 10 .5 67.2 .5-37.9 .5-81.3 .5 79.8 .5-8.9 .5-17 .5 13.3 .5-22.1 .5 43.2 .5-28.5 .5 9.5 .5-22.6 .5 77.9 .5-117.4 .5 60.6 .5-61.5 .5 77.8 .5-41.9 .5 45.5 .5-36.2 .5 79.9 .5-11.1 .5-75.8 .5 59.8 .5-24 .5-14.3 .5-40.2 .5 16 .5 16.9 .5 24.5 .5-66.5 .5 34.9 .5-48.8 .5 71.5 .5-6.7 .5-1 .5 3.9 .5-24.1 .5 36.6 .5-4.1 .5-23.5 .5-4.5 .5 51.6 .5-50.9 .5 33.4 .5-41.7 .5-.3 .5 38 .5 37.9 .5-53.9 .5-7.2 .5 1 .5-66 .5 11.8 .5-38.5 .5-46.2 .5 73.9 .5-75.8 .5-27.2 .5 11.9 .5-13.4 .5 22 .5-53.9 .5 75.4 .5-53.7 .5-7.2 .5 92.3 .5-18 .5-56.9 .5 68.8 .5-21.6 .5-18.6 .5-2.9 .5-26.5 .5 13.8 .5 76.5 .5-69 .5-17.8 .5 36.4 .5-7.2 .5-36.4 .5 19.5 .5-22.3 .5 87.1 .5-37.8 .5-45.7 .5 29.2 .5 43.5 .5-35.9 .5-8.5 .5 8.5 .5-40.3 .5 46.3 .5-52.5 .5 48.2 .5 31.4 .5-47 .5 21.8 .5-37 .5 31.5 .5-41.2 .5-38.4 .5 74.5 .5 15.3 .5-29.1 .5-11.5 .5 16.8 .5 15.8 .5 28.8 .5-20.5 .5-11.6 .5-47.4 .5 3.2 .5-53.7 .5 63.8 .5 10.6 .5 46.9 .5-124 .5 60.8 .5-32 .5 41.5 .5-16.9 .5 95.8 .5-26.9 .5-33.9 .5-.9 .5-73.8 .5 73.4 .5-13.1 .5 35.9 .5-44.8 .5-11.5 .5 70.7 .5-56.8 .5 28.7 .5 12.2 .5 43.4 .5-60.1 .5 7.9 .5 21 .5 9.1 .5-67.9 .5 34.1 .5 40.5 .5-93 .5 66.7 .5-93.5 .5 71.8 .5-15.7 .5 33.3 .5-9.9 .5-12.9 .5 30.3 .5-52.8 .5-18.6 .5-23.7 .5 54.5 .5 64.5 .5-51.8 .5-18.2 .5-73.8 .5 101.6 .5 12.1 .5-66 .5-18.7 .5-13.2 .5-1.7 .5 61.1 .5 21.2 .5-20.1 .5 40 .5-53.3 .5-10.9 .5-.9 .5 7.3 .5 75 .5-53.4 .5 5.8 .5 24.6 .5-77 .5 101.2 .5-106.3 .5 58.2 .5 25.2 .5-39.3 .5 15.4 .5-27.8 .5 1.8 .5 27.4 .5-12.3 .5 11.5 .5 17.2 .5 16.2 .5-12.1 .5-39 .5 36.1 .5-16.7 .5 33.9 .5 13.4 .5-7.7 .5-12.9 .5 5.5 .5-39.2 .5 69.3 .5-19 .5-66 .5 16.1 .5 17.1 .5-2.1 .5-14.4 .5-37.4 .5 71.1 .5-17.5 .5-25.4 .5-2.9 .5-20.9 .5-21.1 .5 54.5 .5 47.1 .5-21.6 .5-26.5 .5 21.9 .5-33.8 .5-50.5 .5-19.3 .5 99.7 .5-71 .5 61.7 .5-28.1 .5 20 .5-13.8 .5 58.2 .5-43.1 .5-10 .5 42.8 .5 12.5 .5-23.1 .5-25.2 .5-43.8 .5 81.3 .5-29.8 .5 5.8 .5 28.4 .5-.1 .5 48 .5-64.9 .5-37.3 .5 66 .5 22.4 .5-47.1 .5-65.4 .5 25.8 .5 45.3 .5 57.5 .5-37.2 .5 5.3 .5-20.2 .5-77 .5 77.6 .5-16.4 .5-48.7 .5 77.1 .5-2.7 .5-18.5 .5 11.5 .5 30.9 .5-85.8 .5 52.4 .5-36.2 .5 59.4 .5-82.1 .5 75.6 .5-24.7 .5-11.1 .5 46.4 .5 11.7 .5-8 .5-33.4 .5 65.2 .5-75.9 .5 36.1 .5-35.7 .5-41 .5 54.2 .5-30.4 .5 28.3 .5 26.6 .5-11.1 .5-1.8 .5 22.3 .5-78.6 .5 2.4 .5 53.7 .5-9.5 .5-51.5 .5-3.9 .5 30 .5 47 .5-82.9 .5 7.8 .5 .7 .5-42 .5 109.7 .5-19.7 .5-56.2 .5 40.3 .5 6.8 .5-18.7 .5-43.2 .5 90.8 .5-51.6 .5 38.8 .5-77.4 .5-24.1 .5 96 .5-85.7 .5 56.5 .5-37.5 .5 42.3 .5-58.9 .5 59.3 .5 55.9 .5-76.8 .5 45.7 .5 3.5 .5-64.2 .5 38.8 .5-30.1 .5-5.2 .5 38.2 .5-13.2 .5 13 .5-30.7 .5 28.9 .5 16.1 .5-27.3 .5 16.1 .5-87.6 .5 78.7 .5-90.1 .5 52.9 .5 28 .5-18.8 .5-32.9 .5 58.8 .5 19.4 .5-49.1 .5 39.3 .5 30.6 .5-71.2 .5-2.4 .5 87.8 .5-5.5 .5-23.9 .5-72.7 .5 133.4 .5-70.6 .5 22.6 .5-24.2 .5-10.1 .5-35.8 .5 6.3 .5 8.8 .5-.8 .5-19 .5 34.8 .5 37.2 .5-36.1 .5 12.6 .5 58.4 .5-129.6 .5 85.7 .5 22 .5-22.3 .5-70.6 .5 42.9 .5 30.5 .5-19.4 .5 33.1 .5-26.3 .5-20.5 .5 11.6 .5-13.8 .5 36.4 .5 27 .5-36.3 .5 21.1 .5-32.5 .5 15.4 .5-2.5 .5-61.8 .5 85.2 .5 7.2 .5-71.9 .5 2 .5 5.1 .5-34.7 .5 9.3 .5 16.7 .5-37.4 .5 22.1 .5 57.5 .5-38.4 .5-12.8 .5 13.4 .5 59.9 .5-30.1 .5-81.5 .5 66.2 .5-2.4 .5-62.9 .5 83.4 .5-38.4 .5-34.4 .5 33 .5-27.6 .5 75.9 .5-27 .5 3.6 .5 9.2 .5 52.1 .5 17.5 .5-38.9 .5-47.9 .5 79.2 .5 14.3 .5 28 .5 105 .5-98.1 .5 37.1 .5-73.3 .5 16.5 .5 .4 .5-1.2 .5 46.5 .5 2.4 .5 59.8 .5-46.2 .5-28.7 .5-57.2 .5 115.4 .5-68.6 .5 16.6 .5 86.1 .5-109.4 .5 41.4 .5-43.9 .5 56.4 .5-20.6 .5 16.7 .5-105.1 .5 74.7 .5-12.3 .5 10.1 .5-96.8 .5 85.3 .5 7.3 .5 26.6 .5 13.1 .5-93.4 .5-20.8 .5 160.7 .5-116.1 .5 94.9 .5 7.6 .5-29.7 .5 14.6 .5-70.7 .5 16.3 .5 31.2 .5-63.8 .5-8.6 .5 15.3 .5-67.5 .5 115.3 .5-33.8 .5 72.7 .5-53.2 .5 57.1 .5-36.8 .5-25.1 .5 31.5 .5-123.5 .5 110.1 .5-52.6 .5-51.2 .5-1.7 .5 94.1 .5-26.8 .5-33 .5-81.1 .5 97.5 .5 27.1 .5-77.8 .5 20.8 .5-20.7 .5 93.5 .5-51.8 .5-22.1 .5-35.4 .5 140.4 .5-116.5 .5 73.3 .5 8.3 .5-56.7 .5 47.4 .5-25.3 .5-50.7 .5-4.4 .5 17.4 .5 40.1 .5-75.3 .5 2.1 .5 12.1 .5-13.2 .5-75.9 .5 114.6 .5-43.8 .5-43.1 .5 24 .5 32 .5-67.6 .5 18.2 .5-7.2 .5-24.6 .5 36.6 .5 8.1 .5-29.8 .5 37.6 .5 5.4 .5-14.9 .5 29.8 .5-62.1 .5 50.9 .5-97.6 .5 143.6 .5-77.4 .5-21 .5 34.1 .5-28.2 .5-3.8 .5 6 .5 20.4 .5-57.1 .5 62.5 .5-37.8 .5 35.2 .5-46.4 .5-8.2 .5 34.1 .5-30.9 .5 15.9 .5 46.5 .5-1.4 .5-41.6 .5 11.9 .5 22.8 .5-37.9 .5-28.7 .5 24.3 .5 69.4 .5 21.5 .5-42.7 .5-55.3 .5 53.4 .5 .9 .5 .5 .5 41.8 .5-22.7 .5 6.5 .5-64.4 .5 13.2 .5 11.4 .5 26.8 .5-27 .5 25.9 .5 10.8 .5-20.2 .5 49.1 .5-67.6 .5 30.6 .5-49.1 .5 27.9 .5 27.9 .5 25.8 .5-44.4 .5 35.6 .5 16.3 .5-58.1 .5 43.1 .5 8.1 .5-54.9 .5 32.2 .5-84.8 .5-3.8 .5 24.5 .5 49.9 .5 12.6 .5-81.9 .5 51.3 .5 2.4 .5-36.5 .5 30.1 .5 43.7 .5-34.1 .5 31.6 .5-6.3 .5-8.9 .5-23.3 .5 12.7 .5-46 .5 74.2 .5 17.7 .5-101.3 .5 2.3 .5 35 .5-43.4 .5 59.1 .5-62.4 .5 115.2 .5-13 .5-42.8 .5-41.4 .5 54.6 .5-54.8 .5-18.5 .5-34.9 .5 36.2 .5 80.7 .5-1.7 .5-27.8 .5-19.8 .5-47.1 .5 30.4 .5 4.9 .5 12.2 .5-23.6 .5 56.5 .5-46 .5 5.2 .5 41.2 .5-3.8 .5 22.9 .5-63 .5 55.1 .5-87.4 .5 46.4 .5-29.9 .5 26.9 .5 46.4 .5-126.2 .5 117.8 .5-6.1 .5-59.5 .5-14.4 .5 39.3 .5-72.5 .5 113.6 .5 21.3 .5-85.8 .5 11.3 .5 44 .5-46.1 .5 6 .5 50.1 .5-26.5 .5 24.4 .5 27.6 .5-80.8 .5 38.2 .5-47 .5 76.1 .5-38 .5 11.8 .5 42.8 .5-100.4 .5 63.4 .5-52 .5 54.4 .5-84.5 .5 46.4 .5-2 .5 54.6 .5-31.2 .5-59.1 .5 14.6 .5 59.1 .5-52 .5 16 .5-26.6 .5 45.8 .5 4.8 .5 38.4 .5-103 .5-1.1 .5 27.6 .5-19.2 .5-41.2 .5 89.4 .5 9.2 .5-87.2 .5 37.9 .5 61.7 .5-114.2 .5 85.6 .5 4.8 .5-25.7 .5 35.5 .5 5.9 .5-66.3 .5 88.8 .5-43.9 .5 61.6 .5-103.3 .5 32.9 .5-10.4 .5 6.5 .5 99.4 .5-94.2 .5 14.7 .5-4.8 .5-13.5 .5-4.6 .5 48 .5-50.9 .5 41.3 .5 9.7 .5-31.6 .5 18.8 .5-39.8 .5 22.4 .5-54.8 .5 28.4 .5 42.1 .5 43.8 .5-28.7 .5 1.3 .5 15.4 .5-52.7 .5 23 .5-1.8 .5-46.2 .5 14.7 .5 64 .5 28.7 .5-31.4 .5-54.9 .5 74.7 .5-57 .5-33 .5 69.8 .5-.7 .5 38 .5-84.4 .5 59.5 .5-57 .5 24.7 .5 38.7 .5-45.5 .5 17.5 .5 15.1 .5-1.1 .5-64.7 .5 81.7 .5-62.9 .5-18.2 .5 26.4 .5 67.4 .5-92.1 .5 54.7 .5-43.4 .5 94.8 .5-138.2 .5 1.9 .5-5.3 .5 46.7 .5 21.8 .5-65.6 .5-26.1 .5 58 .5 63.9 .5-115.2 .5 39.7 .5 73.2 .5-43.1 .5 35.8 .5-29.8 .5 88 .5 25.3 .5 45 .5 23.9 .5-34 .5 29.9 .5-70.6 .5 31.5 .5 45 .5-95.4 .5 22.4 .5 21.4 .5 45.3 .5-5.9 .5-58.1 .5 44.4 .5 39.3 .5-1.2 .5-117.5 .5 48.4 .5 51.1 .5 5.3 .5-59.8 .5 .6 .5 41.2 .5 28.7 .5-79.5 .5-39.2 .5 40.9 .5 42.1 .5-115.8 .5 47.6 .5 50.8 .5-47.2 .5 18.6 .5 17.7 .5-10.9 .5-11.8 .5-14.6 .5 64.2 .5 6.8 .5-1.4 .5-2.9 .5-.8 .5-68.5 .5 28.4 .5 77.1 .5-122.5 .5 17.8 .5 32.4 .5-13.2 .5 70.6 .5-57.8 .5-4.2 .5-9.5 .5 30.7 .5-4 .5 10 .5 5.9 .5 5.7 .5 22.4 .5 52.2 .5-9.9 .5-82.7 .5 67.6 .5-18.4 .5-16.5 .5-16.5 .5 4.2 .5 16.5 .5 51.4 .5-4.9 .5-88.8 .5 73.5 .5-48.4 .5 16.3 .5 40 .5-59.9 .5 22.7 .5 6.6 .5-51.9 .5-31.9 .5 38 .5-21 .5-41.7 .5 90.3 .5 16.3 .5-43.4 .5-81 .5 97.7 .5-52.8 .5-19 .5-9.9 .5 62 .5 24.7 .5-50.3 .5 74.2 .5-116.8 .5 4.4 .5 50.6 .5 56 .5-55.2 .5-8.7 .5 38.4 .5 8.4 .5-49.6 .5-.6 .5 24 .5 42.1 .5-59.4 .5 53 .5-9.1 .5 24.1 .5-53.4 .5 27.8 .5-41.1 .5-22.4 .5 24.9 .5 79.4 .5-128.6 .5 43.3 .5 9.6 .5 8.3 .5 36.6 .5-37.5 .5-3.4 .5 14.9 .5-12.8 .5 25.2 .5-10.4 .5-24.8 .5 40.9 .5 34.8 .5-97.9 .5 3.3 .5-3.5 .5-43.8 .5 79.5 .5-46.8 .5 20.9 .5-39.8 .5-.7 .5 3.7 .5 62.9 .5 88.4 .5-71.1 .5-13.1 .5-12.1 .5 18 .5-11.3 .5 56.3 .5-15.7 .5-1.2 .5 5.9 .5-101.1 .5 46.4 .5 51.1 .5-53.6 .5-30 .5 24.9 .5-9.8 .5 46.4 .5-17.7 .5-19 .5-20.5 .5 51.5 .5-34.9 .5-4.8 .5 10.3 .5-21.6 .5 58.3 .5 5.1 .5-66.9 .5 78.1 .5-17.5 .5-7.5 .5 .8 .5-27.7 .5 20.9 .5-48.7 .5 50.9 .5-4.1 .5-36.6 .5 27.5 .5-40 .5 46.9 .5-.2 .5 41.8 .5-20.6 .5-34.1 .5-53.4 .5 127.5 .5-29.1 .5-55.5 .5 1.6 .5-31.5 .5 8.4 .5-11.4 .5 2.7 .5-35.5 .5 97.9 .5 2 .5 24 .5-60.2 .5-41.8 .5 83.9 .5 12.9 .5-99.9 .5-8.3 .5 9.2 .5 45 .5-36.8 .5 102.2 .5-69 .5-3 .5 78.2 .5-81.1 .5 60.8 .5-46.4 .5 11.2 .5-64.8 .5 52.5 .5 52 .5-4.3 .5-21.8 .5 24.3 .5 18.5 .5-70.9 .5 78 .5-92.4 .5-45.6 .5 43.9 .5-.1 .5 7.1 .5 14.9 .5-7.9 .5-78.5 .5 66.8 .5-49.5 .5 70 .5-1.5 .5 41.1 .5-96.1 .5 125.4 .5-46.3 .5-68.7 .5 52.4 .5 26.7 .5 22.8 .5-18.4 .5-28.4 .5 82.1 .5-76.1 .5-59.4 .5 45.5 .5 64.3 .5-27.3 .5-10.4 .5-15.6 .5 38.1 .5-13.1 .5-32.2 .5 23.2 .5 29.6 .5 43.4 .5-4.3 .5-4.2 .5-11.9 .5-24.2 .5 42.2 .5-61.6 .5-16.4 .5 26.1 .5 51.4 .5-79.1 .5 9.3 .5 71 .5-36.2 .5 10.4 .5-34.7 .5 68 .5-44.5 .5 24.7 .5-44.9 .5-27.8 .5 15.9 .5 .6 .5 14.4 .5-73.1 .5 4.3 .5 92.2 .5-68.8 .5-34.7 .5-57.2 .5 78.8 .5-53.4 .5-42.2 .5-13.7 .5 60.6 .5-57.4 .5-47.2 .5 30.2 .5 27.9 .5-6.9 .5-71.2 .5 67.7 .5-17.6 .5-9.9 .5 9.3 .5 2.7 .5-20.1 .5 .9 .5 42.8 .5-25.6 .5 15.3 .5-16.5 .5-59.9 .5 93.3 .5-34 .5-.4 .5 24.3 .5-34.3 .5 22.3 .5-2.7 .5 21.7 .5-52 .5 20.2 .5 52.5 .5 35.2 .5-108.9 .5-18.8 .5 122.4 .5-66.4 .5 2.6 .5 21.9 .5 14.4 .5-52.8 .5-16.9 .5-.3 .5 17.7 .5-5.6 .5 12.7 .5 4.7 .5 18.2 .5-8.4 .5-36.9 .5 44.5 .5-45.9 .5 58.6 .5 15.4 .5 27.3 .5-36.6 .5 15.1 .5-16 .5 1.9 .5-2.2 .5-41 .5 1.9 .5-22.8 .5 24.2 .5 35.5 .5 45.8 .5-44.9 .5-8.7 .5-12.1 .5 28.4 .5-39.8 .5-13.8 .5 .6 .5-23.4 .5 21.4 .5 15 .5-4.6 .5-7.8 .5-17 .5 11.6 .5 14.1 .5-23.6 .5-11.8 .5 35 .5 24.5 .5-21.2 .5 33.6 .5-36.9 .5 36.9 .5 20.5 .5-55.5 .5 1.5 .5 18.5 .5-44.1 .5-1.7 .5 77.2 .5-33.7 .5 34.9 .5-66.2 .5-17.9"/>
</g>
<rect x="1143.1" y="1579.5" width="857.2" height="638.3" fill="none" stroke="#000" stroke-width="1.9" stroke-linejoin="miter"/>
<path stroke="#000" stroke-width="1.9" d="M1182.1 2217.8v8.4M1286.1 2217.8v8.4M1390 2217.8v8.4M1494 2217.8v8.4M1597.9 2217.8v8.4M1701.9 2217.8v8.4M1805.8 2217.8v8.4M1909.8 2217.8v8.4M1143.1 2112h-8.4M1143.1 2000.2h-8.4M1143.1 1888.3h-8.4M1143.1 1776.5h-8.4M1143.1 1664.6h-8.4"/>
<g style="font-size:24px"><text x="1182.1" y="2253.2" text-anchor="middle">0</text><text x="1286.1" y="2253.2" text-anchor="middle">20</text><text x="1390" y="2253.2" text-anchor="middle">40</text><text x="1494" y="2253.2" text-anchor="middle">60</text><text x="1597.9" y="2253.2" text-anchor="middle">80</text><text x="1701.9" y="2253.2" text-anchor="middle">100</text><text x="1805.8" y="2253.2" text-anchor="middle">120</text><text x="1909.8" y="2253.2" text-anchor="middle">140</text><text x="1126.3" y="2121.2" text-anchor="end">0.4</text><text x="1126.3" y="2009.4" text-anchor="end">0.5</text><text x="1126.3" y="1897.5" text-anchor="end">0.6</text><text x="1126.3" y="1785.7" text-anchor="end">0.7</text><text x="1126.3" y="1673.8" text-anchor="end">0.8</text></g>
<text x="1571.7" y="2286.5" text-anchor="middle" style="font-size:24px">Time (ns)</text>
<text transform="translate(1072.9 1898.7) rotate(-90)" text-anchor="middle" style="font-size:24px">Distance (nm)</text>
<rect x="1389.8" y="1591.5" width="363.8" height="115.1" rx="4.8" fill="#fff" fill-opacity="0.8" stroke="#cccccc" stroke-width="1.9"/>
<path stroke="#ff0000" stroke-width="1.75" d="M1398.8 1610.8h49.3"/>
<text x="1466.6" y="1619.7" style="font-size:24px">1nod_ARG: HEME--ARG</text>
<path stroke="#0000ff" stroke-width="1.75" d="M1398.8 1646.8h49.3"/>
<text x="1466.6" y="1655.8" style="font-size:24px">1nod_CRV: HEME--CRV</text>
<path stroke="#008000" stroke-width="1.75" d="M1398.8 1682.9h49.3"/>
<text x="1466.6" y="1691.8" style="font-size:24px">1nod_TML: HEME--TML</text>
</svg></body></html>
